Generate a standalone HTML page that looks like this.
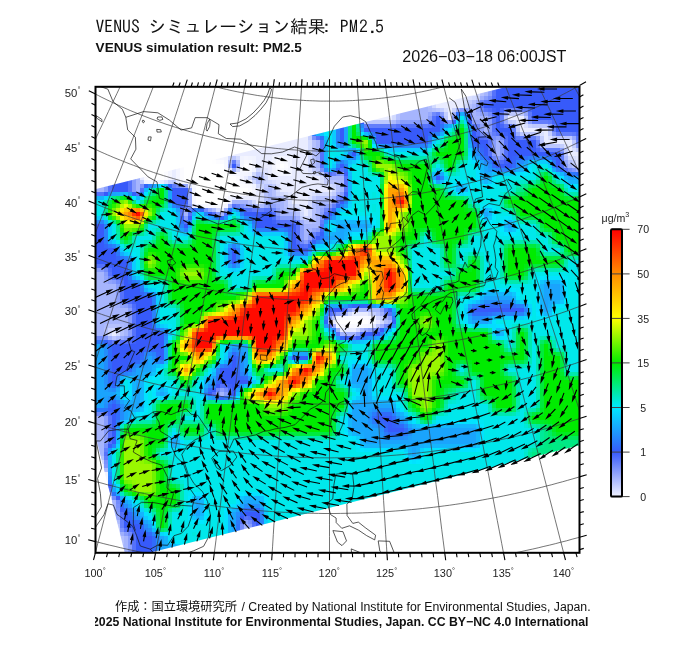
<!DOCTYPE html><html><head><meta charset="utf-8"><style>html,body{margin:0;padding:0;background:#fff}body{width:700px;height:649px;overflow:hidden;position:relative}body>svg{position:absolute;left:0;top:0}</style></head><body>
<svg width="700" height="649" viewBox="0 0 700 649">
<defs><clipPath id="fr"><rect x="95.5" y="86.8" width="484.0" height="466.0"/></clipPath>
<clipPath id="dm"><polygon points="37.4,203.6 700.0,38.8 700.0,415.3 126.2,558.6"/></clipPath></defs>
<g clip-path="url(#fr)"><g clip-path="url(#dm)" shape-rendering="crispEdges"><path fill="#a6b5fd" d="M96 88h8v4h-8zM400 88h28v4h-28zM484 88h4v4h-4zM96 92h8v4h-8zM400 92h28v4h-28zM484 92h4v4h-4zM96 96h8v4h-8zM400 96h28v4h-28zM96 100h8v4h-8zM400 100h28v4h-28zM96 104h8v4h-8zM400 104h28v4h-28zM472 104h4v4h-4zM96 108h8v4h-8zM400 108h28v4h-28zM472 108h4v4h-4zM96 112h8v4h-8zM400 112h28v4h-28zM472 112h4v4h-4zM96 116h8v4h-8zM400 116h28v4h-28zM472 116h16v4h-16zM96 120h8v4h-8zM484 120h4v4h-4zM96 124h8v4h-8zM484 124h4v4h-4zM96 128h8v4h-8zM484 128h4v4h-4zM96 132h8v4h-8zM96 136h8v4h-8zM96 140h8v4h-8zM316 140h4v4h-4zM496 140h4v4h-4zM96 144h8v4h-8zM316 144h4v4h-4zM496 144h4v4h-4zM96 148h8v4h-8zM316 148h4v4h-4zM496 148h4v4h-4zM96 152h8v4h-8zM316 152h4v4h-4zM496 152h4v4h-4zM96 156h8v4h-8zM316 156h4v4h-4zM96 160h8v4h-8zM316 160h4v4h-4zM96 164h8v4h-8zM136 164h4v4h-4zM316 164h4v4h-4zM568 164h4v4h-4zM96 168h8v4h-8zM136 168h4v4h-4zM96 172h8v4h-8zM136 172h4v4h-4zM96 176h8v4h-8zM136 176h4v4h-4zM256 176h4v4h-4zM328 176h16v4h-16zM96 180h8v4h-8zM136 180h4v4h-4zM340 180h4v4h-4zM96 184h8v4h-8zM136 184h4v4h-4zM340 184h4v4h-4zM96 188h8v4h-8zM136 188h4v4h-4zM268 188h4v4h-4zM340 188h4v4h-4zM268 192h4v4h-4zM268 196h4v4h-4zM232 200h16v4h-16zM268 200h16v4h-16zM316 200h16v4h-16zM280 204h4v4h-4zM316 204h4v4h-4zM280 208h4v4h-4zM316 208h4v4h-4zM184 212h4v4h-4zM220 212h4v4h-4zM280 212h16v4h-16zM316 212h4v4h-4zM316 216h4v4h-4zM316 220h4v4h-4zM304 224h16v4h-16zM304 228h4v4h-4zM304 232h4v4h-4zM304 236h4v4h-4zM96 272h8v4h-8zM96 276h8v4h-8zM96 280h8v4h-8zM96 284h20v4h-20zM96 288h20v4h-20zM96 292h20v4h-20zM96 296h20v4h-20zM96 300h20v4h-20zM96 304h20v4h-20zM96 308h32v4h-32zM352 308h28v4h-28zM96 312h32v4h-32zM96 316h32v4h-32zM96 320h32v4h-32zM328 320h4v4h-4zM388 320h4v4h-4zM96 324h8v4h-8zM124 324h4v4h-4zM96 328h8v4h-8zM124 328h4v4h-4zM96 332h8v4h-8zM124 332h4v4h-4zM340 332h16v4h-16zM108 336h4v4h-4zM220 392h4v4h-4zM96 416h8v4h-8zM96 420h8v4h-8zM96 424h8v4h-8zM96 428h8v4h-8zM96 432h8v4h-8zM96 436h8v4h-8zM96 440h8v4h-8zM96 444h8v4h-8zM96 448h8v4h-8zM96 452h8v4h-8zM112 500h4v4h-4zM112 504h4v4h-4zM112 508h4v4h-4zM96 512h20v4h-20zM244 524h4v4h-4zM244 528h4v4h-4zM244 532h4v4h-4zM124 536h4v4h-4zM244 536h4v4h-4zM124 540h4v4h-4zM244 540h4v4h-4zM124 544h4v4h-4zM244 544h4v4h-4zM96 548h32v4h-32zM244 548h4v4h-4zM96 552h32v4h-32zM244 552h4v4h-4z"/>
<path fill="#889dfc" d="M104 88h4v4h-4zM488 88h4v4h-4zM104 92h4v4h-4zM488 92h4v4h-4zM104 96h4v4h-4zM484 96h4v4h-4zM104 100h4v4h-4zM104 104h4v4h-4zM476 104h4v4h-4zM104 108h4v4h-4zM104 112h4v4h-4zM440 112h4v4h-4zM484 112h4v4h-4zM104 116h4v4h-4zM428 116h4v4h-4zM488 116h4v4h-4zM104 120h4v4h-4zM400 120h28v4h-28zM472 120h4v4h-4zM488 120h4v4h-4zM528 120h4v4h-4zM104 124h4v4h-4zM488 124h4v4h-4zM512 124h4v4h-4zM104 128h4v4h-4zM480 128h4v4h-4zM488 128h4v4h-4zM104 132h4v4h-4zM484 132h4v4h-4zM552 132h4v4h-4zM104 136h4v4h-4zM496 136h4v4h-4zM536 136h4v4h-4zM104 140h4v4h-4zM492 140h4v4h-4zM500 140h4v4h-4zM104 144h4v4h-4zM492 144h4v4h-4zM500 144h4v4h-4zM576 144h4v4h-4zM104 148h4v4h-4zM492 148h4v4h-4zM500 148h4v4h-4zM560 148h4v4h-4zM104 152h4v4h-4zM492 152h4v4h-4zM500 152h4v4h-4zM104 156h4v4h-4zM128 156h4v4h-4zM496 156h4v4h-4zM104 160h4v4h-4zM104 164h4v4h-4zM132 164h4v4h-4zM564 164h4v4h-4zM104 168h4v4h-4zM132 168h4v4h-4zM104 172h4v4h-4zM132 172h4v4h-4zM340 172h4v4h-4zM104 176h4v4h-4zM132 176h4v4h-4zM104 180h4v4h-4zM132 180h4v4h-4zM104 184h4v4h-4zM132 184h4v4h-4zM180 184h4v4h-4zM104 188h4v4h-4zM132 188h4v4h-4zM340 192h4v4h-4zM332 200h4v4h-4zM188 204h4v4h-4zM244 204h4v4h-4zM268 204h4v4h-4zM328 204h4v4h-4zM184 208h4v4h-4zM216 212h4v4h-4zM276 212h4v4h-4zM320 212h4v4h-4zM184 216h4v4h-4zM280 216h16v4h-16zM300 224h4v4h-4zM300 228h4v4h-4zM316 228h4v4h-4zM300 232h4v4h-4zM300 236h4v4h-4zM308 236h4v4h-4zM304 240h4v4h-4zM96 268h8v4h-8zM104 272h4v4h-4zM112 280h4v4h-4zM116 284h4v4h-4zM116 288h4v4h-4zM116 292h4v4h-4zM116 296h4v4h-4zM124 304h4v4h-4zM128 308h4v4h-4zM348 308h4v4h-4zM380 308h4v4h-4zM128 312h4v4h-4zM336 312h4v4h-4zM128 316h4v4h-4zM328 316h4v4h-4zM388 316h4v4h-4zM128 320h4v4h-4zM128 324h4v4h-4zM128 328h4v4h-4zM368 328h4v4h-4zM128 332h4v4h-4zM356 332h4v4h-4zM124 336h4v4h-4zM220 388h4v4h-4zM216 392h4v4h-4zM224 392h4v4h-4zM104 416h4v4h-4zM104 420h4v4h-4zM104 424h4v4h-4zM104 428h4v4h-4zM104 432h4v4h-4zM104 436h4v4h-4zM104 440h4v4h-4zM116 512h4v4h-4zM244 520h4v4h-4zM248 524h4v4h-4zM248 528h4v4h-4zM124 532h4v4h-4zM248 532h4v4h-4zM128 536h4v4h-4zM248 536h4v4h-4zM128 540h4v4h-4zM248 540h4v4h-4zM128 544h4v4h-4zM248 544h4v4h-4zM128 548h4v4h-4zM248 548h4v4h-4zM128 552h4v4h-4zM248 552h4v4h-4z"/>
<path fill="#5572fb" d="M108 88h4v4h-4zM492 88h4v4h-4zM108 92h4v4h-4zM492 92h4v4h-4zM108 96h4v4h-4zM108 100h4v4h-4zM484 100h4v4h-4zM108 104h4v4h-4zM480 104h4v4h-4zM108 108h4v4h-4zM484 108h4v4h-4zM108 112h4v4h-4zM108 116h4v4h-4zM432 116h4v4h-4zM468 116h4v4h-4zM492 116h4v4h-4zM108 120h4v4h-4zM492 120h4v4h-4zM108 124h4v4h-4zM396 124h32v4h-32zM472 124h4v4h-4zM492 124h4v4h-4zM108 128h4v4h-4zM476 128h4v4h-4zM492 128h4v4h-4zM108 132h4v4h-4zM496 132h4v4h-4zM108 136h4v4h-4zM316 136h4v4h-4zM484 136h4v4h-4zM108 140h4v4h-4zM320 140h4v4h-4zM488 140h4v4h-4zM504 140h4v4h-4zM108 144h4v4h-4zM320 144h4v4h-4zM488 144h4v4h-4zM504 144h4v4h-4zM108 148h4v4h-4zM320 148h4v4h-4zM488 148h4v4h-4zM504 148h4v4h-4zM108 152h4v4h-4zM320 152h4v4h-4zM488 152h4v4h-4zM504 152h4v4h-4zM108 156h4v4h-4zM320 156h4v4h-4zM108 160h4v4h-4zM320 160h4v4h-4zM496 160h4v4h-4zM560 160h4v4h-4zM108 164h4v4h-4zM128 164h4v4h-4zM320 164h4v4h-4zM560 164h4v4h-4zM108 168h4v4h-4zM128 168h4v4h-4zM340 168h4v4h-4zM564 168h4v4h-4zM108 172h4v4h-4zM128 172h4v4h-4zM328 172h4v4h-4zM108 176h4v4h-4zM128 176h4v4h-4zM344 176h4v4h-4zM108 180h4v4h-4zM128 180h4v4h-4zM344 180h4v4h-4zM108 184h4v4h-4zM128 184h4v4h-4zM344 184h4v4h-4zM108 188h4v4h-4zM128 188h4v4h-4zM140 188h4v4h-4zM344 188h4v4h-4zM96 192h8v4h-8zM136 192h4v4h-4zM340 196h4v4h-4zM336 200h4v4h-4zM184 204h4v4h-4zM232 204h4v4h-4zM244 208h8v4h-8zM264 208h8v4h-8zM328 208h4v4h-4zM180 212h4v4h-4zM188 212h4v4h-4zM212 212h4v4h-4zM224 212h4v4h-4zM272 212h4v4h-4zM324 212h4v4h-4zM184 220h4v4h-4zM280 220h16v4h-16zM296 224h4v4h-4zM320 224h4v4h-4zM296 228h4v4h-4zM296 232h4v4h-4zM316 232h4v4h-4zM296 236h4v4h-4zM312 236h4v4h-4zM304 244h4v4h-4zM96 264h8v4h-8zM108 272h4v4h-4zM112 276h4v4h-4zM120 284h4v4h-4zM120 288h4v4h-4zM120 292h4v4h-4zM120 296h4v4h-4zM124 300h4v4h-4zM132 308h4v4h-4zM344 308h4v4h-4zM384 308h4v4h-4zM132 312h4v4h-4zM328 312h4v4h-4zM388 312h4v4h-4zM132 316h4v4h-4zM132 320h4v4h-4zM132 324h4v4h-4zM328 324h4v4h-4zM388 324h4v4h-4zM132 328h4v4h-4zM132 332h4v4h-4zM336 332h4v4h-4zM360 332h4v4h-4zM352 336h4v4h-4zM120 340h8v4h-8zM220 384h4v4h-4zM212 392h4v4h-4zM228 392h4v4h-4zM108 416h4v4h-4zM108 420h4v4h-4zM108 424h4v4h-4zM108 428h4v4h-4zM108 432h4v4h-4zM108 436h4v4h-4zM108 440h4v4h-4zM104 452h4v4h-4zM108 488h4v4h-4zM120 512h4v4h-4zM120 516h4v4h-4zM244 516h4v4h-4zM252 524h4v4h-4zM124 528h4v4h-4zM252 528h4v4h-4zM252 532h4v4h-4zM132 536h4v4h-4zM252 536h4v4h-4zM132 540h4v4h-4zM252 540h4v4h-4zM132 544h4v4h-4zM252 544h4v4h-4zM132 548h4v4h-4zM252 548h4v4h-4zM132 552h4v4h-4zM252 552h4v4h-4z"/>
<path fill="#375afa" d="M112 88h4v4h-4zM340 88h4v4h-4zM496 88h88v4h-88zM112 92h4v4h-4zM340 92h4v4h-4zM496 92h88v4h-88zM112 96h4v4h-4zM340 96h4v4h-4zM496 96h88v4h-88zM112 100h4v4h-4zM340 100h4v4h-4zM496 100h88v4h-88zM112 104h4v4h-4zM340 104h4v4h-4zM484 104h100v4h-100zM112 108h4v4h-4zM340 108h4v4h-4zM496 108h4v4h-4zM532 108h52v4h-52zM112 112h4v4h-4zM340 112h4v4h-4zM496 112h4v4h-4zM532 112h52v4h-52zM112 116h4v4h-4zM340 116h4v4h-4zM436 116h4v4h-4zM496 116h4v4h-4zM532 116h52v4h-52zM112 120h4v4h-4zM340 120h4v4h-4zM360 120h4v4h-4zM436 120h4v4h-4zM468 120h4v4h-4zM496 120h4v4h-4zM556 120h28v4h-28zM112 124h4v4h-4zM340 124h4v4h-4zM436 124h4v4h-4zM496 124h4v4h-4zM556 124h28v4h-28zM112 128h4v4h-4zM340 128h4v4h-4zM364 128h76v4h-76zM472 128h4v4h-4zM496 128h16v4h-16zM556 128h28v4h-28zM112 132h4v4h-4zM340 132h4v4h-4zM376 132h52v4h-52zM472 132h4v4h-4zM508 132h4v4h-4zM580 132h4v4h-4zM112 136h4v4h-4zM340 136h4v4h-4zM376 136h52v4h-52zM472 136h4v4h-4zM508 136h4v4h-4zM580 136h4v4h-4zM112 140h16v4h-16zM340 140h4v4h-4zM376 140h52v4h-52zM472 140h16v4h-16zM508 140h28v4h-28zM580 140h4v4h-4zM112 144h16v4h-16zM484 144h4v4h-4zM508 144h28v4h-28zM112 148h16v4h-16zM484 148h4v4h-4zM508 148h28v4h-28zM112 152h16v4h-16zM352 152h4v4h-4zM484 152h4v4h-4zM508 152h52v4h-52zM112 156h16v4h-16zM488 156h4v4h-4zM508 156h4v4h-4zM556 156h4v4h-4zM112 160h16v4h-16zM492 160h4v4h-4zM508 160h4v4h-4zM556 160h4v4h-4zM112 164h16v4h-16zM232 164h4v4h-4zM340 164h4v4h-4zM496 164h16v4h-16zM556 164h4v4h-4zM112 168h16v4h-16zM112 172h16v4h-16zM112 176h16v4h-16zM436 176h4v4h-4zM112 180h16v4h-16zM112 184h16v4h-16zM112 188h16v4h-16zM172 188h16v4h-16zM104 192h4v4h-4zM172 192h16v4h-16zM172 196h16v4h-16zM172 200h16v4h-16zM340 200h4v4h-4zM208 212h4v4h-4zM244 212h28v4h-28zM328 212h4v4h-4zM188 216h4v4h-4zM256 216h16v4h-16zM256 220h16v4h-16zM96 224h8v4h-8zM184 224h4v4h-4zM256 224h40v4h-40zM96 228h8v4h-8zM292 228h4v4h-4zM96 232h8v4h-8zM292 232h4v4h-4zM96 236h8v4h-8zM292 236h4v4h-4zM316 236h4v4h-4zM96 240h8v4h-8zM292 240h4v4h-4zM96 244h8v4h-8zM292 244h4v4h-4zM96 248h20v4h-20zM232 248h4v4h-4zM292 248h16v4h-16zM96 252h20v4h-20zM232 252h4v4h-4zM96 256h20v4h-20zM232 256h4v4h-4zM96 260h32v4h-32zM232 260h4v4h-4zM112 264h16v4h-16zM112 268h16v4h-16zM112 272h16v4h-16zM124 276h4v4h-4zM124 280h4v4h-4zM124 284h16v4h-16zM124 288h16v4h-16zM124 292h16v4h-16zM124 296h28v4h-28zM136 300h16v4h-16zM136 304h16v4h-16zM136 308h16v4h-16zM328 308h16v4h-16zM388 308h4v4h-4zM472 308h52v4h-52zM136 312h16v4h-16zM136 316h16v4h-16zM136 320h16v4h-16zM136 324h16v4h-16zM136 328h16v4h-16zM380 328h4v4h-4zM136 332h28v4h-28zM364 332h16v4h-16zM136 336h28v4h-28zM344 336h4v4h-4zM136 340h28v4h-28zM112 344h52v4h-52zM112 348h28v4h-28zM160 348h4v4h-4zM112 352h28v4h-28zM160 352h4v4h-4zM112 356h28v4h-28zM160 356h4v4h-4zM232 356h4v4h-4zM292 356h16v4h-16zM112 360h16v4h-16zM232 360h4v4h-4zM112 364h16v4h-16zM232 364h4v4h-4zM112 368h16v4h-16zM220 368h16v4h-16zM112 372h4v4h-4zM220 372h16v4h-16zM112 376h4v4h-4zM220 376h16v4h-16zM112 380h4v4h-4zM220 380h28v4h-28zM216 384h4v4h-4zM232 384h4v4h-4zM212 388h4v4h-4zM232 388h4v4h-4zM208 392h4v4h-4zM232 392h4v4h-4zM112 404h4v4h-4zM112 408h4v4h-4zM112 412h4v4h-4zM112 416h4v4h-4zM376 416h16v4h-16zM112 420h4v4h-4zM388 420h4v4h-4zM112 424h4v4h-4zM388 424h4v4h-4zM112 428h4v4h-4zM388 428h16v4h-16zM112 432h4v4h-4zM112 436h4v4h-4zM112 440h4v4h-4zM116 496h4v4h-4zM124 512h4v4h-4zM244 512h16v4h-16zM124 516h4v4h-4zM240 516h4v4h-4zM256 516h4v4h-4zM124 520h4v4h-4zM256 520h4v4h-4zM124 524h16v4h-16zM256 524h4v4h-4zM136 528h4v4h-4zM256 528h4v4h-4zM136 532h4v4h-4zM256 532h4v4h-4zM136 536h16v4h-16zM256 536h16v4h-16zM136 540h16v4h-16zM256 540h16v4h-16zM136 544h16v4h-16zM256 544h16v4h-16zM136 548h16v4h-16zM256 548h28v4h-28zM136 552h16v4h-16zM256 552h28v4h-28z"/>
<path fill="#97a9fd" d="M116 88h4v4h-4zM116 92h4v4h-4zM116 96h4v4h-4zM116 100h4v4h-4zM116 104h4v4h-4zM116 108h4v4h-4zM116 112h4v4h-4zM428 112h4v4h-4zM504 112h4v4h-4zM524 112h4v4h-4zM116 116h4v4h-4zM116 120h4v4h-4zM396 120h4v4h-4zM504 120h4v4h-4zM116 124h4v4h-4zM548 124h4v4h-4zM116 128h4v4h-4zM308 132h4v4h-4zM516 132h4v4h-4zM124 136h4v4h-4zM572 136h4v4h-4zM128 140h4v4h-4zM128 144h4v4h-4zM540 144h4v4h-4zM128 148h4v4h-4zM128 152h4v4h-4zM564 160h4v4h-4zM228 164h4v4h-4zM236 164h4v4h-4zM232 168h4v4h-4zM576 168h4v4h-4zM184 184h4v4h-4zM188 188h4v4h-4zM188 192h4v4h-4zM188 196h4v4h-4zM188 200h4v4h-4zM248 204h4v4h-4zM264 204h4v4h-4zM208 208h4v4h-4zM340 312h4v4h-4zM364 328h4v4h-4zM120 336h4v4h-4zM116 516h4v4h-4z"/>
<path fill="#f7f8ff" d="M120 88h4v4h-4zM120 92h4v4h-4zM120 96h4v4h-4zM120 100h4v4h-4zM120 104h4v4h-4zM120 108h4v4h-4zM192 108h4v4h-4zM120 112h4v4h-4zM120 116h4v4h-4zM120 120h4v4h-4zM120 124h4v4h-4zM168 124h4v4h-4zM176 124h4v4h-4zM120 128h4v4h-4zM124 132h4v4h-4zM204 132h4v4h-4zM132 140h4v4h-4zM132 144h4v4h-4zM132 148h4v4h-4zM132 152h4v4h-4zM216 156h4v4h-4zM224 164h4v4h-4zM240 164h4v4h-4zM232 172h4v4h-4zM184 180h4v4h-4zM240 180h4v4h-4zM192 188h4v4h-4zM192 192h4v4h-4zM248 192h4v4h-4zM192 196h4v4h-4zM192 200h4v4h-4zM208 204h4v4h-4zM340 316h4v4h-4zM368 316h4v4h-4zM364 324h4v4h-4zM104 492h4v4h-4z"/>
<path fill="#ffffff" d="M124 88h64v4h-64zM124 92h64v4h-64zM124 96h64v4h-64zM124 100h64v4h-64zM124 104h64v4h-64zM124 108h64v4h-64zM124 112h64v4h-64zM124 116h76v4h-76zM124 120h40v4h-40zM184 120h16v4h-16zM124 124h40v4h-40zM184 124h16v4h-16zM124 128h40v4h-40zM184 128h16v4h-16zM136 132h28v4h-28zM184 132h16v4h-16zM136 136h28v4h-28zM184 136h16v4h-16zM136 140h28v4h-28zM184 140h28v4h-28zM136 144h28v4h-28zM184 144h28v4h-28zM136 148h28v4h-28zM184 148h28v4h-28zM136 152h28v4h-28zM184 152h28v4h-28zM148 156h16v4h-16zM184 156h28v4h-28zM148 160h16v4h-16zM184 160h28v4h-28zM148 164h16v4h-16zM184 164h40v4h-40zM244 164h4v4h-4zM280 164h4v4h-4zM148 168h16v4h-16zM184 168h40v4h-40zM148 172h16v4h-16zM184 172h40v4h-40zM148 176h16v4h-16zM184 176h52v4h-52zM196 180h40v4h-40zM196 184h40v4h-40zM196 188h52v4h-52zM196 192h28v4h-28zM196 196h28v4h-28zM196 200h28v4h-28zM340 320h28v4h-28zM96 476h8v4h-8zM96 480h8v4h-8zM96 484h8v4h-8zM96 488h8v4h-8zM96 492h8v4h-8zM96 496h8v4h-8zM96 500h8v4h-8z"/>
<path fill="#fbfbff" d="M188 88h4v4h-4zM188 92h4v4h-4zM188 96h4v4h-4zM188 100h4v4h-4zM188 104h4v4h-4zM196 112h4v4h-4zM200 116h4v4h-4zM172 120h4v4h-4zM200 120h4v4h-4zM200 124h4v4h-4zM164 128h4v4h-4zM180 128h4v4h-4zM200 128h4v4h-4zM164 132h4v4h-4zM180 132h4v4h-4zM164 136h4v4h-4zM180 136h4v4h-4zM208 136h4v4h-4zM164 140h4v4h-4zM180 140h4v4h-4zM212 140h4v4h-4zM164 144h4v4h-4zM180 144h4v4h-4zM212 144h4v4h-4zM164 148h4v4h-4zM180 148h4v4h-4zM212 148h4v4h-4zM164 152h4v4h-4zM180 152h4v4h-4zM212 152h4v4h-4zM140 156h4v4h-4zM164 156h4v4h-4zM180 156h4v4h-4zM144 160h4v4h-4zM164 160h4v4h-4zM180 160h4v4h-4zM220 160h4v4h-4zM244 160h4v4h-4zM280 160h4v4h-4zM164 164h4v4h-4zM180 164h4v4h-4zM248 164h4v4h-4zM276 164h4v4h-4zM284 164h4v4h-4zM164 168h4v4h-4zM180 168h4v4h-4zM244 168h4v4h-4zM280 168h4v4h-4zM164 172h4v4h-4zM180 172h4v4h-4zM164 176h4v4h-4zM180 176h4v4h-4zM236 176h4v4h-4zM244 184h4v4h-4zM248 188h4v4h-4zM228 192h4v4h-4zM224 196h4v4h-4zM368 320h4v4h-4zM96 472h8v4h-8z"/>
<path fill="#f4f5ff" d="M192 88h4v4h-4zM192 92h4v4h-4zM192 96h4v4h-4zM192 100h4v4h-4zM192 104h4v4h-4zM196 108h4v4h-4zM204 116h4v4h-4zM204 120h4v4h-4zM172 124h4v4h-4zM204 124h4v4h-4zM168 128h4v4h-4zM176 128h4v4h-4zM204 128h4v4h-4zM168 132h4v4h-4zM176 132h4v4h-4zM208 132h4v4h-4zM168 136h4v4h-4zM176 136h4v4h-4zM168 140h4v4h-4zM176 140h4v4h-4zM216 140h4v4h-4zM168 144h4v4h-4zM176 144h4v4h-4zM216 144h4v4h-4zM168 148h4v4h-4zM176 148h4v4h-4zM216 148h4v4h-4zM168 152h4v4h-4zM176 152h4v4h-4zM216 152h4v4h-4zM168 156h4v4h-4zM176 156h4v4h-4zM220 156h4v4h-4zM244 156h4v4h-4zM280 156h4v4h-4zM140 160h4v4h-4zM168 160h4v4h-4zM176 160h4v4h-4zM168 164h4v4h-4zM176 164h4v4h-4zM252 164h4v4h-4zM272 164h4v4h-4zM288 164h4v4h-4zM168 168h4v4h-4zM176 168h4v4h-4zM168 172h4v4h-4zM176 172h4v4h-4zM244 172h4v4h-4zM280 172h4v4h-4zM168 176h4v4h-4zM176 176h4v4h-4zM240 176h4v4h-4zM244 180h4v4h-4zM252 188h4v4h-4zM228 196h4v4h-4zM224 204h4v4h-4zM372 320h4v4h-4zM336 324h4v4h-4zM96 468h8v4h-8zM104 480h4v4h-4z"/>
<path fill="#e9ecff" d="M196 88h100v4h-100zM352 88h40v4h-40zM436 88h40v4h-40zM196 92h100v4h-100zM352 92h40v4h-40zM436 92h40v4h-40zM196 96h100v4h-100zM364 96h28v4h-28zM436 96h28v4h-28zM196 100h100v4h-100zM364 100h28v4h-28zM436 100h28v4h-28zM196 104h100v4h-100zM364 104h28v4h-28zM436 104h28v4h-28zM208 108h88v4h-88zM364 108h28v4h-28zM448 108h4v4h-4zM208 112h88v4h-88zM364 112h28v4h-28zM448 112h4v4h-4zM208 116h100v4h-100zM364 116h28v4h-28zM448 116h4v4h-4zM508 116h16v4h-16zM208 120h100v4h-100zM520 120h4v4h-4zM208 124h100v4h-100zM520 124h4v4h-4zM172 128h4v4h-4zM208 128h100v4h-100zM520 128h28v4h-28zM172 132h4v4h-4zM220 132h88v4h-88zM544 132h4v4h-4zM172 136h4v4h-4zM220 136h88v4h-88zM544 136h4v4h-4zM172 140h4v4h-4zM220 140h88v4h-88zM544 140h28v4h-28zM172 144h4v4h-4zM220 144h88v4h-88zM568 144h4v4h-4zM172 148h4v4h-4zM220 148h88v4h-88zM568 148h4v4h-4zM172 152h4v4h-4zM220 152h88v4h-88zM568 152h16v4h-16zM172 156h4v4h-4zM256 156h16v4h-16zM292 156h16v4h-16zM580 156h4v4h-4zM136 160h4v4h-4zM172 160h4v4h-4zM256 160h16v4h-16zM292 160h16v4h-16zM580 160h4v4h-4zM140 164h4v4h-4zM172 164h4v4h-4zM256 164h16v4h-16zM292 164h16v4h-16zM580 164h4v4h-4zM140 168h4v4h-4zM172 168h4v4h-4zM268 168h4v4h-4zM292 168h16v4h-16zM140 172h4v4h-4zM172 172h4v4h-4zM268 172h4v4h-4zM292 172h16v4h-16zM140 176h4v4h-4zM172 176h4v4h-4zM244 176h4v4h-4zM268 176h52v4h-52zM160 180h4v4h-4zM280 180h40v4h-40zM280 184h40v4h-40zM256 188h4v4h-4zM280 188h52v4h-52zM256 192h4v4h-4zM292 192h16v4h-16zM232 196h28v4h-28zM292 196h16v4h-16zM228 200h4v4h-4zM256 200h4v4h-4zM292 200h16v4h-16zM304 204h4v4h-4zM220 208h4v4h-4zM304 208h4v4h-4zM304 212h4v4h-4zM352 312h16v4h-16zM332 320h4v4h-4zM376 320h4v4h-4zM340 328h16v4h-16zM112 332h4v4h-4zM96 464h8v4h-8zM108 500h4v4h-4zM96 508h8v4h-8zM96 524h20v4h-20zM96 528h20v4h-20zM96 532h20v4h-20zM96 536h20v4h-20z"/>
<path fill="#8197fc" d="M296 88h4v4h-4zM296 92h4v4h-4zM296 96h4v4h-4zM356 96h4v4h-4zM296 100h4v4h-4zM360 100h4v4h-4zM296 104h4v4h-4zM460 108h4v4h-4zM304 112h4v4h-4zM308 116h4v4h-4zM452 116h4v4h-4zM308 120h4v4h-4zM448 120h4v4h-4zM308 124h4v4h-4zM308 128h4v4h-4zM116 132h4v4h-4zM120 136h4v4h-4zM572 168h4v4h-4zM104 336h4v4h-4zM104 464h4v4h-4zM116 508h4v4h-4z"/>
<path fill="#18aafd" d="M300 88h4v4h-4zM300 92h4v4h-4zM300 96h4v4h-4zM300 100h4v4h-4zM300 104h4v4h-4zM304 108h4v4h-4zM460 112h4v4h-4zM312 116h4v4h-4zM456 116h4v4h-4zM312 120h4v4h-4zM312 124h4v4h-4zM448 124h4v4h-4zM312 128h4v4h-4zM440 132h4v4h-4zM428 144h4v4h-4zM516 168h4v4h-4zM552 168h4v4h-4zM440 172h4v4h-4zM116 192h4v4h-4zM336 208h4v4h-4zM240 216h4v4h-4zM344 228h4v4h-4zM336 232h4v4h-4zM324 240h4v4h-4zM116 244h4v4h-4zM312 244h4v4h-4zM140 280h4v4h-4zM548 300h4v4h-4zM376 304h4v4h-4zM468 316h4v4h-4zM228 348h4v4h-4zM140 372h4v4h-4zM204 384h4v4h-4zM360 384h4v4h-4zM116 388h4v4h-4zM132 400h4v4h-4zM360 400h4v4h-4zM368 400h4v4h-4zM128 408h4v4h-4zM116 432h4v4h-4zM360 432h4v4h-4zM408 444h4v4h-4zM416 444h4v4h-4zM108 464h4v4h-4zM116 492h4v4h-4zM120 496h4v4h-4zM260 504h4v4h-4zM164 544h4v4h-4z"/>
<path fill="#00e8eb" d="M304 88h28v4h-28zM304 92h28v4h-28zM304 96h28v4h-28zM304 100h28v4h-28zM304 104h28v4h-28zM316 108h16v4h-16zM316 112h8v4h-8zM328 112h4v4h-4zM316 116h16v4h-16zM460 116h4v4h-4zM316 120h16v4h-16zM316 124h16v4h-16zM316 128h16v4h-16zM448 128h4v4h-4zM328 132h4v4h-4zM444 132h4v4h-4zM328 136h4v4h-4zM440 136h4v4h-4zM328 140h4v4h-4zM436 140h4v4h-4zM328 144h4v4h-4zM432 144h4v4h-4zM328 148h4v4h-4zM428 148h4v4h-4zM328 152h16v4h-16zM388 152h40v4h-40zM328 156h4v4h-4zM328 160h4v4h-4zM328 164h4v4h-4zM352 164h16v4h-16zM436 164h4v4h-4zM460 164h16v4h-16zM532 164h16v4h-16zM352 168h16v4h-16zM440 168h4v4h-4zM460 168h16v4h-16zM532 168h4v4h-4zM548 168h4v4h-4zM352 172h16v4h-16zM444 172h4v4h-4zM460 172h16v4h-16zM532 172h4v4h-4zM552 172h4v4h-4zM352 176h28v4h-28zM448 176h28v4h-28zM496 176h40v4h-40zM556 176h4v4h-4zM352 180h28v4h-28zM448 180h4v4h-4zM472 180h4v4h-4zM496 180h16v4h-16zM352 184h28v4h-28zM448 184h4v4h-4zM472 184h4v4h-4zM496 184h16v4h-16zM148 188h4v4h-4zM352 188h28v4h-28zM448 188h4v4h-4zM472 188h40v4h-40zM568 188h16v4h-16zM352 192h8v4h-8zM364 192h8v4h-8zM376 192h4v4h-4zM472 192h8v4h-8zM484 192h16v4h-16zM352 196h8v4h-8zM364 196h8v4h-8zM376 196h4v4h-4zM472 196h8v4h-8zM484 196h16v4h-16zM96 200h8v4h-8zM136 200h4v4h-4zM352 200h28v4h-28zM472 200h28v4h-28zM96 204h8v4h-8zM352 204h8v4h-8zM364 204h8v4h-8zM376 204h4v4h-4zM496 204h4v4h-4zM96 208h8v4h-8zM352 208h8v4h-8zM364 208h8v4h-8zM376 208h4v4h-4zM496 208h4v4h-4zM96 212h8v4h-8zM160 212h16v4h-16zM196 212h4v4h-4zM232 212h4v4h-4zM340 212h40v4h-40zM496 212h16v4h-16zM160 216h16v4h-16zM236 216h4v4h-4zM376 216h4v4h-4zM496 216h4v4h-4zM160 220h16v4h-16zM240 220h4v4h-4zM376 220h4v4h-4zM496 220h4v4h-4zM112 224h4v4h-4zM148 224h28v4h-28zM244 224h4v4h-4zM328 224h4v4h-4zM376 224h4v4h-4zM484 224h16v4h-16zM520 224h16v4h-16zM112 228h4v4h-4zM148 228h4v4h-4zM172 228h4v4h-4zM244 228h4v4h-4zM484 228h16v4h-16zM520 228h16v4h-16zM112 232h4v4h-4zM148 232h4v4h-4zM172 232h4v4h-4zM244 232h4v4h-4zM484 232h16v4h-16zM520 232h16v4h-16zM112 236h4v4h-4zM136 236h16v4h-16zM172 236h16v4h-16zM220 236h64v4h-64zM352 236h16v4h-16zM424 236h4v4h-4zM472 236h76v4h-76zM116 240h4v4h-4zM136 240h4v4h-4zM220 240h4v4h-4zM244 240h40v4h-40zM424 240h4v4h-4zM472 240h8v4h-8zM484 240h16v4h-16zM544 240h4v4h-4zM120 244h4v4h-4zM136 244h4v4h-4zM220 244h4v4h-4zM244 244h40v4h-40zM424 244h4v4h-4zM472 244h8v4h-8zM484 244h16v4h-16zM544 244h4v4h-4zM124 248h16v4h-16zM220 248h4v4h-4zM244 248h40v4h-40zM316 248h16v4h-16zM412 248h28v4h-28zM460 248h40v4h-40zM544 248h16v4h-16zM136 252h4v4h-4zM220 252h4v4h-4zM244 252h40v4h-40zM412 252h8v4h-8zM424 252h8v4h-8zM436 252h4v4h-4zM460 252h4v4h-4zM484 252h16v4h-16zM136 256h4v4h-4zM220 256h4v4h-4zM244 256h40v4h-40zM412 256h8v4h-8zM424 256h8v4h-8zM436 256h4v4h-4zM460 256h4v4h-4zM484 256h16v4h-16zM136 260h4v4h-4zM220 260h4v4h-4zM244 260h64v4h-64zM412 260h28v4h-28zM460 260h4v4h-4zM484 260h16v4h-16zM568 260h16v4h-16zM136 264h4v4h-4zM220 264h4v4h-4zM244 264h28v4h-28zM412 264h8v4h-8zM424 264h8v4h-8zM436 264h4v4h-4zM484 264h16v4h-16zM568 264h16v4h-16zM136 268h4v4h-4zM220 268h4v4h-4zM244 268h28v4h-28zM412 268h8v4h-8zM424 268h8v4h-8zM436 268h4v4h-4zM484 268h16v4h-16zM568 268h16v4h-16zM136 272h4v4h-4zM220 272h52v4h-52zM412 272h40v4h-40zM484 272h16v4h-16zM532 272h52v4h-52zM140 276h4v4h-4zM232 276h16v4h-16zM412 276h8v4h-8zM424 276h8v4h-8zM436 276h4v4h-4zM484 276h16v4h-16zM532 276h4v4h-4zM568 276h16v4h-16zM144 280h4v4h-4zM232 280h16v4h-16zM412 280h8v4h-8zM424 280h8v4h-8zM436 280h4v4h-4zM484 280h16v4h-16zM532 280h4v4h-4zM568 280h16v4h-16zM148 284h16v4h-16zM232 284h16v4h-16zM412 284h28v4h-28zM484 284h52v4h-52zM568 284h16v4h-16zM160 288h4v4h-4zM520 288h16v4h-16zM568 288h16v4h-16zM160 292h4v4h-4zM520 292h16v4h-16zM568 292h16v4h-16zM160 296h4v4h-4zM460 296h16v4h-16zM520 296h16v4h-16zM568 296h16v4h-16zM160 300h4v4h-4zM460 300h4v4h-4zM532 300h4v4h-4zM568 300h16v4h-16zM160 304h4v4h-4zM460 304h4v4h-4zM532 304h4v4h-4zM568 304h16v4h-16zM160 308h16v4h-16zM460 308h4v4h-4zM532 308h4v4h-4zM556 308h28v4h-28zM160 312h16v4h-16zM460 312h4v4h-4zM532 312h4v4h-4zM556 312h28v4h-28zM160 316h16v4h-16zM460 316h4v4h-4zM532 316h4v4h-4zM556 316h28v4h-28zM160 320h16v4h-16zM460 320h4v4h-4zM496 320h88v4h-88zM172 324h4v4h-4zM508 324h4v4h-4zM532 324h52v4h-52zM172 328h4v4h-4zM508 328h4v4h-4zM532 328h52v4h-52zM172 332h4v4h-4zM328 332h4v4h-4zM388 332h4v4h-4zM508 332h4v4h-4zM532 332h52v4h-52zM508 336h4v4h-4zM532 336h4v4h-4zM556 336h28v4h-28zM508 340h4v4h-4zM532 340h4v4h-4zM556 340h28v4h-28zM220 344h4v4h-4zM352 344h16v4h-16zM508 344h4v4h-4zM532 344h4v4h-4zM556 344h28v4h-28zM220 348h4v4h-4zM352 348h16v4h-16zM532 348h4v4h-4zM568 348h16v4h-16zM220 352h4v4h-4zM352 352h16v4h-16zM532 352h4v4h-4zM568 352h16v4h-16zM220 356h4v4h-4zM340 356h28v4h-28zM532 356h4v4h-4zM568 356h16v4h-16zM532 360h4v4h-4zM568 360h16v4h-16zM532 364h4v4h-4zM568 364h16v4h-16zM160 368h4v4h-4zM208 368h4v4h-4zM268 368h16v4h-16zM376 368h16v4h-16zM460 368h4v4h-4zM508 368h28v4h-28zM568 368h16v4h-16zM160 372h4v4h-4zM376 372h16v4h-16zM520 372h16v4h-16zM160 376h4v4h-4zM376 376h16v4h-16zM520 376h16v4h-16zM124 380h4v4h-4zM148 380h28v4h-28zM196 380h4v4h-4zM256 380h4v4h-4zM340 380h4v4h-4zM376 380h16v4h-16zM472 380h4v4h-4zM520 380h16v4h-16zM124 384h4v4h-4zM148 384h4v4h-4zM172 384h4v4h-4zM196 384h4v4h-4zM376 384h16v4h-16zM472 384h4v4h-4zM520 384h16v4h-16zM124 388h4v4h-4zM148 388h4v4h-4zM172 388h4v4h-4zM196 388h4v4h-4zM376 388h16v4h-16zM472 388h4v4h-4zM520 388h16v4h-16zM124 392h4v4h-4zM148 392h4v4h-4zM172 392h28v4h-28zM352 392h4v4h-4zM376 392h28v4h-28zM460 392h16v4h-16zM520 392h16v4h-16zM148 396h4v4h-4zM196 396h4v4h-4zM400 396h4v4h-4zM460 396h16v4h-16zM520 396h16v4h-16zM148 400h4v4h-4zM196 400h4v4h-4zM400 400h4v4h-4zM460 400h16v4h-16zM520 400h16v4h-16zM148 404h4v4h-4zM196 404h4v4h-4zM400 404h4v4h-4zM448 404h40v4h-40zM520 404h16v4h-16zM148 408h4v4h-4zM196 408h4v4h-4zM448 408h40v4h-40zM520 408h4v4h-4zM148 412h4v4h-4zM196 412h4v4h-4zM448 412h40v4h-40zM520 412h4v4h-4zM136 416h16v4h-16zM184 416h16v4h-16zM340 416h4v4h-4zM412 416h4v4h-4zM436 416h88v4h-88zM340 420h4v4h-4zM484 420h40v4h-40zM340 424h4v4h-4zM484 424h40v4h-40zM172 428h4v4h-4zM208 428h4v4h-4zM340 428h4v4h-4zM484 428h52v4h-52zM208 432h4v4h-4zM340 432h4v4h-4zM484 432h52v4h-52zM208 436h4v4h-4zM340 436h4v4h-4zM484 436h52v4h-52zM184 440h172v4h-172zM484 440h52v4h-52zM184 444h172v4h-172zM484 444h40v4h-40zM184 448h172v4h-172zM484 448h40v4h-40zM112 452h4v4h-4zM160 452h244v4h-244zM424 452h100v4h-100zM112 456h4v4h-4zM172 456h232v4h-232zM424 456h100v4h-100zM112 460h4v4h-4zM172 460h232v4h-232zM424 460h100v4h-100zM112 464h4v4h-4zM172 464h352v4h-352zM112 468h4v4h-4zM172 468h352v4h-352zM112 472h4v4h-4zM172 472h352v4h-352zM112 476h4v4h-4zM172 476h352v4h-352zM184 480h340v4h-340zM184 484h8v4h-8zM196 484h328v4h-328zM184 488h340v4h-340zM184 492h4v4h-4zM208 492h28v4h-28zM268 492h256v4h-256zM184 496h4v4h-4zM208 496h28v4h-28zM268 496h256v4h-256zM136 500h4v4h-4zM184 500h4v4h-4zM208 500h28v4h-28zM268 500h256v4h-256zM184 504h4v4h-4zM208 504h16v4h-16zM268 504h256v4h-256zM184 508h4v4h-4zM208 508h16v4h-16zM268 508h256v4h-256zM148 512h4v4h-4zM172 512h16v4h-16zM208 512h16v4h-16zM268 512h256v4h-256zM172 516h16v4h-16zM208 516h16v4h-16zM268 516h256v4h-256zM172 520h8v4h-8zM184 520h4v4h-4zM208 520h16v4h-16zM268 520h256v4h-256zM172 524h52v4h-52zM268 524h256v4h-256zM172 528h52v4h-52zM280 528h244v4h-244zM172 532h8v4h-8zM184 532h8v4h-8zM196 532h28v4h-28zM280 532h244v4h-244zM172 536h52v4h-52zM280 536h244v4h-244zM184 540h40v4h-40zM292 540h232v4h-232zM184 544h8v4h-8zM196 544h28v4h-28zM292 544h232v4h-232zM184 548h40v4h-40zM292 548h232v4h-232zM184 552h40v4h-40zM292 552h232v4h-232z"/>
<path fill="#0bccfe" d="M332 88h4v4h-4zM332 92h4v4h-4zM332 96h4v4h-4zM332 100h4v4h-4zM332 104h4v4h-4zM332 108h4v4h-4zM332 112h4v4h-4zM332 116h4v4h-4zM332 120h4v4h-4zM332 124h4v4h-4zM332 128h4v4h-4zM444 128h4v4h-4zM332 132h4v4h-4zM332 136h4v4h-4zM436 136h4v4h-4zM332 140h4v4h-4zM432 140h4v4h-4zM340 148h4v4h-4zM388 148h40v4h-40zM468 148h4v4h-4zM344 152h4v4h-4zM340 156h4v4h-4zM352 160h4v4h-4zM476 160h4v4h-4zM532 160h16v4h-16zM332 164h4v4h-4zM348 164h4v4h-4zM548 164h4v4h-4zM436 168h4v4h-4zM496 172h16v4h-16zM556 172h4v4h-4zM444 176h4v4h-4zM156 184h4v4h-4zM348 200h4v4h-4zM172 208h4v4h-4zM340 208h4v4h-4zM200 212h4v4h-4zM236 212h4v4h-4zM336 212h4v4h-4zM96 216h8v4h-8zM244 220h4v4h-4zM328 220h4v4h-4zM108 224h4v4h-4zM176 224h4v4h-4zM248 224h4v4h-4zM108 228h4v4h-4zM108 232h4v4h-4zM184 232h4v4h-4zM256 232h28v4h-28zM108 236h4v4h-4zM284 236h4v4h-4zM112 240h4v4h-4zM232 240h4v4h-4zM284 240h4v4h-4zM284 244h4v4h-4zM316 244h4v4h-4zM120 248h4v4h-4zM224 248h4v4h-4zM240 248h4v4h-4zM284 248h4v4h-4zM312 248h4v4h-4zM124 252h4v4h-4zM224 252h4v4h-4zM240 252h4v4h-4zM224 256h4v4h-4zM240 256h4v4h-4zM292 256h16v4h-16zM132 260h4v4h-4zM224 260h4v4h-4zM240 260h4v4h-4zM132 264h4v4h-4zM132 268h4v4h-4zM232 268h4v4h-4zM132 272h4v4h-4zM136 276h4v4h-4zM144 284h4v4h-4zM148 288h4v4h-4zM156 296h4v4h-4zM156 300h4v4h-4zM472 300h4v4h-4zM520 300h4v4h-4zM156 304h4v4h-4zM156 308h4v4h-4zM464 308h4v4h-4zM528 308h4v4h-4zM156 312h4v4h-4zM156 316h4v4h-4zM496 316h28v4h-28zM156 320h4v4h-4zM160 324h4v4h-4zM168 332h4v4h-4zM384 332h4v4h-4zM364 340h4v4h-4zM224 356h4v4h-4zM220 360h4v4h-4zM160 364h4v4h-4zM212 368h4v4h-4zM124 376h4v4h-4zM120 380h4v4h-4zM252 380h4v4h-4zM200 392h4v4h-4zM120 396h4v4h-4zM396 408h4v4h-4zM408 420h4v4h-4zM112 448h4v4h-4zM132 504h4v4h-4zM236 504h4v4h-4zM264 512h4v4h-4zM144 516h4v4h-4zM264 516h4v4h-4zM264 520h4v4h-4zM264 524h4v4h-4zM268 528h4v4h-4zM276 536h4v4h-4zM280 540h4v4h-4zM288 548h4v4h-4zM288 552h4v4h-4z"/>
<path fill="#2882fb" d="M336 88h4v4h-4zM336 92h4v4h-4zM336 96h4v4h-4zM336 100h4v4h-4zM336 104h4v4h-4zM336 108h4v4h-4zM336 112h4v4h-4zM464 112h4v4h-4zM336 116h4v4h-4zM336 120h4v4h-4zM336 124h4v4h-4zM336 128h4v4h-4zM440 128h4v4h-4zM336 132h4v4h-4zM436 132h4v4h-4zM336 136h4v4h-4zM336 140h4v4h-4zM428 140h4v4h-4zM340 144h4v4h-4zM388 144h40v4h-40zM476 148h4v4h-4zM348 152h4v4h-4zM352 156h4v4h-4zM480 156h4v4h-4zM532 156h16v4h-16zM340 160h4v4h-4zM516 160h4v4h-4zM336 164h4v4h-4zM344 164h4v4h-4zM552 164h4v4h-4zM496 168h16v4h-16zM556 168h4v4h-4zM436 172h4v4h-4zM440 176h4v4h-4zM148 184h4v4h-4zM344 200h4v4h-4zM172 204h4v4h-4zM340 204h4v4h-4zM196 208h4v4h-4zM204 212h4v4h-4zM240 212h4v4h-4zM332 212h4v4h-4zM244 216h4v4h-4zM328 216h4v4h-4zM96 220h8v4h-8zM104 224h4v4h-4zM180 224h4v4h-4zM252 224h4v4h-4zM104 228h4v4h-4zM184 228h4v4h-4zM256 228h28v4h-28zM104 232h4v4h-4zM104 236h4v4h-4zM288 236h4v4h-4zM288 240h4v4h-4zM316 240h4v4h-4zM112 244h4v4h-4zM232 244h4v4h-4zM288 244h4v4h-4zM116 248h4v4h-4zM228 248h4v4h-4zM236 248h4v4h-4zM288 248h4v4h-4zM308 248h4v4h-4zM228 252h4v4h-4zM236 252h4v4h-4zM292 252h16v4h-16zM124 256h4v4h-4zM228 256h4v4h-4zM236 256h4v4h-4zM128 260h4v4h-4zM228 260h4v4h-4zM236 260h4v4h-4zM128 264h4v4h-4zM232 264h4v4h-4zM128 268h4v4h-4zM128 272h4v4h-4zM136 280h4v4h-4zM140 284h4v4h-4zM148 292h4v4h-4zM152 296h4v4h-4zM152 300h4v4h-4zM152 304h4v4h-4zM472 304h4v4h-4zM520 304h4v4h-4zM152 308h4v4h-4zM468 308h4v4h-4zM524 308h4v4h-4zM152 312h4v4h-4zM496 312h28v4h-28zM152 316h4v4h-4zM152 320h4v4h-4zM160 328h4v4h-4zM164 332h4v4h-4zM380 332h4v4h-4zM364 336h4v4h-4zM144 352h4v4h-4zM152 352h4v4h-4zM228 356h4v4h-4zM160 360h4v4h-4zM132 364h4v4h-4zM220 364h4v4h-4zM216 368h4v4h-4zM124 372h4v4h-4zM240 372h4v4h-4zM116 380h4v4h-4zM248 380h4v4h-4zM204 392h4v4h-4zM116 400h4v4h-4zM392 412h4v4h-4zM396 420h4v4h-4zM380 424h4v4h-4zM404 424h4v4h-4zM112 444h4v4h-4zM108 476h4v4h-4zM128 508h4v4h-4zM240 508h4v4h-4zM260 512h4v4h-4zM132 516h4v4h-4zM260 516h4v4h-4zM140 520h4v4h-4zM260 520h4v4h-4zM260 524h4v4h-4zM144 528h4v4h-4zM268 532h4v4h-4zM272 536h4v4h-4zM280 544h4v4h-4zM284 548h4v4h-4zM284 552h4v4h-4z"/>
<path fill="#637efb" d="M344 88h4v4h-4zM344 92h4v4h-4zM508 108h16v4h-16zM436 112h4v4h-4zM440 116h4v4h-4zM500 116h4v4h-4zM528 116h4v4h-4zM532 120h16v4h-16zM364 124h32v4h-32zM508 124h4v4h-4zM512 128h4v4h-4zM552 128h4v4h-4zM492 132h4v4h-4zM556 132h16v4h-16zM488 136h4v4h-4zM520 136h16v4h-16zM536 140h4v4h-4zM576 140h4v4h-4zM580 144h4v4h-4zM544 148h16v4h-16zM560 152h4v4h-4zM560 156h4v4h-4zM128 160h4v4h-4zM232 160h4v4h-4zM332 172h4v4h-4zM172 184h4v4h-4zM236 204h4v4h-4zM332 204h4v4h-4zM188 208h4v4h-4zM252 208h12v4h-12zM320 220h4v4h-4zM308 240h4v4h-4zM332 312h4v4h-4zM376 328h4v4h-4zM112 340h8v4h-8zM104 412h4v4h-4zM104 448h4v4h-4zM104 456h4v4h-4zM120 520h4v4h-4zM120 524h4v4h-4z"/>
<path fill="#bcc7fe" d="M348 88h4v4h-4zM348 92h4v4h-4zM436 108h4v4h-4zM508 112h16v4h-16zM444 116h4v4h-4zM504 116h4v4h-4zM524 116h4v4h-4zM364 120h28v4h-28zM508 120h4v4h-4zM532 124h16v4h-16zM516 128h4v4h-4zM548 128h4v4h-4zM520 132h16v4h-16zM556 136h16v4h-16zM540 140h4v4h-4zM572 140h4v4h-4zM544 144h16v4h-16zM580 148h4v4h-4zM564 152h4v4h-4zM232 156h4v4h-4zM132 160h4v4h-4zM172 180h4v4h-4zM260 180h4v4h-4zM264 184h4v4h-4zM256 204h4v4h-4zM332 316h4v4h-4zM376 324h4v4h-4zM112 336h4v4h-4zM116 524h4v4h-4z"/>
<path fill="#d2dafe" d="M392 88h4v4h-4zM432 88h4v4h-4zM476 88h4v4h-4zM392 92h4v4h-4zM432 92h4v4h-4zM476 92h4v4h-4zM392 96h4v4h-4zM432 96h4v4h-4zM472 96h4v4h-4zM392 100h4v4h-4zM432 100h4v4h-4zM392 104h4v4h-4zM432 104h4v4h-4zM464 104h4v4h-4zM392 108h4v4h-4zM392 112h4v4h-4zM392 116h4v4h-4zM308 140h4v4h-4zM308 144h4v4h-4zM308 148h4v4h-4zM308 152h4v4h-4zM228 156h4v4h-4zM236 156h4v4h-4zM308 156h4v4h-4zM568 156h4v4h-4zM308 160h4v4h-4zM308 164h4v4h-4zM576 164h4v4h-4zM236 168h4v4h-4zM256 168h4v4h-4zM252 172h4v4h-4zM316 172h4v4h-4zM248 176h4v4h-4zM264 176h4v4h-4zM320 176h4v4h-4zM252 180h4v4h-4zM268 180h4v4h-4zM256 184h4v4h-4zM328 184h4v4h-4zM260 188h4v4h-4zM276 188h4v4h-4zM332 188h4v4h-4zM260 192h4v4h-4zM280 192h4v4h-4zM316 192h16v4h-16zM260 196h4v4h-4zM252 200h4v4h-4zM260 200h4v4h-4zM288 200h4v4h-4zM308 200h4v4h-4zM292 204h4v4h-4zM308 204h4v4h-4zM216 208h4v4h-4zM308 208h4v4h-4zM300 212h4v4h-4zM308 212h4v4h-4zM304 216h4v4h-4zM348 312h4v4h-4zM376 316h4v4h-4zM380 320h4v4h-4zM112 328h4v4h-4zM356 328h4v4h-4zM108 332h4v4h-4zM116 332h4v4h-4zM96 460h8v4h-8zM96 520h20v4h-20zM116 536h4v4h-4zM96 540h20v4h-20z"/>
<path fill="#b5c1fd" d="M396 88h4v4h-4zM428 88h4v4h-4zM480 88h4v4h-4zM396 92h4v4h-4zM428 92h4v4h-4zM480 92h4v4h-4zM396 96h4v4h-4zM428 96h4v4h-4zM396 100h4v4h-4zM428 100h4v4h-4zM472 100h4v4h-4zM396 104h4v4h-4zM428 104h4v4h-4zM468 104h4v4h-4zM396 108h4v4h-4zM432 108h4v4h-4zM396 112h4v4h-4zM396 116h4v4h-4zM312 140h4v4h-4zM312 144h4v4h-4zM312 148h4v4h-4zM312 152h4v4h-4zM312 156h4v4h-4zM312 160h4v4h-4zM568 160h4v4h-4zM312 164h4v4h-4zM572 164h4v4h-4zM316 168h4v4h-4zM256 172h4v4h-4zM320 172h4v4h-4zM252 176h4v4h-4zM260 176h4v4h-4zM324 176h4v4h-4zM256 180h4v4h-4zM328 180h8v4h-8zM268 184h4v4h-4zM336 184h4v4h-4zM264 188h4v4h-4zM272 188h4v4h-4zM336 188h4v4h-4zM264 192h4v4h-4zM272 192h4v4h-4zM264 196h4v4h-4zM276 196h8v4h-8zM316 196h16v4h-16zM248 200h4v4h-4zM264 200h4v4h-4zM284 200h4v4h-4zM312 200h4v4h-4zM284 204h4v4h-4zM312 204h4v4h-4zM288 208h8v4h-8zM312 208h4v4h-4zM296 212h4v4h-4zM312 212h4v4h-4zM312 216h4v4h-4zM304 220h8v4h-8zM376 312h4v4h-4zM384 320h4v4h-4zM108 324h12v4h-12zM104 328h4v4h-4zM120 328h4v4h-4zM104 332h4v4h-4zM120 332h4v4h-4zM96 456h8v4h-8zM108 508h4v4h-4zM96 516h20v4h-20zM120 536h4v4h-4zM120 540h4v4h-4zM96 544h24v4h-24z"/>
<path fill="#3e60fa" d="M344 96h4v4h-4zM492 100h4v4h-4zM492 108h4v4h-4zM308 112h4v4h-4zM432 124h4v4h-4zM504 132h4v4h-4zM476 136h4v4h-4zM504 160h4v4h-4zM344 172h4v4h-4zM344 192h4v4h-4zM180 204h4v4h-4zM180 216h4v4h-4zM272 220h4v4h-4zM296 244h4v4h-4zM108 264h4v4h-4zM120 276h4v4h-4zM132 300h4v4h-4zM356 336h4v4h-4zM132 340h4v4h-4zM228 384h4v4h-4zM108 484h4v4h-4zM120 508h4v4h-4zM252 516h4v4h-4zM132 528h4v4h-4z"/>
<path fill="#4d6cfb" d="M348 96h4v4h-4zM492 96h4v4h-4zM488 100h4v4h-4zM488 108h4v4h-4zM492 112h4v4h-4zM432 120h4v4h-4zM440 120h4v4h-4zM428 124h4v4h-4zM476 132h4v4h-4zM500 132h4v4h-4zM116 136h4v4h-4zM480 136h4v4h-4zM504 136h4v4h-4zM504 156h4v4h-4zM500 160h4v4h-4zM180 208h4v4h-4zM272 216h4v4h-4zM276 220h4v4h-4zM296 240h4v4h-4zM300 244h4v4h-4zM104 264h4v4h-4zM108 268h4v4h-4zM116 276h4v4h-4zM120 280h4v4h-4zM128 300h4v4h-4zM132 304h4v4h-4zM132 336h4v4h-4zM108 340h4v4h-4zM128 340h4v4h-4zM224 384h4v4h-4zM228 388h4v4h-4zM248 516h4v4h-4zM252 520h4v4h-4zM128 528h4v4h-4zM132 532h4v4h-4z"/>
<path fill="#5c78fb" d="M352 96h4v4h-4zM360 104h4v4h-4zM360 108h4v4h-4zM504 108h4v4h-4zM524 108h4v4h-4zM360 112h4v4h-4zM500 112h4v4h-4zM528 112h4v4h-4zM360 116h4v4h-4zM500 120h4v4h-4zM548 120h4v4h-4zM504 124h4v4h-4zM552 124h4v4h-4zM512 132h4v4h-4zM572 132h4v4h-4zM516 136h4v4h-4zM576 136h4v4h-4zM536 144h4v4h-4zM540 148h4v4h-4zM240 520h4v4h-4z"/>
<path fill="#c4cefe" d="M360 96h4v4h-4zM476 96h4v4h-4zM468 100h4v4h-4zM440 108h4v4h-4zM444 112h4v4h-4zM512 120h4v4h-4zM524 120h4v4h-4zM516 124h4v4h-4zM528 124h4v4h-4zM536 132h4v4h-4zM548 132h4v4h-4zM308 136h4v4h-4zM540 136h4v4h-4zM552 136h4v4h-4zM560 144h4v4h-4zM572 144h4v4h-4zM564 148h4v4h-4zM576 148h4v4h-4zM572 160h4v4h-4zM312 168h4v4h-4zM260 172h4v4h-4zM140 180h4v4h-4zM168 180h4v4h-4zM324 180h4v4h-4zM272 184h4v4h-4zM332 192h4v4h-4zM284 196h4v4h-4zM312 196h4v4h-4zM296 208h4v4h-4zM300 216h4v4h-4zM372 312h4v4h-4zM380 316h4v4h-4zM108 496h4v4h-4zM116 528h4v4h-4z"/>
<path fill="#e1e6ff" d="M464 96h4v4h-4zM128 136h4v4h-4zM576 156h4v4h-4zM228 168h4v4h-4zM264 168h4v4h-4zM308 172h4v4h-4zM176 180h4v4h-4zM276 180h4v4h-4zM188 184h4v4h-4zM320 184h4v4h-4zM288 192h4v4h-4zM308 192h4v4h-4zM192 204h4v4h-4zM300 204h4v4h-4zM372 324h4v4h-4z"/>
<path fill="#dae0fe" d="M468 96h4v4h-4zM464 100h4v4h-4zM444 108h4v4h-4zM516 120h4v4h-4zM524 124h4v4h-4zM540 132h4v4h-4zM548 136h4v4h-4zM564 144h4v4h-4zM572 148h4v4h-4zM572 156h4v4h-4zM576 160h4v4h-4zM260 168h4v4h-4zM308 168h4v4h-4zM264 172h4v4h-4zM312 172h4v4h-4zM164 180h4v4h-4zM272 180h4v4h-4zM320 180h4v4h-4zM276 184h4v4h-4zM324 184h4v4h-4zM284 192h4v4h-4zM312 192h4v4h-4zM288 196h4v4h-4zM308 196h4v4h-4zM296 204h4v4h-4zM300 208h4v4h-4zM368 312h4v4h-4zM108 504h4v4h-4zM104 508h4v4h-4z"/>
<path fill="#9faffd" d="M480 96h4v4h-4zM476 100h4v4h-4zM296 108h4v4h-4zM456 108h4v4h-4zM468 108h4v4h-4zM300 112h4v4h-4zM452 112h4v4h-4zM476 112h4v4h-4zM480 120h4v4h-4zM580 168h4v4h-4zM336 192h4v4h-4zM332 196h4v4h-4zM228 204h4v4h-4zM276 204h4v4h-4zM320 204h4v4h-4zM224 208h4v4h-4zM296 216h4v4h-4zM300 220h4v4h-4zM308 228h4v4h-4zM104 280h4v4h-4zM116 304h4v4h-4zM380 312h4v4h-4zM384 316h4v4h-4zM332 324h4v4h-4zM380 324h4v4h-4zM336 328h4v4h-4zM120 532h4v4h-4z"/>
<path fill="#728bfc" d="M488 96h4v4h-4zM432 112h4v4h-4zM488 112h4v4h-4zM428 120h4v4h-4zM444 120h4v4h-4zM480 132h4v4h-4zM500 136h4v4h-4zM500 156h4v4h-4zM568 168h4v4h-4zM176 184h4v4h-4zM204 208h4v4h-4zM276 216h4v4h-4zM300 240h4v4h-4zM104 268h4v4h-4zM116 280h4v4h-4zM128 304h4v4h-4zM384 324h4v4h-4zM372 328h4v4h-4zM96 336h8v4h-8zM128 336h4v4h-4zM224 388h4v4h-4zM96 412h8v4h-8zM112 496h4v4h-4zM116 500h4v4h-4zM248 520h4v4h-4zM240 524h4v4h-4zM240 528h4v4h-4zM128 532h4v4h-4zM240 532h4v4h-4zM240 536h4v4h-4zM240 540h4v4h-4zM240 544h4v4h-4zM240 548h4v4h-4zM240 552h4v4h-4z"/>
<path fill="#2587fc" d="M344 100h4v4h-4zM360 124h4v4h-4zM324 168h4v4h-4zM236 516h4v4h-4zM152 532h4v4h-4z"/>
<path fill="#04ddff" d="M348 100h4v4h-4zM516 172h4v4h-4zM432 180h4v4h-4zM324 244h4v4h-4zM464 316h4v4h-4zM488 324h8v4h-8zM492 328h4v4h-4zM224 348h4v4h-4zM200 384h4v4h-4zM120 388h4v4h-4zM264 504h4v4h-4z"/>
<path fill="#00e9c2" d="M352 100h4v4h-4zM356 104h4v4h-4zM356 108h4v4h-4zM356 112h4v4h-4zM356 116h4v4h-4zM464 160h4v4h-4zM524 180h4v4h-4zM468 196h4v4h-4zM476 204h4v4h-4zM504 340h4v4h-4zM248 360h4v4h-4zM344 360h4v4h-4zM152 400h4v4h-4zM164 448h4v4h-4zM120 492h4v4h-4zM168 528h4v4h-4z"/>
<path fill="#12bbfd" d="M356 100h4v4h-4zM364 132h4v4h-4zM372 140h4v4h-4zM344 156h4v4h-4zM356 156h4v4h-4zM348 160h4v4h-4zM528 160h4v4h-4zM348 172h4v4h-4zM440 180h4v4h-4zM124 192h4v4h-4zM348 192h4v4h-4zM168 204h4v4h-4zM176 216h4v4h-4zM336 220h4v4h-4zM308 252h4v4h-4zM476 300h4v4h-4zM516 300h4v4h-4zM324 308h4v4h-4zM492 316h4v4h-4zM356 340h4v4h-4zM212 372h4v4h-4zM244 384h4v4h-4zM236 392h4v4h-4zM204 396h4v4h-4zM116 440h4v4h-4zM152 528h4v4h-4zM156 532h4v4h-4z"/>
<path fill="#6b85fb" d="M480 100h4v4h-4zM480 108h4v4h-4zM468 112h4v4h-4zM476 124h4v4h-4zM492 156h4v4h-4zM336 196h4v4h-4zM272 208h4v4h-4zM324 208h4v4h-4zM296 220h4v4h-4zM312 232h4v4h-4zM108 276h4v4h-4zM120 300h4v4h-4zM384 312h4v4h-4zM216 388h4v4h-4z"/>
<path fill="#1aa4fd" d="M344 104h4v4h-4zM344 108h4v4h-4zM344 112h4v4h-4zM344 116h4v4h-4zM344 120h4v4h-4zM344 124h4v4h-4zM344 128h4v4h-4zM360 128h4v4h-4zM468 128h4v4h-4zM344 132h4v4h-4zM468 132h4v4h-4zM344 136h4v4h-4zM468 136h4v4h-4zM344 140h4v4h-4zM468 140h4v4h-4zM376 144h4v4h-4zM352 148h4v4h-4zM356 152h4v4h-4zM472 152h4v4h-4zM476 156h4v4h-4zM480 160h4v4h-4zM484 164h4v4h-4zM520 164h4v4h-4zM484 168h4v4h-4zM484 172h4v4h-4zM432 176h4v4h-4zM484 176h4v4h-4zM568 176h16v4h-16zM436 180h4v4h-4zM168 188h4v4h-4zM460 188h4v4h-4zM112 192h4v4h-4zM168 192h4v4h-4zM168 196h4v4h-4zM168 200h4v4h-4zM484 212h4v4h-4zM208 216h4v4h-4zM188 224h4v4h-4zM340 224h28v4h-28zM508 224h4v4h-4zM340 228h4v4h-4zM340 232h4v4h-4zM328 236h16v4h-16zM544 284h16v4h-16zM544 288h16v4h-16zM544 292h16v4h-16zM484 296h28v4h-28zM544 296h16v4h-16zM544 300h4v4h-4zM328 304h16v4h-16zM544 304h4v4h-4zM392 308h4v4h-4zM544 308h4v4h-4zM324 312h4v4h-4zM472 320h16v4h-16zM496 332h4v4h-4zM376 336h4v4h-4zM96 344h8v4h-8zM164 344h4v4h-4zM232 344h16v4h-16zM96 348h8v4h-8zM164 348h4v4h-4zM244 348h4v4h-4zM96 352h8v4h-8zM164 352h4v4h-4zM244 352h4v4h-4zM292 352h16v4h-16zM96 356h8v4h-8zM148 356h4v4h-4zM164 356h4v4h-4zM244 356h4v4h-4zM288 356h4v4h-4zM96 360h8v4h-8zM148 360h4v4h-4zM244 360h4v4h-4zM96 364h8v4h-8zM148 364h4v4h-4zM244 364h4v4h-4zM96 368h8v4h-8zM136 368h16v4h-16zM244 368h4v4h-4zM352 368h16v4h-16zM96 372h8v4h-8zM136 372h4v4h-4zM352 372h16v4h-16zM96 376h8v4h-8zM136 376h4v4h-4zM352 376h16v4h-16zM96 380h8v4h-8zM136 380h4v4h-4zM208 380h4v4h-4zM352 380h16v4h-16zM96 384h8v4h-8zM136 384h4v4h-4zM364 384h4v4h-4zM96 388h8v4h-8zM136 388h4v4h-4zM364 388h4v4h-4zM96 392h20v4h-20zM136 392h4v4h-4zM160 392h4v4h-4zM364 392h4v4h-4zM96 396h8v4h-8zM116 396h4v4h-4zM136 396h4v4h-4zM208 396h4v4h-4zM232 396h4v4h-4zM364 396h4v4h-4zM96 400h8v4h-8zM120 400h4v4h-4zM136 400h4v4h-4zM364 400h4v4h-4zM96 404h8v4h-8zM124 404h16v4h-16zM352 404h40v4h-40zM124 408h4v4h-4zM352 408h16v4h-16zM392 408h4v4h-4zM124 412h4v4h-4zM352 412h16v4h-16zM396 412h4v4h-4zM124 416h4v4h-4zM352 416h16v4h-16zM400 416h4v4h-4zM352 420h16v4h-16zM404 420h4v4h-4zM352 424h16v4h-16zM408 424h4v4h-4zM116 428h4v4h-4zM352 428h28v4h-28zM412 428h64v4h-64zM364 432h16v4h-16zM412 432h64v4h-64zM364 436h16v4h-16zM412 436h64v4h-64zM172 440h4v4h-4zM364 440h112v4h-112zM412 444h4v4h-4zM412 448h4v4h-4zM412 452h4v4h-4zM112 488h4v4h-4zM124 500h4v4h-4zM196 500h4v4h-4zM244 500h16v4h-16zM128 504h4v4h-4zM196 504h4v4h-4zM240 504h4v4h-4zM132 508h4v4h-4zM196 508h4v4h-4zM236 508h4v4h-4zM136 512h4v4h-4zM196 512h4v4h-4zM232 512h4v4h-4zM140 516h4v4h-4zM232 516h4v4h-4zM144 520h4v4h-4zM232 520h4v4h-4zM148 524h4v4h-4zM232 524h4v4h-4zM232 528h4v4h-4zM232 532h4v4h-4zM160 536h4v4h-4zM232 536h4v4h-4zM160 540h4v4h-4zM232 540h4v4h-4zM160 544h4v4h-4zM232 544h4v4h-4zM160 548h16v4h-16zM232 548h4v4h-4zM160 552h16v4h-16zM232 552h4v4h-4z"/>
<path fill="#00e985" d="M348 104h4v4h-4zM348 108h4v4h-4zM348 112h4v4h-4zM348 116h4v4h-4zM348 120h4v4h-4zM348 124h4v4h-4zM348 128h4v4h-4zM356 128h4v4h-4zM464 128h4v4h-4zM348 132h4v4h-4zM464 132h4v4h-4zM348 136h4v4h-4zM464 136h4v4h-4zM348 140h4v4h-4zM464 140h4v4h-4zM352 144h4v4h-4zM376 148h4v4h-4zM360 152h4v4h-4zM388 156h4v4h-4zM464 156h4v4h-4zM368 164h4v4h-4zM376 172h4v4h-4zM428 176h4v4h-4zM436 184h4v4h-4zM524 184h4v4h-4zM164 188h4v4h-4zM520 188h4v4h-4zM164 192h4v4h-4zM112 196h4v4h-4zM144 196h4v4h-4zM164 196h4v4h-4zM464 196h4v4h-4zM132 200h4v4h-4zM164 200h4v4h-4zM476 208h4v4h-4zM104 212h4v4h-4zM156 212h4v4h-4zM112 220h4v4h-4zM148 220h4v4h-4zM208 220h4v4h-4zM116 224h4v4h-4zM144 224h4v4h-4zM192 224h4v4h-4zM376 228h4v4h-4zM136 232h4v4h-4zM368 236h4v4h-4zM140 260h4v4h-4zM408 260h4v4h-4zM244 288h4v4h-4zM328 300h16v4h-16zM396 308h4v4h-4zM320 316h4v4h-4zM176 332h4v4h-4zM328 336h4v4h-4zM376 340h4v4h-4zM500 340h4v4h-4zM168 344h4v4h-4zM168 348h4v4h-4zM292 348h16v4h-16zM168 352h4v4h-4zM168 356h4v4h-4zM216 356h4v4h-4zM284 356h4v4h-4zM208 364h4v4h-4zM344 364h4v4h-4zM268 372h4v4h-4zM260 380h4v4h-4zM404 392h4v4h-4zM448 392h4v4h-4zM156 400h4v4h-4zM208 400h4v4h-4zM232 400h4v4h-4zM120 428h4v4h-4zM544 428h4v4h-4zM544 432h4v4h-4zM544 436h4v4h-4zM544 440h40v4h-40zM164 444h4v4h-4zM544 444h4v4h-4zM552 444h8v4h-8zM564 444h8v4h-8zM576 444h8v4h-8zM540 448h44v4h-44zM116 452h4v4h-4zM532 452h52v4h-52zM116 456h4v4h-4zM532 456h4v4h-4zM540 456h8v4h-8zM552 456h8v4h-8zM564 456h8v4h-8zM576 456h8v4h-8zM116 460h4v4h-4zM532 460h52v4h-52zM116 464h4v4h-4zM532 464h52v4h-52zM116 468h4v4h-4zM532 468h4v4h-4zM540 468h8v4h-8zM552 468h8v4h-8zM564 468h8v4h-8zM576 468h8v4h-8zM116 472h4v4h-4zM532 472h52v4h-52zM116 476h4v4h-4zM532 476h52v4h-52zM532 480h4v4h-4zM544 480h4v4h-4zM556 480h4v4h-4zM568 480h4v4h-4zM580 480h4v4h-4zM532 484h4v4h-4zM540 484h8v4h-8zM552 484h8v4h-8zM564 484h8v4h-8zM576 484h8v4h-8zM532 488h52v4h-52zM532 492h4v4h-4zM544 492h4v4h-4zM556 492h4v4h-4zM568 492h4v4h-4zM580 492h4v4h-4zM136 496h4v4h-4zM532 496h4v4h-4zM540 496h8v4h-8zM552 496h8v4h-8zM564 496h8v4h-8zM576 496h8v4h-8zM532 500h52v4h-52zM532 504h4v4h-4zM544 504h4v4h-4zM556 504h4v4h-4zM568 504h4v4h-4zM580 504h4v4h-4zM532 508h4v4h-4zM540 508h8v4h-8zM552 508h8v4h-8zM564 508h8v4h-8zM576 508h8v4h-8zM532 512h52v4h-52zM532 516h4v4h-4zM544 516h4v4h-4zM556 516h4v4h-4zM568 516h4v4h-4zM580 516h4v4h-4zM532 520h4v4h-4zM540 520h8v4h-8zM552 520h8v4h-8zM564 520h8v4h-8zM576 520h8v4h-8zM532 524h52v4h-52zM164 528h4v4h-4zM532 528h4v4h-4zM544 528h4v4h-4zM556 528h4v4h-4zM568 528h4v4h-4zM580 528h4v4h-4zM532 532h4v4h-4zM540 532h8v4h-8zM552 532h8v4h-8zM564 532h8v4h-8zM576 532h8v4h-8zM532 536h52v4h-52zM532 540h4v4h-4zM544 540h4v4h-4zM556 540h4v4h-4zM568 540h4v4h-4zM580 540h4v4h-4zM532 544h4v4h-4zM540 544h8v4h-8zM552 544h8v4h-8zM564 544h8v4h-8zM576 544h8v4h-8zM532 548h52v4h-52zM532 552h52v4h-52z"/>
<path fill="#00eb00" d="M352 104h4v4h-4zM352 108h4v4h-4zM352 112h4v4h-4zM352 116h4v4h-4zM352 120h4v4h-4zM352 124h4v4h-4zM352 128h4v4h-4zM460 128h4v4h-4zM352 132h4v4h-4zM460 132h4v4h-4zM352 136h8v4h-8zM460 136h4v4h-4zM352 140h4v4h-4zM448 140h16v4h-16zM448 144h16v4h-16zM368 148h4v4h-4zM448 148h16v4h-16zM364 152h16v4h-16zM436 152h28v4h-28zM380 156h4v4h-4zM448 156h4v4h-4zM448 160h4v4h-4zM400 164h28v4h-28zM448 164h4v4h-4zM412 168h16v4h-16zM412 172h16v4h-16zM412 176h16v4h-16zM544 176h4v4h-4zM412 180h16v4h-16zM544 180h4v4h-4zM412 184h16v4h-16zM544 184h4v4h-4zM160 188h4v4h-4zM412 188h28v4h-28zM532 188h28v4h-28zM160 192h4v4h-4zM412 192h28v4h-28zM532 192h28v4h-28zM160 196h4v4h-4zM412 196h28v4h-28zM532 196h28v4h-28zM112 200h4v4h-4zM148 200h16v4h-16zM412 200h52v4h-52zM508 200h76v4h-76zM412 204h52v4h-52zM520 204h64v4h-64zM412 208h52v4h-52zM520 208h64v4h-64zM412 212h64v4h-64zM520 212h64v4h-64zM412 216h64v4h-64zM544 216h40v4h-40zM412 220h64v4h-64zM544 220h40v4h-40zM196 224h40v4h-40zM412 224h64v4h-64zM544 224h40v4h-40zM196 228h16v4h-16zM380 228h4v4h-4zM412 228h4v4h-4zM436 228h28v4h-28zM556 228h28v4h-28zM128 232h4v4h-4zM196 232h16v4h-16zM412 232h4v4h-4zM436 232h28v4h-28zM556 232h28v4h-28zM124 236h4v4h-4zM160 236h4v4h-4zM196 236h16v4h-16zM400 236h16v4h-16zM436 236h28v4h-28zM556 236h28v4h-28zM160 240h4v4h-4zM196 240h16v4h-16zM360 240h4v4h-4zM400 240h4v4h-4zM448 240h4v4h-4zM568 240h16v4h-16zM160 244h4v4h-4zM196 244h16v4h-16zM344 244h4v4h-4zM400 244h4v4h-4zM448 244h4v4h-4zM568 244h16v4h-16zM148 248h64v4h-64zM340 248h4v4h-4zM400 248h4v4h-4zM448 248h4v4h-4zM508 248h28v4h-28zM568 248h16v4h-16zM160 252h52v4h-52zM324 252h4v4h-4zM448 252h4v4h-4zM508 252h28v4h-28zM160 256h52v4h-52zM448 256h4v4h-4zM508 256h28v4h-28zM160 260h52v4h-52zM448 260h4v4h-4zM472 260h4v4h-4zM508 260h52v4h-52zM160 264h16v4h-16zM208 264h4v4h-4zM472 264h4v4h-4zM508 264h16v4h-16zM160 268h16v4h-16zM208 268h4v4h-4zM472 268h4v4h-4zM508 268h16v4h-16zM148 272h28v4h-28zM208 272h4v4h-4zM280 272h16v4h-16zM460 272h16v4h-16zM508 272h16v4h-16zM172 276h4v4h-4zM208 276h4v4h-4zM280 276h4v4h-4zM460 276h16v4h-16zM172 280h4v4h-4zM208 280h4v4h-4zM280 280h4v4h-4zM460 280h16v4h-16zM172 284h52v4h-52zM256 284h28v4h-28zM364 284h4v4h-4zM448 284h28v4h-28zM172 288h52v4h-52zM364 288h4v4h-4zM448 288h4v4h-4zM172 292h52v4h-52zM364 292h4v4h-4zM448 292h4v4h-4zM172 296h64v4h-64zM328 296h40v4h-40zM412 296h40v4h-40zM184 300h28v4h-28zM324 300h4v4h-4zM412 300h40v4h-40zM184 304h28v4h-28zM412 304h40v4h-40zM184 308h28v4h-28zM400 308h52v4h-52zM184 312h16v4h-16zM400 312h16v4h-16zM436 312h16v4h-16zM184 316h16v4h-16zM400 316h16v4h-16zM436 316h16v4h-16zM184 320h16v4h-16zM316 320h4v4h-4zM400 320h16v4h-16zM436 320h16v4h-16zM316 324h4v4h-4zM400 324h16v4h-16zM436 324h16v4h-16zM316 328h4v4h-4zM400 328h16v4h-16zM436 328h16v4h-16zM316 332h4v4h-4zM400 332h88v4h-88zM520 332h4v4h-4zM316 336h4v4h-4zM400 336h28v4h-28zM448 336h40v4h-40zM520 336h4v4h-4zM316 340h4v4h-4zM332 340h4v4h-4zM400 340h28v4h-28zM448 340h40v4h-40zM520 340h4v4h-4zM172 344h4v4h-4zM292 344h28v4h-28zM340 344h4v4h-4zM376 344h52v4h-52zM448 344h52v4h-52zM520 344h4v4h-4zM544 344h4v4h-4zM172 348h4v4h-4zM376 348h40v4h-40zM448 348h52v4h-52zM520 348h4v4h-4zM544 348h4v4h-4zM172 352h4v4h-4zM376 352h40v4h-40zM448 352h52v4h-52zM520 352h4v4h-4zM544 352h4v4h-4zM172 356h16v4h-16zM280 356h4v4h-4zM376 356h40v4h-40zM448 356h76v4h-76zM544 356h16v4h-16zM172 360h4v4h-4zM400 360h4v4h-4zM448 360h4v4h-4zM472 360h28v4h-28zM544 360h16v4h-16zM172 364h4v4h-4zM400 364h4v4h-4zM448 364h4v4h-4zM472 364h28v4h-28zM544 364h16v4h-16zM172 368h4v4h-4zM196 368h4v4h-4zM256 368h4v4h-4zM328 368h16v4h-16zM400 368h4v4h-4zM448 368h4v4h-4zM472 368h28v4h-28zM544 368h16v4h-16zM328 372h4v4h-4zM400 372h4v4h-4zM448 372h4v4h-4zM484 372h16v4h-16zM544 372h16v4h-16zM264 376h4v4h-4zM328 376h4v4h-4zM400 376h4v4h-4zM448 376h4v4h-4zM484 376h16v4h-16zM544 376h16v4h-16zM184 380h4v4h-4zM316 380h16v4h-16zM400 380h4v4h-4zM436 380h28v4h-28zM484 380h28v4h-28zM544 380h40v4h-40zM316 384h16v4h-16zM404 384h4v4h-4zM436 384h4v4h-4zM484 384h28v4h-28zM544 384h40v4h-40zM316 388h16v4h-16zM436 388h4v4h-4zM484 388h28v4h-28zM544 388h40v4h-40zM304 392h40v4h-40zM436 392h4v4h-4zM484 392h28v4h-28zM544 392h40v4h-40zM304 396h40v4h-40zM436 396h4v4h-4zM496 396h16v4h-16zM544 396h40v4h-40zM240 400h4v4h-4zM304 400h40v4h-40zM436 400h4v4h-4zM496 400h16v4h-16zM544 400h40v4h-40zM160 404h28v4h-28zM208 404h52v4h-52zM292 404h52v4h-52zM412 404h4v4h-4zM436 404h4v4h-4zM496 404h16v4h-16zM544 404h40v4h-40zM160 408h16v4h-16zM208 408h52v4h-52zM292 408h40v4h-40zM544 408h40v4h-40zM160 412h16v4h-16zM208 412h52v4h-52zM292 412h40v4h-40zM544 412h40v4h-40zM160 416h16v4h-16zM208 416h124v4h-124zM424 416h4v4h-4zM532 416h52v4h-52zM160 420h4v4h-4zM220 420h112v4h-112zM556 420h28v4h-28zM160 424h4v4h-4zM220 424h112v4h-112zM556 424h28v4h-28zM124 428h40v4h-40zM184 428h16v4h-16zM220 428h112v4h-112zM556 428h28v4h-28zM148 432h16v4h-16zM148 436h16v4h-16zM148 440h16v4h-16zM120 444h4v4h-4zM148 444h4v4h-4zM148 448h4v4h-4zM148 452h4v4h-4zM160 464h4v4h-4zM160 468h4v4h-4zM160 472h4v4h-4zM160 476h4v4h-4zM160 480h4v4h-4zM160 484h4v4h-4zM124 488h4v4h-4zM160 488h16v4h-16zM160 492h16v4h-16zM144 496h4v4h-4zM160 496h16v4h-16zM148 500h28v4h-28zM160 504h4v4h-4zM160 508h4v4h-4zM160 512h4v4h-4zM160 516h4v4h-4zM160 520h4v4h-4zM160 524h4v4h-4z"/>
<path fill="#fcfcff" d="M188 108h4v4h-4zM192 112h4v4h-4zM168 120h4v4h-4zM176 120h4v4h-4zM164 124h4v4h-4zM180 124h4v4h-4zM200 132h4v4h-4zM204 136h4v4h-4zM212 156h4v4h-4zM216 160h4v4h-4zM236 180h4v4h-4zM240 184h4v4h-4z"/>
<path fill="#f2f4ff" d="M200 108h4v4h-4zM204 112h4v4h-4zM212 132h4v4h-4zM216 136h4v4h-4zM248 156h4v4h-4zM276 156h4v4h-4zM284 156h4v4h-4zM252 160h4v4h-4zM272 160h4v4h-4zM288 160h4v4h-4zM272 168h4v4h-4zM288 168h4v4h-4zM276 172h4v4h-4zM284 172h4v4h-4zM152 180h4v4h-4zM252 192h4v4h-4z"/>
<path fill="#f1f3ff" d="M204 108h4v4h-4zM120 132h4v4h-4zM216 132h4v4h-4zM224 156h4v4h-4zM240 156h4v4h-4zM252 156h4v4h-4zM272 156h4v4h-4zM288 156h4v4h-4zM252 168h4v4h-4zM248 172h4v4h-4zM272 172h4v4h-4zM288 172h4v4h-4zM144 180h4v4h-4zM156 180h4v4h-4zM248 180h4v4h-4zM252 184h4v4h-4zM372 316h4v4h-4z"/>
<path fill="#2e71fb" d="M300 108h4v4h-4zM456 112h4v4h-4zM440 124h4v4h-4zM372 132h4v4h-4zM320 136h4v4h-4zM524 156h4v4h-4zM344 168h4v4h-4zM576 172h4v4h-4zM344 196h4v4h-4zM176 204h4v4h-4zM180 220h4v4h-4zM480 304h4v4h-4zM512 304h4v4h-4zM488 312h4v4h-4zM360 336h4v4h-4zM216 376h4v4h-4zM236 384h4v4h-4zM104 408h4v4h-4z"/>
<path fill="#0fc0fe" d="M308 108h4v4h-4zM312 112h4v4h-4zM344 148h4v4h-4zM432 172h4v4h-4zM492 172h4v4h-4zM204 216h4v4h-4zM188 228h4v4h-4zM332 240h4v4h-4zM380 336h4v4h-4zM164 360h4v4h-4zM156 364h4v4h-4zM248 372h4v4h-4zM128 376h4v4h-4zM348 376h4v4h-4zM348 412h4v4h-4zM416 424h4v4h-4zM432 424h4v4h-4z"/>
<path fill="#02e2ff" d="M312 108h4v4h-4zM356 148h4v4h-4zM468 156h4v4h-4zM356 160h4v4h-4zM472 160h4v4h-4zM476 164h4v4h-4zM528 164h4v4h-4zM476 168h4v4h-4zM476 172h4v4h-4zM520 172h4v4h-4zM476 176h4v4h-4zM492 176h4v4h-4zM560 176h4v4h-4zM444 180h4v4h-4zM460 180h4v4h-4zM160 184h4v4h-4zM484 184h4v4h-4zM568 184h16v4h-16zM452 188h4v4h-4zM468 188h4v4h-4zM144 192h4v4h-4zM464 192h4v4h-4zM140 196h4v4h-4zM484 204h4v4h-4zM168 208h4v4h-4zM480 208h4v4h-4zM492 212h4v4h-4zM340 216h28v4h-28zM508 216h4v4h-4zM484 220h4v4h-4zM332 224h4v4h-4zM372 224h4v4h-4zM500 224h4v4h-4zM516 224h4v4h-4zM328 228h4v4h-4zM352 232h16v4h-16zM508 232h4v4h-4zM348 236h4v4h-4zM328 244h4v4h-4zM544 276h16v4h-16zM536 284h4v4h-4zM564 284h4v4h-4zM484 288h28v4h-28zM536 288h4v4h-4zM564 288h4v4h-4zM536 292h4v4h-4zM564 292h4v4h-4zM476 296h4v4h-4zM516 296h4v4h-4zM536 296h4v4h-4zM564 296h4v4h-4zM536 300h4v4h-4zM536 304h4v4h-4zM556 304h4v4h-4zM536 308h4v4h-4zM552 308h4v4h-4zM544 316h4v4h-4zM464 320h4v4h-4zM492 320h4v4h-4zM496 324h4v4h-4zM504 332h4v4h-4zM500 336h4v4h-4zM224 344h4v4h-4zM352 360h16v4h-16zM348 364h4v4h-4zM156 368h4v4h-4zM372 368h4v4h-4zM208 372h4v4h-4zM372 372h4v4h-4zM148 376h4v4h-4zM372 376h4v4h-4zM128 380h4v4h-4zM144 380h4v4h-4zM200 380h4v4h-4zM344 380h4v4h-4zM372 380h4v4h-4zM128 384h4v4h-4zM144 384h4v4h-4zM160 384h4v4h-4zM248 384h4v4h-4zM372 384h4v4h-4zM128 388h4v4h-4zM144 388h4v4h-4zM352 388h4v4h-4zM372 388h4v4h-4zM120 392h4v4h-4zM128 392h4v4h-4zM144 392h4v4h-4zM152 392h4v4h-4zM168 392h4v4h-4zM356 392h4v4h-4zM372 392h4v4h-4zM124 396h4v4h-4zM144 396h4v4h-4zM156 396h4v4h-4zM200 396h4v4h-4zM352 396h4v4h-4zM376 396h16v4h-16zM144 400h4v4h-4zM144 404h4v4h-4zM396 404h4v4h-4zM400 408h4v4h-4zM136 412h4v4h-4zM132 416h4v4h-4zM344 416h4v4h-4zM408 416h4v4h-4zM344 420h4v4h-4zM412 420h4v4h-4zM436 420h40v4h-40zM344 424h4v4h-4zM344 428h4v4h-4zM480 428h4v4h-4zM172 432h4v4h-4zM480 432h4v4h-4zM352 436h4v4h-4zM480 436h4v4h-4zM180 440h4v4h-4zM356 440h4v4h-4zM480 440h4v4h-4zM168 444h4v4h-4zM172 448h4v4h-4zM364 448h40v4h-40zM424 448h52v4h-52zM404 452h4v4h-4zM420 452h4v4h-4zM412 460h4v4h-4zM112 480h4v4h-4zM196 492h4v4h-4zM244 492h16v4h-16zM132 500h4v4h-4zM188 500h4v4h-4zM204 500h4v4h-4zM236 500h4v4h-4zM264 500h4v4h-4zM136 504h4v4h-4zM188 504h4v4h-4zM204 504h4v4h-4zM232 504h4v4h-4zM188 508h4v4h-4zM204 508h4v4h-4zM144 512h4v4h-4zM188 512h4v4h-4zM204 512h4v4h-4zM224 512h4v4h-4zM148 516h4v4h-4zM224 516h4v4h-4zM196 520h4v4h-4zM224 520h4v4h-4zM224 524h4v4h-4zM224 528h4v4h-4zM164 532h4v4h-4zM224 532h4v4h-4zM168 536h4v4h-4zM224 536h4v4h-4zM172 540h4v4h-4zM224 540h4v4h-4zM224 544h4v4h-4zM180 548h4v4h-4zM224 548h4v4h-4zM180 552h4v4h-4zM224 552h4v4h-4z"/>
<path fill="#adbbfd" d="M428 108h4v4h-4zM392 120h4v4h-4zM564 156h4v4h-4zM228 160h4v4h-4zM236 160h4v4h-4zM336 180h4v4h-4zM272 196h4v4h-4zM252 204h4v4h-4zM260 204h4v4h-4zM212 208h4v4h-4zM284 208h4v4h-4zM312 220h4v4h-4zM344 312h4v4h-4zM104 324h4v4h-4zM120 324h4v4h-4zM360 328h4v4h-4zM116 336h4v4h-4zM104 468h4v4h-4zM116 520h4v4h-4zM120 544h4v4h-4z"/>
<path fill="#cbd4fe" d="M452 108h4v4h-4zM296 112h4v4h-4zM264 180h4v4h-4zM260 184h4v4h-4zM332 184h4v4h-4zM276 192h4v4h-4zM288 204h4v4h-4zM308 216h4v4h-4zM108 328h4v4h-4zM116 328h4v4h-4zM116 532h4v4h-4zM116 540h4v4h-4z"/>
<path fill="#90a3fc" d="M464 108h4v4h-4zM476 108h4v4h-4zM480 112h4v4h-4zM476 120h4v4h-4zM480 124h4v4h-4zM272 204h4v4h-4zM324 204h4v4h-4zM276 208h4v4h-4zM320 208h4v4h-4zM312 228h4v4h-4zM308 232h4v4h-4zM104 276h4v4h-4zM108 280h4v4h-4zM116 300h4v4h-4zM120 304h4v4h-4z"/>
<path fill="#4666fa" d="M500 108h4v4h-4zM528 108h4v4h-4zM552 120h4v4h-4zM500 124h4v4h-4zM576 132h4v4h-4zM512 136h4v4h-4zM536 148h4v4h-4zM320 228h4v4h-4zM348 336h4v4h-4zM108 412h4v4h-4z"/>
<path fill="#fefeff" d="M188 112h4v4h-4zM164 120h4v4h-4zM180 120h4v4h-4zM200 136h4v4h-4zM144 156h4v4h-4zM212 160h4v4h-4zM236 184h4v4h-4zM224 192h4v4h-4z"/>
<path fill="#f8f9ff" d="M200 112h4v4h-4zM212 136h4v4h-4zM248 160h4v4h-4zM276 160h4v4h-4zM284 160h4v4h-4zM248 168h4v4h-4zM276 168h4v4h-4zM284 168h4v4h-4zM248 184h4v4h-4zM212 204h4v4h-4zM344 316h4v4h-4zM360 324h4v4h-4zM104 496h4v4h-4z"/>
<path fill="#00e8e0" d="M324 112h4v4h-4zM432 168h4v4h-4zM512 180h4v4h-4zM360 192h4v4h-4zM372 192h4v4h-4zM480 192h4v4h-4zM360 196h4v4h-4zM372 196h4v4h-4zM480 196h4v4h-4zM360 204h4v4h-4zM372 204h4v4h-4zM360 208h4v4h-4zM372 208h4v4h-4zM200 216h4v4h-4zM188 232h4v4h-4zM344 240h4v4h-4zM480 240h4v4h-4zM332 244h4v4h-4zM480 244h4v4h-4zM420 252h4v4h-4zM432 252h4v4h-4zM420 256h4v4h-4zM432 256h4v4h-4zM420 264h4v4h-4zM432 264h4v4h-4zM420 268h4v4h-4zM432 268h4v4h-4zM420 276h4v4h-4zM432 276h4v4h-4zM420 280h4v4h-4zM432 280h4v4h-4zM324 304h4v4h-4zM332 336h4v4h-4zM384 336h4v4h-4zM164 364h4v4h-4zM344 376h4v4h-4zM456 400h4v4h-4zM344 412h4v4h-4zM416 420h4v4h-4zM432 420h4v4h-4zM524 444h4v4h-4zM192 484h4v4h-4zM180 520h4v4h-4zM180 532h4v4h-4zM192 532h4v4h-4zM192 544h4v4h-4z"/>
<path fill="#14b5fd" d="M464 116h4v4h-4zM316 132h4v4h-4zM324 140h4v4h-4zM324 144h4v4h-4zM324 148h4v4h-4zM324 152h4v4h-4zM324 156h4v4h-4zM472 156h4v4h-4zM324 160h4v4h-4zM324 164h4v4h-4zM480 164h4v4h-4zM524 164h4v4h-4zM328 168h4v4h-4zM480 168h4v4h-4zM520 168h4v4h-4zM480 172h4v4h-4zM560 172h4v4h-4zM348 176h4v4h-4zM480 176h4v4h-4zM488 176h4v4h-4zM564 176h4v4h-4zM348 180h4v4h-4zM484 180h4v4h-4zM568 180h16v4h-16zM164 184h4v4h-4zM348 184h4v4h-4zM460 184h4v4h-4zM144 188h4v4h-4zM348 188h4v4h-4zM456 188h4v4h-4zM464 188h4v4h-4zM120 192h4v4h-4zM96 196h8v4h-8zM136 196h4v4h-4zM232 208h4v4h-4zM484 208h4v4h-4zM176 212h4v4h-4zM192 212h4v4h-4zM228 212h4v4h-4zM488 212h4v4h-4zM484 216h4v4h-4zM340 220h28v4h-28zM508 220h4v4h-4zM324 224h4v4h-4zM336 224h4v4h-4zM368 224h4v4h-4zM504 224h4v4h-4zM512 224h4v4h-4zM352 228h16v4h-16zM508 228h4v4h-4zM328 232h4v4h-4zM344 236h4v4h-4zM328 240h4v4h-4zM544 280h16v4h-16zM540 284h4v4h-4zM560 284h4v4h-4zM540 288h4v4h-4zM560 288h4v4h-4zM484 292h28v4h-28zM540 292h4v4h-4zM560 292h4v4h-4zM480 296h4v4h-4zM512 296h4v4h-4zM540 296h4v4h-4zM560 296h4v4h-4zM540 300h4v4h-4zM556 300h4v4h-4zM380 304h4v4h-4zM540 304h4v4h-4zM540 308h4v4h-4zM548 308h4v4h-4zM544 312h4v4h-4zM468 320h4v4h-4zM488 320h4v4h-4zM328 328h4v4h-4zM388 328h4v4h-4zM496 328h4v4h-4zM332 332h4v4h-4zM500 332h4v4h-4zM352 340h4v4h-4zM228 344h4v4h-4zM352 364h16v4h-16zM152 368h4v4h-4zM368 368h4v4h-4zM148 372h4v4h-4zM368 372h4v4h-4zM208 376h4v4h-4zM368 376h4v4h-4zM132 380h4v4h-4zM140 380h4v4h-4zM204 380h4v4h-4zM348 380h4v4h-4zM368 380h4v4h-4zM132 384h4v4h-4zM140 384h4v4h-4zM352 384h4v4h-4zM368 384h4v4h-4zM132 388h4v4h-4zM140 388h4v4h-4zM160 388h4v4h-4zM368 388h4v4h-4zM116 392h4v4h-4zM132 392h4v4h-4zM140 392h4v4h-4zM156 392h4v4h-4zM164 392h4v4h-4zM360 392h4v4h-4zM368 392h4v4h-4zM140 396h4v4h-4zM124 400h4v4h-4zM140 400h4v4h-4zM352 400h4v4h-4zM376 400h16v4h-16zM140 404h4v4h-4zM392 404h4v4h-4zM136 408h4v4h-4zM400 412h4v4h-4zM128 416h4v4h-4zM348 416h4v4h-4zM404 416h4v4h-4zM120 420h4v4h-4zM348 420h4v4h-4zM348 424h4v4h-4zM412 424h4v4h-4zM436 424h40v4h-40zM348 428h4v4h-4zM476 428h4v4h-4zM352 432h4v4h-4zM476 432h4v4h-4zM116 436h4v4h-4zM172 436h4v4h-4zM476 436h4v4h-4zM176 440h4v4h-4zM360 440h4v4h-4zM476 440h4v4h-4zM172 444h4v4h-4zM364 444h40v4h-40zM424 444h52v4h-52zM108 452h4v4h-4zM408 452h4v4h-4zM416 452h4v4h-4zM108 456h4v4h-4zM412 456h4v4h-4zM112 484h4v4h-4zM196 496h4v4h-4zM244 496h16v4h-16zM128 500h4v4h-4zM192 500h4v4h-4zM200 500h4v4h-4zM240 500h4v4h-4zM260 500h4v4h-4zM192 504h4v4h-4zM200 504h4v4h-4zM136 508h4v4h-4zM192 508h4v4h-4zM200 508h4v4h-4zM232 508h4v4h-4zM140 512h4v4h-4zM192 512h4v4h-4zM200 512h4v4h-4zM228 512h4v4h-4zM196 516h4v4h-4zM228 516h4v4h-4zM148 520h4v4h-4zM228 520h4v4h-4zM228 524h4v4h-4zM228 528h4v4h-4zM228 532h4v4h-4zM164 536h4v4h-4zM228 536h4v4h-4zM228 540h4v4h-4zM172 544h4v4h-4zM228 544h4v4h-4zM176 548h4v4h-4zM228 548h4v4h-4zM176 552h4v4h-4zM228 552h4v4h-4z"/>
<path fill="#00e9b8" d="M356 120h4v4h-4zM464 124h4v4h-4zM456 168h4v4h-4zM540 168h4v4h-4zM452 172h4v4h-4zM536 172h4v4h-4zM528 180h4v4h-4zM504 192h4v4h-4zM108 196h4v4h-4zM500 196h4v4h-4zM500 204h4v4h-4zM504 208h4v4h-4zM192 220h4v4h-4zM156 228h4v4h-4zM164 228h4v4h-4zM240 228h4v4h-4zM372 228h4v4h-4zM480 228h4v4h-4zM536 228h4v4h-4zM152 232h4v4h-4zM168 232h4v4h-4zM236 232h4v4h-4zM368 232h4v4h-4zM476 232h4v4h-4zM540 232h4v4h-4zM132 240h4v4h-4zM144 240h4v4h-4zM420 240h4v4h-4zM428 240h4v4h-4zM468 240h4v4h-4zM504 240h4v4h-4zM536 240h4v4h-4zM548 240h4v4h-4zM128 244h4v4h-4zM140 244h4v4h-4zM416 244h4v4h-4zM432 244h4v4h-4zM464 244h4v4h-4zM500 244h4v4h-4zM540 244h4v4h-4zM552 244h4v4h-4zM468 252h4v4h-4zM476 252h4v4h-4zM464 256h4v4h-4zM480 256h4v4h-4zM276 264h4v4h-4zM440 264h4v4h-4zM564 264h4v4h-4zM272 268h4v4h-4zM444 268h4v4h-4zM560 268h4v4h-4zM224 276h4v4h-4zM252 276h4v4h-4zM444 276h4v4h-4zM500 276h4v4h-4zM528 276h4v4h-4zM228 280h4v4h-4zM248 280h4v4h-4zM440 280h4v4h-4zM504 280h4v4h-4zM524 280h4v4h-4zM164 300h4v4h-4zM168 304h4v4h-4zM392 304h4v4h-4zM516 324h4v4h-4zM524 324h4v4h-4zM512 328h4v4h-4zM528 328h4v4h-4zM540 336h4v4h-4zM548 336h4v4h-4zM536 340h4v4h-4zM552 340h4v4h-4zM348 348h4v4h-4zM560 348h4v4h-4zM344 352h4v4h-4zM564 352h4v4h-4zM308 356h4v4h-4zM304 360h4v4h-4zM528 360h4v4h-4zM524 364h4v4h-4zM164 372h4v4h-4zM512 372h4v4h-4zM168 376h4v4h-4zM516 376h4v4h-4zM176 384h4v4h-4zM192 384h4v4h-4zM392 384h4v4h-4zM468 384h4v4h-4zM180 388h4v4h-4zM188 388h4v4h-4zM396 388h4v4h-4zM464 388h4v4h-4zM188 396h4v4h-4zM476 396h4v4h-4zM192 400h4v4h-4zM480 400h4v4h-4zM192 408h4v4h-4zM444 408h4v4h-4zM488 408h4v4h-4zM516 408h4v4h-4zM528 408h4v4h-4zM188 412h4v4h-4zM440 412h4v4h-4zM492 412h4v4h-4zM512 412h4v4h-4zM524 412h4v4h-4zM524 420h4v4h-4zM528 424h4v4h-4zM204 432h4v4h-4zM212 432h4v4h-4zM336 432h4v4h-4zM200 436h4v4h-4zM216 436h4v4h-4zM332 436h4v4h-4zM536 444h4v4h-4zM116 448h4v4h-4zM164 456h4v4h-4zM168 460h4v4h-4zM176 480h4v4h-4zM180 484h4v4h-4zM180 504h4v4h-4zM176 508h4v4h-4zM156 528h4v4h-4z"/>
<path fill="#3560fa" d="M452 120h4v4h-4zM480 144h4v4h-4zM512 156h4v4h-4zM336 168h4v4h-4zM132 192h4v4h-4zM240 208h4v4h-4zM324 216h4v4h-4zM320 232h4v4h-4zM140 348h4v4h-4zM156 348h4v4h-4zM128 360h4v4h-4zM236 376h4v4h-4zM108 408h4v4h-4zM384 420h4v4h-4zM392 424h4v4h-4zM108 444h4v4h-4zM128 520h4v4h-4zM140 532h4v4h-4z"/>
<path fill="#07d7fe" d="M456 120h4v4h-4zM464 120h4v4h-4zM452 124h4v4h-4zM332 144h4v4h-4zM336 148h4v4h-4zM468 152h4v4h-4zM336 156h4v4h-4zM332 160h4v4h-4zM460 192h4v4h-4zM104 196h4v4h-4zM348 204h4v4h-4zM344 208h4v4h-4zM480 212h4v4h-4zM192 216h4v4h-4zM176 228h4v4h-4zM248 228h4v4h-4zM368 228h4v4h-4zM180 232h4v4h-4zM252 232h4v4h-4zM228 240h4v4h-4zM236 240h4v4h-4zM340 240h4v4h-4zM224 244h4v4h-4zM240 244h4v4h-4zM128 252h4v4h-4zM284 252h4v4h-4zM132 256h4v4h-4zM288 256h4v4h-4zM224 264h4v4h-4zM240 264h4v4h-4zM228 268h4v4h-4zM236 268h4v4h-4zM152 288h4v4h-4zM156 292h4v4h-4zM468 300h4v4h-4zM524 300h4v4h-4zM384 304h4v4h-4zM464 304h4v4h-4zM528 304h4v4h-4zM528 312h4v4h-4zM524 316h4v4h-4zM164 324h4v4h-4zM472 324h16v4h-16zM168 328h4v4h-4zM492 332h4v4h-4zM496 336h4v4h-4zM248 368h4v4h-4zM348 368h4v4h-4zM160 396h4v4h-4zM348 404h4v4h-4zM124 420h4v4h-4zM424 424h4v4h-4zM168 440h4v4h-4zM116 444h4v4h-4zM116 488h4v4h-4zM124 496h4v4h-4zM152 524h4v4h-4zM272 528h4v4h-4zM160 532h4v4h-4zM276 532h4v4h-4zM284 540h4v4h-4zM288 544h4v4h-4z"/>
<path fill="#00e9ad" d="M460 120h4v4h-4zM452 128h4v4h-4zM448 132h4v4h-4zM440 140h4v4h-4zM436 144h4v4h-4zM380 148h4v4h-4zM384 152h4v4h-4zM428 152h4v4h-4zM400 156h28v4h-28zM364 160h4v4h-4zM436 160h4v4h-4zM460 160h4v4h-4zM432 164h4v4h-4zM440 164h4v4h-4zM456 164h4v4h-4zM544 168h4v4h-4zM448 172h4v4h-4zM536 176h4v4h-4zM552 176h4v4h-4zM532 180h4v4h-4zM556 180h4v4h-4zM516 184h4v4h-4zM152 188h4v4h-4zM444 188h4v4h-4zM564 188h4v4h-4zM148 192h4v4h-4zM448 192h4v4h-4zM508 192h4v4h-4zM568 192h16v4h-16zM104 200h4v4h-4zM140 200h4v4h-4zM468 200h4v4h-4zM500 200h4v4h-4zM472 204h4v4h-4zM160 208h4v4h-4zM508 208h4v4h-4zM512 212h4v4h-4zM196 216h4v4h-4zM232 216h4v4h-4zM220 220h4v4h-4zM520 220h16v4h-16zM240 224h4v4h-4zM480 224h4v4h-4zM536 224h4v4h-4zM160 228h4v4h-4zM220 232h16v4h-16zM424 232h4v4h-4zM472 232h4v4h-4zM544 232h4v4h-4zM116 236h4v4h-4zM132 236h4v4h-4zM152 236h4v4h-4zM168 236h4v4h-4zM188 236h4v4h-4zM216 236h4v4h-4zM420 236h4v4h-4zM428 236h4v4h-4zM468 236h4v4h-4zM548 236h4v4h-4zM148 240h4v4h-4zM172 240h16v4h-16zM216 240h4v4h-4zM508 240h28v4h-28zM124 244h4v4h-4zM216 244h4v4h-4zM412 244h4v4h-4zM436 244h4v4h-4zM460 244h4v4h-4zM556 244h4v4h-4zM140 248h4v4h-4zM216 248h4v4h-4zM332 248h4v4h-4zM408 248h4v4h-4zM440 248h4v4h-4zM456 248h4v4h-4zM500 248h4v4h-4zM540 248h4v4h-4zM560 248h4v4h-4zM216 252h4v4h-4zM440 252h4v4h-4zM456 252h4v4h-4zM472 252h4v4h-4zM500 252h4v4h-4zM544 252h16v4h-16zM216 256h4v4h-4zM440 256h4v4h-4zM456 256h4v4h-4zM500 256h4v4h-4zM568 256h16v4h-16zM216 260h4v4h-4zM440 260h4v4h-4zM456 260h4v4h-4zM464 260h4v4h-4zM480 260h4v4h-4zM500 260h4v4h-4zM564 260h4v4h-4zM216 264h4v4h-4zM280 264h16v4h-16zM460 264h4v4h-4zM480 264h4v4h-4zM500 264h4v4h-4zM216 268h4v4h-4zM448 268h4v4h-4zM480 268h4v4h-4zM500 268h4v4h-4zM532 268h28v4h-28zM140 272h4v4h-4zM216 272h4v4h-4zM272 272h4v4h-4zM452 272h4v4h-4zM480 272h4v4h-4zM500 272h4v4h-4zM528 272h4v4h-4zM220 276h4v4h-4zM256 276h16v4h-16zM448 276h4v4h-4zM480 276h4v4h-4zM148 280h16v4h-16zM480 280h4v4h-4zM508 280h16v4h-16zM164 284h4v4h-4zM228 284h4v4h-4zM248 284h4v4h-4zM440 284h4v4h-4zM480 284h4v4h-4zM164 288h4v4h-4zM232 288h4v4h-4zM412 288h28v4h-28zM164 292h4v4h-4zM460 292h16v4h-16zM164 296h4v4h-4zM456 296h4v4h-4zM352 300h16v4h-16zM456 300h4v4h-4zM172 304h4v4h-4zM456 304h4v4h-4zM176 308h4v4h-4zM456 308h4v4h-4zM176 312h4v4h-4zM456 312h4v4h-4zM176 316h4v4h-4zM456 316h4v4h-4zM176 320h4v4h-4zM320 320h4v4h-4zM396 320h4v4h-4zM456 320h4v4h-4zM460 324h4v4h-4zM520 324h4v4h-4zM324 332h4v4h-4zM392 332h4v4h-4zM512 332h4v4h-4zM528 332h4v4h-4zM172 336h4v4h-4zM388 336h4v4h-4zM512 336h4v4h-4zM528 336h4v4h-4zM544 336h4v4h-4zM168 340h4v4h-4zM340 340h4v4h-4zM372 340h4v4h-4zM512 340h4v4h-4zM528 340h4v4h-4zM348 344h4v4h-4zM368 344h4v4h-4zM504 344h4v4h-4zM512 344h4v4h-4zM528 344h4v4h-4zM536 344h4v4h-4zM552 344h4v4h-4zM368 348h4v4h-4zM508 348h4v4h-4zM528 348h4v4h-4zM536 348h4v4h-4zM556 348h4v4h-4zM340 352h4v4h-4zM368 352h4v4h-4zM528 352h4v4h-4zM536 352h4v4h-4zM368 356h4v4h-4zM528 356h4v4h-4zM536 356h4v4h-4zM564 356h4v4h-4zM340 360h4v4h-4zM536 360h4v4h-4zM564 360h4v4h-4zM280 364h4v4h-4zM376 364h16v4h-16zM460 364h4v4h-4zM508 364h16v4h-16zM536 364h4v4h-4zM564 364h4v4h-4zM164 368h4v4h-4zM204 368h4v4h-4zM264 368h4v4h-4zM392 368h4v4h-4zM456 368h4v4h-4zM464 368h4v4h-4zM504 368h4v4h-4zM536 368h4v4h-4zM564 368h4v4h-4zM392 372h4v4h-4zM460 372h4v4h-4zM508 372h4v4h-4zM536 372h4v4h-4zM568 372h16v4h-16zM172 376h4v4h-4zM196 376h4v4h-4zM256 376h4v4h-4zM340 376h4v4h-4zM392 376h4v4h-4zM472 376h4v4h-4zM536 376h4v4h-4zM176 380h4v4h-4zM192 380h4v4h-4zM336 380h4v4h-4zM392 380h4v4h-4zM468 380h4v4h-4zM476 380h4v4h-4zM516 380h4v4h-4zM536 380h4v4h-4zM340 384h4v4h-4zM476 384h4v4h-4zM516 384h4v4h-4zM536 384h4v4h-4zM184 388h4v4h-4zM400 388h4v4h-4zM460 388h4v4h-4zM476 388h4v4h-4zM516 388h4v4h-4zM536 388h4v4h-4zM348 392h4v4h-4zM476 392h4v4h-4zM516 392h4v4h-4zM536 392h4v4h-4zM172 396h16v4h-16zM452 396h4v4h-4zM516 396h4v4h-4zM536 396h4v4h-4zM220 400h4v4h-4zM484 400h4v4h-4zM516 400h4v4h-4zM536 400h4v4h-4zM152 404h4v4h-4zM192 404h4v4h-4zM200 404h4v4h-4zM404 404h4v4h-4zM444 404h4v4h-4zM488 404h4v4h-4zM516 404h4v4h-4zM536 404h4v4h-4zM152 408h4v4h-4zM200 408h4v4h-4zM532 408h4v4h-4zM152 412h4v4h-4zM184 412h4v4h-4zM200 412h4v4h-4zM340 412h4v4h-4zM412 412h4v4h-4zM436 412h4v4h-4zM496 412h16v4h-16zM152 416h4v4h-4zM180 416h4v4h-4zM200 416h4v4h-4zM336 416h4v4h-4zM416 416h4v4h-4zM432 416h4v4h-4zM524 416h4v4h-4zM136 420h16v4h-16zM184 420h16v4h-16zM336 420h4v4h-4zM172 424h4v4h-4zM208 424h4v4h-4zM336 424h4v4h-4zM532 424h4v4h-4zM168 428h4v4h-4zM176 428h4v4h-4zM204 428h4v4h-4zM212 428h4v4h-4zM336 428h4v4h-4zM184 436h16v4h-16zM220 436h112v4h-112zM160 448h4v4h-4zM528 448h4v4h-4zM156 452h4v4h-4zM160 456h4v4h-4zM168 464h4v4h-4zM168 468h4v4h-4zM168 472h4v4h-4zM168 476h4v4h-4zM116 480h4v4h-4zM172 480h4v4h-4zM180 488h4v4h-4zM180 492h4v4h-4zM132 496h4v4h-4zM180 496h4v4h-4zM140 500h4v4h-4zM180 500h4v4h-4zM148 508h4v4h-4zM172 508h4v4h-4zM152 512h4v4h-4zM168 512h4v4h-4zM168 516h4v4h-4zM168 520h4v4h-4zM168 524h4v4h-4z"/>
<path fill="#00e999" d="M356 124h4v4h-4zM360 156h4v4h-4zM368 168h4v4h-4zM372 172h4v4h-4zM440 184h4v4h-4zM520 184h4v4h-4zM516 188h4v4h-4zM512 192h4v4h-4zM164 204h4v4h-4zM156 216h4v4h-4zM152 220h4v4h-4zM144 228h4v4h-4zM140 232h4v4h-4zM312 252h4v4h-4zM308 256h4v4h-4zM252 372h4v4h-4zM456 388h4v4h-4zM452 392h4v4h-4zM448 396h4v4h-4zM204 400h4v4h-4zM444 400h4v4h-4zM536 424h4v4h-4zM540 428h4v4h-4zM540 432h4v4h-4zM540 436h4v4h-4zM540 440h4v4h-4zM532 448h4v4h-4zM528 452h4v4h-4zM528 456h4v4h-4zM528 460h4v4h-4zM528 464h4v4h-4zM528 468h4v4h-4zM528 472h4v4h-4zM528 476h4v4h-4zM528 480h4v4h-4zM528 484h4v4h-4zM528 488h4v4h-4zM528 492h4v4h-4zM528 496h4v4h-4zM528 500h4v4h-4zM528 504h4v4h-4zM528 508h4v4h-4zM528 512h4v4h-4zM528 516h4v4h-4zM528 520h4v4h-4zM528 524h4v4h-4zM528 528h4v4h-4zM528 532h4v4h-4zM528 536h4v4h-4zM528 540h4v4h-4zM528 544h4v4h-4zM528 548h4v4h-4zM528 552h4v4h-4z"/>
<path fill="#1f98fc" d="M444 124h4v4h-4zM380 144h4v4h-4zM348 156h4v4h-4zM344 160h4v4h-4zM332 168h4v4h-4zM488 168h4v4h-4zM128 192h4v4h-4zM236 208h4v4h-4zM332 216h4v4h-4zM324 220h4v4h-4zM324 232h4v4h-4zM384 328h4v4h-4zM336 336h4v4h-4zM372 336h4v4h-4zM164 340h4v4h-4zM152 360h4v4h-4zM132 372h4v4h-4zM248 376h4v4h-4zM108 448h4v4h-4z"/>
<path fill="#00e98f" d="M456 124h4v4h-4zM368 136h4v4h-4zM392 156h4v4h-4zM428 156h4v4h-4zM432 160h4v4h-4zM104 208h4v4h-4zM212 220h4v4h-4zM224 220h4v4h-4zM116 228h4v4h-4zM336 244h4v4h-4zM560 252h4v4h-4zM140 256h4v4h-4zM408 256h4v4h-4zM564 256h4v4h-4zM140 264h4v4h-4zM456 264h4v4h-4zM452 268h4v4h-4zM240 288h4v4h-4zM344 300h4v4h-4zM396 312h4v4h-4zM320 324h4v4h-4zM396 324h4v4h-4zM176 328h4v4h-4zM248 352h4v4h-4zM308 352h4v4h-4zM276 364h4v4h-4zM344 372h4v4h-4zM464 372h4v4h-4zM468 376h4v4h-4zM240 388h4v4h-4zM404 396h4v4h-4zM212 400h4v4h-4zM228 400h4v4h-4zM344 408h4v4h-4zM180 420h4v4h-4zM200 420h4v4h-4zM420 420h4v4h-4zM428 420h4v4h-4zM176 424h4v4h-4zM204 424h4v4h-4zM540 444h4v4h-4zM536 448h4v4h-4z"/>
<path fill="#00ea3d" d="M460 124h4v4h-4zM456 128h4v4h-4zM448 136h4v4h-4zM444 140h4v4h-4zM436 148h4v4h-4zM380 152h4v4h-4zM432 152h4v4h-4zM364 156h4v4h-4zM436 156h4v4h-4zM460 156h4v4h-4zM400 160h28v4h-28zM428 164h4v4h-4zM444 164h4v4h-4zM452 164h4v4h-4zM448 168h4v4h-4zM544 172h4v4h-4zM540 176h4v4h-4zM548 176h4v4h-4zM380 184h4v4h-4zM532 184h4v4h-4zM556 184h4v4h-4zM156 188h4v4h-4zM440 188h4v4h-4zM560 188h4v4h-4zM148 196h4v4h-4zM448 196h4v4h-4zM508 196h4v4h-4zM568 196h16v4h-16zM108 200h4v4h-4zM144 200h4v4h-4zM464 200h4v4h-4zM504 200h4v4h-4zM160 204h4v4h-4zM508 204h4v4h-4zM472 208h4v4h-4zM516 212h4v4h-4zM520 216h16v4h-16zM196 220h4v4h-4zM232 220h4v4h-4zM236 224h4v4h-4zM476 224h4v4h-4zM540 224h4v4h-4zM220 228h16v4h-16zM424 228h4v4h-4zM472 228h4v4h-4zM544 228h4v4h-4zM160 232h4v4h-4zM120 236h4v4h-4zM128 236h4v4h-4zM156 236h4v4h-4zM164 236h4v4h-4zM192 236h4v4h-4zM212 236h4v4h-4zM416 236h4v4h-4zM432 236h4v4h-4zM464 236h4v4h-4zM552 236h4v4h-4zM124 240h4v4h-4zM212 240h4v4h-4zM412 240h4v4h-4zM436 240h4v4h-4zM460 240h4v4h-4zM556 240h4v4h-4zM148 244h4v4h-4zM172 244h16v4h-16zM212 244h4v4h-4zM508 244h28v4h-28zM144 248h4v4h-4zM212 248h4v4h-4zM336 248h4v4h-4zM404 248h4v4h-4zM444 248h4v4h-4zM452 248h4v4h-4zM504 248h4v4h-4zM536 248h4v4h-4zM564 248h4v4h-4zM212 252h4v4h-4zM444 252h4v4h-4zM452 252h4v4h-4zM504 252h4v4h-4zM568 252h16v4h-16zM212 256h4v4h-4zM444 256h4v4h-4zM452 256h4v4h-4zM472 256h4v4h-4zM504 256h4v4h-4zM544 256h16v4h-16zM212 260h4v4h-4zM444 260h4v4h-4zM452 260h4v4h-4zM468 260h4v4h-4zM476 260h4v4h-4zM504 260h4v4h-4zM560 260h4v4h-4zM212 264h4v4h-4zM448 264h4v4h-4zM476 264h4v4h-4zM504 264h4v4h-4zM532 264h28v4h-28zM212 268h4v4h-4zM280 268h16v4h-16zM460 268h4v4h-4zM476 268h4v4h-4zM504 268h4v4h-4zM144 272h4v4h-4zM212 272h4v4h-4zM276 272h4v4h-4zM456 272h4v4h-4zM476 272h4v4h-4zM504 272h4v4h-4zM524 272h4v4h-4zM148 276h16v4h-16zM476 276h4v4h-4zM508 276h16v4h-16zM220 280h4v4h-4zM256 280h16v4h-16zM448 280h4v4h-4zM476 280h4v4h-4zM168 284h4v4h-4zM224 284h4v4h-4zM252 284h4v4h-4zM444 284h4v4h-4zM476 284h4v4h-4zM168 288h4v4h-4zM460 288h16v4h-16zM168 292h4v4h-4zM232 292h4v4h-4zM412 292h28v4h-28zM168 296h4v4h-4zM452 296h4v4h-4zM172 300h4v4h-4zM452 300h4v4h-4zM452 304h4v4h-4zM180 308h4v4h-4zM452 308h4v4h-4zM180 312h4v4h-4zM320 312h4v4h-4zM452 312h4v4h-4zM180 316h4v4h-4zM452 316h4v4h-4zM180 320h4v4h-4zM452 320h4v4h-4zM460 328h4v4h-4zM520 328h4v4h-4zM320 332h4v4h-4zM396 332h4v4h-4zM516 332h4v4h-4zM524 332h4v4h-4zM176 336h4v4h-4zM516 336h4v4h-4zM524 336h4v4h-4zM172 340h4v4h-4zM228 340h4v4h-4zM388 340h4v4h-4zM516 340h4v4h-4zM524 340h4v4h-4zM544 340h4v4h-4zM344 344h4v4h-4zM372 344h4v4h-4zM500 344h4v4h-4zM516 344h4v4h-4zM524 344h4v4h-4zM540 344h4v4h-4zM548 344h4v4h-4zM340 348h4v4h-4zM372 348h4v4h-4zM524 348h4v4h-4zM540 348h4v4h-4zM372 352h4v4h-4zM508 352h4v4h-4zM524 352h4v4h-4zM540 352h4v4h-4zM556 352h4v4h-4zM372 356h4v4h-4zM524 356h4v4h-4zM540 356h4v4h-4zM560 356h4v4h-4zM280 360h4v4h-4zM376 360h16v4h-16zM460 360h4v4h-4zM508 360h16v4h-16zM540 360h4v4h-4zM560 360h4v4h-4zM204 364h4v4h-4zM340 364h4v4h-4zM540 364h4v4h-4zM560 364h4v4h-4zM168 368h4v4h-4zM200 368h4v4h-4zM260 368h4v4h-4zM396 368h4v4h-4zM452 368h4v4h-4zM468 368h4v4h-4zM500 368h4v4h-4zM540 368h4v4h-4zM560 368h4v4h-4zM172 372h4v4h-4zM196 372h4v4h-4zM256 372h4v4h-4zM340 372h4v4h-4zM396 372h4v4h-4zM472 372h4v4h-4zM540 372h4v4h-4zM396 376h4v4h-4zM460 376h4v4h-4zM508 376h4v4h-4zM540 376h4v4h-4zM568 376h16v4h-16zM180 380h4v4h-4zM188 380h4v4h-4zM332 380h4v4h-4zM396 380h4v4h-4zM464 380h4v4h-4zM480 380h4v4h-4zM512 380h4v4h-4zM540 380h4v4h-4zM184 384h4v4h-4zM400 384h4v4h-4zM460 384h4v4h-4zM480 384h4v4h-4zM512 384h4v4h-4zM540 384h4v4h-4zM340 388h4v4h-4zM480 388h4v4h-4zM512 388h4v4h-4zM540 388h4v4h-4zM344 392h4v4h-4zM480 392h4v4h-4zM512 392h4v4h-4zM540 392h4v4h-4zM484 396h4v4h-4zM512 396h4v4h-4zM540 396h4v4h-4zM172 400h16v4h-16zM512 400h4v4h-4zM540 400h4v4h-4zM156 404h4v4h-4zM188 404h4v4h-4zM204 404h4v4h-4zM408 404h4v4h-4zM440 404h4v4h-4zM492 404h4v4h-4zM512 404h4v4h-4zM540 404h4v4h-4zM156 408h4v4h-4zM184 408h4v4h-4zM204 408h4v4h-4zM340 408h4v4h-4zM412 408h4v4h-4zM436 408h4v4h-4zM496 408h16v4h-16zM156 412h4v4h-4zM204 412h4v4h-4zM532 412h4v4h-4zM156 416h4v4h-4zM176 416h4v4h-4zM204 416h4v4h-4zM332 416h4v4h-4zM420 416h4v4h-4zM428 416h4v4h-4zM528 416h4v4h-4zM172 420h4v4h-4zM208 420h4v4h-4zM332 420h4v4h-4zM532 420h4v4h-4zM136 424h16v4h-16zM184 424h16v4h-16zM332 424h4v4h-4zM164 428h4v4h-4zM180 428h4v4h-4zM200 428h4v4h-4zM216 428h4v4h-4zM332 428h4v4h-4zM184 432h16v4h-16zM220 432h112v4h-112zM552 432h4v4h-4zM160 444h4v4h-4zM152 452h4v4h-4zM160 460h4v4h-4zM164 464h4v4h-4zM164 468h4v4h-4zM164 472h4v4h-4zM164 476h4v4h-4zM120 484h4v4h-4zM172 484h4v4h-4zM176 488h4v4h-4zM128 492h4v4h-4zM176 492h4v4h-4zM176 496h4v4h-4zM144 500h4v4h-4zM176 500h4v4h-4zM148 504h4v4h-4zM172 504h4v4h-4zM156 512h4v4h-4zM164 512h4v4h-4zM164 516h4v4h-4zM164 520h4v4h-4zM164 524h4v4h-4z"/>
<path fill="#238dfc" d="M468 124h4v4h-4zM384 144h4v4h-4zM472 148h4v4h-4zM476 152h4v4h-4zM484 160h4v4h-4zM520 160h4v4h-4zM488 164h4v4h-4zM516 164h4v4h-4zM492 168h4v4h-4zM564 172h4v4h-4zM108 192h4v4h-4zM188 220h4v4h-4zM324 236h4v4h-4zM484 300h28v4h-28zM472 316h16v4h-16zM164 336h4v4h-4zM368 336h4v4h-4zM104 344h4v4h-4zM104 348h4v4h-4zM232 348h4v4h-4zM104 352h4v4h-4zM148 352h4v4h-4zM104 356h4v4h-4zM144 356h4v4h-4zM152 356h4v4h-4zM240 356h4v4h-4zM104 360h4v4h-4zM156 360h4v4h-4zM240 360h4v4h-4zM104 364h4v4h-4zM136 364h4v4h-4zM240 364h4v4h-4zM104 368h4v4h-4zM132 368h4v4h-4zM240 368h4v4h-4zM104 372h4v4h-4zM128 372h4v4h-4zM244 372h4v4h-4zM104 376h4v4h-4zM104 380h4v4h-4zM212 380h4v4h-4zM208 384h4v4h-4zM112 388h4v4h-4zM112 396h4v4h-4zM104 404h4v4h-4zM120 404h4v4h-4zM120 408h4v4h-4zM376 408h16v4h-16zM120 412h4v4h-4zM120 416h4v4h-4zM368 416h4v4h-4zM396 416h4v4h-4zM400 420h4v4h-4zM376 424h4v4h-4zM380 428h4v4h-4zM408 428h4v4h-4zM388 436h16v4h-16zM108 472h4v4h-4zM124 504h4v4h-4zM244 504h16v4h-16zM132 512h4v4h-4zM236 512h4v4h-4zM136 516h4v4h-4zM144 524h4v4h-4zM148 528h4v4h-4zM156 536h4v4h-4zM156 540h4v4h-4zM156 544h4v4h-4zM156 548h4v4h-4zM156 552h4v4h-4z"/>
<path fill="#f9faff" d="M128 132h4v4h-4zM132 136h4v4h-4zM224 168h4v4h-4zM228 172h4v4h-4zM188 180h4v4h-4zM192 184h4v4h-4zM216 204h4v4h-4zM348 316h4v4h-4zM356 324h4v4h-4z"/>
<path fill="#fdfdff" d="M132 132h4v4h-4zM224 172h4v4h-4zM192 180h4v4h-4z"/>
<path fill="#2a7cfb" d="M312 132h4v4h-4zM528 156h4v4h-4zM488 160h4v4h-4zM140 192h4v4h-4zM228 208h4v4h-4zM476 304h4v4h-4zM516 304h4v4h-4zM492 312h4v4h-4zM324 316h4v4h-4zM332 328h4v4h-4zM236 352h4v4h-4zM140 360h4v4h-4zM216 372h4v4h-4zM108 384h4v4h-4zM212 384h4v4h-4zM108 400h4v4h-4zM372 412h4v4h-4zM116 420h4v4h-4zM372 420h4v4h-4zM384 432h4v4h-4zM404 432h4v4h-4zM236 520h4v4h-4z"/>
<path fill="#0dc6fe" d="M320 132h4v4h-4zM324 136h4v4h-4zM348 168h4v4h-4zM524 168h4v4h-4zM480 180h4v4h-4zM488 180h4v4h-4zM456 184h4v4h-4zM464 184h4v4h-4zM348 196h4v4h-4zM488 208h4v4h-4zM336 216h4v4h-4zM488 216h4v4h-4zM176 220h4v4h-4zM332 220h4v4h-4zM368 220h4v4h-4zM504 220h4v4h-4zM504 228h4v4h-4zM512 228h4v4h-4zM540 280h4v4h-4zM560 280h4v4h-4zM512 292h4v4h-4zM560 300h4v4h-4zM540 312h4v4h-4zM548 312h4v4h-4zM500 328h4v4h-4zM360 340h4v4h-4zM152 372h4v4h-4zM156 388h4v4h-4zM164 388h4v4h-4zM392 400h4v4h-4zM140 408h4v4h-4zM476 424h4v4h-4zM348 432h4v4h-4zM176 444h4v4h-4zM360 444h4v4h-4zM476 444h4v4h-4zM408 456h4v4h-4zM416 456h4v4h-4zM192 496h4v4h-4zM200 496h4v4h-4zM240 496h4v4h-4zM260 496h4v4h-4zM228 508h4v4h-4zM192 516h4v4h-4zM200 516h4v4h-4zM176 544h4v4h-4z"/>
<path fill="#00e8ff" d="M324 132h4v4h-4zM360 132h4v4h-4zM372 144h4v4h-4zM384 148h4v4h-4zM528 168h4v4h-4zM524 172h4v4h-4zM456 180h4v4h-4zM464 180h4v4h-4zM476 180h4v4h-4zM492 180h4v4h-4zM452 184h4v4h-4zM468 184h4v4h-4zM480 184h4v4h-4zM488 184h4v4h-4zM456 192h4v4h-4zM132 196h4v4h-4zM488 204h4v4h-4zM492 208h4v4h-4zM228 216h4v4h-4zM368 216h4v4h-4zM480 216h4v4h-4zM492 216h4v4h-4zM504 216h4v4h-4zM372 220h4v4h-4zM488 220h4v4h-4zM500 220h4v4h-4zM500 228h4v4h-4zM516 228h4v4h-4zM504 232h4v4h-4zM512 232h4v4h-4zM540 276h4v4h-4zM560 276h4v4h-4zM536 280h4v4h-4zM564 280h4v4h-4zM512 288h4v4h-4zM516 292h4v4h-4zM564 300h4v4h-4zM388 304h4v4h-4zM560 304h4v4h-4zM536 312h4v4h-4zM552 312h4v4h-4zM540 316h4v4h-4zM548 316h4v4h-4zM468 324h4v4h-4zM500 324h4v4h-4zM324 328h4v4h-4zM392 328h4v4h-4zM504 328h4v4h-4zM168 336h4v4h-4zM368 340h4v4h-4zM292 360h4v4h-4zM248 364h4v4h-4zM156 372h4v4h-4zM152 376h4v4h-4zM156 384h4v4h-4zM164 384h4v4h-4zM152 388h4v4h-4zM168 388h4v4h-4zM164 396h4v4h-4zM236 396h4v4h-4zM392 396h4v4h-4zM348 400h4v4h-4zM396 400h4v4h-4zM144 408h4v4h-4zM140 412h4v4h-4zM128 420h4v4h-4zM476 420h4v4h-4zM480 424h4v4h-4zM344 432h4v4h-4zM168 436h4v4h-4zM348 436h4v4h-4zM180 444h4v4h-4zM356 444h4v4h-4zM480 444h4v4h-4zM176 448h4v4h-4zM360 448h4v4h-4zM476 448h4v4h-4zM404 456h4v4h-4zM420 456h4v4h-4zM408 460h4v4h-4zM416 460h4v4h-4zM192 492h4v4h-4zM200 492h4v4h-4zM240 492h4v4h-4zM260 492h4v4h-4zM188 496h4v4h-4zM204 496h4v4h-4zM236 496h4v4h-4zM264 496h4v4h-4zM228 504h4v4h-4zM224 508h4v4h-4zM188 516h4v4h-4zM204 516h4v4h-4zM152 520h4v4h-4zM192 520h4v4h-4zM200 520h4v4h-4zM176 540h4v4h-4zM180 544h4v4h-4z"/>
<path fill="#00ea5c" d="M356 132h4v4h-4zM372 148h4v4h-4zM432 156h4v4h-4zM368 160h4v4h-4zM428 160h4v4h-4zM380 180h4v4h-4zM524 188h4v4h-4zM520 192h4v4h-4zM456 196h4v4h-4zM156 208h4v4h-4zM476 216h4v4h-4zM228 220h4v4h-4zM564 252h4v4h-4zM560 256h4v4h-4zM452 264h4v4h-4zM456 268h4v4h-4zM320 328h4v4h-4zM396 328h4v4h-4zM468 328h4v4h-4zM324 336h4v4h-4zM232 340h16v4h-16zM248 344h4v4h-4zM216 352h4v4h-4zM468 372h4v4h-4zM176 376h4v4h-4zM192 376h4v4h-4zM464 376h4v4h-4zM448 388h4v4h-4zM444 392h4v4h-4zM164 400h4v4h-4zM236 400h4v4h-4zM344 400h4v4h-4zM176 420h4v4h-4zM204 420h4v4h-4zM128 424h4v4h-4zM180 424h4v4h-4zM200 424h4v4h-4zM544 424h4v4h-4zM548 428h4v4h-4zM164 436h4v4h-4zM556 436h28v4h-28zM156 520h4v4h-4z"/>
<path fill="#1d9efc" d="M368 132h4v4h-4zM372 136h4v4h-4zM336 144h4v4h-4zM336 160h4v4h-4zM524 160h4v4h-4zM152 184h4v4h-4zM344 204h4v4h-4zM176 208h4v4h-4zM180 228h4v4h-4zM252 228h4v4h-4zM228 244h4v4h-4zM236 244h4v4h-4zM288 252h4v4h-4zM128 256h4v4h-4zM228 264h4v4h-4zM236 264h4v4h-4zM152 292h4v4h-4zM480 300h4v4h-4zM512 300h4v4h-4zM468 304h4v4h-4zM524 304h4v4h-4zM524 312h4v4h-4zM488 316h4v4h-4zM164 328h4v4h-4zM240 348h4v4h-4zM144 364h4v4h-4zM212 376h4v4h-4zM240 384h4v4h-4zM104 388h4v4h-4zM236 388h4v4h-4zM104 396h4v4h-4zM368 408h4v4h-4zM368 424h4v4h-4zM380 436h4v4h-4zM408 436h4v4h-4zM108 468h4v4h-4zM272 532h4v4h-4zM284 544h4v4h-4z"/>
<path fill="#3365fa" d="M428 132h4v4h-4zM476 144h4v4h-4zM480 148h4v4h-4zM516 156h4v4h-4zM552 156h4v4h-4zM512 160h4v4h-4zM144 184h4v4h-4zM168 184h4v4h-4zM336 204h4v4h-4zM200 208h4v4h-4zM332 208h4v4h-4zM220 216h4v4h-4zM252 216h4v4h-4zM288 228h4v4h-4zM312 240h4v4h-4zM104 244h4v4h-4zM308 244h4v4h-4zM116 256h4v4h-4zM128 280h4v4h-4zM140 292h4v4h-4zM352 304h16v4h-16zM324 320h4v4h-4zM392 320h4v4h-4zM152 328h4v4h-4zM340 336h4v4h-4zM104 340h4v4h-4zM144 348h4v4h-4zM152 348h4v4h-4zM140 352h4v4h-4zM156 352h4v4h-4zM132 360h4v4h-4zM128 364h4v4h-4zM228 364h4v4h-4zM116 372h4v4h-4zM236 372h4v4h-4zM240 376h4v4h-4zM220 396h4v4h-4zM380 420h4v4h-4zM392 420h4v4h-4zM384 424h4v4h-4zM396 424h4v4h-4zM128 516h4v4h-4zM132 520h4v4h-4zM140 528h4v4h-4zM144 532h4v4h-4zM260 532h4v4h-4zM272 544h4v4h-4z"/>
<path fill="#2c76fb" d="M432 132h4v4h-4zM428 136h4v4h-4zM548 156h4v4h-4zM552 160h4v4h-4zM568 172h8v4h-8zM216 216h4v4h-4zM248 216h4v4h-4zM252 220h4v4h-4zM284 228h4v4h-4zM288 232h4v4h-4zM104 240h4v4h-4zM108 244h4v4h-4zM116 252h4v4h-4zM120 256h4v4h-4zM128 276h4v4h-4zM132 280h4v4h-4zM140 288h4v4h-4zM144 292h4v4h-4zM348 304h4v4h-4zM368 304h4v4h-4zM392 316h4v4h-4zM152 324h4v4h-4zM156 328h4v4h-4zM96 340h8v4h-8zM228 360h4v4h-4zM224 364h4v4h-4zM120 372h4v4h-4zM116 376h4v4h-4zM216 396h4v4h-4zM224 396h4v4h-4zM96 408h8v4h-8zM108 480h4v4h-4zM112 492h4v4h-4zM120 500h4v4h-4zM236 524h4v4h-4zM236 528h4v4h-4zM260 528h4v4h-4zM236 532h4v4h-4zM264 532h4v4h-4zM236 536h4v4h-4zM236 540h4v4h-4zM272 540h4v4h-4zM236 544h4v4h-4zM276 544h4v4h-4zM236 548h4v4h-4zM236 552h4v4h-4z"/>
<path fill="#00ea7a" d="M452 132h4v4h-4zM444 136h4v4h-4zM440 144h4v4h-4zM464 144h4v4h-4zM432 148h4v4h-4zM440 160h4v4h-4zM456 160h4v4h-4zM444 168h4v4h-4zM548 172h4v4h-4zM536 180h4v4h-4zM552 180h4v4h-4zM152 192h4v4h-4zM444 192h4v4h-4zM564 192h4v4h-4zM468 204h4v4h-4zM512 208h4v4h-4zM236 220h4v4h-4zM536 220h4v4h-4zM216 232h4v4h-4zM420 232h4v4h-4zM428 232h4v4h-4zM468 232h4v4h-4zM548 232h4v4h-4zM120 240h4v4h-4zM152 240h4v4h-4zM168 240h4v4h-4zM188 240h4v4h-4zM408 244h4v4h-4zM440 244h4v4h-4zM456 244h4v4h-4zM560 244h4v4h-4zM540 252h4v4h-4zM296 264h4v4h-4zM464 264h4v4h-4zM528 268h4v4h-4zM144 276h4v4h-4zM216 276h4v4h-4zM272 276h4v4h-4zM452 276h4v4h-4zM164 280h4v4h-4zM228 288h4v4h-4zM440 288h4v4h-4zM456 292h4v4h-4zM176 304h4v4h-4zM456 324h4v4h-4zM392 336h4v4h-4zM504 348h4v4h-4zM512 348h4v4h-4zM552 348h4v4h-4zM392 364h4v4h-4zM456 364h4v4h-4zM464 364h4v4h-4zM504 364h4v4h-4zM456 372h4v4h-4zM504 372h4v4h-4zM564 372h4v4h-4zM336 376h4v4h-4zM476 376h4v4h-4zM252 384h4v4h-4zM336 384h4v4h-4zM488 400h4v4h-4zM536 408h4v4h-4zM180 412h4v4h-4zM336 412h4v4h-4zM152 420h4v4h-4zM168 424h4v4h-4zM212 424h4v4h-4zM548 436h4v4h-4zM548 444h4v4h-4zM560 444h4v4h-4zM572 444h4v4h-4zM156 448h4v4h-4zM536 456h4v4h-4zM548 456h4v4h-4zM560 456h4v4h-4zM572 456h4v4h-4zM536 468h4v4h-4zM548 468h4v4h-4zM560 468h4v4h-4zM572 468h4v4h-4zM168 480h4v4h-4zM536 480h8v4h-8zM548 480h8v4h-8zM560 480h8v4h-8zM572 480h8v4h-8zM536 484h4v4h-4zM548 484h4v4h-4zM560 484h4v4h-4zM572 484h4v4h-4zM536 492h8v4h-8zM548 492h8v4h-8zM560 492h8v4h-8zM572 492h8v4h-8zM536 496h4v4h-4zM548 496h4v4h-4zM560 496h4v4h-4zM572 496h4v4h-4zM536 504h8v4h-8zM548 504h8v4h-8zM560 504h8v4h-8zM572 504h8v4h-8zM152 508h4v4h-4zM168 508h4v4h-4zM536 508h4v4h-4zM548 508h4v4h-4zM560 508h4v4h-4zM572 508h4v4h-4zM536 516h8v4h-8zM548 516h8v4h-8zM560 516h8v4h-8zM572 516h8v4h-8zM536 520h4v4h-4zM548 520h4v4h-4zM560 520h4v4h-4zM572 520h4v4h-4zM536 528h8v4h-8zM548 528h8v4h-8zM560 528h8v4h-8zM572 528h8v4h-8zM536 532h4v4h-4zM548 532h4v4h-4zM560 532h4v4h-4zM572 532h4v4h-4zM536 540h8v4h-8zM548 540h8v4h-8zM560 540h8v4h-8zM572 540h8v4h-8zM536 544h4v4h-4zM548 544h4v4h-4zM560 544h4v4h-4zM572 544h4v4h-4z"/>
<path fill="#00eb29" d="M456 132h4v4h-4zM452 136h4v4h-4zM444 144h4v4h-4zM440 148h4v4h-4zM440 156h4v4h-4zM456 156h4v4h-4zM444 160h4v4h-4zM452 160h4v4h-4zM380 172h4v4h-4zM540 180h4v4h-4zM548 180h4v4h-4zM536 184h4v4h-4zM552 184h4v4h-4zM156 192h4v4h-4zM440 192h4v4h-4zM560 192h4v4h-4zM152 196h4v4h-4zM444 196h4v4h-4zM516 196h4v4h-4zM564 196h4v4h-4zM464 204h4v4h-4zM512 204h4v4h-4zM468 208h4v4h-4zM516 208h4v4h-4zM108 216h4v4h-4zM536 216h4v4h-4zM116 220h4v4h-4zM540 220h4v4h-4zM216 228h4v4h-4zM420 228h4v4h-4zM428 228h4v4h-4zM468 228h4v4h-4zM548 228h4v4h-4zM212 232h4v4h-4zM416 232h4v4h-4zM432 232h4v4h-4zM464 232h4v4h-4zM552 232h4v4h-4zM156 240h4v4h-4zM164 240h4v4h-4zM192 240h4v4h-4zM408 240h4v4h-4zM440 240h4v4h-4zM456 240h4v4h-4zM560 240h4v4h-4zM152 244h4v4h-4zM168 244h4v4h-4zM188 244h4v4h-4zM404 244h4v4h-4zM444 244h4v4h-4zM452 244h4v4h-4zM564 244h4v4h-4zM536 252h4v4h-4zM540 256h4v4h-4zM468 264h4v4h-4zM528 264h4v4h-4zM464 268h4v4h-4zM524 268h4v4h-4zM164 276h4v4h-4zM212 276h4v4h-4zM276 276h4v4h-4zM456 276h4v4h-4zM168 280h4v4h-4zM216 280h4v4h-4zM272 280h4v4h-4zM452 280h4v4h-4zM224 288h4v4h-4zM444 288h4v4h-4zM456 288h4v4h-4zM228 292h4v4h-4zM440 292h4v4h-4zM452 292h4v4h-4zM176 300h4v4h-4zM180 304h4v4h-4zM396 304h4v4h-4zM452 324h4v4h-4zM456 328h4v4h-4zM396 336h4v4h-4zM392 340h4v4h-4zM500 348h4v4h-4zM516 348h4v4h-4zM548 348h4v4h-4zM504 352h4v4h-4zM512 352h4v4h-4zM552 352h4v4h-4zM212 360h4v4h-4zM336 360h4v4h-4zM392 360h4v4h-4zM456 360h4v4h-4zM464 360h4v4h-4zM504 360h4v4h-4zM396 364h4v4h-4zM452 364h4v4h-4zM468 364h4v4h-4zM500 364h4v4h-4zM336 372h4v4h-4zM452 372h4v4h-4zM476 372h4v4h-4zM500 372h4v4h-4zM560 372h4v4h-4zM332 376h4v4h-4zM456 376h4v4h-4zM480 376h4v4h-4zM504 376h4v4h-4zM564 376h4v4h-4zM332 384h4v4h-4zM452 384h4v4h-4zM336 388h4v4h-4zM440 396h4v4h-4zM488 396h4v4h-4zM492 400h4v4h-4zM180 408h4v4h-4zM336 408h4v4h-4zM540 408h4v4h-4zM176 412h4v4h-4zM332 412h4v4h-4zM536 412h4v4h-4zM156 420h4v4h-4zM168 420h4v4h-4zM212 420h4v4h-4zM540 420h4v4h-4zM152 424h4v4h-4zM164 424h4v4h-4zM216 424h4v4h-4zM156 444h4v4h-4zM152 448h4v4h-4zM164 480h4v4h-4zM168 484h4v4h-4zM152 504h4v4h-4zM168 504h4v4h-4zM156 508h4v4h-4zM164 508h4v4h-4z"/>
<path fill="#7a91fc" d="M488 132h4v4h-4zM312 136h4v4h-4zM492 136h4v4h-4zM320 168h4v4h-4zM324 172h4v4h-4zM336 172h4v4h-4zM140 184h4v4h-4zM240 204h4v4h-4zM320 216h4v4h-4zM104 444h4v4h-4zM104 460h4v4h-4zM108 492h4v4h-4zM116 504h4v4h-4zM120 528h4v4h-4z"/>
<path fill="#00eb0a" d="M360 136h4v4h-4zM368 144h4v4h-4zM528 196h4v4h-4zM224 340h4v4h-4zM288 348h4v4h-4zM284 352h4v4h-4zM252 364h4v4h-4zM264 364h4v4h-4zM336 364h4v4h-4zM440 384h4v4h-4zM240 396h4v4h-4zM416 408h4v4h-4zM432 408h4v4h-4zM420 412h4v4h-4zM428 412h4v4h-4zM552 420h4v4h-4zM152 456h4v4h-4zM156 460h4v4h-4z"/>
<path fill="#00eb14" d="M364 136h4v4h-4zM456 136h4v4h-4zM368 140h4v4h-4zM444 148h4v4h-4zM444 156h4v4h-4zM452 156h4v4h-4zM372 168h4v4h-4zM540 184h4v4h-4zM548 184h4v4h-4zM528 192h4v4h-4zM124 196h4v4h-4zM156 196h4v4h-4zM440 196h4v4h-4zM524 196h4v4h-4zM560 196h4v4h-4zM516 204h4v4h-4zM464 208h4v4h-4zM152 216h4v4h-4zM540 216h4v4h-4zM144 220h4v4h-4zM140 228h4v4h-4zM212 228h4v4h-4zM416 228h4v4h-4zM432 228h4v4h-4zM464 228h4v4h-4zM552 228h4v4h-4zM404 240h4v4h-4zM444 240h4v4h-4zM452 240h4v4h-4zM564 240h4v4h-4zM156 244h4v4h-4zM164 244h4v4h-4zM192 244h4v4h-4zM536 256h4v4h-4zM524 264h4v4h-4zM468 268h4v4h-4zM168 276h4v4h-4zM212 280h4v4h-4zM276 280h4v4h-4zM456 280h4v4h-4zM452 288h4v4h-4zM224 292h4v4h-4zM444 292h4v4h-4zM180 300h4v4h-4zM320 308h4v4h-4zM452 328h4v4h-4zM396 340h4v4h-4zM216 348h4v4h-4zM500 352h4v4h-4zM516 352h4v4h-4zM548 352h4v4h-4zM396 360h4v4h-4zM452 360h4v4h-4zM468 360h4v4h-4zM500 360h4v4h-4zM332 372h4v4h-4zM480 372h4v4h-4zM452 376h4v4h-4zM500 376h4v4h-4zM560 376h4v4h-4zM444 384h4v4h-4zM244 388h4v4h-4zM332 388h4v4h-4zM440 388h4v4h-4zM240 392h4v4h-4zM492 396h4v4h-4zM176 408h4v4h-4zM332 408h4v4h-4zM540 412h4v4h-4zM164 420h4v4h-4zM216 420h4v4h-4zM548 420h4v4h-4zM156 424h4v4h-4zM552 424h4v4h-4zM120 440h4v4h-4zM152 444h4v4h-4zM164 484h4v4h-4zM156 504h4v4h-4zM164 504h4v4h-4z"/>
<path fill="#16affd" d="M432 136h4v4h-4zM344 144h4v4h-4zM468 144h4v4h-4zM348 148h4v4h-4zM548 160h4v4h-4zM488 172h4v4h-4zM104 220h4v4h-4zM248 220h4v4h-4zM324 228h4v4h-4zM336 228h4v4h-4zM348 228h4v4h-4zM284 232h4v4h-4zM332 232h4v4h-4zM344 232h4v4h-4zM108 240h4v4h-4zM120 252h4v4h-4zM132 276h4v4h-4zM144 288h4v4h-4zM552 300h4v4h-4zM548 304h4v4h-4zM156 324h4v4h-4zM224 360h4v4h-4zM152 364h4v4h-4zM216 364h4v4h-4zM144 372h4v4h-4zM120 376h4v4h-4zM132 376h4v4h-4zM140 376h4v4h-4zM356 384h4v4h-4zM360 388h4v4h-4zM132 396h4v4h-4zM360 396h4v4h-4zM368 396h4v4h-4zM128 400h4v4h-4zM356 400h4v4h-4zM372 400h4v4h-4zM132 408h4v4h-4zM128 412h4v4h-4zM356 432h4v4h-4zM360 436h4v4h-4zM404 444h4v4h-4zM420 444h4v4h-4zM408 448h4v4h-4zM416 448h4v4h-4zM108 460h4v4h-4zM264 528h4v4h-4zM164 540h4v4h-4zM276 540h4v4h-4zM168 544h4v4h-4z"/>
<path fill="#29ee00" d="M356 140h4v4h-4zM364 148h4v4h-4zM376 156h4v4h-4zM372 160h4v4h-4zM396 164h4v4h-4zM400 168h4v4h-4zM408 176h4v4h-4zM116 200h4v4h-4zM112 204h4v4h-4zM148 204h4v4h-4zM152 208h4v4h-4zM408 212h4v4h-4zM408 216h4v4h-4zM408 220h4v4h-4zM408 224h4v4h-4zM124 232h4v4h-4zM400 232h4v4h-4zM396 236h4v4h-4zM396 240h4v4h-4zM396 244h4v4h-4zM396 248h4v4h-4zM148 252h4v4h-4zM400 252h4v4h-4zM156 260h4v4h-4zM184 264h16v4h-16zM148 268h4v4h-4zM176 272h4v4h-4zM204 272h4v4h-4zM184 280h16v4h-16zM364 280h4v4h-4zM360 284h4v4h-4zM352 292h4v4h-4zM236 296h4v4h-4zM408 296h4v4h-4zM220 300h4v4h-4zM400 304h4v4h-4zM212 308h4v4h-4zM424 312h4v4h-4zM316 316h4v4h-4zM312 320h4v4h-4zM416 320h4v4h-4zM432 320h4v4h-4zM184 324h4v4h-4zM312 324h4v4h-4zM312 328h4v4h-4zM424 328h4v4h-4zM312 332h4v4h-4zM436 336h4v4h-4zM292 340h16v4h-16zM324 340h4v4h-4zM320 344h4v4h-4zM336 344h4v4h-4zM428 344h4v4h-4zM444 344h4v4h-4zM424 348h4v4h-4zM444 348h4v4h-4zM444 352h4v4h-4zM416 356h4v4h-4zM444 356h4v4h-4zM412 360h4v4h-4zM444 360h4v4h-4zM444 364h4v4h-4zM404 368h4v4h-4zM444 368h4v4h-4zM176 372h4v4h-4zM192 372h4v4h-4zM404 372h4v4h-4zM180 376h4v4h-4zM188 376h4v4h-4zM404 376h4v4h-4zM436 376h4v4h-4zM404 380h4v4h-4zM432 380h4v4h-4zM260 384h4v4h-4zM432 384h4v4h-4zM432 388h4v4h-4zM300 392h4v4h-4zM432 392h4v4h-4zM432 396h4v4h-4zM244 400h4v4h-4zM292 400h4v4h-4zM412 400h4v4h-4zM432 400h4v4h-4zM260 404h4v4h-4zM288 404h4v4h-4zM416 404h4v4h-4zM432 404h4v4h-4zM268 412h16v4h-16zM424 412h4v4h-4zM124 432h16v4h-16zM144 440h4v4h-4zM144 444h4v4h-4zM144 448h4v4h-4zM144 452h4v4h-4zM148 456h4v4h-4zM156 464h4v4h-4zM156 468h4v4h-4zM156 472h4v4h-4zM156 476h4v4h-4zM156 480h4v4h-4zM124 484h4v4h-4zM156 484h4v4h-4zM128 488h4v4h-4zM156 488h4v4h-4zM148 496h4v4h-4z"/>
<path fill="#70f400" d="M360 140h4v4h-4zM364 144h4v4h-4zM376 160h4v4h-4zM392 164h4v4h-4zM400 172h4v4h-4zM404 176h4v4h-4zM120 200h4v4h-4zM112 208h4v4h-4zM148 208h4v4h-4zM404 212h4v4h-4zM404 216h4v4h-4zM404 220h4v4h-4zM404 224h4v4h-4zM124 228h4v4h-4zM400 228h4v4h-4zM392 236h4v4h-4zM392 240h4v4h-4zM392 244h4v4h-4zM392 248h4v4h-4zM148 256h4v4h-4zM400 256h4v4h-4zM152 260h4v4h-4zM148 264h4v4h-4zM404 264h4v4h-4zM184 268h16v4h-16zM180 272h4v4h-4zM200 272h4v4h-4zM184 276h16v4h-16zM364 276h4v4h-4zM360 280h4v4h-4zM356 284h4v4h-4zM252 288h4v4h-4zM352 288h4v4h-4zM240 296h4v4h-4zM404 296h4v4h-4zM400 300h4v4h-4zM220 304h4v4h-4zM216 308h4v4h-4zM316 312h4v4h-4zM424 316h4v4h-4zM308 320h4v4h-4zM420 320h4v4h-4zM428 320h4v4h-4zM308 324h4v4h-4zM424 324h4v4h-4zM184 328h4v4h-4zM308 328h4v4h-4zM308 332h4v4h-4zM292 336h16v4h-16zM436 340h4v4h-4zM324 344h4v4h-4zM332 344h4v4h-4zM432 344h4v4h-4zM440 344h4v4h-4zM312 348h4v4h-4zM440 348h4v4h-4zM424 352h4v4h-4zM440 352h4v4h-4zM420 356h4v4h-4zM440 356h4v4h-4zM440 360h4v4h-4zM288 364h4v4h-4zM412 364h4v4h-4zM440 364h4v4h-4zM408 368h4v4h-4zM440 368h4v4h-4zM408 372h4v4h-4zM436 372h4v4h-4zM272 376h4v4h-4zM408 376h4v4h-4zM408 380h4v4h-4zM428 380h4v4h-4zM428 384h4v4h-4zM428 388h4v4h-4zM296 392h4v4h-4zM428 392h4v4h-4zM244 396h4v4h-4zM292 396h4v4h-4zM412 396h4v4h-4zM428 396h4v4h-4zM428 400h4v4h-4zM264 404h4v4h-4zM284 404h4v4h-4zM420 404h4v4h-4zM428 404h4v4h-4zM268 408h16v4h-16zM424 408h4v4h-4zM124 436h16v4h-16zM140 440h4v4h-4zM140 444h4v4h-4zM140 448h4v4h-4zM140 452h4v4h-4zM148 460h4v4h-4zM152 464h4v4h-4zM152 468h4v4h-4zM152 472h4v4h-4zM152 476h4v4h-4zM124 480h4v4h-4zM152 480h4v4h-4zM152 484h4v4h-4zM132 488h4v4h-4zM152 488h4v4h-4zM148 492h4v4h-4z"/>
<path fill="#99f700" d="M364 140h4v4h-4zM376 164h16v4h-16zM400 176h4v4h-4zM124 200h4v4h-4zM408 204h4v4h-4zM112 212h4v4h-4zM148 212h4v4h-4zM400 212h4v4h-4zM400 216h4v4h-4zM400 220h4v4h-4zM124 224h16v4h-16zM400 224h4v4h-4zM376 236h16v4h-16zM376 240h16v4h-16zM376 244h16v4h-16zM376 248h16v4h-16zM148 260h4v4h-4zM400 260h4v4h-4zM308 264h4v4h-4zM184 272h16v4h-16zM364 272h4v4h-4zM368 280h4v4h-4zM352 284h4v4h-4zM404 292h4v4h-4zM244 296h4v4h-4zM400 296h4v4h-4zM220 308h4v4h-4zM316 308h4v4h-4zM304 320h4v4h-4zM424 320h4v4h-4zM192 324h4v4h-4zM304 324h4v4h-4zM304 328h4v4h-4zM184 332h4v4h-4zM292 332h16v4h-16zM328 344h4v4h-4zM436 344h4v4h-4zM332 348h4v4h-4zM436 348h4v4h-4zM436 352h4v4h-4zM208 356h4v4h-4zM424 356h16v4h-16zM252 360h4v4h-4zM424 360h16v4h-16zM424 364h16v4h-16zM412 368h28v4h-28zM412 372h16v4h-16zM412 376h16v4h-16zM268 380h4v4h-4zM412 380h16v4h-16zM412 384h16v4h-16zM412 388h16v4h-16zM244 392h4v4h-4zM292 392h4v4h-4zM412 392h16v4h-16zM424 396h4v4h-4zM424 400h4v4h-4zM268 404h16v4h-16zM424 404h4v4h-4zM124 440h16v4h-16zM124 444h16v4h-16zM124 448h16v4h-16zM124 452h16v4h-16zM124 456h16v4h-16zM124 460h16v4h-16zM124 464h28v4h-28zM124 468h28v4h-28zM124 472h28v4h-28zM124 476h28v4h-28zM136 480h16v4h-16zM136 484h16v4h-16zM136 488h16v4h-16z"/>
<path fill="#00e8d6" d="M348 144h4v4h-4zM536 168h4v4h-4zM456 172h4v4h-4zM516 180h4v4h-4zM560 180h4v4h-4zM512 184h4v4h-4zM564 184h4v4h-4zM500 192h4v4h-4zM500 208h4v4h-4zM104 216h4v4h-4zM512 216h4v4h-4zM108 220h4v4h-4zM516 220h4v4h-4zM152 228h4v4h-4zM168 228h4v4h-4zM240 232h4v4h-4zM480 232h4v4h-4zM536 232h4v4h-4zM140 240h4v4h-4zM500 240h4v4h-4zM540 240h4v4h-4zM132 244h4v4h-4zM420 244h4v4h-4zM428 244h4v4h-4zM468 244h4v4h-4zM548 244h4v4h-4zM464 252h4v4h-4zM480 252h4v4h-4zM272 264h4v4h-4zM440 268h4v4h-4zM564 268h4v4h-4zM228 276h4v4h-4zM248 276h4v4h-4zM440 276h4v4h-4zM500 280h4v4h-4zM528 280h4v4h-4zM480 288h4v4h-4zM476 292h4v4h-4zM164 304h4v4h-4zM512 324h4v4h-4zM528 324h4v4h-4zM492 336h4v4h-4zM536 336h4v4h-4zM552 336h4v4h-4zM344 340h4v4h-4zM564 348h4v4h-4zM348 352h4v4h-4zM216 360h4v4h-4zM368 360h4v4h-4zM212 364h4v4h-4zM372 364h4v4h-4zM528 364h4v4h-4zM204 372h4v4h-4zM516 372h4v4h-4zM164 376h4v4h-4zM200 376h4v4h-4zM344 384h4v4h-4zM176 388h4v4h-4zM192 388h4v4h-4zM348 388h4v4h-4zM392 388h4v4h-4zM468 388h4v4h-4zM192 396h4v4h-4zM456 396h4v4h-4zM452 400h4v4h-4zM476 400h4v4h-4zM404 408h4v4h-4zM524 408h4v4h-4zM192 412h4v4h-4zM408 412h4v4h-4zM444 412h4v4h-4zM488 412h4v4h-4zM516 412h4v4h-4zM524 424h4v4h-4zM176 432h4v4h-4zM180 436h4v4h-4zM204 436h4v4h-4zM212 436h4v4h-4zM336 436h4v4h-4zM528 444h4v4h-4zM524 448h4v4h-4zM168 456h4v4h-4zM180 480h4v4h-4zM140 504h4v4h-4zM144 508h4v4h-4zM180 508h4v4h-4z"/>
<path fill="#00ea47" d="M356 144h4v4h-4zM360 148h4v4h-4zM524 192h4v4h-4zM452 196h4v4h-4zM476 220h4v4h-4zM408 268h4v4h-4zM464 328h4v4h-4zM488 336h4v4h-4zM492 340h4v4h-4zM284 364h4v4h-4zM276 372h4v4h-4zM444 388h4v4h-4zM344 396h4v4h-4zM168 400h4v4h-4zM132 424h4v4h-4zM548 424h4v4h-4zM164 432h4v4h-4zM156 516h4v4h-4z"/>
<path fill="#33ef00" d="M360 144h4v4h-4zM388 160h4v4h-4zM372 164h4v4h-4zM376 168h4v4h-4zM128 200h4v4h-4zM108 212h4v4h-4zM152 212h4v4h-4zM112 216h4v4h-4zM148 216h4v4h-4zM120 224h4v4h-4zM140 224h4v4h-4zM136 228h4v4h-4zM376 232h4v4h-4zM372 236h4v4h-4zM368 240h4v4h-4zM144 260h4v4h-4zM404 260h4v4h-4zM244 292h4v4h-4zM200 312h4v4h-4zM180 332h4v4h-4zM176 340h4v4h-4zM328 340h4v4h-4zM212 356h4v4h-4zM208 360h4v4h-4zM200 364h4v4h-4zM268 376h4v4h-4zM264 380h4v4h-4zM408 392h4v4h-4zM120 452h4v4h-4zM120 456h4v4h-4zM120 460h4v4h-4zM120 464h4v4h-4zM120 468h4v4h-4zM120 472h4v4h-4zM120 476h4v4h-4zM136 492h4v4h-4z"/>
<path fill="#306bfb" d="M472 144h4v4h-4zM480 152h4v4h-4zM484 156h4v4h-4zM520 156h4v4h-4zM492 164h4v4h-4zM512 164h4v4h-4zM560 168h4v4h-4zM580 172h4v4h-4zM192 208h4v4h-4zM320 236h4v4h-4zM484 304h28v4h-28zM472 312h16v4h-16zM108 344h4v4h-4zM108 348h4v4h-4zM148 348h4v4h-4zM108 352h4v4h-4zM232 352h4v4h-4zM108 356h4v4h-4zM140 356h4v4h-4zM156 356h4v4h-4zM236 356h4v4h-4zM108 360h4v4h-4zM136 360h4v4h-4zM236 360h4v4h-4zM108 364h4v4h-4zM236 364h4v4h-4zM108 368h4v4h-4zM128 368h4v4h-4zM236 368h4v4h-4zM108 372h4v4h-4zM108 376h4v4h-4zM244 376h4v4h-4zM108 380h4v4h-4zM216 380h4v4h-4zM112 384h4v4h-4zM208 388h4v4h-4zM112 400h4v4h-4zM108 404h4v4h-4zM116 404h4v4h-4zM116 408h4v4h-4zM116 412h4v4h-4zM376 412h16v4h-16zM116 416h4v4h-4zM372 416h4v4h-4zM392 416h4v4h-4zM376 420h4v4h-4zM400 424h4v4h-4zM384 428h4v4h-4zM404 428h4v4h-4zM388 432h16v4h-16zM120 504h4v4h-4zM124 508h4v4h-4zM244 508h16v4h-16zM128 512h4v4h-4zM240 512h4v4h-4zM136 520h4v4h-4zM140 524h4v4h-4zM148 532h4v4h-4zM152 536h4v4h-4zM152 540h4v4h-4zM152 544h4v4h-4zM152 548h4v4h-4zM152 552h4v4h-4z"/>
<path fill="#00e8f5" d="M332 148h4v4h-4zM332 156h4v4h-4zM468 160h4v4h-4zM528 172h4v4h-4zM452 180h4v4h-4zM468 180h4v4h-4zM476 184h4v4h-4zM492 184h4v4h-4zM468 192h4v4h-4zM480 204h4v4h-4zM492 204h4v4h-4zM348 208h4v4h-4zM372 216h4v4h-4zM500 216h4v4h-4zM492 220h4v4h-4zM176 232h4v4h-4zM248 232h4v4h-4zM500 232h4v4h-4zM516 232h4v4h-4zM224 240h4v4h-4zM240 240h4v4h-4zM132 252h4v4h-4zM284 256h4v4h-4zM224 268h4v4h-4zM240 268h4v4h-4zM536 276h4v4h-4zM564 276h4v4h-4zM156 288h4v4h-4zM516 288h4v4h-4zM464 300h4v4h-4zM528 300h4v4h-4zM564 304h4v4h-4zM528 316h4v4h-4zM536 316h4v4h-4zM552 316h4v4h-4zM168 324h4v4h-4zM504 324h4v4h-4zM504 336h4v4h-4zM288 352h4v4h-4zM296 360h4v4h-4zM348 360h4v4h-4zM156 376h4v4h-4zM252 376h4v4h-4zM152 384h4v4h-4zM168 384h4v4h-4zM152 396h4v4h-4zM396 396h4v4h-4zM144 412h4v4h-4zM480 420h4v4h-4zM344 436h4v4h-4zM168 448h4v4h-4zM180 448h4v4h-4zM356 448h4v4h-4zM480 448h4v4h-4zM404 460h4v4h-4zM420 460h4v4h-4zM116 484h4v4h-4zM188 492h4v4h-4zM204 492h4v4h-4zM236 492h4v4h-4zM264 492h4v4h-4zM128 496h4v4h-4zM224 504h4v4h-4zM188 520h4v4h-4zM204 520h4v4h-4zM276 528h4v4h-4zM168 532h4v4h-4zM180 540h4v4h-4zM288 540h4v4h-4z"/>
<path fill="#00ea70" d="M464 148h4v4h-4zM428 172h4v4h-4zM560 184h4v4h-4zM516 192h4v4h-4zM516 216h4v4h-4zM204 220h4v4h-4zM192 228h4v4h-4zM348 240h4v4h-4zM408 264h4v4h-4zM476 288h4v4h-4zM336 340h4v4h-4zM380 340h4v4h-4zM248 348h4v4h-4zM168 360h4v4h-4zM284 360h4v4h-4zM372 360h4v4h-4zM200 372h4v4h-4zM264 372h4v4h-4zM272 372h4v4h-4zM260 376h4v4h-4zM344 388h4v4h-4zM452 388h4v4h-4zM444 396h4v4h-4zM408 408h4v4h-4zM416 412h4v4h-4zM432 412h4v4h-4zM540 424h4v4h-4zM180 432h4v4h-4zM156 456h4v4h-4zM144 504h4v4h-4z"/>
<path fill="#00ea66" d="M464 152h4v4h-4zM452 168h4v4h-4zM540 172h4v4h-4zM380 176h4v4h-4zM428 180h4v4h-4zM432 184h4v4h-4zM116 196h4v4h-4zM128 196h4v4h-4zM460 196h4v4h-4zM504 196h4v4h-4zM504 204h4v4h-4zM476 212h4v4h-4zM236 228h4v4h-4zM476 228h4v4h-4zM540 228h4v4h-4zM156 232h4v4h-4zM164 232h4v4h-4zM128 240h4v4h-4zM416 240h4v4h-4zM432 240h4v4h-4zM464 240h4v4h-4zM552 240h4v4h-4zM144 244h4v4h-4zM340 244h4v4h-4zM504 244h4v4h-4zM536 244h4v4h-4zM468 256h4v4h-4zM476 256h4v4h-4zM444 264h4v4h-4zM560 264h4v4h-4zM276 268h4v4h-4zM504 276h4v4h-4zM524 276h4v4h-4zM224 280h4v4h-4zM252 280h4v4h-4zM444 280h4v4h-4zM168 300h4v4h-4zM472 328h16v4h-16zM516 328h4v4h-4zM524 328h4v4h-4zM488 332h4v4h-4zM496 340h4v4h-4zM540 340h4v4h-4zM548 340h4v4h-4zM344 348h4v4h-4zM560 352h4v4h-4zM524 360h4v4h-4zM252 368h4v4h-4zM344 368h4v4h-4zM168 372h4v4h-4zM512 376h4v4h-4zM180 384h4v4h-4zM188 384h4v4h-4zM396 384h4v4h-4zM464 384h4v4h-4zM480 396h4v4h-4zM160 400h4v4h-4zM188 400h4v4h-4zM344 404h4v4h-4zM188 408h4v4h-4zM440 408h4v4h-4zM492 408h4v4h-4zM512 408h4v4h-4zM528 412h4v4h-4zM424 420h4v4h-4zM528 420h4v4h-4zM124 424h4v4h-4zM120 432h4v4h-4zM200 432h4v4h-4zM216 432h4v4h-4zM332 432h4v4h-4zM548 432h4v4h-4zM552 436h4v4h-4zM164 440h4v4h-4zM164 460h4v4h-4zM176 484h4v4h-4zM120 488h4v4h-4zM124 492h4v4h-4zM176 504h4v4h-4zM156 524h4v4h-4zM160 528h4v4h-4z"/>
<path fill="#f3f5ff" d="M132 156h4v4h-4zM148 180h4v4h-4zM196 204h4v4h-4zM336 316h4v4h-4zM104 476h4v4h-4z"/>
<path fill="#fafaff" d="M136 156h4v4h-4zM144 164h4v4h-4zM144 168h4v4h-4zM144 172h4v4h-4zM144 176h4v4h-4zM232 192h16v4h-16zM224 200h4v4h-4zM220 204h4v4h-4zM352 316h16v4h-16zM336 320h4v4h-4zM340 324h16v4h-16zM104 500h4v4h-4zM96 504h8v4h-8z"/>
<path fill="#00eb1f" d="M368 156h4v4h-4zM396 160h4v4h-4zM428 184h4v4h-4zM528 188h4v4h-4zM520 196h4v4h-4zM108 204h4v4h-4zM156 204h4v4h-4zM120 232h4v4h-4zM372 232h4v4h-4zM356 240h4v4h-4zM144 252h4v4h-4zM320 252h4v4h-4zM404 252h4v4h-4zM300 264h4v4h-4zM144 268h4v4h-4zM408 288h4v4h-4zM236 292h4v4h-4zM180 324h4v4h-4zM320 336h4v4h-4zM488 340h4v4h-4zM336 352h4v4h-4zM448 384h4v4h-4zM440 392h4v4h-4zM408 400h4v4h-4zM544 420h4v4h-4zM552 428h4v4h-4zM556 432h28v4h-28z"/>
<path fill="#0aec00" d="M372 156h4v4h-4zM408 168h4v4h-4zM152 204h4v4h-4zM408 232h4v4h-4zM156 252h4v4h-4zM176 264h4v4h-4zM204 264h4v4h-4zM156 268h4v4h-4zM176 280h4v4h-4zM204 280h4v4h-4zM360 292h4v4h-4zM212 300h4v4h-4zM408 304h4v4h-4zM416 312h4v4h-4zM432 312h4v4h-4zM416 328h4v4h-4zM432 328h4v4h-4zM428 336h4v4h-4zM444 336h4v4h-4zM312 340h4v4h-4zM320 340h4v4h-4zM416 348h4v4h-4zM404 360h4v4h-4zM444 376h4v4h-4zM300 400h4v4h-4zM260 412h4v4h-4zM288 412h4v4h-4zM144 432h4v4h-4zM120 480h4v4h-4zM132 492h4v4h-4zM156 496h4v4h-4z"/>
<path fill="#00ea52" d="M384 156h4v4h-4zM428 168h4v4h-4zM528 184h4v4h-4zM200 220h4v4h-4zM132 232h4v4h-4zM192 232h4v4h-4zM368 300h4v4h-4zM384 340h4v4h-4zM168 364h4v4h-4zM272 364h4v4h-4zM260 372h4v4h-4zM404 388h4v4h-4zM140 496h4v4h-4z"/>
<path fill="#00e9a3" d="M396 156h4v4h-4zM104 204h4v4h-4zM216 220h4v4h-4zM116 232h4v4h-4zM140 252h4v4h-4zM408 252h4v4h-4zM140 268h4v4h-4zM236 288h4v4h-4zM348 300h4v4h-4zM396 316h4v4h-4zM176 324h4v4h-4zM488 328h4v4h-4zM248 356h4v4h-4zM216 400h4v4h-4zM224 400h4v4h-4zM404 400h4v4h-4z"/>
<path fill="#f5f7ff" d="M224 160h4v4h-4zM240 160h4v4h-4zM104 488h4v4h-4zM104 504h4v4h-4z"/>
<path fill="#00e9cc" d="M360 160h4v4h-4zM368 172h4v4h-4zM520 180h4v4h-4zM444 184h4v4h-4zM512 188h4v4h-4zM452 192h4v4h-4zM164 208h4v4h-4zM156 220h4v4h-4zM480 220h4v4h-4zM144 232h4v4h-4zM464 324h4v4h-4zM288 360h4v4h-4zM300 360h4v4h-4zM456 392h4v4h-4zM168 396h4v4h-4zM348 396h4v4h-4zM200 400h4v4h-4zM448 400h4v4h-4zM132 420h4v4h-4zM120 424h4v4h-4zM536 428h4v4h-4zM168 432h4v4h-4zM536 432h4v4h-4zM536 436h4v4h-4zM536 440h4v4h-4zM532 444h4v4h-4zM524 452h4v4h-4zM524 456h4v4h-4zM524 460h4v4h-4zM524 464h4v4h-4zM524 468h4v4h-4zM524 472h4v4h-4zM524 476h4v4h-4zM524 480h4v4h-4zM524 484h4v4h-4zM524 488h4v4h-4zM524 492h4v4h-4zM524 496h4v4h-4zM524 500h4v4h-4zM524 504h4v4h-4zM524 508h4v4h-4zM524 512h4v4h-4zM152 516h4v4h-4zM524 516h4v4h-4zM524 520h4v4h-4zM524 524h4v4h-4zM524 528h4v4h-4zM524 532h4v4h-4zM524 536h4v4h-4zM524 540h4v4h-4zM524 544h4v4h-4zM524 548h4v4h-4zM524 552h4v4h-4z"/>
<path fill="#66f300" d="M380 160h4v4h-4zM408 184h4v4h-4zM128 228h4v4h-4zM380 232h4v4h-4zM344 292h4v4h-4zM228 300h4v4h-4zM284 372h4v4h-4zM408 384h4v4h-4zM252 400h4v4h-4zM144 492h4v4h-4z"/>
<path fill="#47f100" d="M384 160h4v4h-4zM396 168h4v4h-4zM132 204h4v4h-4zM132 228h4v4h-4zM320 304h4v4h-4zM428 348h4v4h-4zM416 360h4v4h-4zM260 364h4v4h-4zM332 364h4v4h-4zM432 376h4v4h-4zM408 388h4v4h-4zM416 400h4v4h-4zM420 408h4v4h-4zM428 408h4v4h-4zM144 456h4v4h-4zM152 460h4v4h-4zM128 484h4v4h-4zM140 492h4v4h-4z"/>
<path fill="#14ed00" d="M392 160h4v4h-4zM136 204h4v4h-4zM108 208h4v4h-4zM120 228h4v4h-4zM364 240h4v4h-4zM328 252h4v4h-4zM144 256h4v4h-4zM404 256h4v4h-4zM144 264h4v4h-4zM304 264h4v4h-4zM240 292h4v4h-4zM408 292h4v4h-4zM180 328h4v4h-4zM220 340h4v4h-4zM216 344h4v4h-4zM336 348h4v4h-4zM408 396h4v4h-4z"/>
<path fill="#f6f7ff" d="M240 168h4v4h-4zM236 172h4v4h-4zM204 204h4v4h-4z"/>
<path fill="#52f100" d="M380 168h4v4h-4zM404 172h4v4h-4zM408 208h4v4h-4zM404 228h4v4h-4zM152 256h4v4h-4zM152 264h4v4h-4zM180 268h4v4h-4zM200 268h4v4h-4zM296 268h4v4h-4zM180 276h4v4h-4zM200 276h4v4h-4zM356 288h4v4h-4zM372 300h4v4h-4zM404 300h4v4h-4zM216 304h4v4h-4zM420 316h4v4h-4zM428 316h4v4h-4zM188 324h4v4h-4zM420 324h4v4h-4zM428 324h4v4h-4zM308 336h4v4h-4zM432 340h4v4h-4zM440 340h4v4h-4zM420 352h4v4h-4zM408 364h4v4h-4zM440 372h4v4h-4zM296 396h4v4h-4zM264 408h4v4h-4zM284 408h4v4h-4zM140 436h4v4h-4zM152 492h4v4h-4z"/>
<path fill="#8ff600" d="M384 168h4v4h-4zM392 168h4v4h-4zM396 172h4v4h-4zM408 192h4v4h-4zM116 216h4v4h-4zM120 220h4v4h-4zM336 252h4v4h-4zM336 292h4v4h-4zM396 300h4v4h-4zM204 312h4v4h-4zM200 316h4v4h-4zM432 352h4v4h-4zM420 364h4v4h-4zM428 372h4v4h-4zM420 396h4v4h-4zM140 460h4v4h-4zM132 480h4v4h-4z"/>
<path fill="#b8f900" d="M388 168h4v4h-4zM396 176h4v4h-4zM120 204h4v4h-4zM116 208h4v4h-4zM396 228h4v4h-4zM384 232h4v4h-4zM392 232h4v4h-4zM348 244h4v4h-4zM392 252h4v4h-4zM396 256h4v4h-4zM248 292h4v4h-4zM392 300h4v4h-4zM312 312h4v4h-4zM308 316h4v4h-4zM288 396h4v4h-4zM284 400h4v4h-4z"/>
<path fill="#1fed00" d="M404 168h4v4h-4zM408 172h4v4h-4zM140 204h8v4h-8zM408 228h4v4h-4zM404 232h4v4h-4zM152 252h4v4h-4zM156 256h4v4h-4zM156 264h4v4h-4zM180 264h4v4h-4zM200 264h4v4h-4zM152 268h4v4h-4zM176 268h4v4h-4zM204 268h4v4h-4zM176 276h4v4h-4zM204 276h4v4h-4zM284 276h4v4h-4zM180 280h4v4h-4zM200 280h4v4h-4zM360 288h4v4h-4zM356 292h4v4h-4zM216 300h4v4h-4zM408 300h4v4h-4zM212 304h4v4h-4zM404 304h4v4h-4zM420 312h4v4h-4zM428 312h4v4h-4zM416 316h4v4h-4zM432 316h4v4h-4zM416 324h4v4h-4zM432 324h4v4h-4zM420 328h4v4h-4zM428 328h4v4h-4zM312 336h4v4h-4zM432 336h4v4h-4zM440 336h4v4h-4zM308 340h4v4h-4zM428 340h4v4h-4zM444 340h4v4h-4zM420 348h4v4h-4zM176 352h4v4h-4zM416 352h4v4h-4zM176 360h4v4h-4zM276 360h4v4h-4zM308 360h4v4h-4zM408 360h4v4h-4zM404 364h4v4h-4zM444 372h4v4h-4zM324 376h4v4h-4zM440 376h4v4h-4zM312 388h4v4h-4zM300 396h4v4h-4zM296 400h4v4h-4zM260 408h4v4h-4zM288 408h4v4h-4zM264 412h4v4h-4zM284 412h4v4h-4zM140 432h4v4h-4zM144 436h4v4h-4zM120 448h4v4h-4zM156 492h4v4h-4zM152 496h4v4h-4z"/>
<path fill="#2193fc" d="M512 168h4v4h-4zM212 216h4v4h-4zM224 216h4v4h-4zM320 240h4v4h-4zM344 304h4v4h-4zM372 304h4v4h-4zM392 312h4v4h-4zM468 312h4v4h-4zM324 324h4v4h-4zM392 324h4v4h-4zM236 348h4v4h-4zM228 352h4v4h-4zM240 352h4v4h-4zM144 360h4v4h-4zM140 364h4v4h-4zM104 384h4v4h-4zM116 384h4v4h-4zM108 388h4v4h-4zM204 388h4v4h-4zM108 396h4v4h-4zM212 396h4v4h-4zM228 396h4v4h-4zM104 400h4v4h-4zM372 408h4v4h-4zM368 412h4v4h-4zM368 420h4v4h-4zM116 424h4v4h-4zM372 424h4v4h-4zM380 432h4v4h-4zM408 432h4v4h-4zM384 436h4v4h-4zM404 436h4v4h-4zM260 508h4v4h-4z"/>
<path fill="#f4f6ff" d="M240 172h4v4h-4zM180 180h4v4h-4zM200 204h4v4h-4zM368 324h4v4h-4z"/>
<path fill="#85f500" d="M384 172h4v4h-4zM384 176h4v4h-4zM312 256h4v4h-4zM180 336h4v4h-4zM204 360h4v4h-4z"/>
<path fill="#e0fd00" d="M388 172h4v4h-4zM392 176h4v4h-4zM404 208h4v4h-4zM404 268h4v4h-4zM212 312h4v4h-4zM188 328h4v4h-4zM324 348h4v4h-4zM188 352h4v4h-4zM276 352h4v4h-4zM324 364h4v4h-4zM276 376h4v4h-4zM312 376h4v4h-4z"/>
<path fill="#c2fa00" d="M392 172h4v4h-4zM408 200h4v4h-4zM144 216h4v4h-4zM140 220h4v4h-4zM340 252h4v4h-4zM296 272h4v4h-4zM256 288h28v4h-28zM328 292h4v4h-4zM384 300h4v4h-4zM208 312h4v4h-4zM200 320h4v4h-4zM196 324h4v4h-4zM316 348h4v4h-4zM272 360h4v4h-4z"/>
<path fill="#09d1fe" d="M512 172h4v4h-4zM564 180h4v4h-4zM512 220h4v4h-4zM332 228h4v4h-4zM348 232h4v4h-4zM336 240h4v4h-4zM320 244h4v4h-4zM480 292h4v4h-4zM552 304h4v4h-4zM464 312h4v4h-4zM348 340h4v4h-4zM224 352h4v4h-4zM368 364h4v4h-4zM348 372h4v4h-4zM144 376h4v4h-4zM204 376h4v4h-4zM120 384h4v4h-4zM348 384h4v4h-4zM200 388h4v4h-4zM356 388h4v4h-4zM128 396h4v4h-4zM356 396h4v4h-4zM372 396h4v4h-4zM348 408h4v4h-4zM132 412h4v4h-4zM404 412h4v4h-4zM420 424h4v4h-4zM428 424h4v4h-4zM176 436h4v4h-4zM356 436h4v4h-4zM404 448h4v4h-4zM420 448h4v4h-4zM140 508h4v4h-4zM264 508h4v4h-4zM168 540h4v4h-4z"/>
<path fill="#ffff00" d="M388 176h4v4h-4zM396 180h4v4h-4zM128 220h4v4h-4zM288 280h4v4h-4zM240 300h4v4h-4zM288 336h4v4h-4zM180 348h4v4h-4zM180 364h4v4h-4zM320 372h4v4h-4zM308 384h4v4h-4zM296 388h4v4h-4zM264 400h4v4h-4zM276 400h4v4h-4z"/>
<path fill="#adf900" d="M384 180h4v4h-4zM404 180h4v4h-4zM408 196h4v4h-4zM128 204h4v4h-4zM348 288h4v4h-4zM332 292h4v4h-4zM380 300h4v4h-4zM224 304h4v4h-4zM300 328h4v4h-4zM188 360h4v4h-4zM192 364h4v4h-4zM248 396h4v4h-4z"/>
<path fill="#ffe800" d="M388 180h4v4h-4zM120 208h4v4h-4zM400 208h4v4h-4zM144 212h4v4h-4zM136 220h4v4h-4zM392 228h4v4h-4zM372 248h4v4h-4zM392 256h4v4h-4zM396 264h4v4h-4zM360 272h4v4h-4zM352 280h4v4h-4zM396 292h4v4h-4zM248 296h4v4h-4zM244 300h4v4h-4zM312 304h4v4h-4zM220 312h4v4h-4zM308 312h4v4h-4zM300 316h4v4h-4zM188 332h4v4h-4zM288 332h4v4h-4zM208 352h4v4h-4zM312 352h4v4h-4zM268 384h4v4h-4zM292 388h4v4h-4zM284 396h4v4h-4zM268 400h4v4h-4z"/>
<path fill="#fff100" d="M392 180h4v4h-4zM404 184h4v4h-4zM384 188h4v4h-4zM384 192h4v4h-4zM384 196h4v4h-4zM384 200h4v4h-4zM384 204h4v4h-4zM384 208h4v4h-4zM384 212h4v4h-4zM384 216h4v4h-4zM132 220h4v4h-4zM384 220h4v4h-4zM384 224h4v4h-4zM312 260h4v4h-4zM404 272h4v4h-4zM404 276h4v4h-4zM404 280h4v4h-4zM404 284h4v4h-4zM344 288h4v4h-4zM228 304h4v4h-4zM332 356h4v4h-4zM192 360h4v4h-4zM268 360h4v4h-4zM188 364h4v4h-4zM280 376h4v4h-4zM256 388h4v4h-4zM252 396h4v4h-4zM272 400h4v4h-4z"/>
<path fill="#ebfd00" d="M400 180h4v4h-4zM124 204h4v4h-4zM116 212h4v4h-4zM396 212h4v4h-4zM396 216h4v4h-4zM124 220h4v4h-4zM396 220h4v4h-4zM396 224h4v4h-4zM388 232h4v4h-4zM376 252h16v4h-16zM396 260h4v4h-4zM400 264h4v4h-4zM364 268h4v4h-4zM368 272h4v4h-4zM360 276h4v4h-4zM356 280h4v4h-4zM348 284h4v4h-4zM404 288h4v4h-4zM400 292h4v4h-4zM396 296h4v4h-4zM316 304h4v4h-4zM224 308h4v4h-4zM312 308h4v4h-4zM304 316h4v4h-4zM300 320h4v4h-4zM292 328h4v4h-4zM184 336h4v4h-4zM328 348h4v4h-4zM332 352h4v4h-4zM204 356h4v4h-4zM180 372h4v4h-4zM188 372h4v4h-4zM272 380h4v4h-4zM248 392h4v4h-4zM288 392h4v4h-4zM280 400h4v4h-4z"/>
<path fill="#3df000" d="M408 180h4v4h-4zM332 252h4v4h-4zM348 292h4v4h-4zM224 300h4v4h-4zM248 388h4v4h-4zM248 400h4v4h-4z"/>
<path fill="#f5fe00" d="M384 184h4v4h-4zM384 228h4v4h-4zM372 244h4v4h-4zM320 300h4v4h-4zM252 356h4v4h-4z"/>
<path fill="#ffba00" d="M388 184h4v4h-4zM128 208h4v4h-4zM236 304h4v4h-4zM204 316h4v4h-4zM284 340h4v4h-4zM300 384h4v4h-4zM260 396h4v4h-4z"/>
<path fill="#ffbf00" d="M392 184h4v4h-4zM404 192h4v4h-4zM368 244h4v4h-4zM312 264h4v4h-4zM368 264h4v4h-4zM372 268h4v4h-4zM336 288h4v4h-4zM252 348h4v4h-4z"/>
<path fill="#ffc300" d="M396 184h4v4h-4zM140 208h4v4h-4z"/>
<path fill="#ffc800" d="M400 184h4v4h-4zM124 208h4v4h-4zM120 212h4v4h-4zM392 212h4v4h-4zM124 216h4v4h-4zM392 216h4v4h-4zM392 220h4v4h-4zM392 224h4v4h-4zM388 228h4v4h-4zM376 256h16v4h-16zM392 260h4v4h-4zM364 264h4v4h-4zM400 268h4v4h-4zM372 272h4v4h-4zM344 284h4v4h-4zM400 288h4v4h-4zM392 296h4v4h-4zM316 300h4v4h-4zM228 308h4v4h-4zM308 308h4v4h-4zM304 312h4v4h-4zM296 320h4v4h-4zM292 324h4v4h-4zM184 340h4v4h-4zM212 348h4v4h-4zM328 352h4v4h-4zM200 356h4v4h-4zM288 372h4v4h-4zM284 376h4v4h-4zM276 380h4v4h-4zM252 392h4v4h-4zM284 392h4v4h-4zM280 396h4v4h-4z"/>
<path fill="#00ea33" d="M380 188h4v4h-4zM380 192h4v4h-4zM120 196h4v4h-4zM380 196h4v4h-4zM512 196h4v4h-4zM380 200h4v4h-4zM380 204h4v4h-4zM380 208h4v4h-4zM380 212h4v4h-4zM380 216h4v4h-4zM380 220h4v4h-4zM380 224h4v4h-4zM352 240h4v4h-4zM316 252h4v4h-4zM308 260h4v4h-4zM408 272h4v4h-4zM408 276h4v4h-4zM408 280h4v4h-4zM408 284h4v4h-4zM248 288h4v4h-4zM308 348h4v4h-4zM336 356h4v4h-4zM268 364h4v4h-4zM284 368h4v4h-4zM280 372h4v4h-4zM256 384h4v4h-4zM456 384h4v4h-4zM440 400h4v4h-4zM536 420h4v4h-4zM120 436h4v4h-4z"/>
<path fill="#ffa300" d="M388 188h16v4h-16zM388 192h4v4h-4zM388 196h4v4h-4zM388 200h4v4h-4zM388 204h4v4h-4zM132 208h4v4h-4zM388 208h4v4h-4zM124 212h4v4h-4zM388 212h4v4h-4zM388 216h4v4h-4zM388 220h4v4h-4zM388 224h4v4h-4zM352 248h4v4h-4zM316 260h4v4h-4zM364 260h28v4h-28zM376 264h4v4h-4zM392 264h4v4h-4zM376 268h4v4h-4zM396 268h4v4h-4zM376 272h4v4h-4zM400 272h4v4h-4zM376 276h4v4h-4zM400 276h4v4h-4zM376 280h4v4h-4zM400 280h4v4h-4zM292 284h4v4h-4zM340 284h4v4h-4zM376 284h4v4h-4zM400 284h4v4h-4zM376 288h4v4h-4zM396 288h4v4h-4zM376 292h4v4h-4zM392 292h4v4h-4zM316 296h4v4h-4zM376 296h16v4h-16zM312 300h4v4h-4zM308 304h4v4h-4zM232 308h4v4h-4zM304 308h4v4h-4zM300 312h4v4h-4zM296 316h4v4h-4zM292 320h4v4h-4zM228 336h4v4h-4zM184 344h4v4h-4zM280 344h4v4h-4zM196 356h4v4h-4zM256 356h16v4h-16zM328 356h4v4h-4zM184 368h4v4h-4zM292 368h4v4h-4zM316 368h4v4h-4zM280 380h4v4h-4zM304 380h4v4h-4zM280 384h4v4h-4zM280 388h4v4h-4zM256 392h4v4h-4zM280 392h4v4h-4z"/>
<path fill="#ffda00" d="M404 188h4v4h-4zM356 244h4v4h-4zM348 248h4v4h-4zM320 256h4v4h-4zM292 280h4v4h-4zM288 284h4v4h-4zM372 284h4v4h-4zM340 288h4v4h-4zM372 288h4v4h-4zM372 292h4v4h-4zM320 296h4v4h-4zM372 296h4v4h-4zM232 304h4v4h-4zM200 324h4v4h-4zM180 344h4v4h-4zM284 344h4v4h-4zM184 348h4v4h-4zM280 348h4v4h-4zM192 356h4v4h-4zM272 356h4v4h-4zM196 360h4v4h-4zM256 360h4v4h-4zM328 360h4v4h-4zM184 364h4v4h-4zM180 368h4v4h-4zM188 368h4v4h-4zM320 368h4v4h-4zM184 372h4v4h-4zM316 372h4v4h-4zM308 380h4v4h-4zM304 384h4v4h-4zM256 396h4v4h-4z"/>
<path fill="#7af500" d="M408 188h4v4h-4zM372 240h4v4h-4zM344 248h4v4h-4zM292 276h4v4h-4zM284 284h4v4h-4zM368 284h4v4h-4zM368 288h4v4h-4zM340 292h4v4h-4zM368 292h4v4h-4zM324 296h4v4h-4zM368 296h4v4h-4zM232 300h4v4h-4zM248 340h4v4h-4zM176 344h4v4h-4zM288 344h4v4h-4zM432 348h4v4h-4zM184 352h4v4h-4zM280 352h4v4h-4zM428 352h4v4h-4zM188 356h4v4h-4zM276 356h4v4h-4zM184 360h4v4h-4zM420 360h4v4h-4zM196 364h4v4h-4zM256 364h4v4h-4zM328 364h4v4h-4zM416 364h4v4h-4zM176 368h4v4h-4zM192 368h4v4h-4zM324 368h4v4h-4zM432 372h4v4h-4zM184 376h4v4h-4zM316 376h4v4h-4zM428 376h4v4h-4zM312 380h4v4h-4zM304 388h4v4h-4zM416 396h4v4h-4zM256 400h4v4h-4zM420 400h4v4h-4zM140 456h4v4h-4zM144 460h4v4h-4zM128 480h4v4h-4zM132 484h4v4h-4z"/>
<path fill="#ff9a00" d="M392 192h4v4h-4zM380 264h4v4h-4zM380 292h4v4h-4zM224 336h4v4h-4z"/>
<path fill="#ff8c00" d="M396 192h4v4h-4zM392 196h4v4h-4zM384 264h4v4h-4zM380 268h4v4h-4zM380 288h4v4h-4zM384 292h4v4h-4zM264 388h4v4h-4z"/>
<path fill="#ff8100" d="M400 192h4v4h-4zM392 200h4v4h-4zM128 212h4v4h-4zM132 216h4v4h-4zM356 248h4v4h-4zM352 252h4v4h-4zM336 256h4v4h-4zM364 256h4v4h-4zM320 260h4v4h-4zM360 260h4v4h-4zM316 264h4v4h-4zM388 264h4v4h-4zM308 268h4v4h-4zM380 272h4v4h-4zM396 272h4v4h-4zM380 276h4v4h-4zM396 276h4v4h-4zM340 280h4v4h-4zM380 280h4v4h-4zM396 280h4v4h-4zM296 284h4v4h-4zM336 284h4v4h-4zM380 284h4v4h-4zM396 284h4v4h-4zM292 288h4v4h-4zM316 292h4v4h-4zM388 292h4v4h-4zM312 296h4v4h-4zM304 304h4v4h-4zM236 308h4v4h-4zM300 308h4v4h-4zM232 312h4v4h-4zM292 316h4v4h-4zM288 320h4v4h-4zM280 340h4v4h-4zM188 344h4v4h-4zM276 344h4v4h-4zM196 352h4v4h-4zM256 352h16v4h-16zM324 356h4v4h-4zM316 364h4v4h-4zM296 368h4v4h-4zM312 368h4v4h-4zM292 372h4v4h-4zM304 376h4v4h-4zM284 380h4v4h-4zM300 380h4v4h-4zM260 392h4v4h-4zM276 392h4v4h-4zM272 396h4v4h-4z"/>
<path fill="#ff5400" d="M396 196h4v4h-4zM356 268h4v4h-4zM384 268h4v4h-4zM348 276h4v4h-4zM384 288h4v4h-4zM224 316h4v4h-4zM284 328h4v4h-4zM192 336h4v4h-4zM204 348h4v4h-4z"/>
<path fill="#ff3800" d="M400 196h4v4h-4zM396 200h4v4h-4zM132 212h4v4h-4zM360 248h4v4h-4zM364 252h4v4h-4zM352 256h4v4h-4zM324 260h4v4h-4zM356 260h4v4h-4zM316 268h4v4h-4zM388 268h4v4h-4zM384 272h4v4h-4zM392 272h4v4h-4zM340 276h4v4h-4zM384 276h4v4h-4zM392 276h4v4h-4zM384 280h4v4h-4zM392 280h4v4h-4zM300 284h4v4h-4zM332 284h4v4h-4zM384 284h4v4h-4zM392 284h4v4h-4zM316 288h4v4h-4zM388 288h4v4h-4zM292 292h4v4h-4zM308 296h4v4h-4zM304 300h4v4h-4zM240 308h4v4h-4zM296 308h4v4h-4zM292 312h4v4h-4zM232 316h4v4h-4zM284 320h4v4h-4zM252 336h4v4h-4zM280 336h4v4h-4zM192 344h4v4h-4zM272 344h4v4h-4zM196 348h4v4h-4zM256 348h16v4h-16zM320 356h4v4h-4zM316 360h4v4h-4zM300 368h4v4h-4zM308 368h4v4h-4zM304 372h4v4h-4zM292 376h4v4h-4zM288 380h4v4h-4zM296 380h4v4h-4zM264 392h4v4h-4zM272 392h4v4h-4z"/>
<path fill="#ff9500" d="M404 196h4v4h-4zM392 204h4v4h-4zM136 208h4v4h-4zM364 244h4v4h-4zM328 256h4v4h-4zM368 256h4v4h-4zM304 268h4v4h-4zM332 288h4v4h-4zM220 336h4v4h-4zM212 344h4v4h-4zM284 384h4v4h-4zM276 388h4v4h-4z"/>
<path fill="#ff0b00" d="M400 200h4v4h-4zM136 212h4v4h-4zM364 248h4v4h-4zM328 260h28v4h-28zM328 264h28v4h-28zM328 268h28v4h-28zM304 272h52v4h-52zM388 272h4v4h-4zM304 276h28v4h-28zM388 276h4v4h-4zM304 280h28v4h-28zM388 280h4v4h-4zM304 284h28v4h-28zM388 284h4v4h-4zM304 288h4v4h-4zM304 292h4v4h-4zM256 296h52v4h-52zM256 300h40v4h-40zM256 304h40v4h-40zM244 308h52v4h-52zM244 312h40v4h-40zM244 316h40v4h-40zM208 320h76v4h-76zM208 324h76v4h-76zM208 328h76v4h-76zM196 332h88v4h-88zM196 336h16v4h-16zM256 336h16v4h-16zM196 340h16v4h-16zM256 340h16v4h-16zM196 344h16v4h-16zM256 344h16v4h-16zM316 356h4v4h-4zM304 368h4v4h-4zM292 380h4v4h-4zM268 392h4v4h-4z"/>
<path fill="#ff7600" d="M404 200h4v4h-4zM396 204h4v4h-4zM368 252h4v4h-4zM340 256h4v4h-4zM300 272h4v4h-4zM328 288h4v4h-4zM256 292h28v4h-28zM208 316h4v4h-4zM204 320h4v4h-4zM196 328h4v4h-4zM216 336h4v4h-4zM212 340h4v4h-4zM316 352h4v4h-4zM288 384h4v4h-4zM272 388h4v4h-4z"/>
<path fill="#5cf200" d="M116 204h4v4h-4zM396 232h4v4h-4zM396 252h4v4h-4zM288 276h4v4h-4zM284 280h4v4h-4zM312 316h4v4h-4zM176 348h4v4h-4zM180 352h4v4h-4zM180 360h4v4h-4zM176 364h4v4h-4zM324 372h4v4h-4zM320 376h4v4h-4zM312 384h4v4h-4zM308 388h4v4h-4zM288 400h4v4h-4z"/>
<path fill="#ff5f00" d="M400 204h4v4h-4zM140 212h4v4h-4zM136 216h4v4h-4zM368 248h4v4h-4zM392 268h4v4h-4zM356 272h4v4h-4zM352 276h4v4h-4zM392 288h4v4h-4zM252 296h4v4h-4zM308 300h4v4h-4zM244 304h4v4h-4zM296 312h4v4h-4zM220 316h4v4h-4zM192 332h4v4h-4zM284 332h4v4h-4zM208 348h4v4h-4zM292 384h4v4h-4zM268 388h4v4h-4zM268 396h4v4h-4z"/>
<path fill="#ffac00" d="M404 204h4v4h-4zM128 216h4v4h-4zM360 244h4v4h-4zM348 252h4v4h-4zM324 256h4v4h-4zM372 264h4v4h-4zM296 280h4v4h-4zM288 288h4v4h-4zM320 292h4v4h-4zM192 328h4v4h-4zM276 396h4v4h-4z"/>
<path fill="#d6fc00" d="M144 208h4v4h-4zM300 324h4v4h-4zM296 328h4v4h-4zM284 348h4v4h-4zM264 384h4v4h-4z"/>
<path fill="#ffb500" d="M392 208h4v4h-4zM372 256h4v4h-4zM252 292h4v4h-4zM248 300h4v4h-4zM324 352h4v4h-4zM312 356h4v4h-4zM304 364h4v4h-4zM276 384h4v4h-4zM284 388h4v4h-4z"/>
<path fill="#ffd600" d="M396 208h4v4h-4zM372 252h4v4h-4zM300 268h4v4h-4zM372 280h4v4h-4zM272 384h4v4h-4zM288 388h4v4h-4z"/>
<path fill="#ffed00" d="M120 216h4v4h-4zM368 268h4v4h-4zM252 352h4v4h-4zM264 360h4v4h-4z"/>
<path fill="#ffa800" d="M140 216h4v4h-4zM232 336h16v4h-16zM252 344h4v4h-4zM312 360h4v4h-4zM308 364h4v4h-4z"/>
<path fill="#fff600" d="M352 244h4v4h-4zM344 252h4v4h-4zM316 256h4v4h-4zM296 276h4v4h-4zM284 288h4v4h-4zM324 292h4v4h-4zM216 312h4v4h-4zM288 368h4v4h-4z"/>
<path fill="#ff6a00" d="M356 252h4v4h-4zM360 256h4v4h-4zM296 372h4v4h-4zM288 376h4v4h-4zM300 376h4v4h-4z"/>
<path fill="#ff4900" d="M360 252h4v4h-4zM348 256h4v4h-4zM356 256h4v4h-4zM300 280h4v4h-4zM320 288h4v4h-4zM288 292h4v4h-4zM300 372h4v4h-4zM296 376h4v4h-4z"/>
<path fill="#ff9100" d="M332 256h4v4h-4zM320 352h4v4h-4zM312 364h4v4h-4z"/>
<path fill="#ff6500" d="M344 256h4v4h-4zM320 264h4v4h-4zM300 276h4v4h-4zM336 280h4v4h-4zM296 288h4v4h-4zM324 288h4v4h-4zM284 292h4v4h-4zM312 292h4v4h-4zM300 304h4v4h-4zM236 312h4v4h-4zM216 316h4v4h-4zM288 316h4v4h-4zM276 340h4v4h-4zM192 348h4v4h-4zM272 348h4v4h-4zM320 360h4v4h-4zM308 372h4v4h-4z"/>
<path fill="#ff2d00" d="M324 264h4v4h-4zM320 268h4v4h-4zM336 276h4v4h-4zM332 280h4v4h-4zM300 288h4v4h-4zM312 288h4v4h-4zM296 292h4v4h-4zM308 292h4v4h-4zM300 300h4v4h-4zM296 304h4v4h-4zM240 312h4v4h-4zM288 312h4v4h-4zM236 316h4v4h-4zM284 316h4v4h-4zM276 336h4v4h-4zM272 340h4v4h-4z"/>
<path fill="#ff4300" d="M356 264h4v4h-4zM344 276h4v4h-4zM228 316h4v4h-4zM284 324h4v4h-4zM192 340h4v4h-4zM200 348h4v4h-4z"/>
<path fill="#ff9e00" d="M360 264h4v4h-4zM356 276h4v4h-4zM344 280h4v4h-4zM228 312h4v4h-4zM288 324h4v4h-4zM188 340h4v4h-4zM200 352h4v4h-4z"/>
<path fill="#ff4e00" d="M312 268h4v4h-4zM252 300h4v4h-4zM248 304h4v4h-4z"/>
<path fill="#ff1600" d="M324 268h4v4h-4zM332 276h4v4h-4zM308 288h4v4h-4zM300 292h4v4h-4zM296 300h4v4h-4zM284 312h4v4h-4zM240 316h4v4h-4zM272 336h4v4h-4z"/>
<path fill="#ffcc00" d="M360 268h4v4h-4zM372 276h4v4h-4zM348 280h4v4h-4zM224 312h4v4h-4zM288 328h4v4h-4zM188 336h4v4h-4zM204 352h4v4h-4z"/>
<path fill="#ccfb00" d="M368 276h4v4h-4zM388 300h4v4h-4zM216 340h4v4h-4zM320 348h4v4h-4zM332 360h4v4h-4zM292 364h4v4h-4zM252 388h4v4h-4z"/>
<path fill="#a3f800" d="M236 300h4v4h-4zM376 300h4v4h-4zM288 340h4v4h-4zM212 352h4v4h-4zM300 388h4v4h-4zM260 400h4v4h-4z"/>
<path fill="#ff8600" d="M240 304h4v4h-4zM248 336h4v4h-4zM284 336h4v4h-4zM252 340h4v4h-4zM296 384h4v4h-4zM264 396h4v4h-4z"/>
<path fill="#ff2200" d="M252 304h4v4h-4z"/>
<path fill="#ff7000" d="M212 316h4v4h-4z"/>
<path fill="#ff5a00" d="M204 324h4v4h-4zM200 328h4v4h-4z"/>
<path fill="#ffe300" d="M296 324h4v4h-4z"/>
<path fill="#ff2700" d="M204 328h4v4h-4z"/>
<path fill="#ff3200" d="M212 336h4v4h-4z"/>
<path fill="#fffa00" d="M180 340h4v4h-4zM200 360h4v4h-4zM296 364h4v4h-4z"/>
<path fill="#ffb100" d="M188 348h4v4h-4zM276 348h4v4h-4zM192 352h4v4h-4zM272 352h4v4h-4zM324 360h4v4h-4zM320 364h4v4h-4zM312 372h4v4h-4zM308 376h4v4h-4z"/>
<path fill="#ffdf00" d="M260 360h4v4h-4z"/>
<path fill="#ffd100" d="M300 364h4v4h-4zM260 388h4v4h-4z"/>
<path fill="#f0f2ff" d="M104 472h4v4h-4z"/>
<path fill="#f5f6ff" d="M104 484h4v4h-4z"/></g>
<g fill="none" stroke="#3a3a3a" stroke-width="0.7"><polyline points="-349.0,363.2 -344.5,367.5 -339.9,371.7 -335.3,375.9 -330.7,380.1 -326.0,384.2 -321.3,388.3 -316.6,392.4 -311.9,396.5 -307.1,400.5 -302.3,404.5 -297.5,408.5 -292.7,412.4 -287.8,416.3 -283.0,420.2 -278.1,424.0 -273.1,427.8 -268.2,431.6 -263.2,435.3 -258.2,439.1 -253.2,442.7 -248.1,446.4 -243.0,450.0 -238.0,453.6 -232.8,457.2 -227.7,460.7 -222.5,464.2 -217.4,467.6 -212.2,471.1 -206.9,474.4 -201.7,477.8 -196.4,481.1 -191.1,484.4 -185.8,487.7 -180.5,490.9 -175.1,494.1 -169.8,497.3 -164.4,500.4 -159.0,503.5 -153.5,506.5 -148.1,509.6 -142.6,512.6 -137.1,515.5 -131.6,518.4 -126.1,521.3 -120.6,524.2 -115.0,527.0 -109.4,529.8 -103.9,532.5 -98.2,535.2 -92.6,537.9 -87.0,540.5 -81.3,543.1 -75.6,545.7 -69.9,548.2 -64.2,550.7 -58.5,553.2 -52.8,555.6 -47.0,558.0 -41.2,560.4 -35.5,562.7 -29.7,565.0 -23.9,567.2 -18.0,569.4 -12.2,571.6 -6.3,573.7 -0.5,575.8 5.4,577.9 11.3,579.9 17.2,581.9 23.1,583.8 29.1,585.7 35.0,587.6 41.0,589.4 46.9,591.2 52.9,593.0 58.9,594.7 64.9,596.4 70.9,598.0 76.9,599.6 82.9,601.2 89.0,602.8 95.0,604.2 101.1,605.7 107.2,607.1 113.2,608.5 119.3,609.8 125.4,611.2 131.5,612.4 137.6,613.6 143.7,614.8 149.9,616.0 156.0,617.1 162.1,618.2 168.3,619.2 174.4,620.2 180.6,621.2 186.7,622.1 192.9,623.0 199.1,623.8 205.3,624.6 211.4,625.4 217.6,626.1 223.8,626.8 230.0,627.4 236.2,628.0 242.4,628.6 248.6,629.1 254.8,629.6 261.0,630.1 267.3,630.5 273.5,630.8 279.7,631.2 285.9,631.5 292.2,631.7 298.4,631.9 304.6,632.1 310.8,632.3 317.1,632.3 323.3,632.4 329.5,632.4 335.8,632.4 342.0,632.3 348.2,632.3 354.4,632.1 360.7,631.9 366.9,631.7 373.1,631.5 379.3,631.2 385.6,630.8 391.8,630.5 398.0,630.1 404.2,629.6 410.4,629.1 416.6,628.6 422.8,628.0 429.0,627.4 435.2,626.8 441.4,626.1 447.6,625.4 453.8,624.6 460.0,623.8 466.2,623.0 472.3,622.1 478.5,621.2 484.6,620.2 490.8,619.2 496.9,618.2 503.1,617.1 509.2,616.0 515.3,614.8 521.4,613.6 527.6,612.4 533.7,611.2 539.7,609.8 545.8,608.5 551.9,607.1 558.0,605.7 564.0,604.2 570.1,602.8 576.1,601.2 582.1,599.6 588.2,598.0 594.2,596.4 600.2,594.7 606.2,593.0 612.1,591.2 618.1,589.4 624.1,587.6 630.0,585.7 635.9,583.8 641.8,581.9 647.7,579.9 653.6,577.9 659.5,575.8 665.4,573.7 671.2,571.6 677.1,569.4 682.9,567.2 688.7,565.0 694.5,562.7 700.3,560.4 706.1,558.0 711.8,555.6 717.6,553.2 723.3,550.7 729.0,548.2 734.7,545.7 740.4,543.1 746.0,540.5 751.7,537.9 757.3,535.2 762.9,532.5 768.5,529.8 774.1,527.0 779.6,524.2 785.2,521.3 790.7,518.4 796.2,515.5 801.7,512.6 807.1,509.6 812.6,506.5 818.0,503.5 823.4,500.4 828.8,497.3 834.2,494.1 839.5,490.9 844.9,487.7 850.2,484.4 855.5,481.1 860.7,477.8 866.0,474.4 871.2,471.1 876.4,467.6 881.6,464.2 886.8,460.7 891.9,457.2 897.0,453.6 902.1,450.0 907.2,446.4 912.2,442.7 917.2,439.1 922.2,435.3 927.2,431.6 932.2,427.8 937.1,424.0 942.0,420.2 946.9,416.3 951.8,412.4 956.6,408.5 961.4,404.5 966.2,400.5 970.9,396.5 975.7,392.4 980.4,388.3 985.1,384.2 989.7,380.1 994.3,375.9 998.9,371.7 1003.5,367.5 1008.1,363.2"/><polyline points="-307.3,318.9 -303.0,322.9 -298.7,326.9 -294.4,330.8 -290.0,334.7 -285.7,338.6 -281.3,342.5 -276.9,346.3 -272.4,350.1 -267.9,353.9 -263.5,357.6 -258.9,361.3 -254.4,365.0 -249.9,368.7 -245.3,372.3 -240.7,375.9 -236.0,379.5 -231.4,383.0 -226.7,386.6 -222.0,390.0 -217.3,393.5 -212.6,396.9 -207.8,400.3 -203.0,403.7 -198.2,407.0 -193.4,410.3 -188.6,413.6 -183.7,416.9 -178.8,420.1 -173.9,423.3 -169.0,426.4 -164.0,429.5 -159.1,432.6 -154.1,435.7 -149.1,438.7 -144.1,441.7 -139.0,444.7 -134.0,447.6 -128.9,450.5 -123.8,453.4 -118.7,456.2 -113.6,459.0 -108.4,461.8 -103.3,464.5 -98.1,467.2 -92.9,469.9 -87.7,472.6 -82.4,475.2 -77.2,477.7 -71.9,480.3 -66.6,482.8 -61.3,485.3 -56.0,487.7 -50.7,490.1 -45.4,492.5 -40.0,494.9 -34.6,497.2 -29.2,499.4 -23.8,501.7 -18.4,503.9 -13.0,506.1 -7.6,508.2 -2.1,510.3 3.4,512.4 8.8,514.4 14.3,516.4 19.8,518.4 25.4,520.3 30.9,522.2 36.4,524.1 42.0,525.9 47.6,527.7 53.1,529.4 58.7,531.2 64.3,532.9 69.9,534.5 75.5,536.1 81.2,537.7 86.8,539.2 92.5,540.8 98.1,542.2 103.8,543.7 109.5,545.1 115.1,546.4 120.8,547.8 126.5,549.1 132.2,550.3 138.0,551.6 143.7,552.7 149.4,553.9 155.2,555.0 160.9,556.1 166.7,557.1 172.4,558.1 178.2,559.1 184.0,560.0 189.7,560.9 195.5,561.8 201.3,562.6 207.1,563.4 212.9,564.2 218.7,564.9 224.5,565.6 230.3,566.2 236.1,566.8 242.0,567.4 247.8,567.9 253.6,568.4 259.4,568.9 265.3,569.3 271.1,569.7 276.9,570.0 282.8,570.3 288.6,570.6 294.5,570.9 300.3,571.1 306.1,571.2 312.0,571.4 317.8,571.4 323.7,571.5 329.5,571.5 335.4,571.5 341.2,571.4 347.1,571.4 352.9,571.2 358.8,571.1 364.6,570.9 370.4,570.6 376.3,570.3 382.1,570.0 388.0,569.7 393.8,569.3 399.6,568.9 405.5,568.4 411.3,567.9 417.1,567.4 422.9,566.8 428.7,566.2 434.5,565.6 440.4,564.9 446.2,564.2 452.0,563.4 457.7,562.6 463.5,561.8 469.3,560.9 475.1,560.0 480.9,559.1 486.6,558.1 492.4,557.1 498.1,556.1 503.9,555.0 509.6,553.9 515.4,552.7 521.1,551.6 526.8,550.3 532.5,549.1 538.2,547.8 543.9,546.4 549.6,545.1 555.3,543.7 560.9,542.2 566.6,540.8 572.2,539.2 577.9,537.7 583.5,536.1 589.1,534.5 594.7,532.9 600.3,531.2 605.9,529.4 611.5,527.7 617.1,525.9 622.6,524.1 628.2,522.2 633.7,520.3 639.2,518.4 644.7,516.4 650.2,514.4 655.7,512.4 661.2,510.3 666.6,508.2 672.1,506.1 677.5,503.9 682.9,501.7 688.3,499.4 693.7,497.2 699.1,494.9 704.4,492.5 709.8,490.1 715.1,487.7 720.4,485.3 725.7,482.8 731.0,480.3 736.2,477.7 741.5,475.2 746.7,472.6 751.9,469.9 757.1,467.2 762.3,464.5 767.5,461.8 772.6,459.0 777.8,456.2 782.9,453.4 788.0,450.5 793.0,447.6 798.1,444.7 803.1,441.7 808.2,438.7 813.2,435.7 818.1,432.6 823.1,429.5 828.0,426.4 833.0,423.3 837.9,420.1 842.8,416.9 847.6,413.6 852.5,410.3 857.3,407.0 862.1,403.7 866.9,400.3 871.6,396.9 876.4,393.5 881.1,390.0 885.8,386.6 890.4,383.0 895.1,379.5 899.7,375.9 904.3,372.3 908.9,368.7 913.5,365.0 918.0,361.3 922.5,357.6 927.0,353.9 931.5,350.1 935.9,346.3 940.3,342.5 944.7,338.6 949.1,334.7 953.4,330.8 957.7,326.9 962.0,322.9 966.3,318.9"/><polyline points="-267.5,276.7 -263.5,280.4 -259.5,284.1 -255.4,287.8 -251.3,291.5 -247.2,295.1 -243.1,298.8 -239.0,302.3 -234.8,305.9 -230.6,309.4 -226.4,313.0 -222.2,316.4 -217.9,319.9 -213.7,323.3 -209.4,326.7 -205.1,330.1 -200.7,333.5 -196.4,336.8 -192.0,340.1 -187.6,343.4 -183.2,346.6 -178.7,349.8 -174.2,353.0 -169.8,356.2 -165.3,359.3 -160.7,362.4 -156.2,365.5 -151.6,368.5 -147.1,371.5 -142.5,374.5 -137.9,377.5 -133.2,380.4 -128.6,383.3 -123.9,386.2 -119.2,389.0 -114.5,391.8 -109.8,394.6 -105.0,397.3 -100.3,400.1 -95.5,402.7 -90.7,405.4 -85.9,408.0 -81.1,410.6 -76.2,413.2 -71.4,415.7 -66.5,418.2 -61.6,420.7 -56.7,423.2 -51.8,425.6 -46.8,428.0 -41.9,430.3 -36.9,432.6 -31.9,434.9 -27.0,437.2 -21.9,439.4 -16.9,441.6 -11.9,443.8 -6.8,445.9 -1.8,448.0 3.3,450.1 8.4,452.1 13.5,454.1 18.6,456.1 23.7,458.0 28.9,460.0 34.0,461.8 39.2,463.7 44.4,465.5 49.5,467.3 54.7,469.0 59.9,470.7 65.2,472.4 70.4,474.1 75.6,475.7 80.9,477.3 86.1,478.8 91.4,480.3 96.7,481.8 102.0,483.2 107.3,484.7 112.6,486.0 117.9,487.4 123.2,488.7 128.5,490.0 133.9,491.2 139.2,492.5 144.6,493.6 149.9,494.8 155.3,495.9 160.7,497.0 166.1,498.0 171.4,499.0 176.8,500.0 182.2,501.0 187.6,501.9 193.1,502.7 198.5,503.6 203.9,504.4 209.3,505.2 214.7,505.9 220.2,506.6 225.6,507.3 231.1,507.9 236.5,508.5 242.0,509.1 247.4,509.6 252.9,510.1 258.3,510.6 263.8,511.0 269.3,511.4 274.7,511.8 280.2,512.1 285.7,512.4 291.2,512.7 296.6,512.9 302.1,513.1 307.6,513.2 313.1,513.3 318.6,513.4 324.0,513.5 329.5,513.5 335.0,513.5 340.5,513.4 346.0,513.3 351.5,513.2 356.9,513.1 362.4,512.9 367.9,512.7 373.4,512.4 378.8,512.1 384.3,511.8 389.8,511.4 395.2,511.0 400.7,510.6 406.2,510.1 411.6,509.6 417.1,509.1 422.5,508.5 428.0,507.9 433.4,507.3 438.9,506.6 444.3,505.9 449.7,505.2 455.2,504.4 460.6,503.6 466.0,502.7 471.4,501.9 476.8,501.0 482.2,500.0 487.6,499.0 493.0,498.0 498.4,497.0 503.8,495.9 509.1,494.8 514.5,493.6 519.8,492.5 525.2,491.2 530.5,490.0 535.9,488.7 541.2,487.4 546.5,486.0 551.8,484.7 557.1,483.2 562.4,481.8 567.7,480.3 572.9,478.8 578.2,477.3 583.4,475.7 588.7,474.1 593.9,472.4 599.1,470.7 604.3,469.0 609.5,467.3 614.7,465.5 619.9,463.7 625.0,461.8 630.2,460.0 635.3,458.0 640.4,456.1 645.6,454.1 650.7,452.1 655.8,450.1 660.8,448.0 665.9,445.9 670.9,443.8 676.0,441.6 681.0,439.4 686.0,437.2 691.0,434.9 696.0,432.6 700.9,430.3 705.9,428.0 710.8,425.6 715.8,423.2 720.7,420.7 725.6,418.2 730.4,415.7 735.3,413.2 740.1,410.6 745.0,408.0 749.8,405.4 754.6,402.7 759.3,400.1 764.1,397.3 768.8,394.6 773.6,391.8 778.3,389.0 783.0,386.2 787.6,383.3 792.3,380.4 796.9,377.5 801.5,374.5 806.1,371.5 810.7,368.5 815.3,365.5 819.8,362.4 824.3,359.3 828.8,356.2 833.3,353.0 837.8,349.8 842.2,346.6 846.6,343.4 851.0,340.1 855.4,336.8 859.8,333.5 864.1,330.1 868.4,326.7 872.7,323.3 877.0,319.9 881.2,316.4 885.5,313.0 889.7,309.4 893.9,305.9 898.0,302.3 902.2,298.8 906.3,295.1 910.4,291.5 914.5,287.8 918.5,284.1 922.5,280.4 926.5,276.7"/><polyline points="-229.3,236.2 -225.6,239.7 -221.8,243.1 -218.0,246.6 -214.2,250.0 -210.4,253.4 -206.5,256.8 -202.7,260.2 -198.8,263.5 -194.8,266.8 -190.9,270.1 -186.9,273.4 -183.0,276.6 -179.0,279.8 -174.9,283.0 -170.9,286.2 -166.8,289.3 -162.8,292.4 -158.7,295.5 -154.5,298.6 -150.4,301.6 -146.2,304.6 -142.1,307.6 -137.9,310.6 -133.7,313.5 -129.4,316.4 -125.2,319.3 -120.9,322.1 -116.6,324.9 -112.3,327.7 -108.0,330.5 -103.7,333.2 -99.3,336.0 -94.9,338.6 -90.5,341.3 -86.1,343.9 -81.7,346.5 -77.3,349.1 -72.8,351.7 -68.3,354.2 -63.9,356.7 -59.4,359.1 -54.8,361.6 -50.3,364.0 -45.8,366.3 -41.2,368.7 -36.6,371.0 -32.0,373.3 -27.4,375.6 -22.8,377.8 -18.2,380.0 -13.5,382.2 -8.9,384.3 -4.2,386.4 0.5,388.5 5.2,390.6 9.9,392.6 14.7,394.6 19.4,396.6 24.1,398.5 28.9,400.4 33.7,402.3 38.5,404.1 43.3,406.0 48.1,407.7 52.9,409.5 57.7,411.2 62.6,412.9 67.4,414.6 72.3,416.2 77.2,417.8 82.1,419.4 86.9,420.9 91.9,422.4 96.8,423.9 101.7,425.4 106.6,426.8 111.6,428.2 116.5,429.5 121.5,430.9 126.4,432.2 131.4,433.4 136.4,434.7 141.4,435.9 146.4,437.0 151.4,438.2 156.4,439.3 161.4,440.3 166.4,441.4 171.5,442.4 176.5,443.4 181.5,444.3 186.6,445.2 191.6,446.1 196.7,447.0 201.8,447.8 206.8,448.6 211.9,449.3 217.0,450.1 222.1,450.7 227.2,451.4 232.3,452.0 237.4,452.6 242.5,453.2 247.6,453.7 252.7,454.2 257.8,454.7 262.9,455.1 268.0,455.5 273.1,455.9 278.2,456.2 283.4,456.6 288.5,456.8 293.6,457.1 298.7,457.3 303.9,457.5 309.0,457.6 314.1,457.7 319.3,457.8 324.4,457.8 329.5,457.9 334.7,457.8 339.8,457.8 344.9,457.7 350.1,457.6 355.2,457.5 360.3,457.3 365.4,457.1 370.6,456.8 375.7,456.6 380.8,456.2 385.9,455.9 391.0,455.5 396.2,455.1 401.3,454.7 406.4,454.2 411.5,453.7 416.6,453.2 421.7,452.6 426.8,452.0 431.9,451.4 437.0,450.7 442.1,450.1 447.1,449.3 452.2,448.6 457.3,447.8 462.4,447.0 467.4,446.1 472.5,445.2 477.5,444.3 482.6,443.4 487.6,442.4 492.6,441.4 497.7,440.3 502.7,439.3 507.7,438.2 512.7,437.0 517.7,435.9 522.7,434.7 527.7,433.4 532.6,432.2 537.6,430.9 542.5,429.5 547.5,428.2 552.4,426.8 557.4,425.4 562.3,423.9 567.2,422.4 572.1,420.9 577.0,419.4 581.9,417.8 586.8,416.2 591.6,414.6 596.5,412.9 601.3,411.2 606.2,409.5 611.0,407.7 615.8,406.0 620.6,404.1 625.4,402.3 630.1,400.4 634.9,398.5 639.7,396.6 644.4,394.6 649.1,392.6 653.8,390.6 658.5,388.5 663.2,386.4 667.9,384.3 672.6,382.2 677.2,380.0 681.9,377.8 686.5,375.6 691.1,373.3 695.7,371.0 700.2,368.7 704.8,366.3 709.4,364.0 713.9,361.6 718.4,359.1 722.9,356.7 727.4,354.2 731.9,351.7 736.3,349.1 740.8,346.5 745.2,343.9 749.6,341.3 754.0,338.6 758.4,336.0 762.7,333.2 767.0,330.5 771.4,327.7 775.7,324.9 780.0,322.1 784.2,319.3 788.5,316.4 792.7,313.5 796.9,310.6 801.1,307.6 805.3,304.6 809.5,301.6 813.6,298.6 817.7,295.5 821.8,292.4 825.9,289.3 830.0,286.2 834.0,283.0 838.0,279.8 842.0,276.6 846.0,273.4 850.0,270.1 853.9,266.8 857.8,263.5 861.7,260.2 865.6,256.8 869.4,253.4 873.3,250.0 877.1,246.6 880.9,243.1 884.6,239.7 888.4,236.2"/><polyline points="-192.5,197.0 -189.0,200.3 -185.5,203.6 -182.0,206.8 -178.4,210.0 -174.8,213.2 -171.2,216.4 -167.6,219.5 -163.9,222.6 -160.3,225.7 -156.6,228.8 -152.9,231.8 -149.2,234.9 -145.5,237.9 -141.7,240.8 -137.9,243.8 -134.1,246.7 -130.3,249.6 -126.5,252.5 -122.6,255.4 -118.8,258.2 -114.9,261.0 -111.0,263.8 -107.1,266.6 -103.1,269.3 -99.2,272.0 -95.2,274.7 -91.2,277.4 -87.2,280.0 -83.2,282.6 -79.2,285.2 -75.1,287.7 -71.0,290.3 -67.0,292.8 -62.9,295.3 -58.7,297.7 -54.6,300.2 -50.5,302.6 -46.3,304.9 -42.1,307.3 -37.9,309.6 -33.7,311.9 -29.5,314.2 -25.3,316.4 -21.0,318.7 -16.8,320.9 -12.5,323.0 -8.2,325.2 -3.9,327.3 0.4,329.4 4.7,331.4 9.1,333.4 13.4,335.4 17.8,337.4 22.2,339.4 26.6,341.3 31.0,343.2 35.4,345.1 39.8,346.9 44.3,348.7 48.7,350.5 53.2,352.2 57.6,354.0 62.1,355.7 66.6,357.3 71.1,359.0 75.6,360.6 80.2,362.2 84.7,363.7 89.2,365.2 93.8,366.7 98.4,368.2 102.9,369.7 107.5,371.1 112.1,372.4 116.7,373.8 121.3,375.1 125.9,376.4 130.5,377.7 135.2,378.9 139.8,380.1 144.5,381.3 149.1,382.5 153.8,383.6 158.4,384.7 163.1,385.7 167.8,386.8 172.5,387.8 177.2,388.8 181.9,389.7 186.6,390.6 191.3,391.5 196.0,392.3 200.7,393.2 205.5,394.0 210.2,394.7 214.9,395.5 219.7,396.2 224.4,396.9 229.2,397.5 233.9,398.1 238.7,398.7 243.4,399.3 248.2,399.8 253.0,400.3 257.7,400.8 262.5,401.2 267.3,401.6 272.1,402.0 276.8,402.3 281.6,402.6 286.4,402.9 291.2,403.2 296.0,403.4 300.8,403.6 305.6,403.8 310.4,403.9 315.1,404.0 319.9,404.1 324.7,404.1 329.5,404.1 334.3,404.1 339.1,404.1 343.9,404.0 348.7,403.9 353.5,403.8 358.3,403.6 363.1,403.4 367.9,403.2 372.6,402.9 377.4,402.6 382.2,402.3 387.0,402.0 391.8,401.6 396.5,401.2 401.3,400.8 406.1,400.3 410.9,399.8 415.6,399.3 420.4,398.7 425.1,398.1 429.9,397.5 434.6,396.9 439.4,396.2 444.1,395.5 448.9,394.7 453.6,394.0 458.3,393.2 463.0,392.3 467.8,391.5 472.5,390.6 477.2,389.7 481.9,388.8 486.6,387.8 491.3,386.8 495.9,385.7 500.6,384.7 505.3,383.6 509.9,382.5 514.6,381.3 519.2,380.1 523.9,378.9 528.5,377.7 533.1,376.4 537.7,375.1 542.4,373.8 547.0,372.4 551.5,371.1 556.1,369.7 560.7,368.2 565.3,366.7 569.8,365.2 574.4,363.7 578.9,362.2 583.4,360.6 587.9,359.0 592.4,357.3 596.9,355.7 601.4,354.0 605.9,352.2 610.3,350.5 614.8,348.7 619.2,346.9 623.7,345.1 628.1,343.2 632.5,341.3 636.9,339.4 641.2,337.4 645.6,335.4 650.0,333.4 654.3,331.4 658.6,329.4 663.0,327.3 667.3,325.2 671.5,323.0 675.8,320.9 680.1,318.7 684.3,316.4 688.6,314.2 692.8,311.9 697.0,309.6 701.2,307.3 705.4,304.9 709.5,302.6 713.7,300.2 717.8,297.7 721.9,295.3 726.0,292.8 730.1,290.3 734.2,287.7 738.2,285.2 742.3,282.6 746.3,280.0 750.3,277.4 754.3,274.7 758.2,272.0 762.2,269.3 766.1,266.6 770.0,263.8 773.9,261.0 777.8,258.2 781.7,255.4 785.5,252.5 789.4,249.6 793.2,246.7 797.0,243.8 800.8,240.8 804.5,237.9 808.2,234.9 812.0,231.8 815.7,228.8 819.3,225.7 823.0,222.6 826.6,219.5 830.3,216.4 833.9,213.2 837.4,210.0 841.0,206.8 844.6,203.6 848.1,200.3 851.6,197.0"/><polyline points="-156.7,159.0 -153.5,162.1 -150.2,165.1 -146.9,168.1 -143.6,171.1 -140.2,174.1 -136.9,177.0 -133.5,180.0 -130.1,182.9 -126.7,185.8 -123.3,188.6 -119.8,191.5 -116.4,194.3 -112.9,197.1 -109.4,199.8 -105.9,202.6 -102.4,205.3 -98.8,208.0 -95.2,210.7 -91.7,213.4 -88.0,216.0 -84.4,218.6 -80.8,221.2 -77.1,223.8 -73.5,226.3 -69.8,228.9 -66.1,231.4 -62.4,233.9 -58.7,236.3 -54.9,238.7 -51.2,241.1 -47.4,243.5 -43.6,245.9 -39.8,248.2 -36.0,250.5 -32.1,252.8 -28.3,255.1 -24.4,257.3 -20.5,259.5 -16.7,261.7 -12.8,263.9 -8.8,266.0 -4.9,268.2 -1.0,270.3 3.0,272.3 7.0,274.4 10.9,276.4 14.9,278.4 19.0,280.3 23.0,282.3 27.0,284.2 31.0,286.1 35.1,288.0 39.2,289.8 43.3,291.6 47.3,293.4 51.4,295.2 55.6,296.9 59.7,298.6 63.8,300.3 68.0,302.0 72.1,303.6 76.3,305.2 80.5,306.8 84.6,308.3 88.8,309.9 93.0,311.4 97.3,312.8 101.5,314.3 105.7,315.7 110.0,317.1 114.2,318.5 118.5,319.8 122.7,321.1 127.0,322.4 131.3,323.7 135.6,324.9 139.9,326.1 144.2,327.3 148.5,328.5 152.8,329.6 157.1,330.7 161.5,331.8 165.8,332.8 170.2,333.8 174.5,334.8 178.9,335.8 183.2,336.7 187.6,337.6 192.0,338.5 196.4,339.3 200.8,340.2 205.2,341.0 209.6,341.7 214.0,342.5 218.4,343.2 222.8,343.9 227.2,344.5 231.6,345.2 236.0,345.8 240.5,346.3 244.9,346.9 249.3,347.4 253.8,347.9 258.2,348.4 262.7,348.8 267.1,349.2 271.6,349.6 276.0,349.9 280.5,350.3 284.9,350.6 289.4,350.8 293.8,351.1 298.3,351.3 302.7,351.4 307.2,351.6 311.7,351.7 316.1,351.8 320.6,351.9 325.1,351.9 329.5,352.0 334.0,351.9 338.5,351.9 342.9,351.8 347.4,351.7 351.8,351.6 356.3,351.4 360.8,351.3 365.2,351.1 369.7,350.8 374.1,350.6 378.6,350.3 383.1,349.9 387.5,349.6 392.0,349.2 396.4,348.8 400.8,348.4 405.3,347.9 409.7,347.4 414.2,346.9 418.6,346.3 423.0,345.8 427.4,345.2 431.9,344.5 436.3,343.9 440.7,343.2 445.1,342.5 449.5,341.7 453.9,341.0 458.3,340.2 462.7,339.3 467.1,338.5 471.4,337.6 475.8,336.7 480.2,335.8 484.5,334.8 488.9,333.8 493.2,332.8 497.6,331.8 501.9,330.7 506.2,329.6 510.6,328.5 514.9,327.3 519.2,326.1 523.5,324.9 527.8,323.7 532.1,322.4 536.3,321.1 540.6,319.8 544.9,318.5 549.1,317.1 553.3,315.7 557.6,314.3 561.8,312.8 566.0,311.4 570.2,309.9 574.4,308.3 578.6,306.8 582.8,305.2 586.9,303.6 591.1,302.0 595.2,300.3 599.4,298.6 603.5,296.9 607.6,295.2 611.7,293.4 615.8,291.6 619.9,289.8 623.9,288.0 628.0,286.1 632.1,284.2 636.1,282.3 640.1,280.3 644.1,278.4 648.1,276.4 652.1,274.4 656.1,272.3 660.0,270.3 664.0,268.2 667.9,266.0 671.8,263.9 675.7,261.7 679.6,259.5 683.5,257.3 687.3,255.1 691.2,252.8 695.0,250.5 698.8,248.2 702.6,245.9 706.4,243.5 710.2,241.1 714.0,238.7 717.7,236.3 721.4,233.9 725.2,231.4 728.9,228.9 732.5,226.3 736.2,223.8 739.9,221.2 743.5,218.6 747.1,216.0 750.7,213.4 754.3,210.7 757.9,208.0 761.4,205.3 764.9,202.6 768.5,199.8 772.0,197.1 775.4,194.3 778.9,191.5 782.3,188.6 785.8,185.8 789.2,182.9 792.6,180.0 795.9,177.0 799.3,174.1 802.6,171.1 806.0,168.1 809.3,165.1 812.5,162.1 815.8,159.0"/><polyline points="-121.7,121.9 -118.7,124.7 -115.7,127.5 -112.6,130.3 -109.5,133.1 -106.4,135.9 -103.3,138.6 -100.2,141.3 -97.1,144.0 -93.9,146.7 -90.7,149.3 -87.5,152.0 -84.3,154.6 -81.1,157.2 -77.8,159.7 -74.6,162.3 -71.3,164.8 -68.0,167.3 -64.7,169.8 -61.3,172.3 -58.0,174.8 -54.6,177.2 -51.3,179.6 -47.9,182.0 -44.5,184.3 -41.1,186.7 -37.6,189.0 -34.2,191.3 -30.7,193.6 -27.3,195.8 -23.8,198.1 -20.3,200.3 -16.7,202.5 -13.2,204.7 -9.7,206.8 -6.1,208.9 -2.5,211.0 1.0,213.1 4.6,215.2 8.3,217.2 11.9,219.2 15.5,221.2 19.2,223.2 22.8,225.1 26.5,227.0 30.2,228.9 33.9,230.8 37.6,232.6 41.3,234.5 45.0,236.3 48.8,238.0 52.5,239.8 56.3,241.5 60.1,243.2 63.9,244.9 67.6,246.6 71.5,248.2 75.3,249.8 79.1,251.4 82.9,253.0 86.8,254.5 90.6,256.0 94.5,257.5 98.4,259.0 102.3,260.4 106.2,261.9 110.1,263.3 114.0,264.6 117.9,266.0 121.8,267.3 125.8,268.6 129.7,269.9 133.6,271.1 137.6,272.3 141.6,273.5 145.6,274.7 149.5,275.8 153.5,277.0 157.5,278.0 161.5,279.1 165.5,280.2 169.5,281.2 173.6,282.2 177.6,283.1 181.6,284.1 185.7,285.0 189.7,285.9 193.8,286.8 197.8,287.6 201.9,288.4 206.0,289.2 210.0,290.0 214.1,290.7 218.2,291.4 222.3,292.1 226.4,292.8 230.5,293.4 234.6,294.0 238.7,294.6 242.8,295.2 246.9,295.7 251.0,296.2 255.1,296.7 259.2,297.2 263.3,297.6 267.5,298.0 271.6,298.4 275.7,298.7 279.9,299.0 284.0,299.3 288.1,299.6 292.3,299.9 296.4,300.1 300.5,300.3 304.7,300.4 308.8,300.6 313.0,300.7 317.1,300.8 321.2,300.9 325.4,300.9 329.5,300.9 333.7,300.9 337.8,300.9 342.0,300.8 346.1,300.7 350.2,300.6 354.4,300.4 358.5,300.3 362.7,300.1 366.8,299.9 370.9,299.6 375.1,299.3 379.2,299.0 383.3,298.7 387.5,298.4 391.6,298.0 395.7,297.6 399.8,297.2 404.0,296.7 408.1,296.2 412.2,295.7 416.3,295.2 420.4,294.6 424.5,294.0 428.6,293.4 432.7,292.8 436.8,292.1 440.9,291.4 444.9,290.7 449.0,290.0 453.1,289.2 457.2,288.4 461.2,287.6 465.3,286.8 469.3,285.9 473.4,285.0 477.4,284.1 481.5,283.1 485.5,282.2 489.5,281.2 493.5,280.2 497.5,279.1 501.5,278.0 505.5,277.0 509.5,275.8 513.5,274.7 517.5,273.5 521.4,272.3 525.4,271.1 529.4,269.9 533.3,268.6 537.2,267.3 541.2,266.0 545.1,264.6 549.0,263.3 552.9,261.9 556.8,260.4 560.7,259.0 564.6,257.5 568.4,256.0 572.3,254.5 576.1,253.0 580.0,251.4 583.8,249.8 587.6,248.2 591.4,246.6 595.2,244.9 599.0,243.2 602.8,241.5 606.5,239.8 610.3,238.0 614.0,236.3 617.8,234.5 621.5,232.6 625.2,230.8 628.9,228.9 632.6,227.0 636.2,225.1 639.9,223.2 643.5,221.2 647.2,219.2 650.8,217.2 654.4,215.2 658.0,213.1 661.6,211.0 665.2,208.9 668.7,206.8 672.3,204.7 675.8,202.5 679.3,200.3 682.8,198.1 686.3,195.8 689.8,193.6 693.2,191.3 696.7,189.0 700.1,186.7 703.5,184.3 706.9,182.0 710.3,179.6 713.7,177.2 717.1,174.8 720.4,172.3 723.7,169.8 727.0,167.3 730.3,164.8 733.6,162.3 736.9,159.7 740.1,157.2 743.4,154.6 746.6,152.0 749.8,149.3 752.9,146.7 756.1,144.0 759.3,141.3 762.4,138.6 765.5,135.9 768.6,133.1 771.7,130.3 774.7,127.5 777.8,124.7 780.8,121.9"/><polyline points="-87.3,85.3 -84.5,87.9 -81.7,90.5 -78.9,93.1 -76.0,95.7 -73.2,98.2 -70.3,100.7 -67.4,103.2 -64.5,105.7 -61.6,108.2 -58.6,110.7 -55.7,113.1 -52.7,115.5 -49.7,117.9 -46.7,120.3 -43.7,122.6 -40.7,125.0 -37.6,127.3 -34.6,129.6 -31.5,131.9 -28.4,134.1 -25.3,136.4 -22.2,138.6 -19.1,140.8 -15.9,143.0 -12.8,145.2 -9.6,147.3 -6.4,149.4 -3.2,151.5 -0.0,153.6 3.2,155.7 6.4,157.7 9.7,159.8 12.9,161.8 16.2,163.7 19.5,165.7 22.8,167.6 26.1,169.6 29.4,171.5 32.8,173.3 36.1,175.2 39.5,177.0 42.8,178.8 46.2,180.6 49.6,182.4 53.0,184.2 56.4,185.9 59.9,187.6 63.3,189.3 66.7,191.0 70.2,192.6 73.7,194.2 77.1,195.8 80.6,197.4 84.1,199.0 87.6,200.5 91.2,202.0 94.7,203.5 98.2,205.0 101.8,206.4 105.3,207.8 108.9,209.2 112.4,210.6 116.0,212.0 119.6,213.3 123.2,214.6 126.8,215.9 130.4,217.1 134.0,218.4 137.7,219.6 141.3,220.8 144.9,222.0 148.6,223.1 152.3,224.3 155.9,225.4 159.6,226.4 163.3,227.5 167.0,228.5 170.6,229.5 174.3,230.5 178.0,231.5 181.8,232.4 185.5,233.4 189.2,234.3 192.9,235.1 196.7,236.0 200.4,236.8 204.1,237.6 207.9,238.4 211.6,239.1 215.4,239.9 219.2,240.6 222.9,241.3 226.7,241.9 230.5,242.5 234.2,243.2 238.0,243.7 241.8,244.3 245.6,244.9 249.4,245.4 253.2,245.9 257.0,246.3 260.8,246.8 264.6,247.2 268.4,247.6 272.2,248.0 276.0,248.3 279.8,248.6 283.6,248.9 287.5,249.2 291.3,249.5 295.1,249.7 298.9,249.9 302.7,250.1 306.6,250.2 310.4,250.4 314.2,250.5 318.0,250.6 321.9,250.6 325.7,250.7 329.5,250.7 333.4,250.7 337.2,250.6 341.0,250.6 344.8,250.5 348.7,250.4 352.5,250.2 356.3,250.1 360.1,249.9 364.0,249.7 367.8,249.5 371.6,249.2 375.4,248.9 379.2,248.6 383.0,248.3 386.9,248.0 390.7,247.6 394.5,247.2 398.3,246.8 402.1,246.3 405.9,245.9 409.7,245.4 413.5,244.9 417.2,244.3 421.0,243.7 424.8,243.2 428.6,242.5 432.4,241.9 436.1,241.3 439.9,240.6 443.7,239.9 447.4,239.1 451.2,238.4 454.9,237.6 458.7,236.8 462.4,236.0 466.1,235.1 469.9,234.3 473.6,233.4 477.3,232.4 481.0,231.5 484.7,230.5 488.4,229.5 492.1,228.5 495.8,227.5 499.5,226.4 503.1,225.4 506.8,224.3 510.5,223.1 514.1,222.0 517.7,220.8 521.4,219.6 525.0,218.4 528.6,217.1 532.2,215.9 535.8,214.6 539.4,213.3 543.0,212.0 546.6,210.6 550.2,209.2 553.7,207.8 557.3,206.4 560.8,205.0 564.4,203.5 567.9,202.0 571.4,200.5 574.9,199.0 578.4,197.4 581.9,195.8 585.4,194.2 588.9,192.6 592.3,191.0 595.8,189.3 599.2,187.6 602.6,185.9 606.0,184.2 609.4,182.4 612.8,180.6 616.2,178.8 619.6,177.0 622.9,175.2 626.3,173.3 629.6,171.5 632.9,169.6 636.2,167.6 639.5,165.7 642.8,163.7 646.1,161.8 649.4,159.8 652.6,157.7 655.9,155.7 659.1,153.6 662.3,151.5 665.5,149.4 668.7,147.3 671.8,145.2 675.0,143.0 678.1,140.8 681.3,138.6 684.4,136.4 687.5,134.1 690.6,131.9 693.6,129.6 696.7,127.3 699.7,125.0 702.8,122.6 705.8,120.3 708.8,117.9 711.8,115.5 714.7,113.1 717.7,110.7 720.6,108.2 723.5,105.7 726.5,103.2 729.3,100.7 732.2,98.2 735.1,95.7 737.9,93.1 740.8,90.5 743.6,87.9 746.4,85.3"/><polyline points="-53.2,49.1 -50.6,51.5 -48.0,53.8 -45.4,56.2 -42.8,58.6 -40.2,60.9 -37.5,63.2 -34.9,65.5 -32.2,67.8 -29.5,70.1 -26.8,72.3 -24.1,74.6 -21.4,76.8 -18.7,79.0 -15.9,81.2 -13.1,83.3 -10.4,85.5 -7.6,87.6 -4.8,89.7 -1.9,91.8 0.9,93.9 3.7,95.9 6.6,98.0 9.5,100.0 12.4,102.0 15.3,104.0 18.2,106.0 21.1,107.9 24.0,109.9 27.0,111.8 29.9,113.7 32.9,115.5 35.9,117.4 38.9,119.2 41.9,121.1 44.9,122.9 47.9,124.6 51.0,126.4 54.0,128.2 57.1,129.9 60.2,131.6 63.2,133.3 66.3,134.9 69.4,136.6 72.5,138.2 75.7,139.8 78.8,141.4 81.9,143.0 85.1,144.5 88.3,146.0 91.4,147.6 94.6,149.0 97.8,150.5 101.0,152.0 104.2,153.4 107.4,154.8 110.7,156.2 113.9,157.6 117.2,158.9 120.4,160.2 123.7,161.5 126.9,162.8 130.2,164.1 133.5,165.3 136.8,166.6 140.1,167.8 143.4,168.9 146.7,170.1 150.1,171.2 153.4,172.4 156.7,173.5 160.1,174.5 163.4,175.6 166.8,176.6 170.1,177.6 173.5,178.6 176.9,179.6 180.3,180.6 183.7,181.5 187.1,182.4 190.5,183.3 193.9,184.1 197.3,185.0 200.7,185.8 204.1,186.6 207.5,187.4 211.0,188.1 214.4,188.9 217.8,189.6 221.3,190.3 224.7,191.0 228.2,191.6 231.6,192.2 235.1,192.8 238.6,193.4 242.0,194.0 245.5,194.5 249.0,195.0 252.5,195.5 256.0,196.0 259.4,196.5 262.9,196.9 266.4,197.3 269.9,197.7 273.4,198.0 276.9,198.4 280.4,198.7 283.9,199.0 287.4,199.3 290.9,199.5 294.4,199.8 297.9,200.0 301.4,200.2 304.9,200.3 308.4,200.5 312.0,200.6 315.5,200.7 319.0,200.8 322.5,200.8 326.0,200.9 329.5,200.9 333.0,200.9 336.6,200.8 340.1,200.8 343.6,200.7 347.1,200.6 350.6,200.5 354.1,200.3 357.6,200.2 361.1,200.0 364.6,199.8 368.1,199.5 371.7,199.3 375.2,199.0 378.7,198.7 382.2,198.4 385.7,198.0 389.1,197.7 392.6,197.3 396.1,196.9 399.6,196.5 403.1,196.0 406.6,195.5 410.1,195.0 413.5,194.5 417.0,194.0 420.5,193.4 423.9,192.8 427.4,192.2 430.9,191.6 434.3,191.0 437.8,190.3 441.2,189.6 444.7,188.9 448.1,188.1 451.5,187.4 454.9,186.6 458.4,185.8 461.8,185.0 465.2,184.1 468.6,183.3 472.0,182.4 475.4,181.5 478.8,180.6 482.2,179.6 485.5,178.6 488.9,177.6 492.3,176.6 495.6,175.6 499.0,174.5 502.3,173.5 505.7,172.4 509.0,171.2 512.3,170.1 515.6,168.9 519.0,167.8 522.3,166.6 525.5,165.3 528.8,164.1 532.1,162.8 535.4,161.5 538.6,160.2 541.9,158.9 545.1,157.6 548.4,156.2 551.6,154.8 554.8,153.4 558.0,152.0 561.2,150.5 564.4,149.0 567.6,147.6 570.8,146.0 574.0,144.5 577.1,143.0 580.3,141.4 583.4,139.8 586.5,138.2 589.6,136.6 592.7,134.9 595.8,133.3 598.9,131.6 602.0,129.9 605.0,128.2 608.1,126.4 611.1,124.6 614.2,122.9 617.2,121.1 620.2,119.2 623.2,117.4 626.2,115.5 629.1,113.7 632.1,111.8 635.0,109.9 638.0,107.9 640.9,106.0 643.8,104.0 646.7,102.0 649.6,100.0 652.5,98.0 655.3,95.9 658.2,93.9 661.0,91.8 663.8,89.7 666.6,87.6 669.4,85.5 672.2,83.3 675.0,81.2 677.7,79.0 680.5,76.8 683.2,74.6 685.9,72.3 688.6,70.1 691.3,67.8 693.9,65.5 696.6,63.2 699.2,60.9 701.9,58.6 704.5,56.2 707.1,53.8 709.7,51.5 712.2,49.1"/><polyline points="-19.1,12.9 -16.7,15.0 -14.4,17.2 -12.0,19.4 -9.7,21.5 -7.3,23.6 -4.9,25.8 -2.4,27.9 -0.0,29.9 2.4,32.0 4.9,34.1 7.4,36.1 9.8,38.1 12.3,40.1 14.9,42.1 17.4,44.1 19.9,46.0 22.4,48.0 25.0,49.9 27.6,51.8 30.2,53.7 32.8,55.6 35.4,57.4 38.0,59.3 40.6,61.1 43.2,62.9 45.9,64.7 48.6,66.5 51.2,68.3 53.9,70.0 56.6,71.7 59.3,73.4 62.0,75.1 64.8,76.8 67.5,78.5 70.2,80.1 73.0,81.7 75.8,83.3 78.6,84.9 81.3,86.5 84.1,88.0 86.9,89.6 89.8,91.1 92.6,92.6 95.4,94.1 98.3,95.5 101.1,97.0 104.0,98.4 106.9,99.8 109.8,101.2 112.6,102.6 115.5,103.9 118.5,105.3 121.4,106.6 124.3,107.9 127.2,109.2 130.2,110.5 133.1,111.7 136.1,112.9 139.0,114.1 142.0,115.3 145.0,116.5 148.0,117.6 151.0,118.8 154.0,119.9 157.0,121.0 160.0,122.1 163.0,123.1 166.0,124.2 169.1,125.2 172.1,126.2 175.2,127.2 178.2,128.1 181.3,129.1 184.3,130.0 187.4,130.9 190.5,131.8 193.6,132.6 196.6,133.5 199.7,134.3 202.8,135.1 205.9,135.9 209.0,136.7 212.2,137.4 215.3,138.2 218.4,138.9 221.5,139.6 224.7,140.2 227.8,140.9 230.9,141.5 234.1,142.1 237.2,142.7 240.4,143.3 243.5,143.8 246.7,144.4 249.8,144.9 253.0,145.4 256.2,145.8 259.3,146.3 262.5,146.7 265.7,147.1 268.9,147.5 272.0,147.9 275.2,148.3 278.4,148.6 281.6,148.9 284.8,149.2 288.0,149.5 291.2,149.7 294.3,149.9 297.5,150.2 300.7,150.3 303.9,150.5 307.1,150.7 310.3,150.8 313.5,150.9 316.7,151.0 319.9,151.1 323.1,151.1 326.3,151.2 329.5,151.2 332.7,151.2 335.9,151.1 339.1,151.1 342.3,151.0 345.5,150.9 348.7,150.8 351.9,150.7 355.1,150.5 358.3,150.3 361.5,150.2 364.7,149.9 367.9,149.7 371.1,149.5 374.3,149.2 377.5,148.9 380.7,148.6 383.8,148.3 387.0,147.9 390.2,147.5 393.4,147.1 396.6,146.7 399.7,146.3 402.9,145.8 406.1,145.4 409.2,144.9 412.4,144.4 415.5,143.8 418.7,143.3 421.8,142.7 425.0,142.1 428.1,141.5 431.3,140.9 434.4,140.2 437.5,139.6 440.7,138.9 443.8,138.2 446.9,137.4 450.0,136.7 453.1,135.9 456.2,135.1 459.3,134.3 462.4,133.5 465.5,132.6 468.6,131.8 471.7,130.9 474.7,130.0 477.8,129.1 480.8,128.1 483.9,127.2 486.9,126.2 490.0,125.2 493.0,124.2 496.0,123.1 499.1,122.1 502.1,121.0 505.1,119.9 508.1,118.8 511.1,117.6 514.1,116.5 517.1,115.3 520.0,114.1 523.0,112.9 525.9,111.7 528.9,110.5 531.8,109.2 534.8,107.9 537.7,106.6 540.6,105.3 543.5,103.9 546.4,102.6 549.3,101.2 552.2,99.8 555.1,98.4 557.9,97.0 560.8,95.5 563.6,94.1 566.5,92.6 569.3,91.1 572.1,89.6 574.9,88.0 577.7,86.5 580.5,84.9 583.3,83.3 586.1,81.7 588.8,80.1 591.6,78.5 594.3,76.8 597.0,75.1 599.7,73.4 602.4,71.7 605.1,70.0 607.8,68.3 610.5,66.5 613.2,64.7 615.8,62.9 618.5,61.1 621.1,59.3 623.7,57.4 626.3,55.6 628.9,53.7 631.5,51.8 634.0,49.9 636.6,48.0 639.2,46.0 641.7,44.1 644.2,42.1 646.7,40.1 649.2,38.1 651.7,36.1 654.2,34.1 656.6,32.0 659.1,29.9 661.5,27.9 663.9,25.8 666.3,23.6 668.7,21.5 671.1,19.4 673.5,17.2 675.8,15.0 678.1,12.9"/><polyline points="15.2,-23.6 17.3,-21.6 19.4,-19.6 21.6,-17.7 23.7,-15.7 25.9,-13.8 28.0,-11.9 30.2,-10.0 32.4,-8.2 34.6,-6.3 36.8,-4.4 39.1,-2.6 41.3,-0.8 43.5,1.0 45.8,2.8 48.1,4.6 50.4,6.4 52.7,8.1 55.0,9.8 57.3,11.6 59.6,13.3 61.9,15.0 64.3,16.6 66.7,18.3 69.0,19.9 71.4,21.6 73.8,23.2 76.2,24.8 78.6,26.4 81.0,28.0 83.5,29.5 85.9,31.1 88.3,32.6 90.8,34.1 93.3,35.6 95.7,37.1 98.2,38.5 100.7,40.0 103.2,41.4 105.8,42.8 108.3,44.2 110.8,45.6 113.4,47.0 115.9,48.3 118.5,49.7 121.0,51.0 123.6,52.3 126.2,53.6 128.8,54.9 131.4,56.1 134.0,57.3 136.6,58.6 139.2,59.8 141.8,61.0 144.5,62.1 147.1,63.3 149.8,64.4 152.4,65.6 155.1,66.7 157.8,67.8 160.5,68.8 163.1,69.9 165.8,70.9 168.5,71.9 171.2,73.0 173.9,73.9 176.7,74.9 179.4,75.9 182.1,76.8 184.9,77.7 187.6,78.6 190.3,79.5 193.1,80.4 195.9,81.2 198.6,82.1 201.4,82.9 204.2,83.7 206.9,84.4 209.7,85.2 212.5,86.0 215.3,86.7 218.1,87.4 220.9,88.1 223.7,88.8 226.5,89.4 229.3,90.1 232.1,90.7 235.0,91.3 237.8,91.9 240.6,92.4 243.5,93.0 246.3,93.5 249.1,94.0 252.0,94.5 254.8,95.0 257.7,95.5 260.5,95.9 263.4,96.3 266.2,96.8 269.1,97.1 272.0,97.5 274.8,97.9 277.7,98.2 280.6,98.5 283.4,98.8 286.3,99.1 289.2,99.4 292.1,99.6 294.9,99.8 297.8,100.0 300.7,100.2 303.6,100.4 306.4,100.6 309.3,100.7 312.2,100.8 315.1,100.9 318.0,101.0 320.9,101.1 323.8,101.1 326.6,101.1 329.5,101.1 332.4,101.1 335.3,101.1 338.2,101.1 341.1,101.0 344.0,100.9 346.8,100.8 349.7,100.7 352.6,100.6 355.5,100.4 358.4,100.2 361.2,100.0 364.1,99.8 367.0,99.6 369.9,99.4 372.8,99.1 375.6,98.8 378.5,98.5 381.4,98.2 384.2,97.9 387.1,97.5 390.0,97.1 392.8,96.8 395.7,96.3 398.5,95.9 401.4,95.5 404.2,95.0 407.1,94.5 409.9,94.0 412.8,93.5 415.6,93.0 418.4,92.4 421.3,91.9 424.1,91.3 426.9,90.7 429.7,90.1 432.5,89.4 435.3,88.8 438.2,88.1 441.0,87.4 443.8,86.7 446.5,86.0 449.3,85.2 452.1,84.4 454.9,83.7 457.7,82.9 460.4,82.1 463.2,81.2 466.0,80.4 468.7,79.5 471.5,78.6 474.2,77.7 476.9,76.8 479.7,75.9 482.4,74.9 485.1,73.9 487.8,73.0 490.5,71.9 493.2,70.9 495.9,69.9 498.6,68.8 501.3,67.8 504.0,66.7 506.6,65.6 509.3,64.4 511.9,63.3 514.6,62.1 517.2,61.0 519.8,59.8 522.5,58.6 525.1,57.3 527.7,56.1 530.3,54.9 532.9,53.6 535.5,52.3 538.0,51.0 540.6,49.7 543.2,48.3 545.7,47.0 548.2,45.6 550.8,44.2 553.3,42.8 555.8,41.4 558.3,40.0 560.8,38.5 563.3,37.1 565.8,35.6 568.3,34.1 570.7,32.6 573.2,31.1 575.6,29.5 578.0,28.0 580.5,26.4 582.9,24.8 585.3,23.2 587.7,21.6 590.0,19.9 592.4,18.3 594.8,16.6 597.1,15.0 599.5,13.3 601.8,11.6 604.1,9.8 606.4,8.1 608.7,6.4 611.0,4.6 613.3,2.8 615.5,1.0 617.8,-0.8 620.0,-2.6 622.2,-4.4 624.4,-6.3 626.7,-8.2 628.8,-10.0 631.0,-11.9 633.2,-13.8 635.3,-15.7 637.5,-17.7 639.6,-19.6 641.7,-21.6 643.9,-23.6"/><polyline points="50.0,-60.5 51.9,-58.8 53.8,-57.0 55.7,-55.3 57.6,-53.6 59.5,-51.9 61.4,-50.2 63.4,-48.5 65.3,-46.8 67.3,-45.2 69.2,-43.5 71.2,-41.9 73.2,-40.3 75.2,-38.7 77.2,-37.1 79.2,-35.5 81.3,-33.9 83.3,-32.4 85.4,-30.8 87.4,-29.3 89.5,-27.8 91.6,-26.3 93.7,-24.8 95.8,-23.3 97.9,-21.8 100.0,-20.4 102.1,-18.9 104.2,-17.5 106.4,-16.1 108.5,-14.7 110.7,-13.3 112.9,-12.0 115.1,-10.6 117.2,-9.3 119.4,-7.9 121.6,-6.6 123.9,-5.3 126.1,-4.0 128.3,-2.8 130.5,-1.5 132.8,-0.2 135.0,1.0 137.3,2.2 139.6,3.4 141.8,4.6 144.1,5.8 146.4,6.9 148.7,8.1 151.0,9.2 153.3,10.3 155.6,11.4 158.0,12.5 160.3,13.6 162.6,14.6 165.0,15.7 167.3,16.7 169.7,17.7 172.0,18.7 174.4,19.7 176.8,20.7 179.2,21.6 181.6,22.6 184.0,23.5 186.4,24.4 188.8,25.3 191.2,26.2 193.6,27.0 196.0,27.9 198.4,28.7 200.9,29.5 203.3,30.3 205.8,31.1 208.2,31.9 210.7,32.7 213.1,33.4 215.6,34.1 218.0,34.8 220.5,35.5 223.0,36.2 225.5,36.9 228.0,37.5 230.4,38.1 232.9,38.8 235.4,39.4 237.9,39.9 240.4,40.5 242.9,41.1 245.4,41.6 248.0,42.1 250.5,42.6 253.0,43.1 255.5,43.6 258.0,44.0 260.6,44.5 263.1,44.9 265.6,45.3 268.2,45.7 270.7,46.1 273.2,46.5 275.8,46.8 278.3,47.1 280.9,47.5 283.4,47.7 286.0,48.0 288.5,48.3 291.1,48.5 293.6,48.8 296.2,49.0 298.8,49.2 301.3,49.4 303.9,49.6 306.4,49.7 309.0,49.8 311.6,50.0 314.1,50.1 316.7,50.2 319.3,50.2 321.8,50.3 324.4,50.3 327.0,50.4 329.5,50.4 332.1,50.4 334.7,50.3 337.2,50.3 339.8,50.2 342.4,50.2 344.9,50.1 347.5,50.0 350.1,49.8 352.6,49.7 355.2,49.6 357.7,49.4 360.3,49.2 362.9,49.0 365.4,48.8 368.0,48.5 370.5,48.3 373.1,48.0 375.6,47.7 378.2,47.5 380.7,47.1 383.3,46.8 385.8,46.5 388.4,46.1 390.9,45.7 393.4,45.3 396.0,44.9 398.5,44.5 401.0,44.0 403.5,43.6 406.1,43.1 408.6,42.6 411.1,42.1 413.6,41.6 416.1,41.1 418.6,40.5 421.1,39.9 423.6,39.4 426.1,38.8 428.6,38.1 431.1,37.5 433.6,36.9 436.1,36.2 438.5,35.5 441.0,34.8 443.5,34.1 445.9,33.4 448.4,32.7 450.9,31.9 453.3,31.1 455.7,30.3 458.2,29.5 460.6,28.7 463.0,27.9 465.5,27.0 467.9,26.2 470.3,25.3 472.7,24.4 475.1,23.5 477.5,22.6 479.9,21.6 482.3,20.7 484.6,19.7 487.0,18.7 489.4,17.7 491.7,16.7 494.1,15.7 496.4,14.6 498.8,13.6 501.1,12.5 503.4,11.4 505.7,10.3 508.1,9.2 510.4,8.1 512.7,6.9 514.9,5.8 517.2,4.6 519.5,3.4 521.8,2.2 524.0,1.0 526.3,-0.2 528.5,-1.5 530.8,-2.8 533.0,-4.0 535.2,-5.3 537.4,-6.6 539.6,-7.9 541.8,-9.3 544.0,-10.6 546.2,-12.0 548.4,-13.3 550.5,-14.7 552.7,-16.1 554.8,-17.5 556.9,-18.9 559.1,-20.4 561.2,-21.8 563.3,-23.3 565.4,-24.8 567.5,-26.3 569.6,-27.8 571.6,-29.3 573.7,-30.8 575.7,-32.4 577.8,-33.9 579.8,-35.5 581.8,-37.1 583.8,-38.7 585.8,-40.3 587.8,-41.9 589.8,-43.5 591.8,-45.2 593.7,-46.8 595.7,-48.5 597.6,-50.2 599.6,-51.9 601.5,-53.6 603.4,-55.3 605.3,-57.0 607.2,-58.8 609.0,-60.5"/><polyline points="85.7,-98.4 87.4,-96.9 89.0,-95.4 90.7,-93.9 92.3,-92.4 94.0,-90.9 95.7,-89.4 97.4,-88.0 99.1,-86.5 100.8,-85.1 102.5,-83.6 104.2,-82.2 106.0,-80.8 107.7,-79.4 109.5,-78.0 111.2,-76.6 113.0,-75.2 114.8,-73.9 116.6,-72.5 118.4,-71.2 120.2,-69.9 122.0,-68.6 123.8,-67.3 125.6,-66.0 127.5,-64.7 129.3,-63.4 131.2,-62.2 133.0,-60.9 134.9,-59.7 136.8,-58.5 138.7,-57.3 140.6,-56.1 142.5,-54.9 144.4,-53.7 146.3,-52.6 148.2,-51.4 150.1,-50.3 152.1,-49.2 154.0,-48.1 156.0,-47.0 157.9,-45.9 159.9,-44.8 161.8,-43.7 163.8,-42.7 165.8,-41.6 167.8,-40.6 169.8,-39.6 171.8,-38.6 173.8,-37.6 175.8,-36.7 177.8,-35.7 179.9,-34.7 181.9,-33.8 183.9,-32.9 186.0,-32.0 188.0,-31.1 190.1,-30.2 192.2,-29.3 194.2,-28.5 196.3,-27.6 198.4,-26.8 200.5,-26.0 202.6,-25.2 204.6,-24.4 206.7,-23.6 208.9,-22.8 211.0,-22.1 213.1,-21.3 215.2,-20.6 217.3,-19.9 219.4,-19.2 221.6,-18.5 223.7,-17.8 225.8,-17.2 228.0,-16.5 230.1,-15.9 232.3,-15.3 234.4,-14.7 236.6,-14.1 238.8,-13.5 240.9,-12.9 243.1,-12.4 245.3,-11.8 247.4,-11.3 249.6,-10.8 251.8,-10.3 254.0,-9.8 256.2,-9.4 258.4,-8.9 260.6,-8.5 262.8,-8.0 265.0,-7.6 267.2,-7.2 269.4,-6.8 271.6,-6.5 273.8,-6.1 276.0,-5.8 278.2,-5.4 280.4,-5.1 282.7,-4.8 284.9,-4.5 287.1,-4.3 289.3,-4.0 291.5,-3.8 293.8,-3.5 296.0,-3.3 298.2,-3.1 300.5,-2.9 302.7,-2.7 304.9,-2.6 307.2,-2.4 309.4,-2.3 311.6,-2.2 313.9,-2.1 316.1,-2.0 318.3,-1.9 320.6,-1.8 322.8,-1.8 325.1,-1.8 327.3,-1.7 329.5,-1.7 331.8,-1.7 334.0,-1.8 336.2,-1.8 338.5,-1.8 340.7,-1.9 343.0,-2.0 345.2,-2.1 347.4,-2.2 349.7,-2.3 351.9,-2.4 354.1,-2.6 356.4,-2.7 358.6,-2.9 360.8,-3.1 363.1,-3.3 365.3,-3.5 367.5,-3.8 369.7,-4.0 372.0,-4.3 374.2,-4.5 376.4,-4.8 378.6,-5.1 380.8,-5.4 383.0,-5.8 385.3,-6.1 387.5,-6.5 389.7,-6.8 391.9,-7.2 394.1,-7.6 396.3,-8.0 398.5,-8.5 400.7,-8.9 402.9,-9.4 405.1,-9.8 407.2,-10.3 409.4,-10.8 411.6,-11.3 413.8,-11.8 416.0,-12.4 418.1,-12.9 420.3,-13.5 422.5,-14.1 424.6,-14.7 426.8,-15.3 428.9,-15.9 431.1,-16.5 433.2,-17.2 435.4,-17.8 437.5,-18.5 439.6,-19.2 441.7,-19.9 443.9,-20.6 446.0,-21.3 448.1,-22.1 450.2,-22.8 452.3,-23.6 454.4,-24.4 456.5,-25.2 458.6,-26.0 460.7,-26.8 462.8,-27.6 464.8,-28.5 466.9,-29.3 469.0,-30.2 471.0,-31.1 473.1,-32.0 475.1,-32.9 477.1,-33.8 479.2,-34.7 481.2,-35.7 483.2,-36.7 485.2,-37.6 487.3,-38.6 489.3,-39.6 491.3,-40.6 493.2,-41.6 495.2,-42.7 497.2,-43.7 499.2,-44.8 501.1,-45.9 503.1,-47.0 505.0,-48.1 507.0,-49.2 508.9,-50.3 510.9,-51.4 512.8,-52.6 514.7,-53.7 516.6,-54.9 518.5,-56.1 520.4,-57.3 522.3,-58.5 524.2,-59.7 526.0,-60.9 527.9,-62.2 529.7,-63.4 531.6,-64.7 533.4,-66.0 535.3,-67.3 537.1,-68.6 538.9,-69.9 540.7,-71.2 542.5,-72.5 544.3,-73.9 546.1,-75.2 547.8,-76.6 549.6,-78.0 551.4,-79.4 553.1,-80.8 554.8,-82.2 556.6,-83.6 558.3,-85.1 560.0,-86.5 561.7,-88.0 563.4,-89.4 565.1,-90.9 566.7,-92.4 568.4,-93.9 570.1,-95.4 571.7,-96.9 573.3,-98.4"/><polyline points="-393.2,410.1 -384.1,400.5 -375.2,391.0 -366.4,381.7 -357.6,372.4 -349.0,363.2 -340.5,354.2 -332.0,345.2 -323.7,336.4 -315.4,327.6 -307.3,318.9 -299.2,310.3 -291.1,301.8 -283.2,293.3 -275.3,285.0 -267.5,276.7 -259.7,268.4 -252.0,260.3 -244.4,252.2 -236.9,244.1 -229.3,236.2 -221.9,228.2 -214.5,220.4 -207.1,212.5 -199.8,204.8 -192.5,197.0 -185.3,189.4 -178.1,181.7 -170.9,174.1 -163.8,166.6 -156.7,159.0 -149.7,151.6 -142.7,144.1 -135.7,136.7 -128.7,129.3 -121.7,121.9 -114.8,114.5 -107.9,107.2 -101.0,99.9 -94.2,92.6 -87.3,85.3 -80.5,78.0 -73.6,70.8 -66.8,63.5 -60.0,56.3 -53.2,49.1 -46.4,41.8 -39.5,34.6 -32.7,27.3 -25.9,20.1 -19.1,12.9 -12.3,5.6 -5.4,-1.7 1.4,-8.9 8.3,-16.2 15.2,-23.6 22.1,-30.9 29.0,-38.3 36.0,-45.6 43.0,-53.1 50.0,-60.5 57.1,-68.0 64.2,-75.6 71.3,-83.1 78.5,-90.8 85.7,-98.4 93.0,-106.2 100.4,-114.0 107.8,-121.9 115.3,-129.8 122.8,-137.9"/><polyline points="-343.4,454.1 -335.0,443.9 -326.7,433.9 -318.5,424.0 -310.4,414.2 -302.3,404.5 -294.4,394.9 -286.5,385.5 -278.8,376.1 -271.1,366.8 -263.5,357.6 -255.9,348.5 -248.4,339.5 -241.0,330.6 -233.7,321.7 -226.4,313.0 -219.2,304.3 -212.0,295.6 -204.9,287.1 -197.9,278.6 -190.9,270.1 -184.0,261.8 -177.0,253.4 -170.2,245.2 -163.4,237.0 -156.6,228.8 -149.9,220.7 -143.2,212.6 -136.5,204.6 -129.9,196.6 -123.3,188.6 -116.7,180.7 -110.2,172.8 -103.7,165.0 -97.2,157.1 -90.7,149.3 -84.3,141.6 -77.8,133.8 -71.4,126.1 -65.0,118.4 -58.6,110.7 -52.3,103.0 -45.9,95.3 -39.5,87.6 -33.2,80.0 -26.8,72.3 -20.5,64.7 -14.2,57.0 -7.8,49.4 -1.5,41.7 4.9,34.1 11.3,26.4 17.6,18.7 24.0,11.0 30.4,3.3 36.8,-4.4 43.3,-12.2 49.7,-20.0 56.2,-27.8 62.7,-35.6 69.2,-43.5 75.8,-51.5 82.4,-59.4 89.1,-67.4 95.8,-75.5 102.5,-83.6 109.3,-91.8 116.1,-100.1 123.0,-108.4 130.0,-116.8 137.1,-125.3"/><polyline points="-291.1,494.8 -283.3,484.1 -275.6,473.6 -268.1,463.2 -260.6,452.9 -253.2,442.7 -245.8,432.7 -238.6,422.7 -231.4,412.9 -224.3,403.1 -217.3,393.5 -210.4,383.9 -203.5,374.5 -196.6,365.1 -189.9,355.8 -183.2,346.6 -176.5,337.5 -169.9,328.4 -163.3,319.4 -156.8,310.5 -150.4,301.6 -144.0,292.8 -137.6,284.1 -131.3,275.4 -125.0,266.8 -118.8,258.2 -112.6,249.7 -106.4,241.2 -100.2,232.8 -94.1,224.4 -88.0,216.0 -82.0,207.7 -76.0,199.4 -70.0,191.2 -64.0,182.9 -58.0,174.8 -52.1,166.6 -46.1,158.4 -40.2,150.3 -34.3,142.2 -28.4,134.1 -22.5,126.1 -16.7,118.0 -10.8,110.0 -5.0,101.9 0.9,93.9 6.7,85.9 12.6,77.8 18.4,69.8 24.3,61.7 30.2,53.7 36.0,45.6 41.9,37.6 47.8,29.5 53.7,21.4 59.6,13.3 65.5,5.1 71.5,-3.1 77.5,-11.3 83.5,-19.5 89.5,-27.8 95.6,-36.1 101.6,-44.5 107.8,-52.9 113.9,-61.4 120.2,-69.9 126.4,-78.5 132.7,-87.1 139.1,-95.9 145.5,-104.7 152.0,-113.6"/><polyline points="-236.2,532.1 -229.2,521.0 -222.2,510.0 -215.3,499.2 -208.4,488.4 -201.7,477.8 -195.0,467.3 -188.4,456.9 -181.9,446.7 -175.4,436.5 -169.0,426.4 -162.7,416.4 -156.4,406.6 -150.1,396.8 -144.0,387.1 -137.9,377.5 -131.8,367.9 -125.8,358.5 -119.8,349.1 -113.9,339.8 -108.0,330.5 -102.2,321.3 -96.4,312.2 -90.6,303.1 -84.9,294.1 -79.2,285.2 -73.5,276.3 -67.9,267.4 -62.3,258.6 -56.7,249.9 -51.2,241.1 -45.6,232.5 -40.1,223.8 -34.7,215.2 -29.2,206.6 -23.8,198.1 -18.3,189.6 -12.9,181.1 -7.5,172.6 -2.2,164.1 3.2,155.7 8.6,147.3 13.9,138.8 19.3,130.4 24.6,122.1 29.9,113.7 35.3,105.3 40.6,96.9 45.9,88.5 51.3,80.1 56.6,71.7 62.0,63.3 67.3,54.9 72.7,46.5 78.1,38.0 83.5,29.5 88.9,21.0 94.3,12.5 99.7,3.9 105.2,-4.7 110.7,-13.3 116.2,-22.0 121.8,-30.7 127.4,-39.5 133.0,-48.4 138.7,-57.3 144.4,-66.3 150.1,-75.3 155.9,-84.4 161.8,-93.7 167.7,-103.0"/><polyline points="-179.2,566.0 -172.8,554.4 -166.5,543.0 -160.3,531.7 -154.2,520.6 -148.1,509.6 -142.1,498.7 -136.2,487.9 -130.3,477.2 -124.5,466.7 -118.7,456.2 -113.0,445.9 -107.4,435.6 -101.8,425.5 -96.2,415.4 -90.7,405.4 -85.3,395.5 -79.8,385.7 -74.5,375.9 -69.1,366.3 -63.9,356.7 -58.6,347.1 -53.4,337.7 -48.2,328.3 -43.1,318.9 -37.9,309.6 -32.8,300.4 -27.8,291.2 -22.7,282.1 -17.7,273.0 -12.8,263.9 -7.8,254.9 -2.8,245.9 2.1,237.0 7.0,228.1 11.9,219.2 16.8,210.4 21.6,201.5 26.5,192.7 31.3,184.0 36.1,175.2 40.9,166.5 45.7,157.7 50.6,149.0 55.4,140.3 60.2,131.6 64.9,122.9 69.7,114.2 74.5,105.5 79.3,96.8 84.1,88.0 88.9,79.3 93.8,70.6 98.6,61.8 103.4,53.0 108.3,44.2 113.1,35.4 118.0,26.5 122.9,17.7 127.8,8.7 132.8,-0.2 137.7,-9.3 142.7,-18.3 147.8,-27.4 152.8,-36.6 157.9,-45.9 163.0,-55.2 168.2,-64.6 173.4,-74.1 178.7,-83.6 184.0,-93.3"/><polyline points="-120.1,596.1 -114.5,584.2 -108.9,572.4 -103.4,560.8 -98.0,549.3 -92.6,537.9 -87.3,526.6 -82.1,515.5 -76.9,504.5 -71.7,493.6 -66.6,482.8 -61.6,472.1 -56.6,461.5 -51.7,451.0 -46.8,440.6 -41.9,430.3 -37.1,420.1 -32.3,410.0 -27.5,399.9 -22.8,389.9 -18.2,380.0 -13.5,370.2 -8.9,360.4 -4.3,350.7 0.2,341.0 4.7,331.4 9.2,321.9 13.7,312.4 18.2,302.9 22.6,293.6 27.0,284.2 31.4,274.9 35.8,265.6 40.1,256.4 44.5,247.2 48.8,238.0 53.1,228.9 57.4,219.8 61.7,210.7 65.9,201.6 70.2,192.6 74.5,183.6 78.7,174.6 83.0,165.5 87.2,156.5 91.4,147.6 95.7,138.6 99.9,129.6 104.2,120.6 108.4,111.6 112.6,102.6 116.9,93.6 121.2,84.5 125.4,75.5 129.7,66.4 134.0,57.3 138.3,48.2 142.6,39.1 146.9,29.9 151.3,20.7 155.6,11.4 160.0,2.1 164.4,-7.2 168.9,-16.7 173.3,-26.1 177.8,-35.7 182.4,-45.3 187.0,-55.0 191.6,-64.8 196.2,-74.7 200.9,-84.7"/><polyline points="-59.2,622.5 -54.3,610.3 -49.5,598.2 -44.8,586.2 -40.1,574.4 -35.5,562.7 -30.9,551.1 -26.3,539.7 -21.8,528.4 -17.4,517.2 -13.0,506.1 -8.6,495.1 -4.3,484.2 -0.1,473.4 4.2,462.7 8.4,452.1 12.6,441.6 16.7,431.2 20.8,420.9 24.9,410.6 28.9,400.4 32.9,390.3 36.9,380.2 40.9,370.3 44.8,360.3 48.7,350.5 52.6,340.7 56.5,330.9 60.3,321.2 64.2,311.6 68.0,302.0 71.8,292.4 75.5,282.9 79.3,273.4 83.0,263.9 86.8,254.5 90.5,245.1 94.2,235.8 97.9,226.4 101.6,217.1 105.3,207.8 109.0,198.5 112.7,189.3 116.3,180.0 120.0,170.8 123.7,161.5 127.3,152.3 131.0,143.1 134.7,133.8 138.3,124.6 142.0,115.3 145.7,106.1 149.4,96.8 153.0,87.5 156.7,78.2 160.5,68.8 164.2,59.5 167.9,50.1 171.6,40.6 175.4,31.1 179.2,21.6 183.0,12.1 186.8,2.4 190.6,-7.2 194.5,-17.0 198.4,-26.8 202.3,-36.7 206.3,-46.6 210.2,-56.7 214.3,-66.9 218.3,-77.1"/><polyline points="3.2,645.0 7.3,632.5 11.3,620.1 15.3,607.9 19.2,595.8 23.1,583.8 27.0,572.0 30.8,560.3 34.6,548.7 38.3,537.2 42.0,525.9 45.6,514.7 49.3,503.5 52.9,492.5 56.4,481.6 59.9,470.7 63.4,460.0 66.9,449.3 70.4,438.7 73.8,428.2 77.2,417.8 80.5,407.5 83.9,397.2 87.2,387.0 90.5,376.8 93.8,366.7 97.1,356.7 100.3,346.7 103.5,336.8 106.8,326.9 110.0,317.1 113.1,307.3 116.3,297.6 119.5,287.9 122.6,278.2 125.8,268.6 128.9,259.0 132.0,249.4 135.1,239.8 138.2,230.3 141.3,220.8 144.4,211.3 147.5,201.8 150.6,192.4 153.6,182.9 156.7,173.5 159.8,164.0 162.9,154.6 166.0,145.1 169.0,135.6 172.1,126.2 175.2,116.7 178.3,107.2 181.4,97.7 184.5,88.2 187.6,78.6 190.7,69.0 193.8,59.4 197.0,49.8 200.1,40.1 203.3,30.3 206.5,20.5 209.7,10.7 212.9,0.8 216.2,-9.2 219.4,-19.2 222.7,-29.3 226.0,-39.5 229.4,-49.8 232.8,-60.2 236.2,-70.7"/><polyline points="66.9,663.6 70.2,650.8 73.4,638.2 76.6,625.7 79.8,613.4 82.9,601.2 86.0,589.2 89.1,577.3 92.1,565.5 95.1,553.8 98.1,542.2 101.1,530.8 104.0,519.5 106.9,508.2 109.7,497.1 112.6,486.0 115.4,475.1 118.2,464.2 121.0,453.5 123.7,442.8 126.4,432.2 129.1,421.6 131.8,411.1 134.5,400.7 137.2,390.4 139.8,380.1 142.4,369.9 145.1,359.8 147.7,349.7 150.2,339.6 152.8,329.6 155.4,319.6 157.9,309.7 160.5,299.8 163.0,290.0 165.5,280.2 168.0,270.4 170.6,260.6 173.1,250.9 175.6,241.2 178.0,231.5 180.5,221.8 183.0,212.2 185.5,202.5 188.0,192.9 190.5,183.3 192.9,173.6 195.4,164.0 197.9,154.4 200.4,144.8 202.8,135.1 205.3,125.5 207.8,115.8 210.3,106.1 212.8,96.4 215.3,86.7 217.8,76.9 220.3,67.1 222.9,57.3 225.4,47.4 228.0,37.5 230.5,27.5 233.1,17.5 235.7,7.4 238.3,-2.7 240.9,-12.9 243.6,-23.2 246.2,-33.6 248.9,-44.1 251.7,-54.7 254.4,-65.4"/><polyline points="131.6,678.1 134.1,665.1 136.6,652.3 139.0,639.7 141.4,627.2 143.7,614.8 146.1,602.6 148.4,590.5 150.7,578.6 152.9,566.7 155.2,555.0 157.4,543.4 159.6,531.9 161.8,520.5 163.9,509.2 166.1,498.0 168.2,486.9 170.3,475.9 172.4,465.0 174.4,454.1 176.5,443.4 178.5,432.7 180.6,422.1 182.6,411.5 184.6,401.0 186.6,390.6 188.6,380.2 190.5,369.9 192.5,359.7 194.4,349.5 196.4,339.3 198.3,329.2 200.2,319.2 202.1,309.2 204.1,299.2 206.0,289.2 207.9,279.3 209.7,269.4 211.6,259.5 213.5,249.7 215.4,239.9 217.3,230.1 219.1,220.3 221.0,210.5 222.9,200.7 224.7,191.0 226.6,181.2 228.5,171.4 230.3,161.7 232.2,151.9 234.1,142.1 235.9,132.3 237.8,122.5 239.7,112.7 241.6,102.9 243.5,93.0 245.4,83.1 247.2,73.2 249.2,63.2 251.1,53.2 253.0,43.1 254.9,33.0 256.9,22.8 258.8,12.6 260.8,2.3 262.8,-8.0 264.8,-18.5 266.8,-29.0 268.8,-39.7 270.9,-50.4 272.9,-61.2"/><polyline points="197.2,688.5 198.8,675.4 200.5,662.5 202.1,649.7 203.7,637.1 205.3,624.6 206.8,612.3 208.4,600.0 209.9,588.0 211.4,576.0 212.9,564.2 214.4,552.4 215.9,540.8 217.3,529.3 218.8,517.9 220.2,506.6 221.6,495.4 223.0,484.3 224.4,473.2 225.8,462.3 227.2,451.4 228.5,440.6 229.9,429.9 231.2,419.2 232.6,408.6 233.9,398.1 235.2,387.7 236.6,377.2 237.9,366.9 239.2,356.6 240.5,346.3 241.8,336.1 243.0,326.0 244.3,315.8 245.6,305.8 246.9,295.7 248.1,285.7 249.4,275.7 250.7,265.7 251.9,255.8 253.2,245.9 254.4,236.0 255.7,226.1 256.9,216.2 258.2,206.3 259.4,196.5 260.7,186.6 261.9,176.7 263.2,166.9 264.4,157.0 265.7,147.1 266.9,137.3 268.2,127.3 269.4,117.4 270.7,107.5 272.0,97.5 273.2,87.5 274.5,77.5 275.8,67.4 277.0,57.3 278.3,47.1 279.6,36.9 280.9,26.7 282.2,16.3 283.5,5.9 284.9,-4.5 286.2,-15.1 287.6,-25.7 288.9,-36.5 290.3,-47.3 291.7,-58.3"/><polyline points="263.2,694.7 264.0,681.6 264.9,668.6 265.7,655.7 266.5,643.0 267.3,630.5 268.0,618.1 268.8,605.8 269.6,593.6 270.3,581.6 271.1,569.7 271.8,557.9 272.6,546.2 273.3,534.6 274.0,523.2 274.7,511.8 275.5,500.5 276.2,489.3 276.9,478.2 277.6,467.2 278.2,456.2 278.9,445.4 279.6,434.6 280.3,423.9 281.0,413.2 281.6,402.6 282.3,392.1 282.9,381.6 283.6,371.2 284.3,360.9 284.9,350.6 285.6,340.3 286.2,330.1 286.8,319.9 287.5,309.7 288.1,299.6 288.8,289.5 289.4,279.5 290.0,269.5 290.7,259.4 291.3,249.5 291.9,239.5 292.5,229.6 293.2,219.6 293.8,209.7 294.4,199.8 295.0,189.9 295.7,179.9 296.3,170.0 296.9,160.1 297.5,150.2 298.2,140.2 298.8,130.2 299.4,120.3 300.1,110.3 300.7,100.2 301.3,90.2 302.0,80.1 302.6,70.0 303.2,59.8 303.9,49.6 304.5,39.3 305.2,29.0 305.8,18.6 306.5,8.1 307.2,-2.4 307.8,-13.0 308.5,-23.7 309.2,-34.5 309.9,-45.4 310.6,-56.5"/><polyline points="329.5,696.8 329.5,683.6 329.5,670.6 329.5,657.7 329.5,645.0 329.5,632.4 329.5,620.0 329.5,607.7 329.5,595.5 329.5,583.5 329.5,571.5 329.5,559.7 329.5,548.0 329.5,536.4 329.5,524.9 329.5,513.5 329.5,502.2 329.5,491.0 329.5,479.9 329.5,468.8 329.5,457.9 329.5,447.0 329.5,436.2 329.5,425.4 329.5,414.8 329.5,404.1 329.5,393.6 329.5,383.1 329.5,372.7 329.5,362.3 329.5,352.0 329.5,341.7 329.5,331.4 329.5,321.2 329.5,311.0 329.5,300.9 329.5,290.8 329.5,280.7 329.5,270.7 329.5,260.7 329.5,250.7 329.5,240.7 329.5,230.7 329.5,220.8 329.5,210.8 329.5,200.9 329.5,190.9 329.5,181.0 329.5,171.1 329.5,161.1 329.5,151.2 329.5,141.2 329.5,131.2 329.5,121.2 329.5,111.2 329.5,101.1 329.5,91.1 329.5,80.9 329.5,70.8 329.5,60.6 329.5,50.4 329.5,40.1 329.5,29.7 329.5,19.3 329.5,8.8 329.5,-1.7 329.5,-12.4 329.5,-23.1 329.5,-33.9 329.5,-44.8 329.5,-55.9"/><polyline points="395.8,694.7 395.0,681.6 394.2,668.6 393.4,655.7 392.6,643.0 391.8,630.5 391.0,618.1 390.2,605.8 389.5,593.6 388.7,581.6 388.0,569.7 387.2,557.9 386.5,546.2 385.7,534.6 385.0,523.2 384.3,511.8 383.6,500.5 382.9,489.3 382.2,478.2 381.5,467.2 380.8,456.2 380.1,445.4 379.4,434.6 378.8,423.9 378.1,413.2 377.4,402.6 376.8,392.1 376.1,381.6 375.4,371.2 374.8,360.9 374.1,350.6 373.5,340.3 372.9,330.1 372.2,319.9 371.6,309.7 370.9,299.6 370.3,289.5 369.7,279.5 369.0,269.5 368.4,259.4 367.8,249.5 367.1,239.5 366.5,229.6 365.9,219.6 365.3,209.7 364.6,199.8 364.0,189.9 363.4,179.9 362.8,170.0 362.1,160.1 361.5,150.2 360.9,140.2 360.3,130.2 359.6,120.3 359.0,110.3 358.4,100.2 357.7,90.2 357.1,80.1 356.5,70.0 355.8,59.8 355.2,49.6 354.5,39.3 353.9,29.0 353.2,18.6 352.6,8.1 351.9,-2.4 351.2,-13.0 350.6,-23.7 349.9,-34.5 349.2,-45.4 348.5,-56.5"/><polyline points="461.9,688.5 460.2,675.4 458.6,662.5 457.0,649.7 455.4,637.1 453.8,624.6 452.2,612.3 450.7,600.0 449.2,588.0 447.7,576.0 446.2,564.2 444.7,552.4 443.2,540.8 441.7,529.3 440.3,517.9 438.9,506.6 437.5,495.4 436.0,484.3 434.6,473.2 433.3,462.3 431.9,451.4 430.5,440.6 429.2,429.9 427.8,419.2 426.5,408.6 425.1,398.1 423.8,387.7 422.5,377.2 421.2,366.9 419.9,356.6 418.6,346.3 417.3,336.1 416.0,326.0 414.7,315.8 413.5,305.8 412.2,295.7 410.9,285.7 409.6,275.7 408.4,265.7 407.1,255.8 405.9,245.9 404.6,236.0 403.4,226.1 402.1,216.2 400.9,206.3 399.6,196.5 398.4,186.6 397.1,176.7 395.9,166.9 394.6,157.0 393.4,147.1 392.1,137.3 390.9,127.3 389.6,117.4 388.4,107.5 387.1,97.5 385.8,87.5 384.6,77.5 383.3,67.4 382.0,57.3 380.7,47.1 379.4,36.9 378.1,26.7 376.8,16.3 375.5,5.9 374.2,-4.5 372.8,-15.1 371.5,-25.7 370.1,-36.5 368.8,-47.3 367.4,-58.3"/><polyline points="527.4,678.1 524.9,665.1 522.5,652.3 520.1,639.7 517.7,627.2 515.3,614.8 513.0,602.6 510.7,590.5 508.4,578.6 506.1,566.7 503.9,555.0 501.7,543.4 499.5,531.9 497.3,520.5 495.1,509.2 493.0,498.0 490.9,486.9 488.8,475.9 486.7,465.0 484.6,454.1 482.6,443.4 480.5,432.7 478.5,422.1 476.5,411.5 474.5,401.0 472.5,390.6 470.5,380.2 468.5,369.9 466.6,359.7 464.6,349.5 462.7,339.3 460.7,329.2 458.8,319.2 456.9,309.2 455.0,299.2 453.1,289.2 451.2,279.3 449.3,269.4 447.4,259.5 445.5,249.7 443.7,239.9 441.8,230.1 439.9,220.3 438.1,210.5 436.2,200.7 434.3,191.0 432.5,181.2 430.6,171.4 428.7,161.7 426.9,151.9 425.0,142.1 423.1,132.3 421.2,122.5 419.4,112.7 417.5,102.9 415.6,93.0 413.7,83.1 411.8,73.2 409.9,63.2 408.0,53.2 406.1,43.1 404.1,33.0 402.2,22.8 400.2,12.6 398.3,2.3 396.3,-8.0 394.3,-18.5 392.3,-29.0 390.2,-39.7 388.2,-50.4 386.1,-61.2"/><polyline points="592.2,663.6 588.9,650.8 585.6,638.2 582.4,625.7 579.2,613.4 576.1,601.2 573.0,589.2 569.9,577.3 566.9,565.5 563.9,553.8 560.9,542.2 558.0,530.8 555.1,519.5 552.2,508.2 549.3,497.1 546.5,486.0 543.7,475.1 540.9,464.2 538.1,453.5 535.4,442.8 532.6,432.2 529.9,421.6 527.2,411.1 524.5,400.7 521.9,390.4 519.2,380.1 516.6,369.9 514.0,359.8 511.4,349.7 508.8,339.6 506.2,329.6 503.7,319.6 501.1,309.7 498.6,299.8 496.0,290.0 493.5,280.2 491.0,270.4 488.5,260.6 486.0,250.9 483.5,241.2 481.0,231.5 478.5,221.8 476.0,212.2 473.6,202.5 471.1,192.9 468.6,183.3 466.1,173.6 463.7,164.0 461.2,154.4 458.7,144.8 456.2,135.1 453.7,125.5 451.2,115.8 448.8,106.1 446.3,96.4 443.8,86.7 441.2,76.9 438.7,67.1 436.2,57.3 433.7,47.4 431.1,37.5 428.5,27.5 426.0,17.5 423.4,7.4 420.8,-2.7 418.1,-12.9 415.5,-23.2 412.8,-33.6 410.1,-44.1 407.4,-54.7 404.6,-65.4"/><polyline points="655.9,645.0 651.8,632.5 647.7,620.1 643.8,607.9 639.8,595.8 635.9,583.8 632.1,572.0 628.3,560.3 624.5,548.7 620.8,537.2 617.1,525.9 613.4,514.7 609.8,503.5 606.2,492.5 602.6,481.6 599.1,470.7 595.6,460.0 592.1,449.3 588.7,438.7 585.3,428.2 581.9,417.8 578.5,407.5 575.2,397.2 571.8,387.0 568.5,376.8 565.3,366.7 562.0,356.7 558.7,346.7 555.5,336.8 552.3,326.9 549.1,317.1 545.9,307.3 542.7,297.6 539.6,287.9 536.4,278.2 533.3,268.6 530.2,259.0 527.1,249.4 523.9,239.8 520.8,230.3 517.7,220.8 514.7,211.3 511.6,201.8 508.5,192.4 505.4,182.9 502.3,173.5 499.3,164.0 496.2,154.6 493.1,145.1 490.0,135.6 486.9,126.2 483.9,116.7 480.8,107.2 477.7,97.7 474.6,88.2 471.5,78.6 468.3,69.0 465.2,59.4 462.1,49.8 458.9,40.1 455.7,30.3 452.6,20.5 449.4,10.7 446.1,0.8 442.9,-9.2 439.6,-19.2 436.3,-29.3 433.0,-39.5 429.7,-49.8 426.3,-60.2 422.9,-70.7"/><polyline points="718.3,622.5 713.4,610.3 708.6,598.2 703.8,586.2 699.2,574.4 694.5,562.7 689.9,551.1 685.4,539.7 680.9,528.4 676.5,517.2 672.1,506.1 667.7,495.1 663.4,484.2 659.1,473.4 654.9,462.7 650.7,452.1 646.5,441.6 642.4,431.2 638.3,420.9 634.2,410.6 630.1,400.4 626.1,390.3 622.1,380.2 618.2,370.3 614.3,360.3 610.3,350.5 606.5,340.7 602.6,330.9 598.7,321.2 594.9,311.6 591.1,302.0 587.3,292.4 583.5,282.9 579.8,273.4 576.0,263.9 572.3,254.5 568.5,245.1 564.8,235.8 561.1,226.4 557.4,217.1 553.7,207.8 550.1,198.5 546.4,189.3 542.7,180.0 539.0,170.8 535.4,161.5 531.7,152.3 528.1,143.1 524.4,133.8 520.7,124.6 517.1,115.3 513.4,106.1 509.7,96.8 506.0,87.5 502.3,78.2 498.6,68.8 494.9,59.5 491.2,50.1 487.4,40.6 483.7,31.1 479.9,21.6 476.1,12.1 472.3,2.4 468.4,-7.2 464.6,-17.0 460.7,-26.8 456.8,-36.7 452.8,-46.6 448.8,-56.7 444.8,-66.9 440.7,-77.1"/><polyline points="779.1,596.1 773.5,584.2 768.0,572.4 762.5,560.8 757.0,549.3 751.7,537.9 746.4,526.6 741.1,515.5 735.9,504.5 730.8,493.6 725.7,482.8 720.7,472.1 715.7,461.5 710.7,451.0 705.8,440.6 700.9,430.3 696.1,420.1 691.3,410.0 686.6,399.9 681.9,389.9 677.2,380.0 672.6,370.2 668.0,360.4 663.4,350.7 658.8,341.0 654.3,331.4 649.8,321.9 645.3,312.4 640.9,302.9 636.5,293.6 632.1,284.2 627.7,274.9 623.3,265.6 618.9,256.4 614.6,247.2 610.3,238.0 606.0,228.9 601.7,219.8 597.4,210.7 593.1,201.6 588.9,192.6 584.6,183.6 580.3,174.6 576.1,165.5 571.9,156.5 567.6,147.6 563.4,138.6 559.1,129.6 554.9,120.6 550.7,111.6 546.4,102.6 542.2,93.6 537.9,84.5 533.6,75.5 529.4,66.4 525.1,57.3 520.8,48.2 516.5,39.1 512.1,29.9 507.8,20.7 503.4,11.4 499.0,2.1 494.6,-7.2 490.2,-16.7 485.7,-26.1 481.2,-35.7 476.7,-45.3 472.1,-55.0 467.5,-64.8 462.8,-74.7 458.1,-84.7"/><polyline points="838.2,566.0 831.9,554.4 825.6,543.0 819.4,531.7 813.2,520.6 807.1,509.6 801.1,498.7 795.2,487.9 789.3,477.2 783.5,466.7 777.8,456.2 772.1,445.9 766.4,435.6 760.8,425.5 755.3,415.4 749.8,405.4 744.3,395.5 738.9,385.7 733.5,375.9 728.2,366.3 722.9,356.7 717.7,347.1 712.4,337.7 707.3,328.3 702.1,318.9 697.0,309.6 691.9,300.4 686.8,291.2 681.8,282.1 676.8,273.0 671.8,263.9 666.8,254.9 661.9,245.9 657.0,237.0 652.1,228.1 647.2,219.2 642.3,210.4 637.4,201.5 632.6,192.7 627.8,184.0 622.9,175.2 618.1,166.5 613.3,157.7 608.5,149.0 603.7,140.3 598.9,131.6 594.1,122.9 589.3,114.2 584.5,105.5 579.7,96.8 574.9,88.0 570.1,79.3 565.3,70.6 560.5,61.8 555.6,53.0 550.8,44.2 545.9,35.4 541.0,26.5 536.1,17.7 531.2,8.7 526.3,-0.2 521.3,-9.3 516.3,-18.3 511.3,-27.4 506.2,-36.6 501.1,-45.9 496.0,-55.2 490.8,-64.6 485.6,-74.1 480.3,-83.6 475.0,-93.3"/><polyline points="895.3,532.1 888.2,521.0 881.2,510.0 874.3,499.2 867.5,488.4 860.7,477.8 854.1,467.3 847.5,456.9 840.9,446.7 834.5,436.5 828.0,426.4 821.7,416.4 815.4,406.6 809.2,396.8 803.0,387.1 796.9,377.5 790.8,367.9 784.8,358.5 778.9,349.1 772.9,339.8 767.0,330.5 761.2,321.3 755.4,312.2 749.6,303.1 743.9,294.1 738.2,285.2 732.6,276.3 726.9,267.4 721.3,258.6 715.8,249.9 710.2,241.1 704.7,232.5 699.2,223.8 693.7,215.2 688.3,206.6 682.8,198.1 677.4,189.6 672.0,181.1 666.6,172.6 661.2,164.1 655.9,155.7 650.5,147.3 645.1,138.8 639.8,130.4 634.5,122.1 629.1,113.7 623.8,105.3 618.5,96.9 613.1,88.5 607.8,80.1 602.4,71.7 597.1,63.3 591.7,54.9 586.4,46.5 581.0,38.0 575.6,29.5 570.2,21.0 564.8,12.5 559.3,3.9 553.8,-4.7 548.4,-13.3 542.8,-22.0 537.3,-30.7 531.7,-39.5 526.1,-48.4 520.4,-57.3 514.7,-66.3 508.9,-75.3 503.1,-84.4 497.3,-93.7 491.3,-103.0"/><polyline points="950.1,494.8 942.4,484.1 934.7,473.6 927.1,463.2 919.6,452.9 912.2,442.7 904.9,432.7 897.7,422.7 890.5,412.9 883.4,403.1 876.4,393.5 869.4,383.9 862.5,374.5 855.7,365.1 848.9,355.8 842.2,346.6 835.6,337.5 829.0,328.4 822.4,319.4 815.9,310.5 809.5,301.6 803.0,292.8 796.7,284.1 790.4,275.4 784.1,266.8 777.8,258.2 771.6,249.7 765.4,241.2 759.3,232.8 753.2,224.4 747.1,216.0 741.0,207.7 735.0,199.4 729.0,191.2 723.0,182.9 717.1,174.8 711.1,166.6 705.2,158.4 699.3,150.3 693.4,142.2 687.5,134.1 681.6,126.1 675.7,118.0 669.9,110.0 664.0,101.9 658.2,93.9 652.3,85.9 646.5,77.8 640.6,69.8 634.8,61.7 628.9,53.7 623.0,45.6 617.2,37.6 611.3,29.5 605.4,21.4 599.5,13.3 593.5,5.1 587.6,-3.1 581.6,-11.3 575.6,-19.5 569.6,-27.8 563.5,-36.1 557.4,-44.5 551.3,-52.9 545.1,-61.4 538.9,-69.9 532.6,-78.5 526.3,-87.1 519.9,-95.9 513.5,-104.7 507.0,-113.6"/><polyline points="1002.5,454.1 994.1,443.9 985.8,433.9 977.5,424.0 969.4,414.2 961.4,404.5 953.5,394.9 945.6,385.5 937.8,376.1 930.1,366.8 922.5,357.6 915.0,348.5 907.5,339.5 900.1,330.6 892.8,321.7 885.5,313.0 878.3,304.3 871.1,295.6 864.0,287.1 857.0,278.6 850.0,270.1 843.0,261.8 836.1,253.4 829.2,245.2 822.4,237.0 815.7,228.8 808.9,220.7 802.2,212.6 795.6,204.6 788.9,196.6 782.3,188.6 775.8,180.7 769.2,172.8 762.7,165.0 756.2,157.1 749.8,149.3 743.3,141.6 736.9,133.8 730.5,126.1 724.1,118.4 717.7,110.7 711.3,103.0 705.0,95.3 698.6,87.6 692.2,80.0 685.9,72.3 679.6,64.7 673.2,57.0 666.9,49.4 660.5,41.7 654.2,34.1 647.8,26.4 641.4,18.7 635.0,11.0 628.6,3.3 622.2,-4.4 615.8,-12.2 609.3,-20.0 602.9,-27.8 596.4,-35.6 589.8,-43.5 583.2,-51.5 576.6,-59.4 570.0,-67.4 563.3,-75.5 556.6,-83.6 549.8,-91.8 542.9,-100.1 536.0,-108.4 529.0,-116.8 522.0,-125.3"/><polyline points="1052.2,410.1 1043.2,400.5 1034.2,391.0 1025.4,381.7 1016.7,372.4 1008.1,363.2 999.5,354.2 991.1,345.2 982.8,336.4 974.5,327.6 966.3,318.9 958.2,310.3 950.2,301.8 942.2,293.3 934.4,285.0 926.5,276.7 918.8,268.4 911.1,260.3 903.5,252.2 895.9,244.1 888.4,236.2 880.9,228.2 873.5,220.4 866.2,212.5 858.8,204.8 851.6,197.0 844.3,189.4 837.1,181.7 830.0,174.1 822.9,166.6 815.8,159.0 808.7,151.6 801.7,144.1 794.7,136.7 787.8,129.3 780.8,121.9 773.9,114.5 767.0,107.2 760.1,99.9 753.2,92.6 746.4,85.3 739.5,78.0 732.7,70.8 725.9,63.5 719.0,56.3 712.2,49.1 705.4,41.8 698.6,34.6 691.8,27.3 685.0,20.1 678.1,12.9 671.3,5.6 664.5,-1.7 657.6,-8.9 650.7,-16.2 643.9,-23.6 636.9,-30.9 630.0,-38.3 623.0,-45.6 616.1,-53.1 609.0,-60.5 602.0,-68.0 594.9,-75.6 587.8,-83.1 580.6,-90.8 573.3,-98.4 566.0,-106.2 558.7,-114.0 551.3,-121.9 543.8,-129.8 536.2,-137.9"/></g>
<g fill="none" stroke="#111" stroke-width="0.7" stroke-linejoin="round"><polyline points="362.5,250.8 356.4,252.1 347.0,245.4 341.9,258.5 338.9,262.6 342.7,257.5 344.8,250.5 340.9,242.6 337.1,241.6 333.3,247.7 325.7,252.7 320.2,259.6 314.0,258.5 310.8,262.4 312.2,268.4 317.7,270.6 321.5,278.7 328.7,277.7 334.3,273.7 341.5,275.6 349.5,277.4 347.2,281.5 340.8,283.7 335.2,286.8 331.2,291.8 324.6,298.9 322.9,302.9 332.0,308.0 336.4,321.2 341.6,328.2 346.1,334.3 345.4,341.5 338.4,344.7 346.5,352.8 344.0,362.1 340.5,369.5 335.1,376.8 331.4,385.2 325.8,392.5 324.8,399.9 318.0,405.1 310.2,409.2 303.2,416.4 295.0,424.7 285.0,427.4 275.0,428.9 268.9,430.6 263.8,431.3 255.5,434.9 245.2,437.1 233.8,439.1 229.6,448.4 227.0,444.8 225.2,434.7 215.6,431.2 209.3,432.5 201.5,436.7 194.8,440.0 187.6,445.4 181.8,454.4 185.2,465.1 188.0,473.5 193.9,483.5 202.5,491.6 207.6,501.5 210.3,514.5 209.7,527.2 208.3,537.5 203.6,546.3 193.6,550.8 181.3,554.8 173.2,560.7 161.1,568.2 152.0,571.5 152.0,559.2 155.2,555.0 150.3,549.2 140.3,546.0 136.6,535.6 132.8,526.4 126.9,521.5 117.0,514.3 113.4,505.1 108.0,503.8 104.0,514.7 96.4,525.9 90.0,536.4 88.0,548.2 94.6,551.2 96.8,561.7 95.9,575.2"/><polyline points="362.5,250.8 368.8,253.4 370.9,261.3 367.3,267.5 373.9,271.1 381.9,271.5 383.3,278.5 379.8,285.8 383.7,292.6 381.9,301.9 387.9,303.4 394.4,300.8 400.8,298.1 406.1,293.4 406.9,286.2 404.7,275.3 397.0,263.0 390.0,256.7 387.0,250.0 394.9,244.1 402.5,237.2 402.9,228.1 408.1,222.4 411.6,215.9 418.2,210.9 425.5,214.8 431.8,208.6 439.0,200.2 446.3,186.5 450.7,174.3 453.7,163.4 457.2,152.3 460.7,142.2 458.7,129.3 459.6,113.6 455.2,102.3 449.1,97.8"/><polyline points="411.9,314.1 416.5,309.5 421.1,305.8 428.5,309.8 431.3,316.6 429.5,328.3 426.6,332.8 422.5,335.5 418.6,332.9 419.5,325.5 416.1,319.8 412.6,319.2 411.9,314.1"/><polyline points="435.4,309.8 437.8,303.3 442.6,301.4 446.0,296.7 452.1,297.6 452.9,301.6 449.8,308.4 444.3,306.3 440.4,314.2 435.4,309.8"/><polyline points="421.0,304.8 424.5,300.2 430.1,292.2 433.5,287.5 439.2,286.6 446.3,284.3 455.2,282.6 459.0,280.8 459.4,274.6 462.9,267.7 465.0,262.1 467.8,267.6 474.8,261.9 477.8,254.0 480.7,246.0 481.3,235.6 479.5,225.7 482.4,218.8 486.7,217.6 490.0,223.9 496.9,231.3 495.8,238.9 493.6,245.8 495.0,253.7 495.8,259.8 495.2,267.2 498.1,271.6 495.7,278.6 491.9,280.6 490.4,274.7 486.4,278.8 484.6,285.5 480.5,286.5 475.7,287.6 470.2,289.9 469.2,293.2 465.5,296.0 462.6,302.8 456.8,299.8 456.9,291.6 450.4,292.8 444.4,297.0 437.9,299.1 433.1,300.9 428.5,303.7 421.9,305.7 421.0,304.8"/><polyline points="477.3,217.0 476.0,209.1 473.1,206.8 475.6,198.9 482.6,197.0 481.3,187.1 480.4,176.0 486.2,178.4 496.6,183.6 504.8,181.0 506.5,179.4 511.7,188.2 504.6,194.7 499.6,205.6 489.0,203.5 483.1,207.2 483.7,212.2 480.4,217.2 477.3,217.0"/><polyline points="479.5,170.0 474.7,155.9 472.5,143.1 468.4,126.6 465.4,114.0 463.0,99.1 461.3,89.1 465.9,96.2 470.8,112.4 477.8,129.1 486.3,136.8 478.2,137.3 478.1,150.8 487.9,162.4 486.8,165.8 481.1,163.4 479.5,170.0"/><polyline points="339.1,403.0 344.8,400.8 347.7,403.9 345.0,412.5 343.3,423.2 338.5,434.0 336.5,436.1 332.5,429.7 330.5,424.4 331.5,416.9 335.3,409.4 339.1,403.0"/><polyline points="211.7,458.2 216.6,467.8 221.6,470.6 230.7,465.1 236.9,457.0 233.4,451.1 225.1,451.1 218.9,451.4 211.7,458.2"/><polyline points="335.8,474.3 343.1,473.1 352.6,474.0 354.0,487.3 352.2,498.5 346.9,504.3 347.1,515.6 352.8,523.4 358.3,522.1 365.2,527.6 375.6,535.2 374.7,539.9 366.6,535.6 358.6,530.2 349.5,525.8 341.8,528.3 336.2,522.6 336.1,518.0 330.6,514.6 327.4,503.3 332.8,498.8 333.8,485.4 335.8,474.3"/><polyline points="332.9,530.6 343.0,531.7 346.5,540.9 342.0,545.6 337.5,542.1 332.9,530.6"/><polyline points="378.2,540.9 389.6,541.3 395.1,555.0 387.2,557.9 379.9,551.3 378.2,540.9"/><polyline points="378.9,553.7 387.0,554.4 390.1,567.2 385.6,569.8 379.4,563.1 378.9,553.7"/><polyline points="351.2,548.9 359.3,552.2 365.3,557.8 358.5,564.0 352.8,565.3 351.2,548.9"/><polyline points="363.0,560.3 370.1,563.5 367.3,579.1 357.6,572.3 363.0,560.3"/><polyline points="374.4,555.1 377.3,566.7 369.5,576.6 374.4,555.1"/><polyline points="365.2,587.6 379.8,591.8 392.8,571.7 402.6,577.0 409.3,600.7"/><polyline points="321.4,565.6 326.1,560.9 327.2,569.1 315.4,579.8 299.7,590.2 297.4,587.7 310.7,576.1 321.4,565.6"/><polyline points="230.0,124.0 237.7,123.0 245.9,118.9 253.1,113.0 258.9,106.8 264.0,100.5 267.8,93.9 269.7,88.1 271.6,89.3 269.9,95.2 266.0,102.8 260.9,109.2 255.1,115.4 248.0,121.3 239.7,125.9 232.6,126.6 230.0,124.0"/><polyline points="125.8,117.3 143.5,111.6 157.9,112.8 169.4,120.1 181.0,130.0 191.6,127.9 195.2,117.6 207.3,117.7 219.0,124.7 218.3,133.7 226.3,138.5 240.4,139.2 252.2,146.3 261.6,153.6 271.4,153.8 282.6,152.0 294.6,147.0 308.4,151.7"/><polyline points="125.8,117.3 127.7,129.9 135.4,137.3 135.9,149.2 130.7,158.9 138.8,167.3 148.1,176.9 157.0,181.9 159.4,198.3 177.4,204.5 190.4,206.9 204.4,218.3 218.4,224.2 234.4,218.9 250.5,220.4 259.6,218.5 271.4,210.8 270.0,203.7 280.2,200.7 291.2,195.6 302.1,187.3 311.8,184.7 317.9,183.9 327.5,185.0 328.2,180.0 319.5,172.0 311.5,173.7 302.8,173.4 299.7,169.2 304.1,160.5 308.4,151.7"/><polyline points="308.4,151.7 316.0,156.0 324.4,148.1 330.1,135.2 334.4,126.2 342.7,117.0 350.4,115.7 360.1,118.2 365.8,121.8 370.2,131.5 375.6,142.1 378.3,150.8 386.3,153.0 398.6,157.5 402.9,169.0 412.8,167.5 419.2,161.4 426.2,159.1 427.2,168.0 424.5,179.6 421.0,192.3 412.4,191.7 406.7,196.5 410.9,211.0 406.6,216.6 408.1,222.4"/><polyline points="362.5,250.8 369.7,243.3 380.7,230.5 389.5,228.7 390.4,223.5 400.7,222.4 403.7,217.0 408.1,222.4"/><polyline points="125.8,117.3 122.3,109.2 113.1,101.7 107.9,89.2 93.5,84.1 84.1,88.0"/><polyline points="209.3,432.5 201.1,420.3 197.9,415.4 191.1,414.2 186.1,408.9 176.4,412.5 170.9,414.7 162.4,411.8 156.3,411.5 153.2,411.9"/><polyline points="153.2,411.9 159.1,422.1 160.2,431.2 171.3,437.9 171.6,446.9 176.1,456.7 183.3,463.6 187.7,475.6 188.1,485.9 195.2,496.2 192.5,506.1 192.4,514.2 188.2,526.3 181.3,533.4 174.0,535.7 167.6,545.3 158.3,544.8 150.3,549.2"/><polyline points="128.2,429.2 130.1,438.7 137.1,440.5 133.2,452.0 142.7,457.6 151.5,461.8 161.6,465.1 167.8,477.7 166.9,487.8 173.5,493.7 170.2,505.7 175.6,506.7 181.5,505.4 192.5,506.1"/><polyline points="170.2,505.7 153.9,502.6 141.6,502.3 133.5,507.6 133.3,524.1 135.4,530.5"/><polyline points="153.2,411.9 148.3,415.2 140.8,416.7 134.4,417.4 130.9,410.9 124.4,408.1 129.5,400.5 124.6,395.9 124.3,385.9 115.3,385.6 117.0,376.1 126.7,370.1 134.7,351.6 131.2,350.6 127.8,338.8"/><polyline points="134.4,417.4 128.2,429.2 119.8,429.3 108.7,430.8 100.4,441.0 96.1,440.9 101.6,467.9 97.6,478.5 100.4,493.4 101.4,506.8 95.2,517.1 84.4,534.9"/><polyline points="167.2,260.8 172.6,259.1 175.8,263.0 172.7,265.3 168.0,264.1 167.2,260.8"/><polyline points="209.5,119.3 210.2,121.6 209.6,126.6 207.2,131.1 206.2,129.8 207.0,123.9 209.5,119.3"/><polyline points="157.7,117.0 161.8,116.9 162.9,119.4 159.9,120.4 157.0,118.9 157.7,117.0"/><polyline points="156.7,129.4 160.7,129.7 161.3,132.0 157.1,132.1 156.7,129.4"/><polyline points="148.4,136.9 151.2,136.9 150.5,140.9 148.0,140.0 148.4,136.9"/><polyline points="310.6,159.8 313.9,158.9 314.5,162.9 311.8,164.8 310.6,159.8"/><polyline points="313.5,171.8 315.5,171.4 315.1,173.8 313.5,173.8 313.5,171.8"/><polyline points="96.2,115.7 101.8,119.4 102.1,121.8 96.5,118.0 96.2,115.7"/><polyline points="142.9,120.0 144.6,121.1 143.5,122.9 142.2,121.8 142.9,120.0"/><polyline points="260.3,354.8 266.6,355.4 267.0,360.6 260.7,360.0 260.3,354.8"/><polyline points="293.6,355.2 298.0,357.5 298.6,363.7 295.1,362.5 293.6,355.2"/><polyline points="328.7,336.5 333.0,337.6 333.0,341.7 329.5,340.6 328.7,336.5"/></g>
<path fill="#000" d="M95.6 405.6L99.1 402.6L100.0 403.6L104.5 397.3L97.6 400.7L98.4 401.8L94.9 404.7zM98.6 418.1L102.4 415.5L103.1 416.6L108.3 410.9L101.0 413.5L101.8 414.6L98.0 417.2zM101.7 430.6L105.6 428.3L106.2 429.5L111.7 424.0L104.3 426.2L105.0 427.4L101.1 429.7zM104.8 443.2L108.7 440.9L109.4 442.1L114.9 436.7L107.5 438.8L108.1 440.0L104.3 442.3zM107.9 455.8L111.8 453.6L112.5 454.7L118.1 449.3L110.6 451.4L111.3 452.6L107.4 454.9zM111.1 468.4L115.0 466.2L115.7 467.3L121.2 461.9L113.8 464.1L114.4 465.2L110.5 467.5zM114.3 481.1L118.1 478.7L118.8 479.9L124.2 474.3L116.8 476.6L117.5 477.8L113.7 480.2zM117.8 494.0L121.0 490.7L121.9 491.7L125.8 485.0L119.2 489.0L120.2 490.0L117.0 493.2zM121.7 506.8L123.3 502.6L124.6 503.1L125.5 495.4L121.0 501.7L122.3 502.2L120.6 506.4zM125.1 519.4L126.1 515.0L127.4 515.3L127.1 507.5L123.7 514.5L125.0 514.8L124.0 519.2zM128.3 532.0L129.1 527.6L130.5 527.8L129.9 520.1L126.7 527.1L128.0 527.4L127.2 531.8zM131.5 544.6L132.3 540.2L133.6 540.4L133.1 532.7L129.9 539.7L131.2 540.0L130.4 544.4zM95.0 352.3L102.2 347.2L102.9 348.3L107.9 342.4L100.7 345.2L101.5 346.3L94.4 351.4zM98.8 364.7L102.7 361.1L103.6 362.1L107.8 355.6L101.1 359.3L102.0 360.3L98.0 363.9zM102.1 377.3L105.4 374.0L106.3 375.0L110.3 368.4L103.7 372.3L104.6 373.2L101.3 376.5zM105.2 389.9L108.5 386.7L109.4 387.7L113.4 381.0L106.7 385.0L107.7 385.9L104.4 389.1zM108.3 402.5L111.6 399.4L112.6 400.4L116.8 393.9L110.0 397.6L110.9 398.6L107.6 401.7zM111.2 414.9L115.0 412.4L115.7 413.5L120.8 407.6L113.6 410.3L114.3 411.5L110.6 414.0zM114.3 427.5L118.2 425.2L118.8 426.3L124.4 420.9L116.9 423.1L117.6 424.2L113.7 426.5zM117.4 440.1L121.3 437.8L122.0 439.0L127.5 433.6L120.1 435.7L120.8 436.9L116.9 439.1zM120.6 452.7L124.5 450.4L125.1 451.6L130.7 446.2L123.2 448.3L123.9 449.5L120.0 451.7zM123.7 465.3L127.6 463.1L128.3 464.2L133.9 458.9L126.4 460.9L127.1 462.1L123.2 464.3zM126.8 477.8L130.8 475.8L131.4 477.0L137.2 471.9L129.7 473.6L130.3 474.8L126.3 476.9zM130.1 490.6L133.8 488.1L134.6 489.2L139.8 483.5L132.5 486.1L133.2 487.2L129.5 489.7zM134.1 503.6L136.1 499.5L137.3 500.1L138.8 492.5L133.9 498.5L135.1 499.1L133.2 503.1zM137.8 516.2L138.6 511.8L140.0 512.1L139.6 504.4L136.2 511.3L137.6 511.6L136.7 516.0zM140.9 528.9L141.7 524.4L143.1 524.7L142.5 516.9L139.3 524.0L140.6 524.2L139.9 528.7zM144.1 541.5L144.9 537.0L146.2 537.3L145.6 529.6L142.5 536.6L143.8 536.8L143.0 541.3zM94.0 298.7L106.8 292.7L107.4 293.9L113.4 289.0L105.8 290.5L106.3 291.7L93.6 297.7zM97.1 311.3L110.2 305.2L110.8 306.4L116.7 301.5L109.1 303.0L109.7 304.2L96.7 310.3zM100.3 323.9L113.3 317.8L113.9 319.0L119.9 314.1L112.3 315.6L112.8 316.8L99.8 322.9zM103.5 336.5L115.9 330.5L116.5 331.7L122.4 326.7L114.8 328.3L115.4 329.5L103.0 335.5zM107.5 349.1L115.2 343.8L116.0 344.9L121.1 339.1L113.8 341.8L114.6 342.9L106.9 348.2zM111.5 361.6L115.1 358.1L116.0 359.1L120.1 352.5L113.4 356.3L114.3 357.3L110.7 360.8zM114.7 374.1L117.9 370.9L118.9 371.9L122.8 365.3L116.2 369.2L117.1 370.2L113.9 373.4zM117.8 386.7L121.0 383.6L122.0 384.5L126.0 377.9L119.3 381.8L120.3 382.8L117.1 386.0zM121.0 399.4L124.2 396.2L125.1 397.2L129.2 390.5L122.5 394.4L123.4 395.4L120.2 398.6zM123.9 411.8L127.5 409.1L128.3 410.2L133.2 404.1L126.0 407.2L126.9 408.2L123.3 411.0zM126.9 424.3L130.8 422.0L131.5 423.2L137.0 417.8L129.5 419.9L130.2 421.1L126.3 423.4zM130.0 436.9L133.9 434.7L134.6 435.8L140.1 430.4L132.7 432.5L133.4 433.7L129.5 436.0zM133.2 449.5L137.1 447.3L137.7 448.5L143.3 443.1L135.8 445.2L136.5 446.3L132.6 448.6zM136.3 462.1L140.2 460.0L140.9 461.1L146.6 455.9L139.1 457.8L139.7 459.0L135.8 461.1zM139.2 474.5L143.5 473.0L143.9 474.3L150.4 470.1L142.7 470.7L143.1 472.0L138.9 473.4zM142.3 487.0L146.6 485.8L147.0 487.1L153.7 483.1L146.0 483.4L146.3 484.7L142.0 486.0zM146.0 500.2L149.5 497.3L150.3 498.4L154.9 492.2L147.9 495.4L148.8 496.5L145.3 499.3zM150.3 513.1L151.3 508.7L152.6 509.0L152.5 501.3L148.9 508.2L150.2 508.5L149.2 512.9zM153.6 525.7L154.3 521.3L155.7 521.5L155.1 513.8L151.9 520.8L153.3 521.1L152.5 525.5zM156.7 538.3L157.5 533.9L158.8 534.1L158.3 526.4L155.1 533.5L156.4 533.7L155.6 538.1zM159.8 550.9L160.6 546.5L162.0 546.7L161.4 539.0L158.2 546.1L159.6 546.3L158.8 550.7zM95.7 244.8L99.2 241.9L100.0 242.9L104.6 236.7L97.6 240.0L98.5 241.0L95.0 243.9zM98.9 257.4L102.4 254.5L103.2 255.5L107.8 249.3L100.8 252.6L101.7 253.6L98.2 256.5zM101.8 270.0L106.3 266.7L107.1 267.7L112.0 261.8L104.9 264.7L105.7 265.8L101.1 269.1zM103.9 282.8L114.4 277.5L115.0 278.7L120.8 273.6L113.3 275.3L113.9 276.5L103.4 281.9zM106.6 295.5L119.6 289.5L120.2 290.7L126.2 285.8L118.6 287.2L119.1 288.5L106.1 294.5zM109.7 308.1L122.9 302.0L123.4 303.2L129.4 298.4L121.8 299.8L122.4 301.0L109.3 307.2zM112.9 320.8L126.0 314.6L126.6 315.9L132.6 311.0L125.0 312.4L125.5 313.6L112.4 319.8zM116.1 333.4L128.9 327.3L129.5 328.5L135.4 323.6L127.9 325.1L128.4 326.3L115.6 332.4zM120.0 346.0L128.5 340.5L129.3 341.6L134.5 335.9L127.2 338.4L127.9 339.5L119.4 345.1zM124.1 358.4L127.6 355.0L128.6 355.9L132.7 349.4L125.9 353.2L126.9 354.2L123.3 357.6zM127.3 371.0L130.5 367.8L131.5 368.8L135.4 362.1L128.8 366.1L129.7 367.0L126.5 370.2zM130.5 383.6L133.6 380.4L134.6 381.4L138.6 374.7L131.9 378.7L132.9 379.6L129.7 382.8zM133.6 396.2L136.8 393.0L137.8 394.0L141.7 387.4L135.1 391.3L136.0 392.3L132.8 395.4zM136.6 408.8L140.1 405.8L140.9 406.9L145.4 400.5L138.5 404.0L139.4 405.0L135.9 407.9zM139.5 421.2L143.4 418.9L144.1 420.0L149.5 414.5L142.1 416.8L142.8 417.9L139.0 420.2zM142.6 433.8L146.5 431.5L147.2 432.7L152.8 427.3L145.3 429.4L146.0 430.6L142.1 432.8zM145.8 446.4L149.7 444.1L150.4 445.3L155.9 440.0L148.5 442.0L149.1 443.2L145.2 445.4zM148.8 458.8L152.9 457.1L153.5 458.3L159.6 453.6L152.0 454.8L152.5 456.1L148.3 457.8zM151.7 471.1L156.1 470.2L156.4 471.6L163.4 468.2L155.6 467.8L155.9 469.2L151.5 470.1zM154.8 483.7L159.3 482.9L159.5 484.2L166.5 481.0L158.8 480.5L159.1 481.8L154.6 482.6zM158.0 496.4L162.4 495.4L162.7 496.7L169.6 493.1L161.8 493.0L162.2 494.3L157.8 495.3zM162.3 509.9L164.8 506.1L165.9 506.9L168.5 499.6L162.7 504.8L163.8 505.5L161.3 509.3zM166.1 522.6L167.0 518.2L168.3 518.4L168.0 510.7L164.6 517.7L165.9 517.9L165.0 522.3zM169.3 535.2L170.1 530.7L171.5 531.0L171.0 523.3L167.7 530.3L169.0 530.5L168.2 535.0zM172.4 547.8L173.3 543.4L174.6 543.6L174.1 535.9L170.9 542.9L172.2 543.2L171.4 547.6zM98.1 202.0L102.2 203.8L101.7 205.0L109.3 206.2L103.2 201.5L102.6 202.8L98.5 201.0zM101.3 215.5L105.8 215.1L106.0 216.4L113.2 213.8L105.6 212.6L105.7 214.0L101.2 214.5zM105.2 229.0L108.7 226.2L109.5 227.2L114.2 221.1L107.1 224.3L108.0 225.3L104.5 228.1zM108.3 241.6L111.8 238.7L112.7 239.8L117.2 233.5L110.2 236.9L111.1 237.9L107.6 240.8zM111.5 254.2L115.0 251.3L115.8 252.4L120.4 246.1L113.4 249.5L114.2 250.5L110.8 253.4zM114.5 266.9L118.6 263.7L119.4 264.8L124.3 258.8L117.2 261.8L118.0 262.8L113.8 266.0zM116.6 279.6L126.5 274.7L127.1 275.9L132.9 270.8L125.4 272.5L126.0 273.7L116.1 278.6zM119.2 292.4L132.2 286.4L132.7 287.6L138.7 282.7L131.1 284.1L131.7 285.4L118.8 291.4zM122.3 305.0L135.5 298.9L136.0 300.1L142.0 295.2L134.4 296.7L135.0 297.9L121.9 304.0zM125.5 317.6L138.6 311.5L139.2 312.7L145.2 307.8L137.6 309.3L138.1 310.5L125.0 316.6zM128.7 330.2L141.5 324.2L142.1 325.4L148.1 320.5L140.5 322.0L141.0 323.2L128.2 329.2zM132.5 342.8L141.7 337.3L142.4 338.4L147.8 332.9L140.4 335.2L141.1 336.3L131.9 341.9zM136.6 355.3L140.5 351.7L141.4 352.7L145.6 346.2L138.8 349.9L139.7 350.9L135.9 354.5zM139.9 367.8L143.1 364.6L144.1 365.6L148.1 359.0L141.4 362.9L142.4 363.9L139.1 367.1zM143.1 380.5L146.3 377.3L147.2 378.2L151.2 371.6L144.5 375.5L145.5 376.5L142.3 379.7zM146.2 393.1L149.4 389.9L150.4 390.8L154.4 384.2L147.7 388.1L148.6 389.1L145.4 392.3zM149.3 405.6L152.7 402.6L153.6 403.6L157.8 397.2L151.0 400.8L151.9 401.8L148.5 404.8zM152.2 418.1L156.0 415.6L156.7 416.7L161.9 410.9L154.6 413.5L155.3 414.6L151.6 417.2zM155.3 430.6L159.2 428.3L159.9 429.5L165.3 424.0L157.9 426.2L158.6 427.4L154.7 429.7zM158.3 443.2L162.4 441.1L163.0 442.3L168.7 437.1L161.2 438.9L161.8 440.1L157.8 442.2zM161.2 455.5L165.6 454.3L166.0 455.6L172.7 451.8L165.0 451.9L165.3 453.2L160.9 454.4zM164.3 468.0L168.7 467.2L169.0 468.5L176.0 465.3L168.3 464.7L168.5 466.1L164.1 466.9zM167.4 480.6L171.9 479.8L172.1 481.1L179.2 477.9L171.5 477.4L171.7 478.7L167.3 479.5zM170.6 493.2L175.0 492.4L175.3 493.7L182.3 490.5L174.6 490.0L174.8 491.3L170.4 492.1zM173.9 506.1L178.1 504.4L178.6 505.7L184.9 501.2L177.2 502.2L177.7 503.4L173.5 505.1zM178.2 519.4L180.3 515.4L181.5 516.0L183.2 508.4L178.1 514.3L179.3 514.9L177.3 518.9zM181.8 532.0L182.9 527.7L184.2 528.0L184.3 520.3L180.6 527.0L181.9 527.4L180.7 531.8zM185.0 544.7L186.0 540.2L187.3 540.5L187.2 532.8L183.6 539.7L184.9 540.0L183.9 544.4zM110.7 198.6L114.6 200.9L114.0 202.0L121.4 204.1L115.8 198.7L115.2 199.9L111.3 197.7zM113.8 211.4L117.9 213.4L117.3 214.6L124.8 216.2L119.0 211.2L118.4 212.4L114.3 210.4zM117.5 225.6L121.5 223.6L122.1 224.8L127.9 219.7L120.4 221.4L121.0 222.6L117.0 224.6zM120.9 238.5L124.4 235.6L125.3 236.7L129.9 230.5L122.9 233.7L123.7 234.8L120.2 237.6zM124.0 251.1L127.6 248.2L128.5 249.3L133.2 243.2L126.1 246.3L126.9 247.4L123.4 250.2zM126.9 263.6L131.4 260.9L132.1 262.1L137.5 256.6L130.1 258.8L130.8 260.0L126.4 262.6zM129.2 276.1L138.0 272.9L138.4 274.2L144.8 269.8L137.1 270.6L137.6 271.9L128.9 275.1zM131.9 289.1L144.2 283.9L144.7 285.1L150.8 280.4L143.2 281.6L143.7 282.9L131.5 288.1zM135.0 301.8L147.9 295.9L148.4 297.1L154.5 292.3L146.9 293.7L147.4 294.9L134.5 300.8zM138.1 314.4L151.0 308.5L151.6 309.7L157.6 304.8L150.0 306.3L150.5 307.5L137.7 313.4zM141.4 327.0L153.5 321.3L154.1 322.5L160.1 317.6L152.5 319.1L153.1 320.3L140.9 326.0zM145.1 339.6L154.0 334.6L154.7 335.7L160.3 330.4L152.8 332.4L153.5 333.6L144.5 338.6zM149.1 352.1L153.7 348.3L154.6 349.3L159.2 343.1L152.2 346.4L153.0 347.5L148.4 351.3zM152.5 364.7L155.9 361.4L156.9 362.4L161.0 355.8L154.2 359.6L155.2 360.6L151.7 363.9zM155.7 377.3L158.9 374.1L159.9 375.1L163.9 368.5L157.2 372.4L158.2 373.3L154.9 376.5zM158.8 389.9L162.1 386.7L163.0 387.7L167.0 381.0L160.4 385.0L161.3 385.9L158.0 389.1zM162.0 402.6L165.2 399.3L166.2 400.2L170.0 393.5L163.4 397.6L164.4 398.5L161.2 401.8zM165.1 415.2L168.3 411.9L169.3 412.8L173.2 406.1L166.6 410.2L167.6 411.1L164.4 414.4zM168.2 427.7L171.6 424.6L172.5 425.7L176.8 419.2L170.0 422.8L170.9 423.8L167.4 426.9zM171.0 440.1L175.0 437.7L175.7 438.8L181.0 433.3L173.7 435.6L174.4 436.8L170.5 439.2zM173.9 452.4L178.3 451.1L178.6 452.4L185.3 448.4L177.6 448.7L177.9 450.0L173.6 451.3zM176.9 464.8L181.4 464.0L181.6 465.3L188.6 462.0L180.9 461.6L181.2 462.9L176.7 463.7zM180.1 477.4L184.5 476.6L184.7 477.9L191.8 474.7L184.1 474.2L184.3 475.5L179.9 476.3zM183.2 490.1L187.7 489.2L187.9 490.5L194.9 487.2L187.2 486.8L187.4 488.1L183.0 489.0zM186.5 502.9L190.8 501.5L191.2 502.8L197.8 498.7L190.1 499.2L190.5 500.4L186.1 501.8zM190.2 516.0L193.6 512.9L194.6 513.9L198.8 507.4L192.0 511.1L192.9 512.1L189.5 515.2zM194.0 528.9L196.0 524.7L197.2 525.2L198.7 517.6L193.8 523.6L195.0 524.2L193.0 528.4zM197.4 541.5L198.8 537.0L200.1 537.4L200.5 529.7L196.5 536.3L197.8 536.7L196.4 541.2zM123.3 195.5L127.2 197.7L126.5 198.9L134.0 201.0L128.4 195.6L127.8 196.8L123.9 194.5zM126.5 208.1L130.4 210.3L129.7 211.5L137.2 213.6L131.6 208.2L130.9 209.4L127.0 207.2zM129.6 221.2L133.9 222.4L133.6 223.7L141.3 223.9L134.6 220.0L134.2 221.3L129.9 220.1zM133.1 234.8L137.4 233.4L137.8 234.7L144.3 230.5L136.6 231.1L137.0 232.4L132.7 233.8zM136.1 247.2L140.6 246.4L140.8 247.7L147.9 244.5L140.1 244.0L140.4 245.3L135.9 246.2zM139.0 259.3L143.9 259.9L143.7 261.3L151.4 260.3L144.2 257.5L144.1 258.8L139.1 258.2zM141.9 271.8L148.3 272.9L148.1 274.2L155.8 273.6L148.7 270.4L148.5 271.8L142.0 270.7zM144.8 285.1L153.9 283.9L154.1 285.3L161.3 282.5L153.6 281.5L153.7 282.8L144.6 284.0zM147.9 298.3L158.1 294.5L158.6 295.8L165.0 291.4L157.3 292.2L157.7 293.5L147.5 297.3zM151.2 311.1L161.1 306.4L161.7 307.7L167.6 302.7L160.0 304.2L160.6 305.4L150.7 310.1zM154.5 323.7L163.5 319.2L164.1 320.4L169.9 315.2L162.4 317.0L163.0 318.2L154.0 322.8zM157.9 336.2L165.4 332.5L166.0 333.7L171.9 328.7L164.3 330.3L164.9 331.5L157.4 335.2zM161.2 348.6L167.0 346.2L167.5 347.4L173.7 342.8L166.0 343.9L166.5 345.2L160.8 347.6zM164.5 361.1L169.2 359.2L169.7 360.5L176.0 355.9L168.3 356.9L168.8 358.2L164.1 360.1zM167.9 373.9L172.0 371.6L172.7 372.8L178.3 367.5L170.8 369.4L171.5 370.6L167.3 372.9zM171.5 386.8L174.7 383.4L175.6 384.3L179.3 377.5L172.9 381.7L173.8 382.7L170.7 386.1zM175.3 399.6L177.1 395.4L178.3 395.9L179.6 388.3L174.9 394.4L176.1 395.0L174.2 399.2zM178.6 412.2L180.0 407.9L181.3 408.3L181.7 400.5L177.6 407.1L178.9 407.5L177.6 411.9zM181.7 424.9L183.2 420.5L184.4 420.9L184.9 413.2L180.8 419.7L182.1 420.1L180.7 424.5zM184.6 437.5L186.7 433.2L187.9 433.8L189.5 426.2L184.5 432.1L185.7 432.7L183.6 437.0zM187.1 449.9L190.7 446.5L191.6 447.5L195.8 441.0L189.0 444.7L189.9 445.7L186.3 449.1zM189.8 462.1L194.2 460.0L194.8 461.2L200.6 456.1L193.1 457.8L193.7 459.0L189.3 461.1zM192.8 474.6L197.3 472.8L197.8 474.1L204.1 469.6L196.4 470.6L196.9 471.8L192.4 473.6zM196.0 487.3L200.5 485.3L201.0 486.5L207.1 481.6L199.4 483.0L200.0 484.3L195.6 486.3zM199.4 500.2L203.5 497.2L204.3 498.3L209.3 492.4L202.1 495.3L202.9 496.3L198.8 499.3zM203.1 513.1L206.2 509.0L207.2 509.8L210.2 502.7L204.2 507.5L205.3 508.3L202.2 512.4zM206.7 525.8L208.7 521.1L209.9 521.6L211.1 514.0L206.4 520.2L207.7 520.7L205.7 525.4zM210.1 538.5L211.5 533.5L212.8 533.9L212.9 526.1L209.1 532.9L210.4 533.2L209.0 538.2zM135.9 192.3L139.8 194.6L139.2 195.8L146.6 197.8L141.1 192.5L140.4 193.6L136.5 191.4zM139.1 205.0L143.0 207.2L142.3 208.4L149.8 210.4L144.2 205.1L143.5 206.2L139.6 204.0zM142.2 217.7L146.3 219.7L145.7 220.9L153.2 222.6L147.4 217.5L146.8 218.7L142.7 216.7zM145.4 230.1L149.2 232.5L148.5 233.7L155.9 236.0L150.5 230.4L149.8 231.6L146.0 229.2zM148.6 242.6L152.2 245.3L151.4 246.4L158.5 249.4L153.7 243.4L152.8 244.4L149.3 241.7zM151.7 255.2L155.3 258.0L154.5 259.0L161.6 262.1L156.8 256.0L156.0 257.1L152.4 254.3zM154.9 267.8L158.6 270.7L157.8 271.7L164.9 274.8L160.1 268.7L159.3 269.8L155.5 266.9zM157.8 280.8L162.9 282.9L162.4 284.2L170.1 285.3L163.8 280.7L163.3 281.9L158.2 279.8zM161.1 294.9L167.6 292.6L168.1 293.8L174.5 289.5L166.8 290.3L167.2 291.5L160.7 293.9zM164.5 308.0L170.7 303.8L171.5 304.9L176.6 299.2L169.3 301.8L170.1 302.9L163.9 307.1zM167.7 320.6L173.9 316.3L174.6 317.5L179.7 311.6L172.5 314.3L173.2 315.4L167.1 319.7zM170.7 333.0L176.9 329.8L177.5 331.0L183.4 325.9L175.8 327.6L176.4 328.8L170.2 332.0zM174.9 342.2L175.0 347.7L173.7 347.8L175.8 355.2L177.5 347.7L176.1 347.7L176.0 342.2zM179.0 354.9L176.9 359.1L175.7 358.5L174.1 366.1L179.1 360.2L177.9 359.6L180.0 355.3zM182.2 367.5L180.0 371.5L178.8 370.9L176.8 378.3L182.1 372.7L180.9 372.1L183.2 368.0zM185.7 380.2L182.8 383.8L181.7 382.9L178.5 390.0L184.7 385.3L183.7 384.5L186.5 380.9zM188.4 396.4L188.9 391.9L190.3 392.1L189.2 384.4L186.5 391.7L187.8 391.8L187.4 396.3zM191.5 409.1L192.2 404.6L193.6 404.8L193.0 397.1L189.8 404.2L191.2 404.4L190.4 408.9zM194.6 421.7L195.4 417.2L196.7 417.5L196.2 409.7L193.0 416.8L194.3 417.0L193.5 421.5zM197.8 434.3L198.5 429.7L199.8 429.9L199.1 422.2L196.1 429.3L197.4 429.5L196.7 434.2zM201.4 446.9L200.9 441.5L202.2 441.3L199.6 434.1L198.4 441.7L199.8 441.6L200.3 447.0zM205.1 459.3L202.7 453.7L203.9 453.2L199.2 447.0L200.4 454.7L201.7 454.1L204.1 459.7zM208.4 471.8L205.5 466.3L206.7 465.7L201.4 459.9L203.3 467.5L204.5 466.8L207.5 472.4zM211.5 484.5L208.8 478.9L210.0 478.3L205.0 472.4L206.6 480.0L207.8 479.4L210.5 485.0zM214.4 497.2L212.5 491.5L213.7 491.1L209.5 484.6L210.1 492.3L211.4 491.9L213.4 497.6zM217.3 510.0L216.2 504.2L217.5 503.9L214.3 496.9L213.8 504.6L215.1 504.4L216.2 510.2zM220.3 522.7L219.8 516.9L221.1 516.7L218.6 509.4L217.3 517.1L218.7 517.0L219.2 522.8zM223.3 535.3L223.0 529.5L224.4 529.4L222.1 522.1L220.6 529.6L221.9 529.6L222.2 535.4zM148.5 189.2L152.6 191.4L151.9 192.6L159.4 194.5L153.7 189.3L153.1 190.5L149.1 188.3zM151.7 201.8L155.7 204.1L155.1 205.3L162.6 207.2L156.9 201.9L156.3 203.1L152.2 200.9zM154.9 214.3L158.7 216.9L158.0 218.0L165.3 220.5L160.1 214.8L159.3 215.9L155.5 213.4zM158.1 226.7L161.6 229.6L160.7 230.7L167.7 233.9L163.1 227.7L162.3 228.8L158.8 225.9zM161.2 239.3L164.7 242.2L163.8 243.3L170.8 246.6L166.3 240.4L165.4 241.4L161.9 238.5zM164.4 251.9L167.8 254.8L166.9 255.9L173.9 259.3L169.4 253.0L168.5 254.0L165.1 251.1zM167.7 264.3L170.3 267.4L169.3 268.3L175.5 272.8L172.2 265.9L171.1 266.7L168.6 263.6zM170.8 277.0L173.7 280.1L172.7 281.0L179.2 285.2L175.5 278.4L174.5 279.4L171.6 276.3zM173.9 292.0L179.9 288.9L180.5 290.1L186.4 285.1L178.8 286.8L179.4 288.0L173.4 291.0zM177.3 305.0L183.1 300.3L183.9 301.3L188.5 295.1L181.5 298.4L182.4 299.4L176.6 304.1zM180.4 317.6L186.2 312.9L187.1 314.0L191.7 307.8L184.7 311.0L185.5 312.1L179.7 316.7zM183.4 330.0L189.3 326.4L190.0 327.6L195.4 322.1L188.0 324.3L188.7 325.5L182.9 329.0zM188.3 339.0L186.4 343.7L185.2 343.2L184.1 350.8L188.7 344.6L187.4 344.1L189.4 339.5zM191.7 351.8L189.4 355.7L188.3 355.0L186.2 362.5L191.6 356.9L190.4 356.3L192.6 352.3zM194.8 364.4L192.6 368.3L191.4 367.6L189.3 375.1L194.7 369.5L193.5 368.8L195.8 364.9zM198.1 377.0L195.6 380.8L194.5 380.1L192.1 387.4L197.7 382.1L196.6 381.4L199.0 377.6zM201.1 393.3L201.5 388.8L202.8 388.9L201.5 381.3L199.0 388.6L200.4 388.7L200.0 393.2zM204.1 405.9L204.9 401.5L206.2 401.7L205.6 394.0L202.4 401.1L203.8 401.3L203.0 405.7zM207.2 418.5L208.0 414.1L209.3 414.3L208.8 406.6L205.6 413.7L206.9 413.9L206.1 418.3zM210.4 431.2L211.1 426.6L212.4 426.8L211.7 419.1L208.7 426.3L210.0 426.5L209.3 431.0zM214.4 443.6L212.7 438.2L214.0 437.8L210.0 431.2L210.4 438.9L211.7 438.5L213.3 444.0zM218.1 455.9L214.4 450.6L215.6 449.8L209.8 444.7L212.4 452.0L213.5 451.2L217.1 456.6zM221.2 468.5L217.5 463.2L218.6 462.4L212.8 457.4L215.5 464.6L216.6 463.8L220.3 469.2zM224.4 481.2L220.7 475.8L221.8 475.0L216.0 470.0L218.7 477.2L219.8 476.4L223.5 481.8zM227.5 493.8L223.9 488.4L225.0 487.7L219.3 482.5L221.9 489.8L223.0 489.0L226.6 494.4zM230.6 506.5L227.3 501.0L228.4 500.3L222.9 494.8L225.2 502.2L226.3 501.5L229.6 507.0zM233.6 519.2L230.6 513.5L231.8 512.8L226.6 507.1L228.4 514.6L229.6 514.0L232.7 519.7zM236.7 531.9L233.9 526.0L235.1 525.4L230.2 519.5L231.7 527.0L232.9 526.5L235.7 532.3zM161.0 186.2L165.8 188.3L165.2 189.5L172.9 190.8L166.7 186.0L166.2 187.3L161.5 185.2zM164.2 198.8L168.9 200.9L168.3 202.2L176.0 203.6L169.9 198.7L169.4 199.9L164.6 197.8zM167.4 211.2L171.6 213.8L170.9 214.9L178.3 217.3L172.9 211.7L172.2 212.8L168.0 210.3zM170.7 223.6L174.2 226.5L173.4 227.5L180.4 230.8L175.8 224.6L174.9 225.6L171.4 222.8zM173.8 236.2L177.3 239.1L176.4 240.1L183.4 243.5L178.9 237.2L178.0 238.2L174.6 235.4zM177.0 248.8L180.3 251.7L179.4 252.7L186.3 256.3L182.0 249.9L181.1 250.9L177.8 247.9zM180.5 261.0L182.4 264.1L181.3 264.8L186.8 270.2L184.5 262.8L183.3 263.5L181.5 260.5zM183.7 273.6L185.5 276.7L184.4 277.4L189.9 282.8L187.6 275.4L186.5 276.1L184.6 273.1zM186.4 288.6L192.5 286.4L192.9 287.6L199.3 283.2L191.6 284.1L192.1 285.3L186.0 287.6zM189.9 301.9L195.7 297.1L196.5 298.1L201.1 291.8L194.1 295.2L195.0 296.2L189.2 301.0zM193.1 314.5L198.8 309.7L199.7 310.8L204.3 304.6L197.3 307.9L198.1 308.9L192.4 313.6zM196.0 326.8L201.8 323.4L202.5 324.5L208.0 319.0L200.6 321.2L201.3 322.4L195.5 325.8zM201.1 335.9L198.9 340.2L197.7 339.6L196.1 347.2L201.1 341.3L199.9 340.7L202.1 336.4zM204.3 348.6L202.1 352.5L200.9 351.9L198.8 359.3L204.2 353.7L203.0 353.1L205.3 349.2zM207.5 361.2L205.2 365.1L204.0 364.5L201.9 371.9L207.3 366.4L206.2 365.7L208.4 361.8zM210.6 373.9L208.3 377.7L207.2 377.0L205.0 384.5L210.4 379.0L209.3 378.3L211.6 374.4zM213.8 390.1L213.9 385.6L215.3 385.6L213.5 378.1L211.5 385.6L212.8 385.6L212.7 390.1zM216.7 402.8L217.5 398.3L218.8 398.6L218.2 390.9L215.1 397.9L216.4 398.2L215.6 402.6zM219.8 415.4L220.6 411.0L222.0 411.2L221.4 403.5L218.2 410.5L219.5 410.8L218.8 415.2zM223.0 428.0L223.7 423.5L225.1 423.7L224.3 416.0L221.3 423.1L222.6 423.3L221.9 427.8zM227.1 440.4L225.1 435.0L226.4 434.5L222.0 428.1L222.8 435.8L224.1 435.3L226.1 440.8zM230.7 452.8L227.0 447.4L228.1 446.7L222.3 441.6L225.0 448.8L226.1 448.1L229.8 453.4zM233.8 465.4L230.1 460.1L231.2 459.3L225.4 454.2L228.1 461.5L229.2 460.7L232.9 466.0zM237.0 478.0L233.3 472.7L234.4 471.9L228.5 466.8L231.3 474.1L232.4 473.3L236.1 478.6zM240.2 490.6L236.3 485.3L237.4 484.5L231.5 479.5L234.3 486.7L235.4 485.9L239.3 491.2zM243.4 503.2L239.2 497.8L240.3 497.0L234.2 492.2L237.3 499.3L238.4 498.5L242.5 503.9zM246.6 515.8L242.1 510.4L243.1 509.5L236.9 505.0L240.2 511.9L241.3 511.1L245.7 516.5zM249.8 528.4L245.1 522.9L246.1 522.1L239.7 517.6L243.2 524.5L244.2 523.7L248.9 529.1zM173.6 183.2L178.8 185.1L178.3 186.3L186.0 187.1L179.6 182.8L179.1 184.0L174.0 182.1zM176.7 195.8L181.9 197.7L181.5 198.9L189.2 199.7L182.8 195.4L182.3 196.6L177.1 194.8zM179.9 208.4L185.2 210.3L184.7 211.6L192.4 212.4L186.0 208.0L185.5 209.3L180.2 207.4zM183.1 220.8L187.9 223.2L187.2 224.4L194.8 226.1L189.0 221.0L188.3 222.2L183.6 219.8zM186.4 233.2L190.2 235.9L189.4 237.0L196.6 239.9L191.7 234.0L190.9 235.1L187.0 232.3zM189.7 245.5L192.7 248.6L191.8 249.5L198.4 253.5L194.4 246.8L193.5 247.8L190.5 244.8zM193.2 257.9L195.0 260.9L193.9 261.6L199.4 267.0L197.1 259.7L195.9 260.4L194.1 257.3zM196.3 270.5L198.1 273.5L197.0 274.2L202.5 279.7L200.2 272.3L199.1 273.0L197.2 269.9zM198.8 284.3L203.8 285.6L203.5 286.9L211.2 286.9L204.4 283.2L204.1 284.5L199.1 283.2zM202.5 298.6L208.2 294.3L209.0 295.4L213.9 289.4L206.8 292.4L207.6 293.4L201.8 297.7zM205.6 311.2L211.3 307.0L212.1 308.1L217.0 302.1L209.8 305.0L210.6 306.1L205.0 310.3zM208.4 323.2L214.2 321.4L214.6 322.7L221.2 318.7L213.5 319.1L213.9 320.4L208.1 322.2zM213.6 332.8L211.6 337.1L210.4 336.5L209.0 344.1L213.9 338.1L212.6 337.5L214.6 333.3zM216.9 345.5L214.7 349.4L213.5 348.7L211.4 356.2L216.8 350.6L215.6 349.9L217.9 346.0zM220.1 358.1L217.8 362.0L216.7 361.3L214.6 368.8L219.9 363.2L218.8 362.5L221.0 358.6zM223.2 370.7L220.9 374.6L219.8 373.9L217.6 381.3L223.1 375.8L221.9 375.2L224.2 371.3zM227.4 386.3L224.9 382.6L226.0 381.8L220.2 376.7L222.8 384.0L224.0 383.2L226.5 387.0zM229.3 399.6L230.1 395.2L231.4 395.4L230.7 387.7L227.6 394.8L229.0 395.0L228.2 399.5zM232.5 412.2L233.2 407.8L234.6 408.0L233.9 400.3L230.8 407.4L232.1 407.6L231.4 412.1zM235.7 424.9L236.2 420.2L237.6 420.4L236.5 412.7L233.8 419.9L235.1 420.1L234.6 424.7zM239.7 437.3L237.7 431.8L238.9 431.3L234.5 425.0L235.4 432.7L236.6 432.2L238.7 437.7zM243.3 449.6L239.6 444.3L240.7 443.5L234.9 438.4L237.6 445.7L238.7 444.9L242.4 450.3zM246.5 462.2L242.7 456.9L243.8 456.1L237.9 451.1L240.7 458.3L241.8 457.5L245.6 462.9zM249.7 474.8L245.7 469.5L246.8 468.7L240.8 463.8L243.7 471.0L244.8 470.2L248.8 475.5zM253.0 487.3L248.3 482.1L249.3 481.2L242.9 476.8L246.5 483.7L247.5 482.8L252.1 488.1zM256.3 499.8L250.7 494.8L251.7 493.8L244.8 490.1L249.1 496.6L250.0 495.6L255.5 500.6zM259.5 512.3L253.5 507.4L254.4 506.4L247.4 503.1L252.0 509.3L252.8 508.3L258.8 513.2zM262.7 524.9L256.5 520.1L257.3 519.0L250.3 515.9L255.0 522.0L255.8 520.9L262.0 525.8zM186.2 180.0L191.4 181.9L190.9 183.2L198.6 183.9L192.2 179.6L191.8 180.9L186.6 179.0zM189.4 192.7L194.5 194.5L194.1 195.8L201.8 196.6L195.4 192.2L194.9 193.5L189.7 191.6zM192.4 205.4L198.1 207.0L197.7 208.3L205.4 208.6L198.8 204.7L198.4 206.0L192.7 204.3zM195.5 218.2L201.8 219.4L201.5 220.7L209.3 220.3L202.3 217.0L202.0 218.3L195.7 217.1zM198.7 230.7L204.7 232.2L204.4 233.5L212.1 233.4L205.3 229.8L205.0 231.1L198.9 229.6zM202.1 242.8L206.4 245.3L205.7 246.5L213.2 248.6L207.6 243.2L206.9 244.4L202.6 241.8zM205.5 255.0L208.3 257.8L207.3 258.8L213.9 262.8L210.0 256.1L209.1 257.1L206.3 254.3zM208.4 268.3L212.1 269.9L211.6 271.2L219.2 272.5L213.1 267.7L212.6 268.9L208.9 267.3zM212.1 282.5L216.0 280.2L216.7 281.4L222.3 276.0L214.8 278.1L215.5 279.3L211.5 281.5zM215.3 295.2L219.3 292.5L220.1 293.7L225.3 288.0L218.0 290.5L218.7 291.6L214.7 294.3zM218.0 307.3L222.7 306.2L223.0 307.5L229.9 304.0L222.1 303.8L222.4 305.1L217.8 306.2zM221.3 317.8L223.9 321.3L222.8 322.1L228.8 327.1L225.9 319.9L224.8 320.7L222.2 317.2zM225.9 329.7L224.8 333.9L223.5 333.5L223.3 341.3L227.1 334.5L225.8 334.2L227.0 330.0zM229.4 342.3L227.4 346.3L226.2 345.7L224.5 353.3L229.6 347.4L228.4 346.8L230.4 342.8zM232.6 354.9L230.5 358.9L229.3 358.3L227.6 365.9L232.7 360.0L231.5 359.4L233.6 355.4zM235.7 367.5L233.8 371.6L232.5 371.0L231.1 378.6L236.0 372.7L234.8 372.1L236.7 368.0zM238.9 380.2L236.8 384.1L235.6 383.5L233.6 391.0L238.9 385.3L237.7 384.7L239.9 380.7zM242.3 396.4L242.1 391.8L243.5 391.8L241.3 384.4L239.7 391.9L241.0 391.9L241.2 396.4zM245.2 409.1L245.7 404.5L247.0 404.6L245.8 397.0L243.2 404.2L244.6 404.4L244.1 409.0zM248.6 421.7L248.4 416.7L249.8 416.7L247.7 409.2L246.0 416.8L247.3 416.7L247.5 421.7zM252.5 434.1L249.8 428.6L251.0 428.0L246.0 422.1L247.6 429.6L248.8 429.0L251.5 434.5zM256.1 446.4L251.7 441.1L252.7 440.2L246.5 435.7L249.8 442.7L250.9 441.8L255.2 447.1zM259.4 458.8L254.1 453.8L255.0 452.8L248.3 449.0L252.4 455.5L253.3 454.6L258.6 459.6zM262.8 471.2L256.2 466.6L257.0 465.5L249.8 462.8L254.8 468.6L255.6 467.5L262.2 472.1zM266.0 483.7L259.0 479.4L259.7 478.2L252.3 476.0L257.7 481.5L258.4 480.3L265.4 484.6zM269.2 496.3L262.1 492.0L262.7 490.9L255.3 488.6L260.8 494.1L261.5 493.0L268.6 497.2zM272.3 508.9L265.2 504.6L265.9 503.5L258.5 501.3L263.9 506.7L264.6 505.6L271.8 509.8zM275.5 521.5L268.2 517.3L268.9 516.1L261.5 513.9L267.0 519.4L267.7 518.2L274.9 522.4zM198.8 176.9L204.0 178.8L203.5 180.0L211.2 180.8L204.8 176.5L204.4 177.7L199.2 175.9zM202.0 189.5L207.1 191.4L206.7 192.7L214.4 193.4L208.0 189.1L207.5 190.3L202.3 188.5zM205.0 202.3L210.9 203.8L210.6 205.1L218.3 205.1L211.5 201.4L211.2 202.7L205.3 201.2zM208.1 215.1L214.5 216.2L214.3 217.5L222.0 217.0L214.9 213.8L214.7 215.1L208.3 214.0zM211.3 227.7L217.6 228.8L217.4 230.2L225.1 229.7L218.1 226.4L217.8 227.8L211.5 226.6zM214.5 240.0L219.9 241.8L219.5 243.0L227.2 243.5L220.7 239.4L220.2 240.7L214.9 239.0zM217.8 253.0L222.3 253.7L222.1 255.1L229.8 254.5L222.8 251.3L222.5 252.7L218.0 251.9zM221.7 266.8L225.4 264.3L226.1 265.5L231.3 259.7L224.0 262.3L224.8 263.4L221.1 265.9zM225.0 279.5L228.4 276.7L229.3 277.7L233.9 271.4L226.9 274.8L227.7 275.8L224.3 278.7zM228.0 292.1L231.6 289.4L232.4 290.5L237.2 284.5L230.1 287.5L230.9 288.6L227.4 291.2zM231.3 301.8L232.2 304.9L230.9 305.2L234.7 311.9L234.5 304.2L233.2 304.6L232.4 301.5zM234.9 314.2L234.9 317.4L233.5 317.4L235.5 324.6L237.3 317.3L236.0 317.3L236.0 314.2zM238.2 326.7L237.8 330.2L236.5 330.0L237.5 337.7L240.3 330.5L238.9 330.3L239.3 326.8zM241.8 339.2L240.4 343.3L239.1 342.8L238.4 350.5L242.7 344.1L241.4 343.6L242.8 339.5zM245.0 351.8L243.4 356.0L242.2 355.5L241.3 363.2L245.7 356.8L244.5 356.4L246.0 352.1zM248.1 364.4L246.6 368.6L245.3 368.1L244.5 375.8L248.9 369.4L247.6 369.0L249.2 364.7zM251.3 377.0L249.7 381.2L248.4 380.7L247.6 388.4L252.0 382.1L250.7 381.6L252.3 377.4zM254.6 389.6L252.6 393.8L251.4 393.2L250.0 400.8L254.9 394.8L253.6 394.2L255.6 390.1zM259.4 404.4L255.0 402.3L255.6 401.1L248.0 399.5L253.9 404.5L254.5 403.3L258.9 405.4zM262.0 418.2L259.4 413.2L260.6 412.6L255.4 406.9L257.2 414.4L258.4 413.8L261.0 418.7zM265.6 430.5L260.9 425.5L261.9 424.6L255.3 420.5L259.1 427.2L260.1 426.3L264.8 431.3zM269.1 442.8L262.6 438.3L263.4 437.2L256.2 434.4L261.2 440.3L262.0 439.2L268.5 443.7zM272.4 455.2L265.1 451.1L265.7 449.9L258.3 447.9L263.9 453.3L264.5 452.1L271.8 456.2zM275.6 467.8L268.1 463.8L268.7 462.6L261.2 460.8L266.9 466.0L267.5 464.8L275.0 468.8zM278.7 480.4L271.2 476.4L271.8 475.2L264.3 473.4L270.0 478.6L270.7 477.4L278.2 481.4zM281.8 493.0L274.3 489.0L275.0 487.8L267.5 486.0L273.2 491.2L273.8 490.0L281.3 494.0zM285.0 505.6L277.4 501.7L278.0 500.5L270.4 498.7L276.2 503.9L276.8 502.7L284.5 506.6zM288.2 518.2L280.3 514.4L280.8 513.2L273.2 511.6L279.2 516.6L279.8 515.4L287.7 519.2zM211.4 173.8L216.7 175.6L216.2 176.9L223.9 177.6L217.5 173.3L217.0 174.6L211.8 172.7zM214.6 186.4L219.9 188.2L219.4 189.5L227.1 190.1L220.7 185.9L220.2 187.2L214.9 185.3zM217.6 199.2L223.6 200.6L223.3 201.9L231.0 201.9L224.2 198.2L223.9 199.6L217.9 198.1zM220.7 211.9L227.1 213.1L226.8 214.4L234.5 213.9L227.5 210.7L227.3 212.0L220.9 210.8zM223.9 224.4L230.0 225.8L229.7 227.1L237.4 227.0L230.6 223.4L230.3 224.7L224.1 223.4zM227.3 236.5L231.6 239.0L230.9 240.2L238.3 242.4L232.8 236.9L232.1 238.1L227.8 235.5zM230.5 249.0L234.3 251.5L233.6 252.7L240.9 255.2L235.7 249.5L234.9 250.6L231.1 248.1zM233.9 263.2L238.2 262.1L238.5 263.4L245.3 259.6L237.6 259.7L237.9 261.0L233.6 262.1zM237.5 276.3L241.0 273.6L241.9 274.7L246.6 268.6L239.5 271.7L240.4 272.7L236.9 275.5zM240.0 287.7L243.6 288.3L243.4 289.6L251.1 289.0L244.0 285.9L243.8 287.2L240.2 286.6zM244.5 298.5L244.2 301.5L242.9 301.4L244.2 308.5L246.7 301.7L245.3 301.6L245.6 298.6zM247.6 311.1L247.4 314.1L246.0 314.0L247.4 321.2L249.8 314.3L248.5 314.2L248.7 311.2zM250.8 323.6L250.5 326.8L249.2 326.6L250.3 334.2L252.9 327.0L251.6 326.9L251.9 323.7zM254.4 336.0L253.0 340.1L251.7 339.7L251.2 347.4L255.3 340.9L254.1 340.5L255.4 336.4zM257.6 348.6L256.0 352.8L254.8 352.4L254.0 360.1L258.4 353.7L257.1 353.2L258.6 349.0zM260.7 361.2L259.2 365.5L257.9 365.0L257.1 372.7L261.5 366.3L260.2 365.8L261.8 361.6zM263.9 373.8L262.3 378.1L261.1 377.6L260.3 385.3L264.6 378.9L263.4 378.4L264.9 374.2zM267.1 386.4L265.4 390.7L264.1 390.2L263.2 397.9L267.7 391.6L266.4 391.1L268.1 386.8zM270.7 399.1L267.8 403.2L266.7 402.4L264.0 409.7L269.8 404.6L268.7 403.8L271.6 399.7zM275.3 413.5L269.4 412.0L269.7 410.7L262.0 410.7L268.8 414.4L269.1 413.1L275.1 414.6zM278.6 426.9L272.1 423.0L272.8 421.8L265.4 419.6L270.8 425.1L271.5 423.9L278.0 427.8zM281.8 439.5L274.6 435.4L275.2 434.2L267.8 432.3L273.4 437.6L274.0 436.4L281.3 440.4zM285.0 452.0L277.5 448.0L278.2 446.9L270.7 445.0L276.4 450.2L277.0 449.0L284.5 453.0zM288.2 464.7L280.7 460.7L281.3 459.5L273.8 457.6L279.5 462.8L280.1 461.6L287.7 465.6zM291.3 477.3L283.8 473.3L284.4 472.1L276.9 470.2L282.7 475.4L283.3 474.3L290.8 478.2zM294.5 489.9L286.8 485.9L287.4 484.7L279.9 483.0L285.7 488.1L286.3 486.9L294.0 490.8zM297.7 502.3L289.5 498.7L290.0 497.5L282.4 496.2L288.5 501.0L289.1 499.7L297.3 503.4zM300.9 514.8L292.2 511.6L292.7 510.3L285.0 509.4L291.3 513.9L291.8 512.6L300.5 515.9zM224.0 170.7L229.7 172.4L229.3 173.7L237.0 174.1L230.4 170.1L230.0 171.4L224.3 169.6zM227.1 183.3L232.9 185.0L232.5 186.3L240.3 186.6L233.6 182.7L233.2 184.0L227.4 182.3zM230.2 196.0L236.3 197.5L236.0 198.8L243.7 198.8L236.9 195.1L236.6 196.5L230.5 194.9zM233.4 208.7L239.5 210.1L239.2 211.4L247.0 211.3L240.1 207.7L239.8 209.0L233.6 207.6zM236.6 220.9L241.8 223.2L241.2 224.4L248.9 225.7L242.8 220.9L242.2 222.2L237.1 219.9zM240.0 233.1L243.6 236.0L242.8 237.0L249.8 240.2L245.1 234.1L244.3 235.1L240.7 232.3zM243.2 245.7L246.7 248.6L245.8 249.6L252.8 253.0L248.2 246.7L247.4 247.7L243.9 244.9zM246.3 258.4L249.9 261.1L249.2 262.2L256.3 265.0L251.4 259.1L250.6 260.2L246.9 257.6zM249.5 272.3L253.6 272.1L253.6 273.5L261.1 271.2L253.5 269.7L253.5 271.0L249.5 271.2zM253.6 282.8L254.0 285.9L252.7 286.1L255.5 293.0L256.5 285.6L255.1 285.8L254.7 282.7zM257.1 295.3L256.9 298.3L255.5 298.2L256.9 305.4L259.3 298.5L258.0 298.4L258.2 295.4zM260.2 308.0L260.0 311.0L258.7 310.9L260.0 318.0L262.4 311.1L261.1 311.0L261.3 308.0zM263.4 320.5L263.1 323.6L261.8 323.5L263.1 331.0L265.6 323.8L264.2 323.7L264.5 320.6zM266.9 332.9L265.7 336.9L264.4 336.5L264.1 344.3L268.1 337.6L266.8 337.3L268.0 333.2zM270.2 345.5L268.7 349.7L267.4 349.2L266.6 356.9L271.0 350.5L269.7 350.1L271.2 345.8zM273.3 358.1L271.8 362.3L270.5 361.8L269.8 369.5L274.1 363.1L272.8 362.7L274.4 358.5zM276.5 370.7L274.9 374.9L273.7 374.5L272.9 382.2L277.3 375.8L276.0 375.3L277.5 371.1zM279.7 383.3L278.0 387.6L276.8 387.2L275.9 394.8L280.3 388.5L279.0 388.0L280.7 383.7zM283.2 395.9L280.4 400.4L279.3 399.6L276.9 407.0L282.5 401.7L281.3 400.9L284.2 396.5zM287.9 409.7L281.3 410.2L281.2 408.8L273.8 411.3L281.4 412.6L281.3 411.3L288.0 410.8zM291.3 423.4L284.0 420.4L284.5 419.1L276.9 418.0L283.1 422.6L283.6 421.4L290.9 424.4zM294.5 436.2L286.9 432.5L287.5 431.3L279.9 429.7L285.8 434.7L286.4 433.5L294.0 437.2zM297.7 448.9L290.0 445.0L290.6 443.8L283.1 442.1L288.9 447.2L289.5 446.0L297.2 449.8zM300.8 461.5L293.2 457.6L293.8 456.4L286.3 454.6L292.1 459.7L292.7 458.5L300.3 462.5zM304.0 474.1L296.2 470.2L296.8 469.0L289.2 467.4L295.1 472.4L295.7 471.2L303.5 475.0zM307.3 486.4L298.4 483.2L298.9 482.0L291.2 481.2L297.6 485.6L298.1 484.3L306.9 487.5zM310.5 498.9L301.0 496.3L301.3 494.9L293.6 494.8L300.3 498.6L300.7 497.3L310.2 499.9zM313.7 511.4L304.0 509.0L304.3 507.6L296.6 507.6L303.4 511.3L303.7 510.0L313.4 512.5zM236.5 167.6L242.8 169.3L242.4 170.6L250.1 170.7L243.4 166.9L243.0 168.2L236.8 166.5zM239.7 180.2L245.9 181.9L245.6 183.2L253.3 183.3L246.6 179.5L246.2 180.8L239.9 179.2zM242.8 192.9L249.2 194.4L248.9 195.7L256.7 195.6L249.8 192.0L249.5 193.3L243.0 191.8zM245.9 205.7L252.9 206.7L252.6 208.1L260.3 207.4L253.2 204.3L253.0 205.7L246.0 204.6zM249.1 218.1L255.6 219.6L255.3 220.9L263.1 220.8L256.2 217.2L255.9 218.6L249.3 217.0zM252.6 230.0L256.5 232.9L255.7 234.0L262.9 236.8L257.9 230.9L257.1 232.0L253.2 229.1zM255.8 242.6L259.3 245.4L258.4 246.5L265.4 249.8L260.9 243.6L260.0 244.6L256.5 241.7zM258.9 255.3L262.5 257.9L261.7 259.0L268.9 261.9L264.0 255.9L263.2 257.0L259.6 254.4zM262.6 269.8L265.9 268.0L266.6 269.2L272.3 263.9L264.8 265.8L265.4 267.0L262.1 268.8zM266.2 282.7L268.6 280.3L269.6 281.2L273.5 274.6L266.9 278.6L267.8 279.5L265.4 281.9zM268.9 292.6L270.4 295.4L269.2 296.0L274.2 301.6L272.5 294.3L271.3 294.9L269.9 292.1zM272.6 304.8L272.8 307.9L271.5 308.0L273.9 315.1L275.3 307.8L273.9 307.9L273.7 304.8zM275.9 317.4L275.8 320.6L274.5 320.5L276.3 328.1L278.3 320.6L276.9 320.6L277.0 317.4zM279.4 329.8L278.5 333.7L277.2 333.4L277.4 341.2L280.9 334.3L279.6 334.0L280.5 330.0zM282.7 342.3L281.4 346.6L280.1 346.2L279.7 353.9L283.7 347.3L282.5 346.9L283.8 342.7zM285.9 354.9L284.5 359.2L283.2 358.8L282.8 366.5L286.8 360.0L285.6 359.6L286.9 355.3zM289.0 367.5L287.7 371.9L286.4 371.5L286.0 379.2L290.0 372.6L288.7 372.2L290.1 367.9zM292.2 380.1L290.7 384.7L289.4 384.3L288.8 392.0L293.0 385.5L291.7 385.1L293.3 380.5zM296.0 392.7L292.7 397.4L291.6 396.7L289.0 404.0L294.8 398.8L293.7 398.1L296.9 393.3zM300.6 406.6L293.4 406.9L293.4 405.5L286.0 407.7L293.5 409.3L293.5 408.0L300.7 407.7zM304.0 420.1L296.2 417.5L296.7 416.2L288.9 415.6L295.4 419.8L295.9 418.5L303.6 421.2zM307.2 432.8L299.1 429.8L299.6 428.5L291.9 427.6L298.2 432.1L298.7 430.8L306.8 433.9zM310.4 445.5L302.0 442.3L302.5 441.1L294.8 440.2L301.2 444.6L301.6 443.4L310.0 446.5zM313.6 458.0L304.6 455.1L305.0 453.8L297.3 453.3L303.9 457.4L304.3 456.1L313.3 459.0zM316.9 470.4L306.9 468.2L307.1 466.9L299.4 467.2L306.3 470.6L306.6 469.3L316.7 471.4zM320.1 482.9L309.8 481.0L310.0 479.7L302.3 480.2L309.3 483.4L309.6 482.1L319.9 484.0zM323.2 495.5L312.9 493.6L313.2 492.3L305.5 492.8L312.5 496.0L312.7 494.7L323.0 496.6zM326.3 508.2L316.1 506.2L316.4 504.8L308.7 505.3L315.7 508.6L315.9 507.2L326.1 509.2zM249.1 164.4L255.4 166.1L255.1 167.4L262.8 167.5L256.0 163.8L255.7 165.1L249.4 163.4zM252.3 177.1L258.6 178.7L258.2 180.0L265.9 180.2L259.2 176.4L258.8 177.7L252.6 176.0zM255.4 189.7L261.8 191.3L261.5 192.6L269.3 192.5L262.4 188.9L262.1 190.2L255.7 188.7zM258.5 202.6L265.8 203.4L265.7 204.7L273.4 203.6L266.1 200.9L266.0 202.3L258.6 201.5zM261.6 215.3L269.0 215.9L268.9 217.3L276.6 216.1L269.3 213.5L269.1 214.8L261.7 214.2zM264.8 227.6L271.4 229.1L271.1 230.4L278.9 230.2L272.0 226.7L271.7 228.0L265.1 226.5zM268.3 239.6L272.5 242.2L271.8 243.4L279.1 245.7L273.8 240.1L273.1 241.3L268.9 238.7zM271.5 253.3L275.7 253.4L275.7 254.7L283.3 252.9L275.8 250.9L275.8 252.3L271.6 252.2zM276.0 267.1L277.9 264.1L279.1 264.8L281.5 257.4L275.9 262.8L277.0 263.5L275.1 266.5zM279.2 279.7L281.0 276.7L282.2 277.3L284.3 269.9L278.9 275.4L280.1 276.1L278.3 279.1zM282.3 292.3L284.2 289.4L285.3 290.1L287.7 282.7L282.1 288.0L283.3 288.8L281.4 291.7zM284.6 304.3L287.6 303.2L288.1 304.4L294.5 300.0L286.8 300.9L287.2 302.1L284.2 303.3zM288.3 314.3L288.7 317.6L287.4 317.8L290.1 325.0L291.1 317.3L289.8 317.5L289.4 314.1zM291.9 326.6L291.3 330.7L290.0 330.5L290.8 338.2L293.7 331.0L292.4 330.8L293.0 326.8zM295.1 339.2L294.3 343.6L293.0 343.3L293.5 351.0L296.7 344.0L295.4 343.8L296.2 339.4zM298.3 351.8L297.4 356.2L296.1 356.0L296.6 363.7L299.8 356.7L298.5 356.4L299.3 352.0zM301.4 364.4L300.6 368.9L299.2 368.6L299.7 376.4L303.0 369.3L301.6 369.1L302.5 364.6zM304.7 377.0L303.5 381.7L302.2 381.4L302.3 389.1L305.9 382.3L304.6 382.0L305.7 377.2zM308.6 389.5L305.2 394.6L304.1 393.8L301.6 401.2L307.3 395.9L306.2 395.2L309.5 390.1zM313.4 404.0L305.8 402.7L306.0 401.3L298.3 402.0L305.4 405.1L305.6 403.8L313.2 405.0zM316.6 417.1L308.7 414.1L309.2 412.9L301.5 412.0L307.9 416.4L308.4 415.2L316.2 418.1zM319.8 429.6L311.6 427.0L312.0 425.7L304.3 425.2L310.9 429.3L311.3 428.0L319.5 430.6zM323.0 442.1L314.6 439.7L314.9 438.4L307.2 438.2L313.9 442.1L314.3 440.8L322.7 443.2zM326.3 454.6L316.9 452.5L317.2 451.1L309.5 451.3L316.4 454.8L316.7 453.5L326.0 455.7zM329.5 467.1L319.2 465.3L319.5 464.0L311.8 464.5L318.8 467.7L319.0 466.4L329.3 468.2zM332.7 479.7L322.3 477.9L322.6 476.6L314.9 477.1L321.9 480.3L322.1 479.0L332.5 480.8zM335.8 492.3L325.5 490.5L325.7 489.2L318.0 489.8L325.1 492.9L325.3 491.6L335.6 493.4zM339.0 505.0L328.6 503.1L328.8 501.8L321.1 502.4L328.2 505.5L328.4 504.2L338.8 506.0zM261.7 161.3L268.0 163.0L267.7 164.3L275.4 164.4L268.7 160.6L268.3 161.9L262.0 160.2zM264.9 173.9L271.2 175.6L270.8 176.9L278.6 177.0L271.8 173.2L271.5 174.5L265.2 172.9zM268.0 186.6L274.5 188.1L274.2 189.4L281.9 189.3L275.1 185.8L274.7 187.1L268.3 185.5zM271.1 199.5L278.5 200.2L278.3 201.5L286.0 200.4L278.7 197.8L278.6 199.1L271.2 198.4zM274.2 212.1L281.7 212.8L281.5 214.1L289.2 212.9L281.9 210.3L281.8 211.7L274.3 211.0zM277.4 224.6L284.5 225.6L284.3 227.0L292.0 226.1L284.9 223.2L284.7 224.5L277.5 223.5zM280.8 236.5L285.6 239.2L284.9 240.3L292.4 242.3L286.8 237.0L286.1 238.2L281.3 235.6zM284.1 249.7L288.2 250.7L287.9 252.1L295.6 252.0L288.8 248.4L288.5 249.7L284.3 248.7zM288.6 263.9L290.6 261.0L291.7 261.7L294.4 254.5L288.6 259.6L289.7 260.3L287.7 263.3zM291.9 276.5L293.6 273.5L294.8 274.2L297.0 266.8L291.5 272.3L292.7 273.0L290.9 276.0zM294.9 289.1L296.8 286.4L297.9 287.2L300.8 280.0L294.8 284.9L295.9 285.7L294.0 288.5zM297.8 298.6L298.1 301.7L296.8 301.8L299.4 308.9L300.6 301.4L299.2 301.6L298.9 298.5zM301.2 311.1L301.0 314.2L299.6 314.1L301.0 321.6L303.4 314.4L302.1 314.3L302.3 311.1zM304.5 323.5L303.9 327.5L302.6 327.3L303.4 335.0L306.4 327.9L305.0 327.7L305.6 323.7zM307.7 336.0L306.9 340.5L305.6 340.2L306.2 347.9L309.4 340.9L308.0 340.6L308.8 336.2zM310.9 348.7L310.1 353.1L308.7 352.9L309.3 360.6L312.5 353.5L311.2 353.3L311.9 348.8zM314.0 361.3L313.2 365.7L311.9 365.5L312.5 373.2L315.6 366.1L314.3 365.9L315.1 361.5zM317.2 373.8L316.3 378.6L314.9 378.3L315.4 386.0L318.7 379.0L317.3 378.8L318.3 374.0zM321.3 386.3L317.6 391.7L316.5 391.0L313.8 398.2L319.6 393.1L318.5 392.3L322.2 386.9zM326.0 401.7L318.8 397.6L319.5 396.4L312.0 394.3L317.6 399.7L318.3 398.5L325.4 402.6zM329.2 414.1L321.6 410.5L322.2 409.3L314.6 407.8L320.6 412.7L321.1 411.5L328.7 415.1zM332.4 426.4L324.3 423.9L324.7 422.6L317.0 422.2L323.6 426.2L324.0 424.9L332.1 427.4zM335.6 438.9L327.3 436.7L327.7 435.4L320.0 435.3L326.7 439.1L327.1 437.7L335.3 440.0zM338.7 451.5L330.3 449.3L330.7 448.0L322.9 447.9L329.7 451.7L330.1 450.4L338.5 452.6zM342.1 464.0L332.1 462.1L332.3 460.8L324.6 461.3L331.6 464.5L331.9 463.2L341.9 465.1zM345.3 476.6L334.9 474.8L335.2 473.4L327.5 474.0L334.5 477.2L334.8 475.9L345.1 477.7zM348.4 489.2L338.0 487.4L338.2 486.1L330.5 486.7L337.6 489.8L337.8 488.5L348.3 490.3zM351.6 501.7L341.0 500.2L341.2 498.8L333.5 499.6L340.6 502.6L340.8 501.3L351.5 502.8zM274.4 158.2L280.6 159.8L280.3 161.1L288.0 161.2L281.3 157.5L280.9 158.8L274.6 157.1zM277.5 170.8L283.8 172.4L283.5 173.7L291.2 173.8L284.4 170.1L284.1 171.4L277.8 169.7zM280.6 183.5L287.2 185.0L286.9 186.3L294.6 186.1L287.7 182.6L287.4 183.9L280.9 182.4zM283.7 196.3L290.9 197.2L290.7 198.6L298.4 197.7L291.2 194.8L291.0 196.2L283.8 195.2zM286.8 208.9L294.1 209.9L293.9 211.2L301.6 210.4L294.4 207.4L294.2 208.8L287.0 207.8zM290.1 221.0L296.4 223.3L295.9 224.6L303.6 225.3L297.2 221.0L296.7 222.2L290.4 220.0zM293.8 232.7L296.8 236.6L295.8 237.4L301.9 242.2L298.8 235.1L297.7 235.9L294.7 232.0zM297.1 245.2L299.5 249.1L298.3 249.8L303.9 255.2L301.6 247.8L300.4 248.5L298.1 244.6zM300.1 258.2L303.0 261.3L302.0 262.2L308.5 266.4L304.8 259.6L303.8 260.5L300.9 257.4zM303.3 272.6L306.7 271.9L307.0 273.2L313.9 269.8L306.2 269.5L306.5 270.8L303.1 271.5zM307.6 282.7L307.2 285.7L305.9 285.6L306.9 292.8L309.7 286.1L308.3 285.9L308.7 282.9zM310.8 295.3L310.3 298.3L309.0 298.1L309.7 305.3L312.7 298.7L311.4 298.5L311.9 295.5zM314.0 307.9L313.5 311.0L312.2 310.8L313.0 318.1L315.9 311.3L314.6 311.1L315.0 308.1zM317.1 320.4L316.6 324.1L315.3 324.0L316.2 331.7L319.0 324.4L317.7 324.3L318.2 320.5zM320.3 332.9L319.6 337.3L318.2 337.1L318.8 344.8L322.0 337.7L320.6 337.5L321.4 333.1zM323.5 345.5L322.7 349.9L321.4 349.7L321.9 357.4L325.1 350.4L323.8 350.1L324.6 345.7zM326.6 358.1L325.8 362.6L324.5 362.3L325.1 370.1L328.2 363.0L326.9 362.8L327.7 358.3zM329.8 370.7L328.9 375.6L327.5 375.4L328.0 383.1L331.3 376.1L330.0 375.8L330.9 370.9zM335.5 385.0L327.5 384.0L327.7 382.6L320.0 383.6L327.2 386.4L327.4 385.1L335.4 386.1zM338.0 399.7L333.3 391.8L334.5 391.1L329.0 385.6L331.2 393.0L332.3 392.3L337.1 400.3zM341.6 411.5L335.2 406.5L336.0 405.4L328.9 402.3L333.7 408.4L334.5 407.3L340.9 412.3zM345.0 423.4L337.4 420.4L337.8 419.2L330.2 418.2L336.5 422.7L337.0 421.5L344.6 424.4zM348.2 435.8L340.0 433.5L340.3 432.2L332.6 432.1L339.3 435.9L339.7 434.6L347.9 436.8zM351.3 448.4L343.1 446.2L343.4 444.9L335.7 444.8L342.4 448.5L342.8 447.2L351.0 449.4zM354.7 460.8L344.8 459.2L345.0 457.8L337.3 458.5L344.4 461.6L344.6 460.3L354.5 461.9zM358.1 473.0L346.2 472.7L346.3 471.4L338.7 473.1L346.1 475.2L346.2 473.8L358.0 474.1zM361.2 485.6L349.1 485.5L349.2 484.1L341.6 486.0L349.1 487.9L349.1 486.6L361.2 486.7zM364.4 498.2L352.3 498.1L352.3 496.7L344.8 498.5L352.3 500.5L352.3 499.2L364.4 499.3zM287.0 155.0L293.3 156.7L292.9 158.0L300.7 158.1L293.9 154.3L293.6 155.6L287.2 154.0zM290.1 167.6L296.4 169.3L296.1 170.6L303.8 170.7L297.1 166.9L296.7 168.2L290.4 166.6zM293.2 180.3L299.6 181.9L299.3 183.2L307.0 183.3L300.3 179.5L299.9 180.9L293.5 179.2zM296.3 192.9L303.0 194.6L302.7 195.9L310.4 195.9L303.6 192.2L303.3 193.5L296.6 191.8zM299.4 205.4L306.4 207.4L306.1 208.7L313.8 208.9L307.1 205.0L306.7 206.3L299.7 204.4zM302.6 217.9L309.4 220.2L309.0 221.5L316.7 222.0L310.2 217.9L309.8 219.2L302.9 216.9zM306.3 229.6L309.8 233.6L308.7 234.5L315.1 238.9L311.6 232.0L310.6 232.9L307.2 228.9zM309.8 242.0L312.0 245.9L310.9 246.6L316.3 252.1L314.2 244.7L313.0 245.4L310.7 241.5zM312.9 254.7L315.2 258.5L314.0 259.2L319.5 264.7L317.3 257.3L316.1 258.0L313.9 254.1zM316.6 267.0L317.2 270.3L315.8 270.5L318.9 277.6L319.6 269.9L318.3 270.1L317.7 266.9zM320.3 279.6L319.8 282.6L318.5 282.3L319.2 289.6L322.2 283.0L320.9 282.7L321.4 279.8zM323.5 292.2L322.9 295.2L321.6 294.9L322.3 302.2L325.3 295.6L324.0 295.4L324.5 292.4zM326.6 304.8L326.1 307.8L324.8 307.6L325.6 314.9L328.5 308.2L327.2 308.0L327.6 305.0zM329.0 317.7L330.1 320.7L328.8 321.2L333.2 327.5L332.4 319.8L331.1 320.3L330.0 317.3zM332.7 329.9L332.6 333.9L331.2 333.9L333.0 341.4L335.0 334.0L333.7 333.9L333.8 329.9zM336.0 342.4L335.4 346.8L334.0 346.6L334.8 354.3L337.8 347.1L336.5 346.9L337.1 342.5zM339.2 355.0L338.5 359.6L337.1 359.4L337.8 367.1L340.9 360.0L339.6 359.8L340.3 355.1zM342.3 367.3L341.6 374.0L340.3 373.8L341.4 381.5L344.0 374.2L342.7 374.1L343.4 367.4zM345.7 384.9L348.1 374.2L349.4 374.5L349.2 366.7L345.7 373.6L347.0 373.9L344.6 384.7zM349.3 397.5L349.8 386.3L351.2 386.3L349.6 378.8L347.4 386.2L348.7 386.2L348.2 397.5zM354.0 408.7L348.8 402.6L349.8 401.7L343.5 397.2L346.9 404.2L348.0 403.3L353.1 409.4zM357.2 420.8L351.9 416.7L352.7 415.6L345.6 412.5L350.4 418.6L351.2 417.5L356.5 421.7zM360.6 433.0L353.7 429.7L354.3 428.5L346.7 426.9L352.6 431.9L353.2 430.7L360.1 434.0zM364.0 445.2L355.3 443.0L355.6 441.7L347.9 441.6L354.6 445.3L355.0 444.0L363.7 446.3zM367.7 456.8L354.4 458.6L354.2 457.3L347.0 460.1L354.7 461.0L354.5 459.7L367.8 457.9zM370.9 469.1L356.8 472.2L356.5 470.8L349.6 474.3L357.4 474.6L357.1 473.2L371.1 470.2zM374.0 481.8L360.1 484.6L359.8 483.3L352.8 486.6L360.6 487.0L360.3 485.7L374.2 482.9zM377.1 494.6L363.6 496.7L363.4 495.3L356.2 498.3L363.9 499.1L363.7 497.7L377.3 495.7zM299.6 151.9L305.9 153.6L305.5 154.9L313.2 155.0L306.5 151.2L306.2 152.5L299.9 150.8zM302.7 164.5L309.0 166.2L308.7 167.5L316.4 167.6L309.6 163.8L309.3 165.1L303.0 163.4zM305.9 177.1L312.2 178.8L311.8 180.1L319.5 180.2L312.8 176.4L312.4 177.7L306.2 176.0zM309.0 189.7L315.4 191.4L315.0 192.7L322.8 192.9L316.0 189.1L315.7 190.4L309.3 188.6zM312.0 202.3L319.2 204.2L318.8 205.5L326.5 205.7L319.8 201.9L319.5 203.2L312.3 201.2zM315.2 214.9L322.4 216.8L322.0 218.2L329.8 218.3L323.0 214.5L322.7 215.8L315.5 213.8zM318.4 227.3L324.9 229.8L324.4 231.1L332.1 232.1L325.8 227.6L325.3 228.8L318.8 226.3zM322.3 239.0L325.0 242.9L323.9 243.7L329.7 248.8L327.0 241.5L325.9 242.3L323.2 238.3zM325.5 251.5L327.8 255.4L326.7 256.1L332.2 261.6L329.9 254.2L328.8 254.8L326.5 251.0zM329.2 263.9L329.9 267.3L328.5 267.6L331.8 274.6L332.3 266.9L330.9 267.1L330.3 263.7zM332.9 276.4L332.4 279.4L331.1 279.2L332.0 286.5L334.9 279.8L333.5 279.6L334.0 276.6zM336.0 289.1L335.6 292.0L334.2 291.8L335.0 299.1L338.0 292.4L336.7 292.2L337.1 289.2zM338.5 301.9L339.4 304.9L338.1 305.2L341.9 311.5L341.7 304.2L340.4 304.6L339.6 301.6zM342.3 317.4L343.9 314.9L345.1 315.6L347.2 308.6L341.8 313.6L343.0 314.3L341.4 316.9zM345.5 330.1L347.0 327.5L348.2 328.2L350.3 321.1L345.0 326.2L346.1 326.9L344.5 329.5zM348.3 342.7L350.5 340.1L351.5 341.0L354.8 334.0L348.6 338.5L349.6 339.4L347.5 342.0zM350.1 354.3L355.8 354.1L355.9 355.4L363.3 353.2L355.7 351.6L355.7 353.0L350.1 353.2zM354.5 368.9L359.1 359.8L360.3 360.4L361.9 352.8L356.9 358.7L358.1 359.3L353.5 368.5zM357.7 382.0L362.5 370.0L363.8 370.5L364.8 362.9L360.3 369.1L361.5 369.6L356.7 381.6zM360.8 394.6L365.9 382.4L367.2 383.0L368.3 375.3L363.7 381.5L364.9 382.0L359.8 394.2zM365.3 406.9L364.8 396.0L366.2 396.0L364.0 388.6L362.4 396.1L363.7 396.1L364.2 406.9zM369.8 417.7L364.6 413.5L365.5 412.5L358.4 409.3L363.1 415.4L363.9 414.4L369.1 418.5zM373.0 430.3L367.5 426.1L368.4 425.0L361.2 422.0L366.1 428.1L366.9 427.0L372.3 431.1zM376.9 441.9L366.3 440.0L366.5 438.7L358.8 439.2L365.9 442.4L366.1 441.1L376.7 443.0zM380.3 453.4L366.3 456.4L366.0 455.1L359.1 458.6L366.8 458.8L366.5 457.5L380.6 454.4zM383.5 466.0L369.3 469.2L369.0 467.9L362.2 471.4L369.9 471.6L369.6 470.3L383.7 467.0zM386.6 478.6L372.5 481.8L372.2 480.4L365.3 483.9L373.1 484.1L372.8 482.8L386.9 479.7zM389.7 491.3L375.9 494.1L375.6 492.7L368.6 496.1L376.4 496.5L376.1 495.1L390.0 492.4zM312.2 148.7L318.5 150.4L318.1 151.7L325.9 151.8L319.1 148.1L318.8 149.4L312.5 147.7zM315.3 161.3L321.6 163.0L321.3 164.3L329.0 164.4L322.3 160.7L321.9 162.0L315.6 160.3zM318.5 174.0L324.8 175.6L324.4 176.9L332.2 177.0L325.4 173.3L325.1 174.6L318.8 172.9zM321.6 186.6L327.9 188.3L327.6 189.6L335.3 189.7L328.6 185.9L328.2 187.2L321.9 185.5zM324.7 199.1L331.7 201.1L331.3 202.4L339.0 202.6L332.3 198.7L332.0 200.0L325.0 198.1zM327.8 211.7L335.0 213.7L334.6 215.0L342.3 215.2L335.6 211.4L335.3 212.7L328.1 210.7zM331.0 224.2L337.8 226.6L337.3 227.9L345.0 228.5L338.6 224.3L338.1 225.5L331.3 223.2zM334.5 236.1L338.8 240.0L337.9 241.0L344.7 244.7L340.5 238.2L339.5 239.2L335.3 235.3zM338.1 248.4L340.6 252.4L339.5 253.2L345.1 258.5L342.7 251.1L341.6 251.8L339.0 247.8zM341.7 260.8L342.8 264.5L341.5 264.9L345.4 271.5L345.1 263.8L343.8 264.2L342.7 260.5zM345.3 273.3L345.3 276.4L343.9 276.4L345.8 283.8L347.7 276.4L346.4 276.4L346.4 273.3zM348.2 286.1L348.7 289.1L347.4 289.3L350.5 296.1L351.1 288.7L349.8 288.9L349.2 285.9zM351.7 301.7L353.4 299.1L354.5 299.9L356.9 293.0L351.4 297.8L352.5 298.5L350.8 301.1zM355.0 314.3L356.5 311.7L357.6 312.4L359.5 305.4L354.4 310.5L355.5 311.1L354.0 313.7zM358.1 326.9L359.6 324.3L360.8 325.0L362.7 318.0L357.5 323.1L358.7 323.8L357.2 326.4zM361.2 339.6L362.8 336.9L364.0 337.6L366.0 330.3L360.7 335.6L361.9 336.3L360.3 339.0zM364.0 352.8L367.8 346.2L369.0 346.9L371.1 339.5L365.7 345.0L366.9 345.7L363.1 352.2zM367.0 366.1L372.6 354.7L373.8 355.3L375.4 347.7L370.4 353.6L371.6 354.2L366.0 365.7zM370.2 378.9L375.7 366.7L376.9 367.2L378.3 359.6L373.5 365.6L374.7 366.2L369.2 378.4zM373.3 391.5L378.9 379.3L380.1 379.8L381.5 372.2L376.7 378.2L377.9 378.8L372.3 391.0zM376.6 404.1L381.6 391.9L382.8 392.4L383.9 384.7L379.3 391.0L380.5 391.5L375.6 403.7zM382.2 415.3L377.5 408.2L378.6 407.5L372.9 402.2L375.4 409.5L376.6 408.8L381.3 415.9zM385.7 427.3L379.6 422.3L380.4 421.3L373.4 418.1L378.0 424.2L378.9 423.2L385.0 428.1zM389.6 438.6L378.1 437.4L378.3 436.0L370.6 437.1L377.9 439.8L378.0 438.5L389.5 439.7zM392.9 450.3L379.0 453.1L378.8 451.8L371.8 455.1L379.5 455.5L379.3 454.2L393.1 451.4zM396.1 462.8L382.0 466.0L381.7 464.7L374.8 468.2L382.5 468.4L382.2 467.1L396.3 463.9zM399.2 475.5L385.2 478.5L384.9 477.2L378.0 480.7L385.7 480.9L385.4 479.6L399.5 476.5zM402.3 488.1L388.5 490.9L388.3 489.6L381.3 492.9L389.0 493.3L388.8 492.0L402.6 489.2zM324.8 145.6L331.1 147.3L330.7 148.6L338.5 148.7L331.7 144.9L331.4 146.2L325.1 144.5zM328.0 158.2L334.2 159.9L333.9 161.2L341.6 161.3L334.9 157.5L334.5 158.8L328.2 157.1zM331.1 170.8L337.4 172.5L337.0 173.8L344.8 173.9L338.0 170.1L337.7 171.4L331.4 169.7zM334.2 183.4L340.5 185.2L340.2 186.5L347.9 186.7L341.2 182.8L340.8 184.1L334.5 182.3zM337.4 195.8L343.6 198.2L343.2 199.5L350.8 200.5L344.5 196.0L344.0 197.2L337.8 194.8zM340.6 208.0L346.2 211.5L345.5 212.7L352.8 215.1L347.5 209.5L346.8 210.6L341.2 207.1zM344.4 219.8L347.2 224.7L346.0 225.4L351.4 231.0L349.3 223.5L348.2 224.2L345.3 219.3zM348.0 232.2L349.3 237.1L348.0 237.4L351.7 244.2L351.6 236.4L350.3 236.8L349.0 231.9zM351.1 244.9L352.4 249.5L351.1 249.8L354.9 256.6L354.7 248.8L353.4 249.2L352.2 244.6zM354.3 257.6L355.5 261.7L354.2 262.1L358.2 268.7L357.8 261.0L356.5 261.4L355.3 257.3zM357.3 270.4L358.7 273.7L357.4 274.2L362.0 280.4L360.9 272.8L359.7 273.3L358.3 270.0zM360.6 285.7L363.2 283.9L364.0 285.0L368.9 279.1L361.8 281.9L362.5 283.0L360.0 284.8zM364.4 298.5L366.0 295.9L367.1 296.7L369.2 289.6L363.9 294.7L365.1 295.4L363.5 298.0zM367.6 311.1L369.1 308.5L370.3 309.2L372.1 302.2L367.0 307.3L368.1 308.0L366.6 310.6zM370.7 323.8L372.2 321.2L373.4 321.8L375.3 314.8L370.1 319.9L371.3 320.6L369.8 323.2zM373.8 336.5L375.5 333.5L376.7 334.2L378.8 326.7L373.4 332.3L374.6 333.0L372.9 335.9zM376.4 350.2L381.9 340.1L383.1 340.8L385.0 333.3L379.7 339.0L380.9 339.6L375.5 349.6zM379.4 363.2L386.1 350.5L387.3 351.2L389.1 343.6L383.9 349.4L385.1 350.0L378.4 362.7zM382.6 375.8L389.2 363.1L390.4 363.7L392.2 356.2L387.0 362.0L388.2 362.6L381.6 375.3zM385.9 388.4L391.6 376.0L392.8 376.5L394.2 368.9L389.3 375.0L390.6 375.5L384.9 387.9zM389.4 400.9L393.8 388.7L395.0 389.2L395.8 381.5L391.5 387.9L392.7 388.4L388.3 400.6zM394.1 413.1L392.1 402.2L393.4 402.0L390.2 394.9L389.7 402.7L391.0 402.4L393.0 413.3zM398.9 423.6L388.8 419.7L389.3 418.4L381.6 417.6L387.9 422.0L388.4 420.7L398.5 424.6zM402.2 434.9L390.0 435.9L389.8 434.6L382.5 437.1L390.2 438.4L390.0 437.0L402.3 436.0zM405.4 447.4L392.8 449.1L392.6 447.8L385.4 450.7L393.1 451.6L392.9 450.2L405.5 448.4zM408.6 459.9L395.4 462.1L395.2 460.8L388.1 464.0L395.8 464.5L395.6 463.2L408.8 460.9zM411.8 472.4L398.3 475.0L398.0 473.7L391.0 477.0L398.7 477.4L398.5 476.1L412.0 473.5zM414.9 485.0L401.4 487.7L401.1 486.3L394.1 489.6L401.9 490.1L401.6 488.7L415.1 486.1zM337.4 142.5L343.7 144.1L343.4 145.4L351.1 145.4L344.3 141.7L344.0 143.0L337.7 141.4zM340.6 155.1L346.8 156.7L346.5 158.0L354.2 158.1L347.5 154.3L347.1 155.6L340.9 154.0zM343.7 167.6L349.9 169.4L349.6 170.7L357.3 170.9L350.6 167.0L350.2 168.3L344.0 166.6zM346.9 180.1L352.8 182.3L352.4 183.6L360.0 184.5L353.7 180.0L353.2 181.3L347.3 179.0zM350.5 191.7L354.1 196.1L353.1 197.0L359.4 201.5L356.0 194.5L355.0 195.4L351.3 191.0zM354.6 203.7L355.1 208.5L353.8 208.6L356.5 215.9L357.5 208.2L356.2 208.4L355.7 203.6zM357.9 216.3L357.9 220.9L356.6 220.9L358.6 228.4L360.4 220.8L359.0 220.8L359.0 216.3zM361.0 228.9L361.1 233.5L359.7 233.5L361.7 241.0L363.5 233.4L362.2 233.5L362.1 228.9zM364.1 241.6L364.3 246.1L363.0 246.2L365.2 253.6L366.8 246.0L365.4 246.1L365.2 241.5zM367.1 254.3L367.7 258.7L366.4 258.9L369.2 266.1L370.1 258.4L368.8 258.6L368.2 254.1zM369.6 267.5L372.0 270.8L370.9 271.6L376.8 276.5L374.0 269.4L372.9 270.2L370.5 266.9zM373.5 282.8L375.9 280.0L376.9 280.9L380.2 273.9L374.0 278.5L375.0 279.3L372.7 282.1zM376.9 295.5L378.7 292.8L379.8 293.5L382.2 286.2L376.6 291.4L377.7 292.2L376.0 294.9zM380.1 308.0L381.8 305.4L382.9 306.1L385.1 298.8L379.7 304.1L380.8 304.8L379.2 307.5zM383.3 320.7L384.9 318.0L386.1 318.6L388.3 311.3L382.8 316.7L384.0 317.4L382.3 320.1zM386.2 333.7L389.4 328.3L390.5 329.0L392.7 321.6L387.2 327.1L388.4 327.8L385.3 333.2zM388.9 347.3L395.3 335.5L396.4 336.1L398.3 328.6L393.1 334.3L394.3 335.0L387.9 346.8zM392.0 360.0L398.8 347.3L400.0 347.9L401.8 340.4L396.6 346.1L397.8 346.8L391.0 359.5zM395.1 372.7L401.9 359.9L403.1 360.5L405.0 353.0L399.8 358.7L401.0 359.4L394.2 372.2zM398.4 385.3L404.8 372.6L406.0 373.2L407.7 365.6L402.6 371.4L403.8 372.1L397.4 384.8zM402.1 397.8L406.0 385.3L407.3 385.7L407.8 378.0L403.7 384.6L405.0 385.0L401.0 397.5zM407.8 409.4L400.9 399.5L402.1 398.8L396.2 393.7L398.9 400.9L400.0 400.1L406.8 410.1zM411.7 419.2L399.4 419.9L399.4 418.5L392.0 420.8L399.6 422.3L399.5 421.0L411.8 420.3zM414.8 431.6L402.4 433.3L402.3 432.0L395.1 434.9L402.8 435.7L402.6 434.4L415.0 432.7zM418.0 444.2L405.6 446.0L405.4 444.6L398.2 447.5L405.9 448.4L405.7 447.0L418.1 445.3zM421.1 456.8L408.6 458.7L408.4 457.3L401.3 460.3L408.9 461.1L408.7 459.8L421.3 457.9zM424.4 469.2L411.1 471.9L410.8 470.6L403.8 473.9L411.6 474.3L411.3 473.0L424.6 470.3zM427.5 481.8L413.9 484.9L413.6 483.6L406.7 487.1L414.5 487.3L414.2 485.9L427.8 482.8zM350.0 139.4L356.4 140.7L356.1 142.0L363.8 141.6L356.9 138.3L356.6 139.6L350.3 138.3zM353.2 152.1L359.5 153.3L359.3 154.6L367.0 154.2L360.0 150.9L359.8 152.2L353.4 151.0zM356.3 164.6L362.6 166.0L362.3 167.3L370.1 167.1L363.2 163.6L362.9 164.9L356.6 163.5zM359.5 176.9L365.2 179.2L364.7 180.5L372.4 181.6L366.2 176.9L365.7 178.2L360.0 175.9zM363.6 188.2L365.5 193.0L364.2 193.5L368.8 199.7L367.8 192.1L366.5 192.6L364.6 187.8zM367.3 200.6L367.5 205.1L366.1 205.2L368.2 212.6L369.9 205.1L368.6 205.1L368.4 200.5zM370.5 213.2L370.5 217.7L369.2 217.7L371.1 225.2L373.0 217.7L371.6 217.7L371.6 213.2zM373.7 225.8L373.7 230.3L372.3 230.3L374.2 237.8L376.1 230.3L374.8 230.3L374.8 225.8zM376.8 238.4L376.9 242.9L375.5 242.9L377.5 250.4L379.3 242.9L378.0 242.9L377.9 238.4zM380.0 251.0L380.0 255.5L378.6 255.5L380.6 263.0L382.4 255.5L381.1 255.5L381.1 251.0zM385.4 264.8L381.1 265.0L381.0 263.7L373.6 265.9L381.2 267.5L381.1 266.1L385.5 265.9zM386.7 279.9L388.2 275.9L389.5 276.4L390.3 268.7L385.9 275.1L387.2 275.5L385.7 279.5zM389.4 292.4L391.8 289.0L392.9 289.8L395.8 282.6L389.9 287.5L390.9 288.3L388.5 291.8zM392.4 305.0L395.1 301.7L396.2 302.6L399.6 295.6L393.3 300.1L394.3 301.0L391.5 304.3zM395.5 317.6L398.4 314.1L399.5 315.0L402.8 308.0L396.6 312.5L397.6 313.4L394.7 316.9zM398.5 330.6L402.8 324.8L403.9 325.5L406.7 318.3L400.8 323.3L401.9 324.1L397.6 330.0zM401.5 344.1L407.8 332.8L409.0 333.4L411.0 326.0L405.7 331.6L406.8 332.3L400.6 343.5zM404.6 356.9L411.4 344.2L412.6 344.9L414.4 337.3L409.2 343.1L410.4 343.7L403.6 356.4zM407.8 369.5L414.5 356.8L415.7 357.4L417.5 349.9L412.4 355.6L413.6 356.2L406.8 369.0zM411.0 382.1L417.4 369.5L418.6 370.1L420.3 362.5L415.2 368.3L416.4 369.0L410.0 381.6zM414.8 394.7L418.3 382.0L419.6 382.3L419.7 374.6L415.9 381.3L417.2 381.7L413.8 394.4zM421.2 404.9L409.9 399.9L410.5 398.7L402.8 397.4L408.9 402.2L409.5 400.9L420.8 405.9zM424.3 415.9L411.9 417.3L411.8 415.9L404.5 418.6L412.2 419.7L412.1 418.3L424.4 417.0zM427.4 428.5L415.1 430.2L414.9 428.9L407.7 431.8L415.4 432.6L415.2 431.3L427.6 429.5zM430.6 441.1L418.2 442.8L418.0 441.5L410.8 444.4L418.5 445.2L418.3 443.9L430.7 442.2zM433.8 453.5L420.8 456.0L420.5 454.7L413.5 457.9L421.2 458.4L421.0 457.1L434.0 454.6zM437.0 465.9L423.1 469.5L422.8 468.2L416.0 471.9L423.7 471.9L423.4 470.5L437.3 467.0zM440.2 478.5L426.3 482.1L425.9 480.8L419.1 484.6L426.9 484.5L426.5 483.2L440.4 479.6zM362.7 136.3L369.0 137.5L368.8 138.8L376.5 138.3L369.5 135.1L369.2 136.4L362.9 135.2zM365.8 148.9L372.2 150.1L372.0 151.4L379.7 150.9L372.6 147.7L372.4 149.0L366.0 147.9zM368.9 161.6L375.3 162.7L375.1 164.0L382.8 163.5L375.8 160.3L375.5 161.6L369.1 160.5zM372.1 174.0L378.3 175.6L378.0 176.9L385.7 176.8L378.9 173.2L378.5 174.5L372.4 173.0zM375.9 185.3L378.9 189.7L377.8 190.5L383.6 195.6L380.9 188.4L379.8 189.1L376.8 184.7zM379.9 197.4L380.2 202.0L378.8 202.1L381.2 209.5L382.6 201.9L381.3 202.0L381.0 197.4zM383.1 210.0L383.2 214.6L381.8 214.6L383.8 222.0L385.6 214.5L384.3 214.5L384.2 210.0zM386.3 222.7L386.3 227.2L385.0 227.2L387.0 234.7L388.8 227.1L387.4 227.2L387.4 222.6zM389.4 235.3L389.5 239.8L388.1 239.8L390.2 247.3L391.9 239.7L390.6 239.8L390.5 235.3zM393.2 247.8L391.8 252.0L390.5 251.6L389.9 259.3L394.1 252.8L392.8 252.4L394.2 248.2zM398.0 263.0L394.6 260.2L395.5 259.1L388.5 255.8L393.0 262.1L393.9 261.0L397.3 263.9zM400.2 276.6L399.6 272.2L400.9 272.0L397.9 264.9L397.1 272.6L398.5 272.4L399.1 276.8zM401.9 289.3L404.6 285.7L405.7 286.6L408.8 279.5L402.7 284.2L403.8 285.1L401.0 288.6zM404.8 301.8L408.0 298.6L409.0 299.5L412.8 292.8L406.2 296.9L407.2 297.8L404.1 301.0zM408.0 314.4L411.2 311.2L412.1 312.2L416.0 305.5L409.4 309.5L410.4 310.4L407.2 313.6zM411.1 327.1L414.7 323.5L415.6 324.4L419.6 317.7L412.9 321.7L413.9 322.7L410.3 326.3zM414.0 340.3L419.7 333.1L420.7 333.9L423.8 326.8L417.7 331.6L418.8 332.4L413.2 339.6zM417.2 353.5L423.6 342.4L424.8 343.1L426.9 335.6L421.5 341.2L422.7 341.9L416.3 353.0zM420.4 366.2L426.9 354.3L428.0 354.9L429.9 347.4L424.7 353.1L425.9 353.8L419.4 365.7zM423.7 378.9L429.5 367.0L430.7 367.6L432.3 360.0L427.3 365.9L428.5 366.5L422.7 378.4zM428.0 391.4L429.2 379.2L430.6 379.3L429.4 371.7L426.8 378.9L428.1 379.1L426.9 391.3zM433.8 401.1L422.1 398.8L422.3 397.4L414.6 397.9L421.6 401.2L421.8 399.8L433.6 402.1zM436.9 412.8L424.6 414.2L424.4 412.9L417.2 415.7L424.9 416.7L424.7 415.3L437.0 413.9zM440.1 425.3L427.6 427.2L427.4 425.8L420.3 428.8L428.0 429.6L427.8 428.3L440.2 426.4zM443.2 437.8L430.4 440.1L430.2 438.8L423.1 442.0L430.8 442.5L430.6 441.2L443.4 438.9zM446.5 450.1L432.6 453.8L432.2 452.5L425.5 456.2L433.2 456.1L432.9 454.8L446.8 451.2zM449.6 462.7L435.6 466.5L435.3 465.2L428.5 469.0L436.3 468.8L435.9 467.5L449.9 463.8zM452.8 475.3L438.8 479.1L438.4 477.8L431.7 481.6L439.4 481.5L439.1 480.1L453.1 476.4zM375.3 133.2L381.7 134.3L381.4 135.7L389.1 135.1L382.1 131.9L381.8 133.3L375.5 132.1zM378.4 145.8L384.8 146.9L384.6 148.3L392.3 147.7L385.2 144.5L385.0 145.8L378.6 144.7zM381.6 158.4L388.0 159.5L387.7 160.9L395.4 160.3L388.4 157.1L388.2 158.5L381.8 157.3zM384.7 171.0L391.0 172.3L390.7 173.6L398.4 173.3L391.5 169.9L391.2 171.2L384.9 169.9zM388.1 182.7L392.6 186.2L391.7 187.2L398.8 190.3L394.1 184.2L393.2 185.3L388.8 181.8zM392.2 194.4L393.2 199.0L391.9 199.3L395.3 206.2L395.6 198.5L394.3 198.8L393.3 194.2zM395.5 207.0L396.1 211.5L394.8 211.6L397.6 218.8L398.5 211.2L397.2 211.3L396.6 206.8zM398.6 219.6L399.3 224.1L398.0 224.3L400.9 231.4L401.7 223.7L400.4 223.9L399.7 219.4zM401.8 232.2L402.4 236.7L401.1 236.8L403.9 244.0L404.8 236.3L403.5 236.5L402.9 232.1zM406.8 245.0L403.3 247.7L402.5 246.6L397.6 252.6L404.8 249.6L404.0 248.6L407.5 245.9zM410.7 259.8L407.0 257.1L407.8 256.0L400.6 253.2L405.6 259.1L406.4 258.0L410.0 260.6zM413.7 272.6L410.5 269.5L411.4 268.5L404.7 264.7L408.8 271.3L409.7 270.3L413.0 273.4zM414.7 286.2L417.1 282.4L418.2 283.1L420.5 275.7L415.0 281.1L416.1 281.8L413.8 285.6zM417.4 298.7L420.6 295.5L421.6 296.4L425.5 289.8L418.9 293.7L419.8 294.7L416.7 297.9zM420.6 311.3L423.8 308.1L424.7 309.1L428.7 302.4L422.0 306.4L423.0 307.3L419.8 310.5zM423.5 323.7L427.0 321.2L427.7 322.4L432.8 316.5L425.6 319.2L426.3 320.3L422.8 322.8zM425.9 334.3L429.7 336.8L429.0 337.9L436.3 340.5L431.1 334.8L430.3 335.9L426.6 333.4zM428.7 348.0L435.6 348.1L435.6 349.4L443.1 347.7L435.6 345.6L435.6 347.0L428.8 346.9zM432.6 362.2L439.2 355.9L440.1 356.9L444.2 350.3L437.5 354.1L438.4 355.1L431.9 361.4zM436.2 375.1L441.7 367.3L442.8 368.1L445.6 360.9L439.7 365.9L440.8 366.7L435.3 374.4zM441.5 387.7L439.2 378.2L440.6 377.9L437.0 371.0L436.9 378.8L438.2 378.4L440.4 387.9zM446.2 397.2L435.3 397.9L435.2 396.6L427.9 399.0L435.5 400.4L435.4 399.0L446.3 398.3zM449.4 409.4L437.6 411.9L437.3 410.6L430.4 414.0L438.1 414.3L437.8 413.0L449.6 410.4zM452.6 421.9L440.3 424.9L440.0 423.6L433.2 427.3L440.9 427.3L440.6 426.0L452.8 422.9zM455.8 434.4L442.9 437.8L442.6 436.5L435.8 440.3L443.5 440.2L443.2 438.9L456.1 435.5zM459.1 447.0L445.2 450.7L444.9 449.4L438.1 453.2L445.9 453.1L445.5 451.8L459.4 448.0zM462.2 459.6L448.3 463.3L447.9 462.0L441.2 465.8L448.9 465.7L448.5 464.4L462.5 460.6zM465.4 472.2L451.4 475.9L451.1 474.6L444.3 478.4L452.1 478.3L451.7 477.0L465.7 473.3zM387.9 130.0L394.1 131.3L393.8 132.6L401.6 132.4L394.6 128.9L394.3 130.2L388.1 128.9zM391.0 142.6L397.4 143.8L397.1 145.1L404.9 144.6L397.8 141.4L397.6 142.7L391.2 141.6zM394.2 155.2L400.5 156.4L400.3 157.8L408.0 157.3L401.0 154.0L400.7 155.4L394.4 154.2zM397.3 167.7L403.4 169.3L403.1 170.6L410.8 170.5L404.0 166.9L403.7 168.2L397.6 166.7zM400.8 179.5L405.0 183.0L404.2 184.0L411.2 187.2L406.6 181.0L405.7 182.1L401.5 178.7zM404.8 191.3L406.0 195.8L404.7 196.2L408.5 202.9L408.4 195.1L407.1 195.5L405.8 191.0zM408.1 203.9L408.9 208.3L407.5 208.5L410.8 215.6L411.3 207.9L409.9 208.1L409.1 203.7zM411.2 216.5L412.0 220.9L410.7 221.2L413.8 228.2L414.4 220.5L413.1 220.7L412.3 216.3zM414.4 229.1L415.1 233.5L413.8 233.8L416.9 240.8L417.5 233.1L416.2 233.3L415.4 228.9zM419.5 241.9L415.9 244.5L415.1 243.4L410.1 249.3L417.4 246.4L416.6 245.3L420.1 242.8zM423.3 256.6L419.6 254.0L420.4 252.9L413.2 250.1L418.2 256.0L419.0 254.9L422.6 257.5zM426.4 269.2L422.8 266.6L423.5 265.5L416.3 262.7L421.3 268.6L422.1 267.5L425.8 270.1zM429.3 282.3L426.6 278.8L427.7 277.9L421.7 273.1L424.7 280.2L425.7 279.4L428.4 283.0zM430.2 295.6L433.1 292.2L434.1 293.0L437.5 286.1L431.2 290.6L432.2 291.5L429.4 294.9zM433.1 308.0L436.3 305.3L437.2 306.4L441.8 300.1L434.8 303.4L435.6 304.5L432.4 307.2zM436.4 317.6L436.9 320.7L435.6 320.9L438.7 327.8L439.4 320.3L438.0 320.5L437.5 317.4zM439.8 330.2L439.9 333.2L438.5 333.3L440.7 340.4L442.3 333.1L441.0 333.2L440.9 330.1zM442.7 342.8L443.2 345.9L441.9 346.1L444.8 353.2L445.6 345.6L444.3 345.8L443.8 342.7zM445.1 356.2L447.6 358.6L446.7 359.6L453.4 363.4L449.3 356.8L448.4 357.8L445.9 355.4zM448.0 369.8L451.8 370.4L451.6 371.7L459.3 370.9L452.2 368.0L452.0 369.3L448.2 368.7zM450.9 381.9L456.1 384.0L455.6 385.2L463.3 386.3L457.0 381.7L456.5 383.0L451.3 380.9zM458.3 393.4L449.6 396.6L449.1 395.3L442.8 399.7L450.5 398.9L450.0 397.6L458.6 394.4zM461.8 406.0L450.6 409.6L450.2 408.3L443.6 412.4L451.3 411.9L450.9 410.6L462.2 407.0zM465.1 418.5L453.2 422.4L452.8 421.1L446.2 425.2L454.0 424.7L453.6 423.4L465.4 419.6zM468.2 431.2L456.3 435.0L455.9 433.7L449.3 437.8L457.0 437.3L456.6 436.0L468.6 432.2zM471.4 443.8L459.1 447.6L458.7 446.3L452.1 450.4L459.8 450.0L459.4 448.7L471.8 444.8zM474.8 456.4L461.4 460.2L461.0 458.9L454.3 462.8L462.1 462.6L461.7 461.3L475.1 457.5zM477.9 469.0L464.4 472.9L464.0 471.6L457.4 475.5L465.1 475.2L464.7 473.9L478.2 470.1zM400.8 126.2L405.1 128.9L404.4 130.0L411.8 132.3L406.4 126.8L405.7 127.9L401.3 125.3zM403.8 139.0L408.7 141.4L408.2 142.6L415.7 144.1L409.8 139.2L409.2 140.4L404.3 138.0zM406.9 151.7L412.2 153.9L411.7 155.1L419.4 156.1L413.1 151.6L412.6 152.8L407.3 150.7zM410.1 164.2L415.0 166.6L414.4 167.9L422.0 169.5L416.1 164.5L415.5 165.7L410.6 163.2zM413.6 176.1L416.8 179.9L415.8 180.7L422.1 185.2L418.7 178.3L417.7 179.2L414.4 175.4zM417.3 188.2L418.7 192.6L417.4 193.0L421.5 199.6L421.0 191.8L419.7 192.2L418.4 187.9zM420.6 200.7L421.5 205.2L420.2 205.4L423.5 212.4L423.9 204.7L422.6 204.9L421.7 200.5zM423.8 213.3L424.6 217.8L423.3 218.0L426.5 225.1L427.0 217.3L425.7 217.6L424.9 213.1zM427.0 226.0L427.8 230.4L426.4 230.6L429.7 237.6L430.2 229.9L428.9 230.2L428.0 225.8zM432.5 241.2L430.0 238.2L431.1 237.3L424.9 232.7L428.1 239.7L429.2 238.9L431.6 241.9zM435.8 253.6L432.5 250.8L433.3 249.8L426.3 246.5L430.9 252.7L431.8 251.7L435.1 254.4zM439.1 266.0L435.4 263.5L436.1 262.4L428.9 259.7L434.0 265.5L434.7 264.4L438.4 266.9zM442.3 278.4L438.3 276.4L438.9 275.2L431.4 273.4L437.1 278.5L437.8 277.3L441.7 279.4zM445.4 291.2L441.6 288.9L442.4 287.7L435.0 285.4L440.4 291.0L441.1 289.8L444.8 292.1zM446.2 301.7L446.1 304.9L444.7 304.8L446.4 312.2L448.5 304.9L447.2 304.9L447.3 301.8zM449.3 314.4L449.3 317.4L447.9 317.4L449.8 324.4L451.7 317.4L450.4 317.4L450.4 314.4zM452.4 327.0L452.4 330.0L451.1 330.0L453.0 337.1L454.9 330.0L453.5 330.0L453.5 327.0zM455.4 339.8L455.8 342.7L454.4 342.8L457.1 349.4L458.2 342.4L456.8 342.6L456.5 339.6zM457.9 353.8L460.1 354.8L459.6 356.0L465.5 356.7L461.2 352.6L460.6 353.8L458.4 352.8zM461.3 366.8L463.5 367.0L463.3 368.4L468.7 367.0L463.7 364.6L463.6 365.9L461.4 365.7zM464.2 379.3L466.8 379.7L466.6 381.1L473.0 380.1L467.2 377.3L467.0 378.6L464.3 378.3zM469.9 389.8L464.9 394.3L464.0 393.3L459.7 399.7L466.5 396.1L465.6 395.1L470.7 390.6zM474.3 402.8L463.6 406.6L463.1 405.3L456.7 409.6L464.4 408.9L463.9 407.6L474.7 403.8zM477.7 415.4L465.9 419.3L465.4 418.0L458.9 422.1L466.6 421.6L466.2 420.3L478.0 416.4zM480.8 428.0L468.9 431.9L468.5 430.6L462.0 434.7L469.7 434.2L469.3 432.9L481.2 429.0zM484.0 440.6L472.1 444.5L471.7 443.2L465.1 447.3L472.8 446.8L472.4 445.5L484.3 441.7zM487.1 453.2L475.1 457.3L474.7 456.0L468.2 460.2L475.9 459.6L475.5 458.3L487.5 454.2zM490.2 465.7L478.2 470.2L477.8 468.9L471.4 473.3L479.1 472.5L478.6 471.2L490.6 466.7zM413.5 122.8L417.0 125.7L416.1 126.8L423.1 130.1L418.6 123.9L417.7 124.9L414.2 122.0zM416.7 135.5L420.2 138.4L419.3 139.4L426.3 142.8L421.7 136.5L420.9 137.5L417.4 134.6zM419.9 148.0L423.2 151.1L422.3 152.1L429.1 155.7L424.9 149.3L424.0 150.3L420.6 147.2zM423.4 160.1L425.4 163.9L424.2 164.6L429.4 170.3L427.6 162.8L426.4 163.4L424.4 159.6zM426.9 172.5L428.0 176.6L426.7 176.9L430.4 183.7L430.3 176.0L429.0 176.3L427.9 172.2zM429.5 185.5L432.1 189.1L431.0 189.9L436.9 194.9L434.1 187.7L433.0 188.5L430.4 184.9zM432.6 198.2L435.3 201.7L434.2 202.5L440.3 207.4L437.3 200.2L436.2 201.0L433.5 197.5zM435.7 210.9L438.6 214.2L437.6 215.1L444.0 219.4L440.5 212.6L439.5 213.5L436.5 210.2zM439.1 225.7L442.7 224.0L443.3 225.2L449.2 220.3L441.6 221.8L442.2 223.0L438.6 224.7zM443.9 238.7L444.4 235.7L445.7 235.9L445.1 228.5L442.0 235.3L443.3 235.5L442.8 238.5zM447.2 251.3L447.4 248.2L448.7 248.3L447.3 241.0L444.9 248.1L446.3 248.1L446.1 251.2zM451.6 262.9L448.1 260.5L448.9 259.4L441.6 256.8L446.7 262.5L447.5 261.4L451.0 263.8zM454.9 275.2L450.8 273.3L451.4 272.1L443.8 270.6L449.8 275.5L450.3 274.3L454.4 276.2zM458.0 287.8L454.0 286.0L454.5 284.8L446.9 283.5L453.0 288.2L453.5 287.0L457.6 288.8zM459.3 298.5L458.3 301.5L457.0 301.1L456.5 308.7L460.6 302.3L459.3 301.8L460.3 298.8zM461.9 311.3L461.9 314.3L460.5 314.3L462.3 321.3L464.3 314.3L463.0 314.3L463.0 311.3zM465.1 323.9L465.0 326.9L463.7 326.9L465.5 333.9L467.5 326.9L466.1 326.9L466.2 323.9zM467.6 337.1L468.9 339.4L467.7 340.1L472.3 344.6L471.0 338.3L469.9 338.9L468.6 336.6zM470.9 351.1L472.8 351.2L472.7 352.6L477.3 350.9L472.9 348.8L472.9 350.1L471.0 350.0zM474.1 363.8L475.9 363.8L475.9 365.1L480.3 363.3L476.0 361.4L476.0 362.7L474.1 362.7zM477.1 376.4L479.2 376.4L479.1 377.8L483.9 376.1L479.3 374.0L479.2 375.3L477.2 375.3zM479.9 387.5L482.0 390.3L480.9 391.1L486.8 396.0L483.9 388.8L482.9 389.6L480.8 386.8zM486.6 399.5L477.9 403.4L477.3 402.2L471.3 407.0L478.9 405.7L478.3 404.4L487.0 400.5zM490.2 412.2L479.0 416.1L478.5 414.9L472.1 419.1L479.8 418.4L479.4 417.2L490.5 413.3zM493.4 424.9L481.7 428.7L481.2 427.4L474.7 431.6L482.4 431.1L482.0 429.8L493.8 425.9zM496.5 437.4L484.9 441.4L484.4 440.1L478.0 444.4L485.7 443.7L485.2 442.5L496.9 438.5zM499.6 449.9L488.2 454.7L487.7 453.4L481.5 458.1L489.2 456.9L488.7 455.7L500.0 450.9zM502.7 462.4L491.4 467.6L490.8 466.3L484.8 471.2L492.4 469.8L491.8 468.6L503.1 463.4zM426.2 119.7L429.6 122.6L428.7 123.6L435.7 127.0L431.2 120.7L430.3 121.7L426.9 118.9zM429.3 132.3L432.7 135.2L431.9 136.2L438.8 139.6L434.3 133.3L433.5 134.4L430.0 131.5zM432.7 144.5L435.1 148.0L434.0 148.7L439.9 153.8L437.1 146.5L436.0 147.3L433.6 143.9zM438.1 156.7L435.7 159.1L434.8 158.1L430.8 164.8L437.5 160.8L436.5 159.9L438.9 157.5zM441.4 169.4L438.7 171.6L437.9 170.6L433.3 176.8L440.3 173.5L439.4 172.5L442.1 170.3zM441.9 184.1L446.1 184.0L446.1 185.4L453.5 183.4L446.0 181.6L446.0 182.9L441.9 183.0zM445.8 197.7L449.1 194.8L450.0 195.8L454.3 189.4L447.5 192.9L448.4 193.9L445.1 196.9zM449.2 210.4L452.1 207.1L453.1 207.9L456.5 201.0L450.2 205.5L451.2 206.3L448.3 209.7zM452.4 223.1L455.1 219.7L456.1 220.5L459.3 213.4L453.2 218.1L454.2 219.0L451.5 222.4zM456.4 235.6L457.0 232.6L458.4 232.9L458.0 225.5L454.6 232.1L456.0 232.4L455.3 235.3zM459.6 248.1L460.1 245.2L461.5 245.4L460.8 238.2L457.7 244.8L459.1 245.0L458.5 248.0zM463.6 260.5L462.3 257.3L463.5 256.8L458.9 250.6L460.0 258.2L461.3 257.7L462.6 260.9zM467.5 272.1L463.6 270.1L464.2 268.9L456.7 267.1L462.4 272.3L463.1 271.1L467.0 273.1zM470.6 284.4L466.5 283.2L466.8 281.9L459.1 281.6L465.8 285.5L466.2 284.2L470.3 285.4zM473.6 296.2L469.4 296.8L469.3 295.5L462.1 298.4L469.8 299.2L469.6 297.9L473.7 297.3zM476.4 308.4L472.9 310.0L472.3 308.8L466.2 313.5L473.9 312.2L473.3 311.0L476.8 309.5zM478.5 320.6L476.9 323.3L475.8 322.6L473.7 329.9L479.0 324.6L477.9 323.9L479.5 321.2zM480.2 335.1L482.3 335.7L482.0 337.0L487.4 336.4L482.9 333.3L482.6 334.6L480.4 334.1zM483.6 348.0L485.4 348.0L485.4 349.4L489.6 347.5L485.4 345.6L485.4 346.9L483.6 346.9zM486.7 360.6L488.5 360.6L488.5 362.0L492.8 360.1L488.5 358.2L488.5 359.5L486.7 359.5zM489.8 373.2L491.7 373.3L491.7 374.6L496.1 372.8L491.8 370.8L491.7 372.2L489.9 372.1zM492.5 384.8L494.7 386.6L493.8 387.7L500.0 390.5L496.2 384.8L495.4 385.8L493.2 384.0zM498.4 396.4L493.7 399.4L493.0 398.3L487.8 404.0L495.1 401.5L494.3 400.4L499.0 397.3zM501.7 409.0L496.5 412.1L495.8 411.0L490.3 416.4L497.7 414.2L497.0 413.1L502.3 410.0zM505.1 421.6L498.3 425.2L497.7 424.0L491.9 429.1L499.5 427.4L498.8 426.2L505.6 422.6zM508.8 434.1L498.9 438.7L498.4 437.5L492.4 442.3L500.0 440.9L499.4 439.7L509.2 435.1zM512.1 446.6L500.9 451.9L500.3 450.7L494.3 455.5L501.9 454.1L501.3 452.9L512.6 447.6zM515.3 459.2L504.0 464.5L503.4 463.3L497.4 468.2L505.0 466.7L504.4 465.5L515.8 460.2zM438.8 116.5L442.2 119.5L441.3 120.5L448.3 123.9L443.8 117.6L442.9 118.6L439.5 115.7zM442.0 129.0L445.2 132.1L444.2 133.1L450.9 137.0L446.9 130.4L445.9 131.3L442.8 128.3zM447.7 141.1L445.2 143.1L444.4 142.0L439.7 148.0L446.7 145.0L445.9 143.9L448.4 142.0zM451.1 154.0L448.3 155.2L447.8 153.9L442.0 158.4L449.2 157.5L448.7 156.2L451.6 155.1zM454.3 166.6L451.4 167.9L450.9 166.7L445.1 171.4L452.5 170.1L451.9 168.9L454.7 167.6zM454.7 179.4L457.3 182.4L456.3 183.3L462.8 187.6L459.1 180.8L458.1 181.7L455.5 178.7zM458.3 194.5L461.8 191.7L462.7 192.8L467.4 186.6L460.3 189.8L461.1 190.9L457.6 193.7zM461.8 207.3L464.7 203.9L465.7 204.8L469.2 197.8L462.8 202.3L463.9 203.2L460.9 206.6zM464.9 219.9L467.8 216.5L468.8 217.4L472.2 210.4L465.9 214.9L467.0 215.8L464.1 219.2zM468.6 232.5L470.1 229.3L471.3 229.9L472.7 222.3L467.9 228.3L469.1 228.9L467.6 232.1zM472.2 245.0L472.8 242.0L474.1 242.3L473.6 234.8L470.4 241.6L471.7 241.8L471.1 244.8zM475.9 257.6L475.4 254.3L476.8 254.1L473.9 246.9L473.0 254.6L474.3 254.4L474.8 257.7zM480.1 268.9L476.3 267.1L476.8 265.9L469.2 264.3L475.2 269.3L475.8 268.1L479.6 269.9zM483.2 280.7L478.7 280.7L478.8 279.3L471.2 281.1L478.7 283.1L478.7 281.8L483.2 281.8zM486.3 293.3L481.8 293.3L481.8 292.0L474.3 293.9L481.9 295.8L481.8 294.4L486.3 294.4zM489.5 305.9L485.0 306.0L485.0 304.6L477.5 306.6L485.0 308.4L485.0 307.1L489.5 307.0zM492.5 318.4L488.4 318.8L488.3 317.4L481.0 320.1L488.7 321.2L488.6 319.9L492.6 319.5zM492.7 332.1L495.0 332.5L494.8 333.8L500.4 332.9L495.4 330.1L495.2 331.4L492.9 331.0zM496.2 344.9L498.0 344.9L498.0 346.2L502.3 344.4L498.0 342.4L498.0 343.8L496.2 343.8zM499.4 357.5L501.2 357.5L501.2 358.9L505.4 357.0L501.2 355.1L501.2 356.4L499.4 356.4zM502.4 370.1L504.3 370.1L504.3 371.5L508.8 369.8L504.4 367.7L504.4 369.0L502.5 369.0zM506.2 380.6L505.8 383.6L504.5 383.4L505.5 390.6L508.2 383.9L506.9 383.7L507.3 380.8zM510.9 393.3L507.1 395.9L506.3 394.8L501.1 400.5L508.4 397.9L507.7 396.8L511.5 394.2zM514.1 406.0L510.3 408.4L509.5 407.3L504.3 413.0L511.6 410.5L510.9 409.4L514.7 406.9zM517.2 418.6L513.3 421.1L512.6 420.0L507.3 425.6L514.6 423.2L513.9 422.0L517.8 419.5zM521.0 431.0L513.3 435.2L512.7 434.0L507.0 439.3L514.5 437.3L513.8 436.2L521.5 431.9zM524.7 443.5L513.5 448.7L512.9 447.5L506.9 452.4L514.5 451.0L514.0 449.7L525.2 444.5zM527.9 456.1L516.6 461.4L516.0 460.2L510.0 465.0L517.6 463.6L517.1 462.4L528.4 457.1zM451.5 113.1L454.7 116.8L453.7 117.7L460.1 122.1L456.6 115.2L455.6 116.1L452.3 112.4zM455.2 125.1L456.5 129.7L455.2 130.0L459.1 136.7L458.9 129.0L457.6 129.4L456.3 124.8zM460.5 138.1L457.8 139.7L457.1 138.5L451.6 143.8L459.0 141.8L458.3 140.6L461.1 139.1zM463.8 150.9L460.9 152.0L460.5 150.7L454.6 155.0L461.8 154.3L461.3 153.0L464.2 152.0zM466.9 163.5L464.1 164.7L463.5 163.5L457.7 168.2L465.1 167.0L464.5 165.7L467.3 164.5zM467.1 176.8L470.7 178.9L470.0 180.1L477.4 182.3L471.9 176.8L471.2 178.0L467.6 175.8zM470.1 190.2L474.7 190.6L474.6 191.9L482.2 190.5L474.9 188.1L474.8 189.5L470.2 189.1zM473.6 203.5L477.9 202.1L478.4 203.4L484.9 199.2L477.2 199.8L477.6 201.0L473.2 202.5zM477.3 216.7L480.7 213.6L481.6 214.6L485.9 208.2L479.0 211.8L479.9 212.8L476.6 215.9zM480.7 229.4L483.4 226.1L484.5 226.9L487.7 219.9L481.5 224.5L482.6 225.4L479.9 228.7zM484.3 242.1L486.0 238.5L487.2 239.1L488.7 231.5L483.8 237.5L485.0 238.0L483.3 241.6zM487.3 251.1L487.0 255.5L485.7 255.5L487.1 263.1L489.5 255.7L488.1 255.6L488.4 251.1zM491.4 263.6L488.8 267.8L487.6 267.0L485.2 274.4L490.8 269.1L489.7 268.4L492.3 264.2zM495.6 277.2L491.1 278.2L490.8 276.9L484.0 280.5L491.7 280.6L491.4 279.3L495.9 278.2zM498.9 290.1L494.4 290.3L494.4 288.9L487.0 291.0L494.5 292.7L494.5 291.4L499.0 291.2zM502.1 302.7L497.6 302.9L497.6 301.5L490.1 303.6L497.7 305.3L497.6 304.0L502.1 303.8zM505.0 315.0L500.9 316.0L500.6 314.7L493.7 318.2L501.4 318.4L501.1 317.1L505.3 316.1zM505.6 327.4L506.5 330.1L505.3 330.6L509.2 336.3L508.9 329.3L507.6 329.8L506.6 327.0zM508.6 341.6L510.7 341.9L510.5 343.2L515.7 341.9L511.0 339.4L510.8 340.8L508.8 340.5zM511.8 354.3L513.8 354.4L513.7 355.8L518.5 354.2L514.0 352.0L513.9 353.3L511.9 353.2zM514.7 366.6L517.0 367.3L516.6 368.6L522.5 368.3L517.7 364.9L517.3 366.2L515.0 365.6zM519.7 377.3L517.5 380.5L516.4 379.7L513.8 387.0L519.6 381.8L518.4 381.1L520.6 377.9zM523.5 390.2L519.7 392.8L518.9 391.7L513.8 397.5L521.1 394.8L520.3 393.7L524.1 391.1zM526.7 402.8L522.9 405.3L522.1 404.2L516.9 409.8L524.2 407.3L523.5 406.2L527.3 403.7zM529.8 415.4L526.0 417.9L525.2 416.8L520.0 422.5L527.3 420.0L526.6 418.9L530.4 416.3zM533.4 427.9L527.1 431.7L526.4 430.5L521.0 436.1L528.4 433.8L527.7 432.6L533.9 428.8zM537.1 440.3L527.1 445.6L526.5 444.4L520.8 449.6L528.3 447.8L527.7 446.6L537.6 441.3zM540.4 452.9L529.8 458.3L529.2 457.1L523.3 462.1L530.9 460.5L530.3 459.3L540.9 453.9zM464.2 109.5L467.6 115.1L466.4 115.8L471.9 121.2L469.6 113.8L468.5 114.5L465.1 108.9zM467.0 122.5L471.5 127.0L470.5 127.9L477.2 131.9L473.2 125.2L472.2 126.2L467.8 121.8zM470.2 135.2L474.7 139.5L473.7 140.5L480.4 144.3L476.4 137.7L475.4 138.7L470.9 134.4zM475.2 147.0L473.9 151.1L472.6 150.7L472.1 158.5L476.2 151.9L474.9 151.5L476.2 147.3zM478.7 159.7L476.7 163.3L475.5 162.6L473.6 170.1L478.8 164.5L477.6 163.8L479.6 160.2zM479.5 174.1L484.1 175.4L483.7 176.7L491.4 176.9L484.7 173.0L484.4 174.3L479.9 173.0zM482.7 186.9L487.2 187.7L487.0 189.0L494.7 188.5L487.6 185.3L487.4 186.6L482.9 185.8zM485.9 199.5L490.4 200.3L490.2 201.6L497.9 201.0L490.8 197.9L490.6 199.2L486.1 198.4zM488.9 212.3L494.4 212.8L494.2 214.1L501.9 213.0L494.6 210.4L494.5 211.7L489.0 211.2zM492.0 225.0L498.2 225.1L498.2 226.5L505.7 224.7L498.2 222.7L498.2 224.0L492.0 223.9zM495.5 236.0L499.1 240.4L498.1 241.2L504.3 245.8L501.0 238.8L500.0 239.7L496.3 235.3zM499.6 247.9L500.2 253.3L498.8 253.5L501.5 260.7L502.6 253.1L501.3 253.2L500.7 247.8zM502.8 260.5L503.2 265.9L501.8 266.0L504.2 273.4L505.6 265.8L504.3 265.8L503.9 260.4zM506.2 273.0L505.8 278.3L504.5 278.2L505.7 285.8L508.2 278.5L506.9 278.4L507.3 273.1zM510.4 285.8L507.6 289.5L506.5 288.7L503.6 295.9L509.6 291.0L508.5 290.2L511.3 286.4zM512.9 298.3L511.6 302.6L510.3 302.3L510.0 310.0L514.0 303.3L512.7 303.0L513.9 298.6zM515.8 311.0L515.1 315.4L513.8 315.2L514.6 322.9L517.6 315.7L516.2 315.5L516.9 311.1zM518.7 323.7L518.6 327.8L517.2 327.8L518.9 335.3L521.0 327.9L519.7 327.9L519.8 323.7zM521.2 336.8L522.5 339.7L521.3 340.3L526.2 346.2L524.7 338.7L523.5 339.3L522.2 336.4zM524.1 349.7L525.9 352.2L524.8 353.0L530.6 357.8L527.9 350.8L526.8 351.6L525.0 349.1zM528.0 361.5L528.1 365.7L526.8 365.8L528.9 373.2L530.6 365.7L529.2 365.7L529.1 361.5zM532.1 373.9L529.8 379.0L528.5 378.4L527.1 386.0L532.0 380.0L530.8 379.4L533.1 374.3zM535.7 386.6L532.3 390.9L531.2 390.1L528.0 397.2L534.2 392.5L533.1 391.6L536.6 387.3zM539.2 399.5L535.3 402.6L534.5 401.5L529.7 407.7L536.8 404.5L536.0 403.5L539.9 400.4zM542.5 412.2L538.0 415.3L537.2 414.2L532.2 420.1L539.4 417.3L538.6 416.2L543.1 413.1zM546.1 424.5L538.8 429.5L538.1 428.4L533.0 434.2L540.2 431.5L539.5 430.4L546.7 425.4zM549.3 437.0L541.5 442.5L540.7 441.4L535.6 447.2L542.9 444.5L542.1 443.4L549.9 438.0zM552.5 449.7L544.5 455.1L543.8 454.0L538.7 459.8L545.9 457.1L545.1 456.0L553.1 450.6zM480.4 106.3L472.3 110.0L471.7 108.8L465.6 113.6L473.3 112.2L472.7 111.0L480.8 107.3zM479.6 119.4L484.4 124.1L483.4 125.0L490.1 129.0L486.1 122.3L485.1 123.3L480.4 118.6zM482.7 132.1L487.6 136.4L486.7 137.4L493.6 140.8L489.2 134.5L488.3 135.5L483.4 131.3zM485.9 144.6L490.6 149.2L489.6 150.2L496.2 154.2L492.3 147.5L491.3 148.5L486.7 143.8zM489.0 157.1L493.9 162.2L492.9 163.1L499.5 167.2L495.6 160.5L494.7 161.4L489.8 156.4zM492.0 170.6L497.3 172.9L496.7 174.1L504.4 175.4L498.2 170.6L497.7 171.9L492.5 169.6zM495.3 183.7L499.9 184.6L499.7 185.9L507.4 185.5L500.4 182.2L500.1 183.5L495.5 182.6zM498.3 196.2L503.7 197.5L503.4 198.8L511.1 198.7L504.3 195.1L504.0 196.5L498.6 195.2zM501.0 208.1L509.3 212.3L508.7 213.5L516.2 215.3L510.4 210.2L509.8 211.4L501.5 207.1zM504.2 220.5L512.3 225.5L511.5 226.7L518.9 229.0L513.5 223.4L512.8 224.6L504.8 219.6zM508.4 232.2L511.2 238.5L510.0 239.1L514.7 245.2L513.4 237.6L512.2 238.1L509.4 231.8zM512.2 244.7L512.8 250.3L511.4 250.4L514.0 257.7L515.2 250.0L513.8 250.1L513.3 244.6zM515.4 257.3L515.8 262.8L514.5 262.9L517.1 270.2L518.3 262.6L516.9 262.7L516.5 257.2zM518.5 269.9L519.0 275.4L517.6 275.5L520.1 282.8L521.4 275.2L520.1 275.3L519.6 269.8zM521.9 282.6L521.8 287.3L520.4 287.3L522.2 294.8L524.2 287.4L522.9 287.3L523.0 282.6zM525.0 295.3L525.0 299.8L523.6 299.8L525.5 307.3L527.4 299.8L526.1 299.8L526.1 295.3zM528.1 307.9L528.1 312.4L526.8 312.4L528.6 319.9L530.6 312.4L529.2 312.4L529.2 307.9zM531.2 320.4L531.3 325.3L530.0 325.4L532.1 332.8L533.8 325.3L532.4 325.3L532.3 320.4zM534.1 333.0L534.9 338.8L533.6 339.0L536.5 346.1L537.4 338.4L536.0 338.6L535.2 332.8zM537.3 345.6L538.0 351.5L536.6 351.6L539.3 358.9L540.4 351.2L539.1 351.3L538.4 345.5zM541.2 358.0L539.8 364.0L538.5 363.7L538.7 371.5L542.2 364.5L540.9 364.2L542.2 358.2zM544.6 370.6L542.4 376.6L541.1 376.2L540.3 383.9L544.7 377.5L543.4 377.0L545.6 371.0zM547.8 383.2L545.5 389.3L544.2 388.8L543.4 396.5L547.8 390.1L546.5 389.6L548.8 383.6zM551.1 395.8L548.4 401.7L547.2 401.1L545.7 408.7L550.6 402.7L549.4 402.1L552.1 396.3zM555.0 408.6L549.9 413.9L548.9 413.0L545.1 419.7L551.6 415.6L550.7 414.7L555.8 409.4zM558.7 421.3L551.1 426.7L550.3 425.6L545.3 431.5L552.5 428.7L551.7 427.6L559.4 422.2zM561.9 433.9L554.1 439.3L553.3 438.2L548.3 444.1L555.5 441.4L554.7 440.2L562.5 434.8zM565.0 446.5L557.3 452.0L556.5 450.9L551.4 456.7L558.7 454.0L557.9 452.9L565.7 447.4zM493.7 104.4L483.3 103.6L483.4 102.2L475.8 103.5L483.1 106.0L483.2 104.7L493.6 105.5zM496.4 116.2L487.4 118.5L487.0 117.2L480.3 120.9L488.0 120.9L487.6 119.6L496.7 117.2zM495.4 128.7L500.2 134.0L499.2 134.9L505.7 139.2L502.0 132.3L501.0 133.3L496.2 127.9zM498.4 141.3L503.7 146.6L502.7 147.6L509.4 151.6L505.4 144.9L504.5 145.9L499.2 140.6zM501.6 154.0L506.9 159.3L505.9 160.2L512.6 164.2L508.6 157.5L507.6 158.5L502.3 153.2zM504.6 166.7L510.4 171.6L509.5 172.7L516.5 176.0L512.0 169.8L511.1 170.8L505.3 165.9zM507.5 179.8L514.9 183.5L514.3 184.7L521.8 186.4L516.0 181.3L515.4 182.5L508.0 178.8zM510.4 191.9L519.6 198.1L518.8 199.2L526.1 201.8L520.9 196.1L520.2 197.2L511.0 191.0zM513.5 204.4L522.9 211.0L522.1 212.1L529.3 214.8L524.3 209.0L523.5 210.1L514.1 203.5zM516.7 217.1L525.7 223.5L525.0 224.6L532.2 227.3L527.1 221.5L526.4 222.6L517.3 216.2zM520.6 229.1L525.3 236.2L524.1 237.0L529.8 242.2L527.3 234.9L526.2 235.6L521.6 228.5zM524.7 241.5L525.6 247.4L524.2 247.6L527.2 254.8L528.0 247.1L526.7 247.3L525.8 241.4zM528.0 254.2L528.5 259.7L527.1 259.8L529.7 267.1L530.9 259.5L529.6 259.6L529.1 254.1zM531.1 266.8L531.6 272.3L530.3 272.4L532.9 279.7L534.1 272.1L532.7 272.2L532.2 266.7zM534.4 279.5L534.5 284.3L533.2 284.3L535.2 291.8L537.0 284.2L535.6 284.3L535.5 279.4zM537.6 292.1L537.6 296.6L536.2 296.6L538.1 304.1L540.0 296.6L538.7 296.6L538.7 292.1zM540.7 304.7L540.7 309.3L539.4 309.3L541.3 316.8L543.2 309.3L541.8 309.3L541.8 304.7zM543.6 317.2L544.4 323.1L543.0 323.3L545.8 330.5L546.8 322.8L545.4 323.0L544.7 317.1zM546.7 329.8L547.8 336.2L546.4 336.4L549.6 343.5L550.2 335.7L548.9 336.0L547.8 329.6zM549.8 342.4L550.8 348.8L549.5 349.0L552.5 356.1L553.3 348.4L551.9 348.6L550.9 342.2zM553.7 354.8L552.6 361.2L551.2 360.9L551.8 368.6L555.0 361.6L553.7 361.4L554.8 355.0zM557.2 367.4L555.0 373.5L553.7 373.1L553.0 380.8L557.3 374.4L556.0 373.9L558.2 367.8zM560.4 380.0L558.1 386.2L556.9 385.7L556.1 393.4L560.4 387.0L559.2 386.5L561.4 380.4zM563.5 392.7L561.2 398.8L560.0 398.3L559.1 406.0L563.5 399.6L562.3 399.1L564.5 393.0zM567.2 405.3L563.2 411.4L562.1 410.7L559.6 418.0L565.3 412.8L564.1 412.0L568.1 405.9zM571.3 418.1L563.9 423.6L563.1 422.6L558.2 428.6L565.3 425.6L564.5 424.5L571.9 419.0zM574.5 430.8L566.7 436.2L566.0 435.1L560.9 441.0L568.1 438.2L567.4 437.1L575.1 431.7zM577.6 443.4L569.9 448.8L569.1 447.7L564.0 453.6L571.3 450.8L570.5 449.7L578.3 444.3zM506.3 101.2L495.9 100.3L496.0 99.0L488.3 100.2L495.6 102.8L495.8 101.4L506.2 102.3zM509.4 113.7L499.1 113.3L499.1 112.0L491.6 113.5L499.0 115.8L499.0 114.4L509.4 114.8zM508.5 124.7L511.4 132.7L510.1 133.2L514.5 139.6L513.7 131.9L512.4 132.3L509.6 124.3zM511.0 138.2L516.4 143.6L515.4 144.5L522.0 148.6L518.1 141.9L517.1 142.8L511.8 137.4zM514.1 150.8L519.6 156.2L518.7 157.2L525.4 161.1L521.3 154.4L520.4 155.4L514.9 150.0zM516.9 163.5L524.5 169.4L523.7 170.4L530.8 173.5L526.0 167.4L525.2 168.5L517.6 162.6zM519.9 176.2L528.5 182.1L527.7 183.2L534.9 185.9L529.9 180.1L529.1 181.2L520.6 175.3zM523.0 188.7L532.3 195.2L531.5 196.3L538.7 199.0L533.7 193.2L532.9 194.3L523.6 187.8zM526.1 201.3L535.5 207.9L534.7 209.0L541.9 211.7L536.9 205.9L536.1 207.0L526.7 200.4zM529.3 213.9L538.5 220.4L537.7 221.5L544.9 224.3L539.9 218.4L539.1 219.5L529.9 213.0zM532.6 226.3L540.6 233.5L539.7 234.5L546.5 238.2L542.3 231.7L541.3 232.7L533.4 225.4zM536.0 238.7L542.8 246.5L541.8 247.4L548.2 251.7L544.7 244.8L543.7 245.7L536.8 237.9zM539.6 251.1L543.9 258.8L542.8 259.4L548.1 265.1L546.1 257.6L544.9 258.2L540.6 250.5zM543.3 263.6L545.5 270.6L544.2 271.0L548.3 277.6L547.8 269.8L546.6 270.3L544.3 263.3zM546.8 276.2L547.5 281.9L546.2 282.1L548.9 289.3L549.9 281.7L548.6 281.8L547.9 276.1zM550.2 288.9L550.3 293.8L548.9 293.8L551.0 301.3L552.7 293.7L551.4 293.7L551.3 288.9zM553.2 301.5L553.6 306.8L552.2 306.9L554.6 314.2L556.0 306.6L554.7 306.7L554.3 301.4zM556.2 314.0L557.2 320.4L555.9 320.6L559.0 327.7L559.6 320.0L558.3 320.2L557.2 313.8zM559.3 326.6L560.4 333.0L559.1 333.3L562.2 340.3L562.8 332.6L561.5 332.8L560.4 326.4zM562.4 339.2L563.5 345.6L562.2 345.9L565.3 352.9L565.9 345.2L564.6 345.5L563.5 339.1zM566.0 351.7L565.8 358.2L564.4 358.1L566.0 365.7L568.2 358.3L566.9 358.2L567.1 351.8zM569.8 364.3L567.7 370.4L566.4 370.0L565.7 377.7L570.0 371.2L568.7 370.8L570.8 364.7zM573.0 376.9L570.7 383.0L569.5 382.6L568.7 390.2L573.0 383.9L571.8 383.4L574.0 377.3zM576.1 389.5L573.8 395.6L572.6 395.2L571.7 402.8L576.1 396.5L574.9 396.0L577.2 389.9zM519.0 98.1L508.2 97.3L508.3 96.0L500.7 97.3L508.0 99.7L508.1 98.4L518.9 99.2zM522.2 110.6L510.8 110.3L510.8 108.9L503.3 110.6L510.7 112.7L510.8 111.4L522.2 111.6zM525.0 122.4L514.5 125.3L514.2 124.0L507.5 127.9L515.2 127.7L514.9 126.4L525.3 123.4zM523.8 134.5L528.7 142.0L527.6 142.8L533.3 148.0L530.8 140.7L529.7 141.4L524.7 133.9zM526.4 147.7L533.8 153.8L532.9 154.8L539.9 158.2L535.4 151.9L534.5 152.9L527.2 146.8zM529.4 160.4L538.0 166.4L537.2 167.5L544.4 170.3L539.4 164.4L538.6 165.5L530.0 159.5zM532.5 173.0L541.1 179.0L540.4 180.1L547.6 182.9L542.5 177.0L541.8 178.1L533.2 172.1zM535.6 185.6L544.6 191.9L543.8 193.0L551.1 195.7L546.0 189.9L545.2 191.0L536.3 184.7zM538.7 198.1L548.1 204.7L547.3 205.8L554.6 208.6L549.5 202.7L548.7 203.8L539.3 197.2zM541.9 210.7L551.2 217.5L550.5 218.6L557.6 221.4L552.7 215.5L551.9 216.6L542.5 209.8zM544.9 223.3L554.8 230.4L554.0 231.5L561.2 234.4L556.2 228.5L555.4 229.5L545.6 222.4zM548.0 235.9L558.2 243.1L557.4 244.2L564.6 247.0L559.6 241.1L558.8 242.2L548.7 235.0zM551.2 248.5L561.3 255.7L560.5 256.8L567.7 259.6L562.7 253.7L561.9 254.8L551.8 247.6zM554.6 260.9L563.2 268.5L562.3 269.5L569.2 273.0L564.8 266.7L563.9 267.7L555.3 260.1zM558.6 273.1L562.6 280.7L561.4 281.3L566.5 287.1L564.7 279.6L563.5 280.2L559.6 272.6zM562.5 285.7L563.5 291.7L562.1 291.9L565.2 299.1L565.9 291.4L564.5 291.6L563.6 285.5zM565.7 298.3L566.5 304.3L565.2 304.5L568.0 311.6L568.9 304.0L567.6 304.1L566.8 298.2zM568.8 310.9L569.8 317.2L568.5 317.5L571.6 324.5L572.3 316.8L570.9 317.0L569.8 310.7zM571.9 323.5L573.0 329.9L571.7 330.1L574.8 337.2L575.4 329.5L574.1 329.7L573.0 323.3zM575.1 336.1L576.1 342.5L574.8 342.7L577.9 349.8L578.5 342.1L577.2 342.3L576.1 335.9zM531.8 94.8L519.4 94.4L519.5 93.1L511.9 94.7L519.4 96.9L519.4 95.5L531.8 95.9zM535.0 107.4L522.5 107.0L522.5 105.7L515.0 107.3L522.4 109.5L522.5 108.1L534.9 108.5zM538.1 120.0L525.7 119.8L525.8 118.5L518.2 120.3L525.7 122.3L525.7 120.9L538.1 121.1zM540.8 131.7L529.9 135.3L529.5 134.0L522.9 138.2L530.7 137.7L530.2 136.4L541.1 132.7zM539.1 144.1L546.4 151.9L545.4 152.8L551.9 157.0L548.2 150.2L547.2 151.1L539.9 143.4zM542.0 157.2L550.6 163.4L549.8 164.4L557.0 167.3L552.0 161.4L551.2 162.5L542.6 156.3zM545.1 169.8L553.9 176.0L553.1 177.1L560.3 179.9L555.3 174.0L554.5 175.1L545.8 168.9zM548.1 182.3L558.0 189.3L557.3 190.4L564.5 193.2L559.4 187.3L558.7 188.4L548.7 181.4zM551.2 194.9L561.3 202.0L560.5 203.1L567.8 205.9L562.7 200.0L562.0 201.1L551.8 194.0zM554.4 207.5L564.3 214.6L563.5 215.7L570.7 218.5L565.7 212.6L564.9 213.7L555.0 206.6zM557.5 220.1L567.6 227.3L566.8 228.4L574.0 231.2L569.0 225.3L568.2 226.4L558.1 219.2zM560.6 232.8L570.9 239.9L570.1 241.0L577.3 243.8L572.3 237.9L571.5 239.0L561.3 231.9zM563.8 245.4L574.0 252.5L573.2 253.6L580.4 256.4L575.4 250.5L574.6 251.6L564.4 244.5zM567.0 257.9L576.8 265.2L576.0 266.3L583.1 269.3L578.2 263.3L577.4 264.3L567.6 257.0zM570.6 270.2L577.7 278.0L576.7 278.9L583.2 283.2L579.5 276.4L578.5 277.3L571.4 269.5zM574.7 282.5L577.3 289.8L576.1 290.2L580.5 296.6L579.6 288.9L578.4 289.4L575.7 282.1zM544.4 91.7L532.0 91.3L532.0 90.0L524.4 91.6L531.9 93.8L531.9 92.4L544.4 92.8zM547.6 104.3L535.1 103.9L535.1 102.5L527.6 104.2L535.0 106.3L535.1 105.0L547.5 105.4zM550.7 116.9L538.2 116.6L538.3 115.3L530.7 117.0L538.2 119.1L538.2 117.7L550.7 118.0zM553.8 129.4L541.5 129.6L541.4 128.3L534.0 130.3L541.5 132.1L541.5 130.7L553.8 130.5zM556.8 141.5L544.9 143.6L544.7 142.2L537.6 145.4L545.3 146.0L545.1 144.7L557.0 142.6zM555.0 153.3L562.0 162.3L560.9 163.1L567.0 167.8L563.9 160.8L562.8 161.6L555.8 152.6zM557.6 166.5L567.4 173.6L566.6 174.7L573.8 177.6L568.8 171.6L568.0 172.7L558.2 165.6zM560.7 179.2L570.9 186.3L570.1 187.4L577.3 190.2L572.3 184.3L571.5 185.4L561.3 178.3zM563.8 191.8L574.0 198.9L573.3 200.0L580.5 202.8L575.4 196.9L574.7 198.0L564.4 190.9zM567.0 204.4L577.1 211.5L576.3 212.6L583.5 215.4L578.5 209.5L577.7 210.6L567.6 203.5zM570.1 217.0L580.2 224.1L579.4 225.2L586.6 228.1L581.6 222.2L580.8 223.3L570.8 216.1zM573.3 229.6L583.4 236.8L582.6 237.9L589.9 240.7L584.8 234.8L584.0 235.9L573.9 228.7zM557.0 88.4L544.5 88.4L544.5 87.0L537.0 88.9L544.5 90.8L544.5 89.5L557.0 89.5zM560.2 101.0L547.7 101.0L547.7 99.7L540.2 101.6L547.7 103.5L547.7 102.1L560.2 102.1zM563.3 113.7L550.8 113.6L550.8 112.3L543.3 114.2L550.8 116.1L550.8 114.7L563.3 114.8zM566.5 126.3L554.0 126.3L554.0 124.9L546.5 126.8L554.0 128.7L554.0 127.4L566.5 127.4zM569.6 138.9L557.1 138.9L557.1 137.6L549.6 139.5L557.1 141.4L557.1 140.0L569.6 140.0zM572.4 150.7L560.7 154.2L560.3 152.9L553.7 156.9L561.4 156.5L561.0 155.2L572.8 151.7zM570.2 163.2L579.8 170.9L579.0 172.0L586.0 175.2L581.4 169.0L580.5 170.1L570.9 162.4zM573.3 176.0L583.5 183.2L582.7 184.3L589.9 187.1L584.9 181.2L584.1 182.3L573.9 175.1zM572.8 97.9L560.3 97.9L560.3 96.5L552.8 98.4L560.3 100.3L560.3 99.0L572.8 99.0zM575.9 110.5L563.4 110.5L563.4 109.2L555.9 111.1L563.4 113.0L563.4 111.6L575.9 111.6zM579.1 123.1L566.6 123.1L566.6 121.8L559.1 123.7L566.6 125.6L566.6 124.2L579.1 124.2z"/>
</g>
<rect x="95.5" y="86.8" width="484.0" height="466.0" fill="none" stroke="#000" stroke-width="2"/>
<g stroke="#000" stroke-width="1.1"><line x1="95.4" y1="552.8" x2="93.5" y2="560.0"/><line x1="107.6" y1="552.8" x2="106.5" y2="557.1"/><line x1="119.7" y1="552.8" x2="118.7" y2="557.1"/><line x1="131.7" y1="552.8" x2="130.8" y2="557.1"/><line x1="143.7" y1="552.8" x2="142.8" y2="557.2"/><line x1="155.6" y1="552.8" x2="154.2" y2="560.1"/><line x1="167.4" y1="552.8" x2="166.7" y2="557.2"/><line x1="179.2" y1="552.8" x2="178.5" y2="557.2"/><line x1="191.0" y1="552.8" x2="190.3" y2="557.2"/><line x1="202.7" y1="552.8" x2="202.1" y2="557.2"/><line x1="214.3" y1="552.8" x2="213.4" y2="560.2"/><line x1="226.0" y1="552.8" x2="225.5" y2="557.2"/><line x1="237.6" y1="552.8" x2="237.1" y2="557.2"/><line x1="249.1" y1="552.8" x2="248.7" y2="557.2"/><line x1="260.7" y1="552.8" x2="260.3" y2="557.2"/><line x1="272.2" y1="552.8" x2="271.7" y2="560.2"/><line x1="283.7" y1="552.8" x2="283.4" y2="557.2"/><line x1="295.1" y1="552.8" x2="295.0" y2="557.2"/><line x1="306.6" y1="552.8" x2="306.5" y2="557.2"/><line x1="318.1" y1="552.8" x2="318.0" y2="557.2"/><line x1="329.5" y1="552.8" x2="329.5" y2="560.2"/><line x1="341.0" y1="552.8" x2="341.0" y2="557.2"/><line x1="352.4" y1="552.8" x2="352.6" y2="557.2"/><line x1="363.9" y1="552.8" x2="364.1" y2="557.2"/><line x1="375.4" y1="552.8" x2="375.6" y2="557.2"/><line x1="386.9" y1="552.8" x2="387.4" y2="560.2"/><line x1="398.4" y1="552.8" x2="398.7" y2="557.2"/><line x1="409.9" y1="552.8" x2="410.3" y2="557.2"/><line x1="421.5" y1="552.8" x2="422.0" y2="557.2"/><line x1="433.1" y1="552.8" x2="433.6" y2="557.2"/><line x1="444.7" y1="552.8" x2="445.7" y2="560.2"/><line x1="456.4" y1="552.8" x2="457.0" y2="557.2"/><line x1="468.1" y1="552.8" x2="468.8" y2="557.2"/><line x1="479.8" y1="552.8" x2="480.6" y2="557.2"/><line x1="491.6" y1="552.8" x2="492.4" y2="557.2"/><line x1="503.5" y1="552.8" x2="504.9" y2="560.1"/><line x1="515.4" y1="552.8" x2="516.3" y2="557.2"/><line x1="527.3" y1="552.8" x2="528.3" y2="557.1"/><line x1="539.4" y1="552.8" x2="540.4" y2="557.1"/><line x1="551.5" y1="552.8" x2="552.5" y2="557.1"/><line x1="563.6" y1="552.8" x2="565.5" y2="560.0"/><line x1="575.9" y1="552.8" x2="577.1" y2="557.1"/><line x1="172.5" y1="86.8" x2="174.0" y2="82.5"/><line x1="178.7" y1="86.8" x2="180.2" y2="82.5"/><line x1="184.9" y1="86.8" x2="187.3" y2="79.6"/><line x1="191.1" y1="86.8" x2="192.4" y2="82.5"/><line x1="197.2" y1="86.8" x2="198.5" y2="82.4"/><line x1="203.3" y1="86.8" x2="204.5" y2="82.4"/><line x1="209.3" y1="86.8" x2="210.5" y2="82.4"/><line x1="215.3" y1="86.8" x2="217.2" y2="79.5"/><line x1="221.2" y1="86.8" x2="222.3" y2="82.4"/><line x1="227.1" y1="86.8" x2="228.1" y2="82.4"/><line x1="233.0" y1="86.8" x2="234.0" y2="82.4"/><line x1="238.8" y1="86.8" x2="239.7" y2="82.3"/><line x1="244.7" y1="86.8" x2="246.1" y2="79.4"/><line x1="250.4" y1="86.8" x2="251.2" y2="82.3"/><line x1="256.2" y1="86.8" x2="256.9" y2="82.3"/><line x1="261.9" y1="86.8" x2="262.6" y2="82.3"/><line x1="267.6" y1="86.8" x2="268.3" y2="82.3"/><line x1="273.3" y1="86.8" x2="274.3" y2="79.3"/><line x1="279.0" y1="86.8" x2="279.5" y2="82.3"/><line x1="284.6" y1="86.8" x2="285.1" y2="82.3"/><line x1="290.3" y1="86.8" x2="290.7" y2="82.3"/><line x1="295.9" y1="86.8" x2="296.3" y2="82.3"/><line x1="301.5" y1="86.8" x2="302.0" y2="79.3"/><line x1="307.1" y1="86.8" x2="307.4" y2="82.3"/><line x1="312.7" y1="86.8" x2="312.9" y2="82.3"/><line x1="318.3" y1="86.8" x2="318.5" y2="82.3"/><line x1="323.9" y1="86.8" x2="324.0" y2="82.3"/><line x1="329.5" y1="86.8" x2="329.5" y2="79.2"/><line x1="335.1" y1="86.8" x2="335.1" y2="82.3"/><line x1="340.7" y1="86.8" x2="340.6" y2="82.3"/><line x1="346.3" y1="86.8" x2="346.1" y2="82.3"/><line x1="351.9" y1="86.8" x2="351.7" y2="82.3"/><line x1="357.5" y1="86.8" x2="357.0" y2="79.3"/><line x1="363.1" y1="86.8" x2="362.8" y2="82.3"/><line x1="368.8" y1="86.8" x2="368.4" y2="82.3"/><line x1="374.4" y1="86.8" x2="374.0" y2="82.3"/><line x1="380.1" y1="86.8" x2="379.6" y2="82.3"/><line x1="385.7" y1="86.8" x2="384.8" y2="79.3"/><line x1="391.4" y1="86.8" x2="390.8" y2="82.3"/><line x1="397.1" y1="86.8" x2="396.5" y2="82.3"/><line x1="402.9" y1="86.8" x2="402.1" y2="82.3"/><line x1="408.6" y1="86.8" x2="407.8" y2="82.3"/><line x1="414.4" y1="86.8" x2="413.0" y2="79.4"/><line x1="420.2" y1="86.8" x2="419.3" y2="82.3"/><line x1="426.1" y1="86.8" x2="425.1" y2="82.4"/><line x1="431.9" y1="86.8" x2="430.9" y2="82.4"/><line x1="437.8" y1="86.8" x2="436.8" y2="82.4"/><line x1="443.8" y1="86.8" x2="441.9" y2="79.5"/><line x1="449.8" y1="86.8" x2="448.6" y2="82.4"/><line x1="455.8" y1="86.8" x2="454.5" y2="82.4"/><line x1="461.8" y1="86.8" x2="460.6" y2="82.4"/><line x1="467.9" y1="86.8" x2="466.6" y2="82.5"/><line x1="474.1" y1="86.8" x2="471.8" y2="79.6"/><line x1="480.3" y1="86.8" x2="478.9" y2="82.5"/><line x1="486.6" y1="86.8" x2="485.1" y2="82.5"/><line x1="492.9" y1="86.8" x2="491.3" y2="82.5"/><line x1="499.3" y1="86.8" x2="497.7" y2="82.5"/><line x1="95.5" y1="541.6" x2="88.2" y2="539.7"/><line x1="95.5" y1="529.3" x2="91.1" y2="528.2"/><line x1="95.5" y1="517.2" x2="91.2" y2="516.1"/><line x1="95.5" y1="505.2" x2="91.2" y2="504.0"/><line x1="95.5" y1="493.3" x2="91.2" y2="492.1"/><line x1="95.5" y1="481.5" x2="88.3" y2="479.5"/><line x1="95.5" y1="469.7" x2="91.2" y2="468.5"/><line x1="95.5" y1="458.1" x2="91.2" y2="456.8"/><line x1="95.5" y1="446.5" x2="91.2" y2="445.2"/><line x1="95.5" y1="435.0" x2="91.2" y2="433.7"/><line x1="95.5" y1="423.5" x2="88.3" y2="421.4"/><line x1="95.5" y1="412.2" x2="91.2" y2="410.9"/><line x1="95.5" y1="400.9" x2="91.2" y2="399.5"/><line x1="95.5" y1="389.6" x2="91.2" y2="388.3"/><line x1="95.5" y1="378.4" x2="91.2" y2="377.1"/><line x1="95.5" y1="367.3" x2="88.4" y2="365.0"/><line x1="95.5" y1="356.2" x2="91.2" y2="354.8"/><line x1="95.5" y1="345.2" x2="91.2" y2="343.7"/><line x1="95.5" y1="334.1" x2="91.2" y2="332.7"/><line x1="95.5" y1="323.2" x2="91.2" y2="321.7"/><line x1="95.5" y1="312.2" x2="88.4" y2="309.8"/><line x1="95.5" y1="301.3" x2="91.3" y2="299.8"/><line x1="95.5" y1="290.4" x2="91.3" y2="288.9"/><line x1="95.5" y1="279.6" x2="91.3" y2="278.0"/><line x1="95.5" y1="268.7" x2="91.3" y2="267.2"/><line x1="95.5" y1="257.9" x2="88.5" y2="255.2"/><line x1="95.5" y1="247.1" x2="91.3" y2="245.5"/><line x1="95.5" y1="236.3" x2="91.3" y2="234.6"/><line x1="95.5" y1="225.5" x2="91.3" y2="223.8"/><line x1="95.5" y1="214.7" x2="91.3" y2="212.9"/><line x1="95.5" y1="203.8" x2="88.6" y2="200.9"/><line x1="95.5" y1="193.0" x2="91.4" y2="191.2"/><line x1="95.5" y1="182.1" x2="91.4" y2="180.4"/><line x1="95.5" y1="171.3" x2="91.4" y2="169.5"/><line x1="95.5" y1="160.4" x2="91.4" y2="158.5"/><line x1="95.5" y1="149.5" x2="88.7" y2="146.3"/><line x1="95.5" y1="138.5" x2="91.4" y2="136.6"/><line x1="95.5" y1="127.5" x2="91.4" y2="125.5"/><line x1="95.5" y1="116.4" x2="91.5" y2="114.4"/><line x1="95.5" y1="105.3" x2="91.5" y2="103.3"/><line x1="95.5" y1="94.1" x2="88.8" y2="90.7"/><line x1="579.5" y1="549.6" x2="583.8" y2="548.4"/><line x1="579.5" y1="537.3" x2="586.7" y2="535.2"/><line x1="579.5" y1="525.0" x2="583.8" y2="523.8"/><line x1="579.5" y1="512.8" x2="583.8" y2="511.6"/><line x1="579.5" y1="500.7" x2="583.8" y2="499.5"/><line x1="579.5" y1="488.7" x2="583.8" y2="487.5"/><line x1="579.5" y1="476.9" x2="586.7" y2="474.7"/><line x1="579.5" y1="465.0" x2="583.8" y2="463.7"/><line x1="579.5" y1="453.3" x2="583.8" y2="452.0"/><line x1="579.5" y1="441.7" x2="583.8" y2="440.3"/><line x1="579.5" y1="430.1" x2="583.8" y2="428.7"/><line x1="579.5" y1="418.6" x2="586.6" y2="416.3"/><line x1="579.5" y1="407.1" x2="583.8" y2="405.8"/><line x1="579.5" y1="395.8" x2="583.8" y2="394.3"/><line x1="579.5" y1="384.4" x2="583.8" y2="383.0"/><line x1="579.5" y1="373.2" x2="583.8" y2="371.7"/><line x1="579.5" y1="361.9" x2="586.6" y2="359.5"/><line x1="579.5" y1="350.8" x2="583.7" y2="349.3"/><line x1="579.5" y1="339.6" x2="583.7" y2="338.1"/><line x1="579.5" y1="328.5" x2="583.7" y2="327.0"/><line x1="579.5" y1="317.5" x2="583.7" y2="315.9"/><line x1="579.5" y1="306.4" x2="586.5" y2="303.8"/><line x1="579.5" y1="295.4" x2="583.7" y2="293.8"/><line x1="579.5" y1="284.5" x2="583.7" y2="282.8"/><line x1="579.5" y1="273.5" x2="583.7" y2="271.8"/><line x1="579.5" y1="262.5" x2="583.7" y2="260.9"/><line x1="579.5" y1="251.6" x2="586.4" y2="248.8"/><line x1="579.5" y1="240.7" x2="583.7" y2="238.9"/><line x1="579.5" y1="229.7" x2="583.6" y2="228.0"/><line x1="579.5" y1="218.8" x2="583.6" y2="217.0"/><line x1="579.5" y1="207.9" x2="583.6" y2="206.0"/><line x1="579.5" y1="196.9" x2="586.3" y2="193.8"/><line x1="579.5" y1="185.9" x2="583.6" y2="184.1"/><line x1="579.5" y1="174.9" x2="583.6" y2="173.0"/><line x1="579.5" y1="163.9" x2="583.6" y2="162.0"/><line x1="579.5" y1="152.9" x2="583.5" y2="150.9"/><line x1="579.5" y1="141.8" x2="586.2" y2="138.4"/><line x1="579.5" y1="130.6" x2="583.5" y2="128.6"/><line x1="579.5" y1="119.4" x2="583.5" y2="117.4"/><line x1="579.5" y1="108.2" x2="583.5" y2="106.1"/><line x1="579.5" y1="96.9" x2="583.4" y2="94.7"/><line x1="579.5" y1="85.5" x2="586.0" y2="81.8"/></g>
<g font-family="Liberation Sans, Arial, sans-serif" fill="#222"><text x="95.1" y="576.9" font-size="10.9" text-anchor="middle">100<tspan dy="-4.2" font-size="7.5">&#176;</tspan></text><text x="155.3" y="576.9" font-size="10.9" text-anchor="middle">105<tspan dy="-4.2" font-size="7.5">&#176;</tspan></text><text x="214.0" y="576.9" font-size="10.9" text-anchor="middle">110<tspan dy="-4.2" font-size="7.5">&#176;</tspan></text><text x="271.9" y="576.9" font-size="10.9" text-anchor="middle">115<tspan dy="-4.2" font-size="7.5">&#176;</tspan></text><text x="329.2" y="576.9" font-size="10.9" text-anchor="middle">120<tspan dy="-4.2" font-size="7.5">&#176;</tspan></text><text x="386.6" y="576.9" font-size="10.9" text-anchor="middle">125<tspan dy="-4.2" font-size="7.5">&#176;</tspan></text><text x="444.4" y="576.9" font-size="10.9" text-anchor="middle">130<tspan dy="-4.2" font-size="7.5">&#176;</tspan></text><text x="503.2" y="576.9" font-size="10.9" text-anchor="middle">135<tspan dy="-4.2" font-size="7.5">&#176;</tspan></text><text x="563.3" y="576.9" font-size="10.9" text-anchor="middle">140<tspan dy="-4.2" font-size="7.5">&#176;</tspan></text><text x="80.4" y="544.3" font-size="11.3" text-anchor="end">10<tspan dy="-4.4" font-size="7.5">&#176;</tspan></text><text x="80.4" y="484.2" font-size="11.3" text-anchor="end">15<tspan dy="-4.4" font-size="7.5">&#176;</tspan></text><text x="80.4" y="426.2" font-size="11.3" text-anchor="end">20<tspan dy="-4.4" font-size="7.5">&#176;</tspan></text><text x="80.4" y="370.0" font-size="11.3" text-anchor="end">25<tspan dy="-4.4" font-size="7.5">&#176;</tspan></text><text x="80.4" y="314.9" font-size="11.3" text-anchor="end">30<tspan dy="-4.4" font-size="7.5">&#176;</tspan></text><text x="80.4" y="260.6" font-size="11.3" text-anchor="end">35<tspan dy="-4.4" font-size="7.5">&#176;</tspan></text><text x="80.4" y="206.5" font-size="11.3" text-anchor="end">40<tspan dy="-4.4" font-size="7.5">&#176;</tspan></text><text x="80.4" y="152.2" font-size="11.3" text-anchor="end">45<tspan dy="-4.4" font-size="7.5">&#176;</tspan></text><text x="80.4" y="96.8" font-size="11.3" text-anchor="end">50<tspan dy="-4.4" font-size="7.5">&#176;</tspan></text></g>
<g font-family="Liberation Sans, Arial, sans-serif" font-size="10.6" fill="#222"><defs><linearGradient id="cb" x1="0" y1="0" x2="0" y2="1"><stop offset="0.0000" stop-color="rgb(255, 0, 0)"/><stop offset="0.1667" stop-color="rgb(255, 140, 0)"/><stop offset="0.3333" stop-color="rgb(255, 255, 0)"/><stop offset="0.5000" stop-color="rgb(0, 235, 0)"/><stop offset="0.6667" stop-color="rgb(0, 232, 255)"/><stop offset="0.8333" stop-color="rgb(55, 90, 250)"/><stop offset="1.0000" stop-color="rgb(240, 242, 255)"/></linearGradient></defs><rect x="611" y="229.3" width="11" height="267.3" fill="url(#cb)"/><line x1="611" y1="229.3" x2="629.6" y2="229.3" stroke="#444" stroke-width="1"/><text x="643.2" y="233.4" text-anchor="middle">70</text><line x1="611" y1="273.9" x2="629.6" y2="273.9" stroke="#444" stroke-width="1"/><text x="643.2" y="278.0" text-anchor="middle">50</text><line x1="611" y1="318.4" x2="629.6" y2="318.4" stroke="#444" stroke-width="1"/><text x="643.2" y="322.5" text-anchor="middle">35</text><line x1="611" y1="362.9" x2="629.6" y2="362.9" stroke="#444" stroke-width="1"/><text x="643.2" y="367.1" text-anchor="middle">15</text><line x1="611" y1="407.5" x2="629.6" y2="407.5" stroke="#444" stroke-width="1"/><text x="643.2" y="411.6" text-anchor="middle">5</text><line x1="611" y1="452.1" x2="629.6" y2="452.1" stroke="#444" stroke-width="1"/><text x="643.2" y="456.2" text-anchor="middle">1</text><line x1="611" y1="496.6" x2="629.6" y2="496.6" stroke="#444" stroke-width="1"/><text x="643.2" y="500.7" text-anchor="middle">0</text><rect x="611" y="229.3" width="11" height="267.3" fill="none" stroke="#000" stroke-width="2" rx="1.2"/><text x="601.6" y="221.7">&#956;g/m<tspan dy="-4.3" font-size="7.2">3</tspan></text></g>
<text y="32.5" font-family="IPAGothic, monospace" font-size="17.7" fill="#111"><tspan x="95.5">VENUS シミュレーション結果</tspan><tspan x="322.1">:</tspan><tspan x="339.8">P</tspan><tspan x="349.1">M</tspan><tspan x="359">2</tspan><tspan x="369.6">.</tspan><tspan x="375.1">5</tspan></text>
<text x="95.6" y="51.8" font-family="Liberation Sans, Arial, sans-serif" font-weight="bold" font-size="13.55" fill="#111">VENUS simulation result: PM2.5</text>
<text x="402.2" y="61.9" font-family="Liberation Sans, Arial, sans-serif" font-size="16.15" fill="#111">2026&#8722;03&#8722;18 06:00JST</text>
<text x="115" y="610.8" font-family="Noto Sans CJK JP, sans-serif" font-size="12.2" fill="#111">作成：国立環境研究所</text>
<text x="241.5" y="610.8" font-family="Liberation Sans, Arial, sans-serif" font-size="12.27" fill="#111">/ Created by National Institute for Environmental Studies, Japan.</text>
<svg x="95" y="600" width="600" height="40" overflow="hidden"><text x="493.5" y="25.5" text-anchor="end" font-family="Liberation Sans, Arial, sans-serif" font-weight="bold" font-size="12.29" fill="#111">&#169;2025 National Institute for Environmental Studies, Japan. CC BY&#8722;NC 4.0 International</text></svg>
</svg></body></html>
